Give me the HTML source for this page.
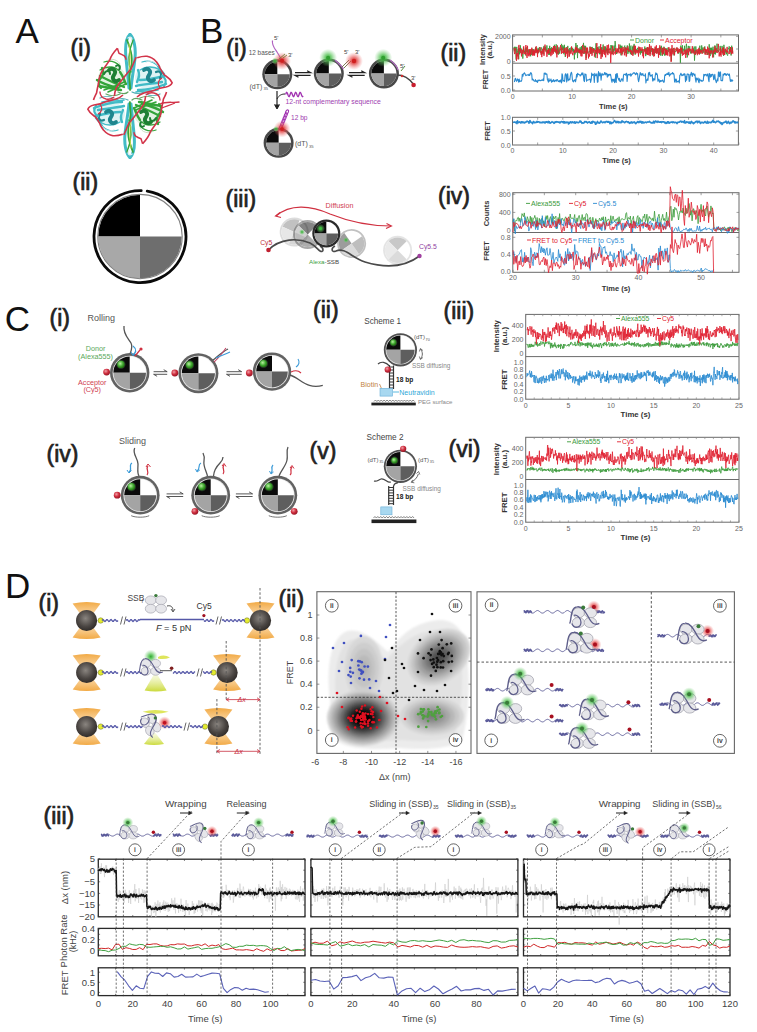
<!DOCTYPE html>
<html><head><meta charset="utf-8"><style>
html,body{margin:0;padding:0;background:#fff;overflow:hidden;}
svg{display:block;}
text{font-family:"Liberation Sans",sans-serif;}
</style></head><body>
<svg width="757" height="1032" viewBox="0 0 757 1032">
<defs>
<filter id="blur1" x="-20%" y="-20%" width="140%" height="140%"><feGaussianBlur stdDeviation="1.2"/></filter>
<radialGradient id="gG"><stop offset="0" stop-color="#2fa82f" stop-opacity="1"/><stop offset="0.35" stop-color="#4cc04c" stop-opacity="0.75"/><stop offset="1" stop-color="#7fd07f" stop-opacity="0"/></radialGradient>
<radialGradient id="gR"><stop offset="0" stop-color="#d01818" stop-opacity="1"/><stop offset="0.35" stop-color="#e04040" stop-opacity="0.75"/><stop offset="1" stop-color="#f08080" stop-opacity="0"/></radialGradient>
<radialGradient id="ball" cx="0.38" cy="0.35" r="0.7"><stop offset="0" stop-color="#f0a0a8"/><stop offset="0.5" stop-color="#d03040"/><stop offset="1" stop-color="#901020"/></radialGradient>
<radialGradient id="gball" cx="0.4" cy="0.38" r="0.65"><stop offset="0" stop-color="#b8f0a0"/><stop offset="0.6" stop-color="#40a830"/><stop offset="1" stop-color="#207010"/></radialGradient>
<radialGradient id="bead" cx="0.45" cy="0.4" r="0.65"><stop offset="0" stop-color="#8a8580"/><stop offset="0.6" stop-color="#4a4542"/><stop offset="1" stop-color="#2a2624"/></radialGradient>
<linearGradient id="coneT" x1="0" y1="0" x2="0" y2="1"><stop offset="0" stop-color="#f0a030" stop-opacity="0.9"/><stop offset="1" stop-color="#f8c070" stop-opacity="0.5"/></linearGradient>
<linearGradient id="coneB" x1="0" y1="1" x2="0" y2="0"><stop offset="0" stop-color="#f0a030" stop-opacity="0.9"/><stop offset="1" stop-color="#f8c070" stop-opacity="0.5"/></linearGradient>
<linearGradient id="ycone" x1="0" y1="1" x2="0" y2="0"><stop offset="0" stop-color="#c8d830" stop-opacity="0.95"/><stop offset="1" stop-color="#e8f0a0" stop-opacity="0.3"/></linearGradient>


<filter id="blur6" x="-50%" y="-50%" width="200%" height="200%"><feGaussianBlur stdDeviation="6"/></filter>
<filter id="blur3" x="-50%" y="-50%" width="200%" height="200%"><feGaussianBlur stdDeviation="3"/></filter>
<clipPath id="clipD2"><rect x="317.5" y="592.3" width="153" height="160.5"/></clipPath>
</defs>
<rect width="757" height="1032" fill="#fff"/>
<text x="15.6" y="42.5" font-size="35" fill="#111" text-anchor="start" font-weight="normal" >A</text>
<text x="70.5" y="56" font-size="23" fill="#222" text-anchor="start" font-weight="normal" stroke="#222" stroke-width="0.7">(i)</text>
<text x="72.5" y="189.5" font-size="23" fill="#222" text-anchor="start" font-weight="normal" stroke="#222" stroke-width="0.7">(ii)</text>
<circle cx="140" cy="236.6" r="41.8" fill="#fff"/>
<path d="M140,236.6 L98.2,236.6 A41.8,41.8 0 0 1 140,194.8 Z" fill="#000"/>
<path d="M140,236.6 L98.2,236.6 A41.8,41.8 0 0 0 140,278.4 Z" fill="#a8a8a8"/>
<path d="M140,236.6 L181.8,236.6 A41.8,41.8 0 0 1 140,278.4 Z" fill="#6e6e6e"/>
<circle cx="140" cy="236.6" r="42.199999999999996" fill="none" stroke="#808080" stroke-width="1.1"/>
<path d="M147.20,191.17 A46.0,46.0 0 1 1 141.20,190.62" fill="none" stroke="#0a0a0a" stroke-width="2.8" stroke-linecap="round"/>
<g opacity="0.95"><ellipse cx="112" cy="78" rx="14" ry="12" fill="#9ad49a" opacity="0.3"/><path d="M104,62 C110,60 116,62 120,66 M100,70 C106,66 114,66 118,70" fill="none" stroke="#2aa030" stroke-width="1.3" stroke-linecap="round" stroke-linejoin="round"/><path d="M118,92 C122,94 126,94 128,92 M106,94 C110,96 116,96 120,94" fill="none" stroke="#5aa05a" stroke-width="1.2" stroke-linecap="round" stroke-linejoin="round"/><path d="M97,80 C103,84 110,86 118,88 M99,86 C106,87 113,89 121,90 M100,76 C108,80 116,84 124,87" fill="none" stroke="#2aa030" stroke-width="2.4" stroke-linecap="round" stroke-linejoin="round"/><path d="M102,68 C104,72 103,76 100,79 M120,72 C123,76 124,80 126,84" fill="none" stroke="#2aa030" stroke-width="2.4" stroke-linecap="round" stroke-linejoin="round"/><path d="M104,90 C110,88 116,86 124,82 M108,92 L126,84" fill="none" stroke="#2aa030" stroke-width="1.6" stroke-linecap="round" stroke-linejoin="round"/><path d="M109,70 C113,67 117,71 114,75 C111,79 115,83 119,80" fill="none" stroke="#127a2a" stroke-width="3.8" stroke-linecap="round" stroke-linejoin="round"/><path d="M104,74 C106,70 110,70 110,74 M116,66 C119,64 121,67 119,70" fill="none" stroke="#127a2a" stroke-width="2.0" stroke-linecap="round" stroke-linejoin="round"/><path d="M108,60 C112,58 118,60 120,64" fill="none" stroke="#c8dcc0" stroke-width="1.0" stroke-linecap="round" stroke-linejoin="round"/><path d="M100,78 C98,82 99,86 101,88" fill="none" stroke="#2aa030" stroke-width="2.2" stroke-linecap="round" stroke-linejoin="round"/><ellipse cx="150" cy="78" rx="15" ry="12" fill="#8ad4dc" opacity="0.3"/><path d="M142,62 C148,60 154,62 158,66 M140,70 C146,66 154,66 160,70" fill="none" stroke="#38b8c4" stroke-width="1.3" stroke-linecap="round" stroke-linejoin="round"/><path d="M132,92 C136,94 140,94 144,92 M146,94 C150,96 156,96 160,94" fill="none" stroke="#4aa8b0" stroke-width="1.2" stroke-linecap="round" stroke-linejoin="round"/><path d="M136,86 C144,84 152,84 162,82 M138,90 C146,90 156,88 166,84 M140,80 C148,80 156,78 164,76" fill="none" stroke="#38b8c4" stroke-width="2.4" stroke-linecap="round" stroke-linejoin="round"/><path d="M138,70 C140,74 139,78 137,82 M158,66 C160,70 162,72 164,74" fill="none" stroke="#38b8c4" stroke-width="2.4" stroke-linecap="round" stroke-linejoin="round"/><path d="M136,92 C144,90 150,92 158,90" fill="none" stroke="#38b8c4" stroke-width="1.6" stroke-linecap="round" stroke-linejoin="round"/><path d="M144,70 C148,67 152,71 149,75 C146,79 150,83 154,80" fill="none" stroke="#148088" stroke-width="3.8" stroke-linecap="round" stroke-linejoin="round"/><path d="M156,72 C160,70 163,74 160,78" fill="none" stroke="#148088" stroke-width="2.2" stroke-linecap="round" stroke-linejoin="round"/><path d="M146,62 C150,60 156,62 158,66" fill="none" stroke="#c0e0e4" stroke-width="1.0" stroke-linecap="round" stroke-linejoin="round"/><path d="M162,76 C166,78 167,82 164,86" fill="none" stroke="#38b8c4" stroke-width="2.2" stroke-linecap="round" stroke-linejoin="round"/><path d="M130,34.5 C126,38 125,48 126,58 C127,68 128,78 129,88" fill="none" stroke="#38b8c4" stroke-width="3.0" stroke-linecap="round" stroke-linejoin="round"/><path d="M130,34.5 C134,38 136,48 135,58 C134,68 132,78 131,88" fill="none" stroke="#38b8c4" stroke-width="3.0" stroke-linecap="round" stroke-linejoin="round"/><path d="M127,40 C131,50 134,60 130,72 C128,80 131,86 130,90" fill="none" stroke="#2aa030" stroke-width="1.8" stroke-linecap="round" stroke-linejoin="round"/><path d="M133,40 C129,50 127,60 131,72" fill="none" stroke="#2aa030" stroke-width="1.5" stroke-linecap="round" stroke-linejoin="round"/><path d="M129,44 C130,52 131,60 129,70" fill="none" stroke="#d8d840" stroke-width="0.9" stroke-linecap="round" stroke-linejoin="round"/><path d="M128,38 C131,36 133,38 131,42" fill="none" stroke="#e0f0f0" stroke-width="1.2" stroke-linecap="round" stroke-linejoin="round"/><g transform="rotate(180 130 96)"><ellipse cx="112" cy="78" rx="14" ry="12" fill="#9ad49a" opacity="0.3"/><path d="M104,62 C110,60 116,62 120,66 M100,70 C106,66 114,66 118,70" fill="none" stroke="#2aa030" stroke-width="1.3" stroke-linecap="round" stroke-linejoin="round"/><path d="M118,92 C122,94 126,94 128,92 M106,94 C110,96 116,96 120,94" fill="none" stroke="#5aa05a" stroke-width="1.2" stroke-linecap="round" stroke-linejoin="round"/><path d="M97,80 C103,84 110,86 118,88 M99,86 C106,87 113,89 121,90 M100,76 C108,80 116,84 124,87" fill="none" stroke="#2aa030" stroke-width="2.4" stroke-linecap="round" stroke-linejoin="round"/><path d="M102,68 C104,72 103,76 100,79 M120,72 C123,76 124,80 126,84" fill="none" stroke="#2aa030" stroke-width="2.4" stroke-linecap="round" stroke-linejoin="round"/><path d="M104,90 C110,88 116,86 124,82 M108,92 L126,84" fill="none" stroke="#2aa030" stroke-width="1.6" stroke-linecap="round" stroke-linejoin="round"/><path d="M109,70 C113,67 117,71 114,75 C111,79 115,83 119,80" fill="none" stroke="#127a2a" stroke-width="3.8" stroke-linecap="round" stroke-linejoin="round"/><path d="M104,74 C106,70 110,70 110,74 M116,66 C119,64 121,67 119,70" fill="none" stroke="#127a2a" stroke-width="2.0" stroke-linecap="round" stroke-linejoin="round"/><path d="M108,60 C112,58 118,60 120,64" fill="none" stroke="#c8dcc0" stroke-width="1.0" stroke-linecap="round" stroke-linejoin="round"/><path d="M100,78 C98,82 99,86 101,88" fill="none" stroke="#2aa030" stroke-width="2.2" stroke-linecap="round" stroke-linejoin="round"/><ellipse cx="150" cy="78" rx="15" ry="12" fill="#8ad4dc" opacity="0.3"/><path d="M142,62 C148,60 154,62 158,66 M140,70 C146,66 154,66 160,70" fill="none" stroke="#38b8c4" stroke-width="1.3" stroke-linecap="round" stroke-linejoin="round"/><path d="M132,92 C136,94 140,94 144,92 M146,94 C150,96 156,96 160,94" fill="none" stroke="#4aa8b0" stroke-width="1.2" stroke-linecap="round" stroke-linejoin="round"/><path d="M136,86 C144,84 152,84 162,82 M138,90 C146,90 156,88 166,84 M140,80 C148,80 156,78 164,76" fill="none" stroke="#38b8c4" stroke-width="2.4" stroke-linecap="round" stroke-linejoin="round"/><path d="M138,70 C140,74 139,78 137,82 M158,66 C160,70 162,72 164,74" fill="none" stroke="#38b8c4" stroke-width="2.4" stroke-linecap="round" stroke-linejoin="round"/><path d="M136,92 C144,90 150,92 158,90" fill="none" stroke="#38b8c4" stroke-width="1.6" stroke-linecap="round" stroke-linejoin="round"/><path d="M144,70 C148,67 152,71 149,75 C146,79 150,83 154,80" fill="none" stroke="#148088" stroke-width="3.8" stroke-linecap="round" stroke-linejoin="round"/><path d="M156,72 C160,70 163,74 160,78" fill="none" stroke="#148088" stroke-width="2.2" stroke-linecap="round" stroke-linejoin="round"/><path d="M146,62 C150,60 156,62 158,66" fill="none" stroke="#c0e0e4" stroke-width="1.0" stroke-linecap="round" stroke-linejoin="round"/><path d="M162,76 C166,78 167,82 164,86" fill="none" stroke="#38b8c4" stroke-width="2.2" stroke-linecap="round" stroke-linejoin="round"/><path d="M130,34.5 C126,38 125,48 126,58 C127,68 128,78 129,88" fill="none" stroke="#38b8c4" stroke-width="3.0" stroke-linecap="round" stroke-linejoin="round"/><path d="M130,34.5 C134,38 136,48 135,58 C134,68 132,78 131,88" fill="none" stroke="#38b8c4" stroke-width="3.0" stroke-linecap="round" stroke-linejoin="round"/><path d="M127,40 C131,50 134,60 130,72 C128,80 131,86 130,90" fill="none" stroke="#2aa030" stroke-width="1.8" stroke-linecap="round" stroke-linejoin="round"/><path d="M133,40 C129,50 127,60 131,72" fill="none" stroke="#2aa030" stroke-width="1.5" stroke-linecap="round" stroke-linejoin="round"/><path d="M129,44 C130,52 131,60 129,70" fill="none" stroke="#d8d840" stroke-width="0.9" stroke-linecap="round" stroke-linejoin="round"/><path d="M128,38 C131,36 133,38 131,42" fill="none" stroke="#e0f0f0" stroke-width="1.2" stroke-linecap="round" stroke-linejoin="round"/></g><path d="M117.4,48.3 C114,52 111,56 109.8,59.8 C106,66 102,70 100.6,74.3 C99,78 98.6,80 98.6,82.3 C98,86 97,90 96.6,92.8 C95,96 94,98 93.5,100" fill="none" stroke="#d02a40" stroke-width="1.6" stroke-linejoin="round"/><path d="M117.4,48.3 C118,50 118.5,52 119,53.2 C121,54 123,55 124.3,55.9 C125.5,57 126,58 126,59.8" fill="none" stroke="#d02a40" stroke-width="1.5"/><path d="M136.2,57.2 C134,62 132.5,66 131,69 C128,72 126,75 124.3,77 C121,81 118,85 116.4,87.6 C115,91 114.5,94 114.4,96.1" fill="none" stroke="#d02a40" stroke-width="1.6"/><path d="M99.9,91.5 C100,95 102,98 106,99 C109,99.5 112,99 114,97" fill="none" stroke="#d02a40" stroke-width="1.4"/><path d="M137.2,57.7 C141,56.5 144,56 147,56.3 C151,57 154,59 156.3,61.7 C158,64 159.5,66 160,68 C161.5,71 163,73 164.3,74.9 C167,77 170,78 172.2,82.8 C171,85.5 168.5,86.5 166,87 C162,87.5 158,88.5 155,90 C151,91.5 147,92 144,93 C141,94 139,95 137,97" fill="none" stroke="#d02a40" stroke-width="1.6" stroke-linejoin="round"/><path d="M160,88 C157,84 158,80 162,78" fill="none" stroke="#d02a40" stroke-width="1.2"/><g transform="rotate(180 130 96)"><path d="M117.4,48.3 C114,52 111,56 109.8,59.8 C106,66 102,70 100.6,74.3 C99,78 98.6,80 98.6,82.3 C98,86 97,90 96.6,92.8 C95,96 94,98 93.5,100" fill="none" stroke="#d02a40" stroke-width="1.6" stroke-linejoin="round"/><path d="M117.4,48.3 C118,50 118.5,52 119,53.2 C121,54 123,55 124.3,55.9 C125.5,57 126,58 126,59.8" fill="none" stroke="#d02a40" stroke-width="1.5"/><path d="M136.2,57.2 C134,62 132.5,66 131,69 C128,72 126,75 124.3,77 C121,81 118,85 116.4,87.6 C115,91 114.5,94 114.4,96.1" fill="none" stroke="#d02a40" stroke-width="1.6"/><path d="M99.9,91.5 C100,95 102,98 106,99 C109,99.5 112,99 114,97" fill="none" stroke="#d02a40" stroke-width="1.4"/><path d="M137.2,57.7 C141,56.5 144,56 147,56.3 C151,57 154,59 156.3,61.7 C158,64 159.5,66 160,68 C161.5,71 163,73 164.3,74.9 C167,77 170,78 172.2,82.8 C171,85.5 168.5,86.5 166,87 C162,87.5 158,88.5 155,90 C151,91.5 147,92 144,93 C141,94 139,95 137,97" fill="none" stroke="#d02a40" stroke-width="1.6" stroke-linejoin="round"/><path d="M160,88 C157,84 158,80 162,78" fill="none" stroke="#d02a40" stroke-width="1.2"/></g><path d="M160,104 C166,101 172,103 179.5,102 M162,108 C167,106 171,105 175,103" fill="none" stroke="#d02a40" stroke-width="1.3"/></g>
<text x="200" y="42.5" font-size="35" fill="#111" text-anchor="start" font-weight="normal" >B</text>
<text x="226.3" y="56" font-size="23" fill="#222" text-anchor="start" font-weight="normal" stroke="#222" stroke-width="0.7">(i)</text>
<text x="440.5" y="61" font-size="23" fill="#222" text-anchor="start" font-weight="normal" stroke="#222" stroke-width="0.7">(ii)</text>
<text x="225.5" y="207" font-size="23" fill="#222" text-anchor="start" font-weight="normal" stroke="#222" stroke-width="0.7">(iii)</text>
<text x="438" y="204" font-size="23" fill="#222" text-anchor="start" font-weight="normal" stroke="#222" stroke-width="0.7">(iv)</text>
<g opacity="1.0" transform="rotate(0 277.3 74.3)"><circle cx="277.3" cy="74.3" r="15" fill="#484848"/><circle cx="277.3" cy="74.3" r="12.5" fill="#fff"/><path d="M277.3,74.3 L264.8,74.3 A12.5,12.5 0 0 1 277.3,61.8 Z" fill="#0b0b0b"/><path d="M277.3,74.3 L264.8,74.3 A12.5,12.5 0 0 0 277.3,86.8 Z" fill="#a4a4a4"/><path d="M277.3,74.3 L289.8,74.3 A12.5,12.5 0 0 1 277.3,86.8 Z" fill="#5e5e5e"/></g>
<g opacity="1.0" transform="rotate(0 328.8 73.6)"><circle cx="328.8" cy="73.6" r="15" fill="#484848"/><circle cx="328.8" cy="73.6" r="12.5" fill="#fff"/><path d="M328.8,73.6 L316.3,73.6 A12.5,12.5 0 0 1 328.8,61.099999999999994 Z" fill="#0b0b0b"/><path d="M328.8,73.6 L316.3,73.6 A12.5,12.5 0 0 0 328.8,86.1 Z" fill="#a4a4a4"/><path d="M328.8,73.6 L341.3,73.6 A12.5,12.5 0 0 1 328.8,86.1 Z" fill="#5e5e5e"/></g>
<g opacity="1.0" transform="rotate(0 383.9 73.6)"><circle cx="383.9" cy="73.6" r="15" fill="#484848"/><circle cx="383.9" cy="73.6" r="12.5" fill="#fff"/><path d="M383.9,73.6 L371.4,73.6 A12.5,12.5 0 0 1 383.9,61.099999999999994 Z" fill="#0b0b0b"/><path d="M383.9,73.6 L371.4,73.6 A12.5,12.5 0 0 0 383.9,86.1 Z" fill="#a4a4a4"/><path d="M383.9,73.6 L396.4,73.6 A12.5,12.5 0 0 1 383.9,86.1 Z" fill="#5e5e5e"/></g>
<g opacity="1.0" transform="rotate(0 278.6 142.8)"><circle cx="278.6" cy="142.8" r="15" fill="#484848"/><circle cx="278.6" cy="142.8" r="12.5" fill="#fff"/><path d="M278.6,142.8 L266.1,142.8 A12.5,12.5 0 0 1 278.6,130.3 Z" fill="#0b0b0b"/><path d="M278.6,142.8 L266.1,142.8 A12.5,12.5 0 0 0 278.6,155.3 Z" fill="#a4a4a4"/><path d="M278.6,142.8 L291.1,142.8 A12.5,12.5 0 0 1 278.6,155.3 Z" fill="#5e5e5e"/></g>
<text x="248.7" y="54.6" font-size="6.4" fill="#555" text-anchor="start" font-weight="normal" >12 bases</text>
<path d="M272.5,40.5 C271.5,45 275,49 277,52 C279,55 280,57 281,59" stroke="#b060c0" stroke-width="1.2" fill="none" />
<text x="274" y="40" font-size="6" fill="#444" text-anchor="start" font-weight="normal" >5'</text>
<text x="288" y="57" font-size="6" fill="#444" text-anchor="start" font-weight="normal" >3'</text>
<circle cx="282" cy="61" r="9" fill="url(#gR)" />
<circle cx="282" cy="60.5" r="2" fill="#d02020" />
<circle cx="275" cy="61" r="3.5" fill="url(#gG)" />
<path d="M279,59 L285,54 M283,58 L287,55" stroke="#6a8030" stroke-width="0.8" fill="none" />
<text x="249.5" y="88.5" font-size="7" fill="#555" text-anchor="start" font-weight="normal" >(dT)</text>
<text x="263.5" y="90" font-size="4.2" fill="#555" text-anchor="start" font-weight="normal" >35</text>
<path d="M295,72.7 L310.6,72.7 L307.1,70.7" fill="none" stroke="#222" stroke-width="1.3"/>
<path d="M310.6,75.3 L295,75.3 L298.5,77.3" fill="none" stroke="#222" stroke-width="1.3"/>
<path d="M349,72.7 L364.7,72.7 L361.2,70.7" fill="none" stroke="#222" stroke-width="1.3"/>
<path d="M364.7,75.3 L349,75.3 L352.5,77.3" fill="none" stroke="#222" stroke-width="1.3"/>
<circle cx="328.1" cy="57.8" r="9" fill="url(#gG)" />
<circle cx="328.1" cy="57.8" r="2" fill="#30a030" />
<path d="M335,60 C339,64 342,66 343.5,69" stroke="#b070c0" stroke-width="1.3" fill="none" />
<path d="M342,67 L349,60 M344,68 L351,61" stroke="#6a6a40" stroke-width="0.9" fill="none" />
<circle cx="354" cy="61" r="9" fill="url(#gR)" />
<circle cx="354" cy="61" r="2.2" fill="#d02020" />
<text x="344" y="54" font-size="6" fill="#444" text-anchor="start" font-weight="normal" >5'</text>
<text x="355" y="54" font-size="6" fill="#444" text-anchor="start" font-weight="normal" >3'</text>
<circle cx="383.2" cy="57.8" r="9" fill="url(#gG)" />
<circle cx="383.2" cy="57.8" r="2" fill="#30a030" />
<path d="M390,60 C394,63 397,66 398,70" stroke="#b070c0" stroke-width="1.3" fill="none" />
<path d="M397,75 C403,75 409,78 413.6,84.5" stroke="#444" stroke-width="1.3" fill="none" />
<circle cx="413.6" cy="85" r="2.3" fill="#c81e2e" />
<path d="M401,71 L405,66" stroke="#5a9040" stroke-width="1" fill="none" />
<circle cx="402" cy="76" r="1.2" fill="#d03030" />
<text x="400" y="68" font-size="6" fill="#444" text-anchor="start" font-weight="normal" >5'</text>
<text x="411" y="80" font-size="6" fill="#444" text-anchor="start" font-weight="normal" >3'</text>
<path d="M277,91 L277,108" stroke="#222" stroke-width="1.2" fill="none" />
<path d="M274.5,104.5 L277,109 L279.5,104.5" stroke="#222" stroke-width="1.0" fill="#222" />
<path d="M277,99 C279,95 282,94 285,94" stroke="#222" stroke-width="1.0" fill="none" />
<path d="M285.6,94.5 L285.6,94.5 L286.1,93.1 L286.6,92.3 L287.1,92.6 L287.6,93.7 L288.1,95.3 L288.6,96.4 L289.1,96.7 L289.6,95.9 L290.1,94.5 L290.6,93.1 L291.1,92.3 L291.6,92.6 L292.1,93.7 L292.6,95.3 L293.1,96.4 L293.6,96.7 L294.1,95.9 L294.6,94.5 L295.1,93.1 L295.6,92.3 L296.1,92.6 L296.6,93.7 L297.1,95.3 L297.6,96.4 L298.1,96.7 L298.6,95.9 L299.1,94.5 L299.6,93.1 L300.1,92.3 L300.6,92.6 L301.1,93.7 L301.6,95.3 L302.1,96.4 L302.6,96.7 L303.1,95.9" stroke="#a030b0" stroke-width="1.3" fill="none" />
<text x="285.6" y="103.8" font-size="6.8" fill="#a040b0" text-anchor="start" font-weight="normal" >12-nt complementary sequence</text>
<ellipse cx="281.0" cy="127" rx="2.2" ry="1.3" fill="none" stroke="#a030b0" stroke-width="1.1" transform="rotate(-60 281.0 127)"/>
<ellipse cx="282.2" cy="124" rx="2.2" ry="1.3" fill="none" stroke="#a030b0" stroke-width="1.1" transform="rotate(-60 282.2 124)"/>
<ellipse cx="283.4" cy="121" rx="2.2" ry="1.3" fill="none" stroke="#a030b0" stroke-width="1.1" transform="rotate(-60 283.4 121)"/>
<ellipse cx="284.6" cy="118" rx="2.2" ry="1.3" fill="none" stroke="#a030b0" stroke-width="1.1" transform="rotate(-60 284.6 118)"/>
<ellipse cx="285.8" cy="115" rx="2.2" ry="1.3" fill="none" stroke="#a030b0" stroke-width="1.1" transform="rotate(-60 285.8 115)"/>
<ellipse cx="287.0" cy="112" rx="2.2" ry="1.3" fill="none" stroke="#a030b0" stroke-width="1.1" transform="rotate(-60 287.0 112)"/>
<text x="291" y="120.3" font-size="6.6" fill="#a040b0" text-anchor="start" font-weight="normal" >12 bp</text>
<circle cx="282" cy="129" r="8.5" fill="url(#gR)" />
<circle cx="282" cy="129" r="1.8" fill="#d02020" />
<circle cx="276" cy="129" r="3" fill="url(#gG)" />
<text x="295" y="146" font-size="7" fill="#555" text-anchor="start" font-weight="normal" >(dT)</text>
<text x="309" y="147.5" font-size="4.2" fill="#555" text-anchor="start" font-weight="normal" >35</text>
<g opacity="0.25" transform="rotate(25 294.2 232)"><circle cx="294.2" cy="232" r="14.5" fill="#777"/><circle cx="294.2" cy="232" r="12.7" fill="#fff"/><path d="M294.2,232 L281.5,232 A12.7,12.7 0 0 1 294.2,219.3 Z" fill="#0b0b0b"/><path d="M294.2,232 L281.5,232 A12.7,12.7 0 0 0 294.2,244.7 Z" fill="#a4a4a4"/><path d="M294.2,232 L306.9,232 A12.7,12.7 0 0 1 294.2,244.7 Z" fill="#5e5e5e"/></g>
<g opacity="0.5" transform="rotate(45 307.6 234.5)"><circle cx="307.6" cy="234.5" r="14.5" fill="#555"/><circle cx="307.6" cy="234.5" r="12.5" fill="#fff"/><path d="M307.6,234.5 L295.1,234.5 A12.5,12.5 0 0 1 307.6,222.0 Z" fill="#0b0b0b"/><path d="M307.6,234.5 L295.1,234.5 A12.5,12.5 0 0 0 307.6,247.0 Z" fill="#a4a4a4"/><path d="M307.6,234.5 L320.1,234.5 A12.5,12.5 0 0 1 307.6,247.0 Z" fill="#5e5e5e"/></g>
<g opacity="0.4" transform="rotate(-35 351.6 243.5)"><circle cx="351.6" cy="243.5" r="14.5" fill="#666"/><circle cx="351.6" cy="243.5" r="12.7" fill="#fff"/><path d="M351.6,243.5 L338.90000000000003,243.5 A12.7,12.7 0 0 1 351.6,230.8 Z" fill="#0b0b0b"/><path d="M351.6,243.5 L338.90000000000003,243.5 A12.7,12.7 0 0 0 351.6,256.2 Z" fill="#a4a4a4"/><path d="M351.6,243.5 L364.3,243.5 A12.7,12.7 0 0 1 351.6,256.2 Z" fill="#5e5e5e"/></g>
<g opacity="0.22" transform="rotate(45 397.6 250.2)"><circle cx="397.6" cy="250.2" r="14.5" fill="#888"/><circle cx="397.6" cy="250.2" r="12.7" fill="#fff"/><path d="M397.6,250.2 L384.90000000000003,250.2 A12.7,12.7 0 0 1 397.6,237.5 Z" fill="#0b0b0b"/><path d="M397.6,250.2 L384.90000000000003,250.2 A12.7,12.7 0 0 0 397.6,262.9 Z" fill="#a4a4a4"/><path d="M397.6,250.2 L410.3,250.2 A12.7,12.7 0 0 1 397.6,262.9 Z" fill="#5e5e5e"/></g>
<path d="M268.5,250 C280,238 298,238 310,243 C316,246 318,250 320,251 C324,253 324,248 320,246" stroke="#4a4a4a" stroke-width="1.6" fill="none" />
<path d="M335,246 C331,248 331,253 336,251 C345,247 352,258 365,262 C385,268 405,267 419.5,256" stroke="#4a4a4a" stroke-width="1.6" fill="none" />
<g opacity="1.0" transform="rotate(0 326.3 233.5)"><circle cx="326.3" cy="233.5" r="14" fill="#2a2a2a"/><circle cx="326.3" cy="233.5" r="11.8" fill="#fff"/><path d="M326.3,233.5 L314.5,233.5 A11.8,11.8 0 0 1 326.3,221.7 Z" fill="#0b0b0b"/><path d="M326.3,233.5 L314.5,233.5 A11.8,11.8 0 0 0 326.3,245.3 Z" fill="#a4a4a4"/><path d="M326.3,233.5 L338.1,233.5 A11.8,11.8 0 0 1 326.3,245.3 Z" fill="#5e5e5e"/></g>
<circle cx="320.5" cy="228.5" r="4.5" fill="url(#gG)" />
<circle cx="320.5" cy="228.5" r="1.5" fill="#40c040" />
<circle cx="302" cy="232" r="3" fill="url(#gG)" />
<circle cx="346" cy="240" r="3" fill="url(#gG)" />
<circle cx="268.5" cy="250" r="2.3" fill="#c02030" />
<circle cx="419.5" cy="256" r="2.2" fill="#a040a0" />
<text x="260.2" y="245" font-size="6.8" fill="#c03040" text-anchor="start" font-weight="normal" >Cy5</text>
<text x="419" y="248.5" font-size="6.8" fill="#9040a0" text-anchor="start" font-weight="normal" >Cy5.5</text>
<text x="309" y="263.5" font-size="6.2" fill="#40a040" text-anchor="start" font-weight="normal" >Alexa</text>
<text x="324.6" y="263.5" font-size="6.2" fill="#444" text-anchor="start" font-weight="normal" >-SSB</text>
<path d="M276,216 C290,204 310,205 330,214 C350,222 370,226 391,226" stroke="#d03040" stroke-width="1.2" fill="none" />
<path d="M280,212.5 L275.5,216 L281,217.5" stroke="#d03040" stroke-width="1.1" fill="none" />
<path d="M386.5,223.5 L391.5,226 L386,228.5" stroke="#d03040" stroke-width="1.1" fill="none" />
<text x="325.6" y="208" font-size="7.2" fill="#d04050" text-anchor="start" font-weight="normal" >Diffusion</text>
<rect x="512.6" y="34.9" width="225.89999999999998" height="56.1" stroke="#6a6a6a" stroke-width="1.0" fill="none" />
<line x1="512.6" y1="63.2" x2="738.5" y2="63.2" stroke="#6a6a6a" stroke-width="1" />
<line x1="512.6" y1="91" x2="512.6" y2="88.5" stroke="#777" stroke-width="0.7" />
<line x1="512.6" y1="34.9" x2="512.6" y2="37.4" stroke="#777" stroke-width="0.7" />
<line x1="572.1" y1="91" x2="572.1" y2="88.5" stroke="#777" stroke-width="0.7" />
<line x1="572.1" y1="34.9" x2="572.1" y2="37.4" stroke="#777" stroke-width="0.7" />
<line x1="631.6" y1="91" x2="631.6" y2="88.5" stroke="#777" stroke-width="0.7" />
<line x1="631.6" y1="34.9" x2="631.6" y2="37.4" stroke="#777" stroke-width="0.7" />
<line x1="691.1" y1="91" x2="691.1" y2="88.5" stroke="#777" stroke-width="0.7" />
<line x1="691.1" y1="34.9" x2="691.1" y2="37.4" stroke="#777" stroke-width="0.7" />
<line x1="542.35" y1="91" x2="542.35" y2="88.5" stroke="#777" stroke-width="0.7" />
<line x1="542.35" y1="34.9" x2="542.35" y2="37.4" stroke="#777" stroke-width="0.7" />
<line x1="601.85" y1="91" x2="601.85" y2="88.5" stroke="#777" stroke-width="0.7" />
<line x1="601.85" y1="34.9" x2="601.85" y2="37.4" stroke="#777" stroke-width="0.7" />
<line x1="661.35" y1="91" x2="661.35" y2="88.5" stroke="#777" stroke-width="0.7" />
<line x1="661.35" y1="34.9" x2="661.35" y2="37.4" stroke="#777" stroke-width="0.7" />
<line x1="720.85" y1="91" x2="720.85" y2="88.5" stroke="#777" stroke-width="0.7" />
<line x1="720.85" y1="34.9" x2="720.85" y2="37.4" stroke="#777" stroke-width="0.7" />
<line x1="512.6" y1="36.3" x2="515.1" y2="36.3" stroke="#777" stroke-width="0.7" />
<line x1="738.5" y1="36.3" x2="736.0" y2="36.3" stroke="#777" stroke-width="0.7" />
<line x1="512.6" y1="49" x2="515.1" y2="49" stroke="#777" stroke-width="0.7" />
<line x1="738.5" y1="49" x2="736.0" y2="49" stroke="#777" stroke-width="0.7" />
<line x1="512.6" y1="61.7" x2="515.1" y2="61.7" stroke="#777" stroke-width="0.7" />
<line x1="738.5" y1="61.7" x2="736.0" y2="61.7" stroke="#777" stroke-width="0.7" />
<line x1="512.6" y1="76" x2="515.1" y2="76" stroke="#777" stroke-width="0.7" />
<line x1="738.5" y1="76" x2="736.0" y2="76" stroke="#777" stroke-width="0.7" />
<line x1="512.6" y1="90" x2="515.1" y2="90" stroke="#777" stroke-width="0.7" />
<line x1="738.5" y1="90" x2="736.0" y2="90" stroke="#777" stroke-width="0.7" />
<polyline points="514.0,47.1 514.3,51.3 514.6,46.8 514.9,50.1 515.3,47.1 515.6,46.9 515.9,54.3 516.2,59.6 516.5,48.2 516.8,46.9 517.1,53.3 517.4,52.1 517.8,50.9 518.1,48.9 518.4,48.7 518.7,59.2 519.0,49.7 519.3,48.1 519.6,54.3 519.9,52.2 520.3,45.3 520.6,48.1 520.9,52.7 521.2,51.1 521.5,48.7 521.8,49.6 522.1,50.1 522.4,50.7 522.8,58.6 523.1,53.3 523.4,47.6 523.7,49.2 524.0,52.8 524.3,53.0 524.6,50.7 525.0,52.3 525.3,48.5 525.6,55.4 525.9,52.5 526.2,47.3 526.5,50.7 526.8,52.2 527.1,50.0 527.5,51.2 527.8,50.4 528.1,53.8 528.4,53.2 528.7,49.5 529.0,50.9 529.3,51.6 529.6,50.3 530.0,52.0 530.3,52.4 530.6,56.3 530.9,50.9 531.2,50.8 531.5,50.1 531.8,55.1 532.1,48.8 532.5,54.0 532.8,49.5 533.1,49.6 533.4,50.3 533.7,49.3 534.0,52.3 534.3,50.9 534.6,51.5 535.0,51.0 535.3,49.9 535.6,47.1 535.9,52.9 536.2,48.9 536.5,48.6 536.8,51.0 537.2,51.3 537.5,50.3 537.8,53.7 538.1,47.8 538.4,52.4 538.7,49.0 539.0,52.1 539.3,48.3 539.7,47.0 540.0,48.7 540.3,49.4 540.6,49.6 540.9,53.3 541.2,47.4 541.5,47.8 541.8,48.9 542.2,50.3 542.5,49.6 542.8,50.8 543.1,54.3 543.4,53.0 543.7,49.3 544.0,45.9 544.3,49.8 544.7,48.3 545.0,50.3 545.3,47.1 545.6,46.8 545.9,50.7 546.2,52.1 546.5,51.9 546.9,45.4 547.2,50.0 547.5,51.8 547.8,50.9 548.1,52.9 548.4,48.3 548.7,54.8 549.0,50.9 549.4,54.6 549.7,45.8 550.0,54.6 550.3,50.5 550.6,48.2 550.9,51.6 551.2,50.1 551.5,47.3 551.9,48.3 552.2,50.4 552.5,50.6 552.8,51.2 553.1,52.1 553.4,46.7 553.7,49.8 554.0,51.7 554.4,44.8 554.7,50.0 555.0,48.9 555.3,52.4 555.6,48.9 555.9,52.1 556.2,44.3 556.5,51.4 556.9,54.3 557.2,49.9 557.5,48.5 557.8,53.5 558.1,49.8 558.4,54.6 558.7,47.5 559.1,47.2 559.4,51.5 559.7,53.7 560.0,51.1 560.3,50.6 560.6,48.9 560.9,49.4 561.2,45.4 561.6,43.9 561.9,50.6 562.2,48.1 562.5,49.9 562.8,45.3 563.1,49.6 563.4,46.6 563.7,53.7 564.1,54.3 564.4,44.8 564.7,51.2 565.0,53.3 565.3,57.0 565.6,51.5 565.9,51.3 566.2,47.1 566.6,53.2 566.9,51.6 567.2,52.1 567.5,49.3 567.8,45.9 568.1,52.2 568.4,49.6 568.8,51.8 569.1,52.3 569.4,55.8 569.7,48.0 570.0,53.1 570.3,52.5 570.6,52.4 570.9,47.5 571.3,49.7 571.6,48.8 571.9,50.0 572.2,48.2 572.5,47.8 572.8,51.4 573.1,48.8 573.4,52.1 573.8,49.0 574.1,52.1 574.4,59.4 574.7,50.6 575.0,54.4 575.3,51.6 575.6,47.9 575.9,43.0 576.3,52.5 576.6,51.3 576.9,48.0 577.2,45.0 577.5,58.1 577.8,49.7 578.1,50.3 578.4,52.7 578.8,48.6 579.1,51.0 579.4,51.6 579.7,49.0 580.0,47.3 580.3,47.2 580.6,50.9 581.0,54.3 581.3,50.6 581.6,46.2 581.9,51.5 582.2,46.2 582.5,53.0 582.8,52.6 583.1,47.5 583.5,42.9 583.8,50.1 584.1,53.9 584.4,48.0 584.7,45.7 585.0,53.4 585.3,50.7 585.6,45.9 586.0,52.4 586.3,58.2 586.6,50.9 586.9,49.8 587.2,49.7 587.5,52.0 587.8,53.0 588.1,51.7 588.5,52.2 588.8,52.1 589.1,51.8 589.4,51.5 589.7,52.3 590.0,46.5 590.3,47.3 590.6,49.3 591.0,54.0 591.3,47.5 591.6,52.6 591.9,49.3 592.2,46.9 592.5,49.4 592.8,49.7 593.2,52.8 593.5,48.2 593.8,50.5 594.1,50.3 594.4,49.7 594.7,48.5 595.0,53.5 595.3,57.7 595.7,49.7 596.0,43.3 596.3,51.3 596.6,54.1 596.9,48.7 597.2,51.7 597.5,47.0 597.8,47.7 598.2,50.8 598.5,48.9 598.8,47.8 599.1,46.3 599.4,52.5 599.7,54.3 600.0,49.0 600.3,53.8 600.7,47.4 601.0,49.7 601.3,54.2 601.6,47.4 601.9,47.0 602.2,56.0 602.5,49.5 602.9,46.4 603.2,44.5 603.5,51.3 603.8,51.9 604.1,48.8 604.4,52.1 604.7,53.5 605.0,46.8 605.4,52.6 605.7,46.5 606.0,49.1 606.3,51.2 606.6,48.5 606.9,49.0 607.2,51.8 607.5,53.7 607.9,48.8 608.2,53.2 608.5,51.4 608.8,49.1 609.1,49.7 609.4,49.4 609.7,49.5 610.0,48.3 610.4,49.9 610.7,47.8 611.0,45.0 611.3,47.8 611.6,45.9 611.9,52.1 612.2,45.4 612.5,53.9 612.9,48.7 613.2,52.2 613.5,49.0 613.8,51.4 614.1,45.5 614.4,49.0 614.7,50.6 615.1,41.1 615.4,44.1 615.7,47.5 616.0,53.3 616.3,51.6 616.6,54.0 616.9,52.4 617.2,49.3 617.6,49.2 617.9,50.3 618.2,52.1 618.5,50.5 618.8,47.7 619.1,48.8 619.4,47.6 619.7,48.8 620.1,44.7 620.4,47.7 620.7,45.9 621.0,55.3 621.3,46.1 621.6,49.1 621.9,45.7 622.2,52.9 622.6,53.7 622.9,51.1 623.2,51.8 623.5,51.2 623.8,50.1 624.1,47.6 624.4,46.8 624.8,45.6 625.1,50.8 625.4,48.1 625.7,52.9 626.0,47.5 626.3,50.1 626.6,55.5 626.9,47.0 627.3,45.4 627.6,48.7 627.9,53.9 628.2,49.2 628.5,52.0 628.8,48.3 629.1,52.4 629.4,43.5 629.8,50.5 630.1,49.4 630.4,54.2 630.7,46.3 631.0,45.6 631.3,52.8 631.6,53.8 631.9,54.8 632.3,50.1 632.6,46.7 632.9,52.5 633.2,45.7 633.5,49.8 633.8,54.4 634.1,43.9 634.5,51.5 634.8,48.8 635.1,54.6 635.4,54.4 635.7,52.9 636.0,48.8 636.3,50.0 636.6,49.9 637.0,51.2 637.3,49.7 637.6,47.9 637.9,48.0 638.2,52.1 638.5,50.0 638.8,49.9 639.1,50.5 639.5,47.3 639.8,52.4 640.1,53.3 640.4,54.5 640.7,49.0 641.0,51.2 641.3,52.6 641.6,49.8 642.0,53.2 642.3,49.4 642.6,51.1 642.9,49.2 643.2,53.2 643.5,51.8 643.8,51.3 644.1,49.4 644.5,50.8 644.8,46.5 645.1,50.0 645.4,48.5 645.7,56.1 646.0,48.4 646.3,54.4 646.7,48.3 647.0,49.9 647.3,47.2 647.6,51.5 647.9,49.9 648.2,51.4 648.5,48.1 648.8,49.7 649.2,46.9 649.5,50.0 649.8,54.3 650.1,50.2 650.4,54.0 650.7,50.9 651.0,47.6 651.3,50.6 651.7,51.7 652.0,48.8 652.3,50.0 652.6,48.4 652.9,55.6 653.2,52.5 653.5,52.1 653.8,48.9 654.2,54.2 654.5,50.4 654.8,49.2 655.1,51.5 655.4,47.7 655.7,51.0 656.0,51.7 656.4,50.3 656.7,53.3 657.0,48.3 657.3,52.6 657.6,52.5 657.9,49.6 658.2,51.5 658.5,54.6 658.9,51.8 659.2,47.8 659.5,52.0 659.8,54.8 660.1,46.8 660.4,49.2 660.7,55.6 661.0,48.5 661.4,45.8 661.7,52.4 662.0,49.4 662.3,55.9 662.6,51.1 662.9,48.0 663.2,51.3 663.5,54.2 663.9,46.7 664.2,50.5 664.5,55.5 664.8,54.8 665.1,53.8 665.4,55.2 665.7,48.3 666.0,52.0 666.4,48.5 666.7,52.2 667.0,53.5 667.3,53.1 667.6,51.6 667.9,47.7 668.2,49.0 668.6,51.8 668.9,50.5 669.2,48.9 669.5,50.0 669.8,49.3 670.1,53.0 670.4,53.1 670.7,53.8 671.1,51.8 671.4,61.1 671.7,48.5 672.0,52.6 672.3,52.0 672.6,50.2 672.9,50.9 673.2,49.7 673.6,48.1 673.9,55.4 674.2,52.9 674.5,53.3 674.8,51.9 675.1,51.2 675.4,50.8 675.7,51.8 676.1,50.9 676.4,47.8 676.7,48.7 677.0,49.3 677.3,49.2 677.6,48.5 677.9,53.1 678.2,50.0 678.6,53.6 678.9,51.3 679.2,50.6 679.5,49.2 679.8,50.3 680.1,52.4 680.4,62.8 680.8,45.6 681.1,51.9 681.4,50.4 681.7,47.8 682.0,53.2 682.3,45.2 682.6,50.1 682.9,51.8 683.3,49.8 683.6,48.8 683.9,49.1 684.2,51.3 684.5,45.8 684.8,50.9 685.1,49.6 685.4,51.4 685.8,54.7 686.1,46.1 686.4,43.8 686.7,47.3 687.0,48.9 687.3,57.4 687.6,52.1 687.9,51.1 688.3,45.9 688.6,47.7 688.9,50.1 689.2,48.4 689.5,47.3 689.8,46.3 690.1,51.1 690.5,53.3 690.8,53.4 691.1,50.2 691.4,53.3 691.7,51.9 692.0,52.3 692.3,50.9 692.6,50.6 693.0,50.1 693.3,48.4 693.6,50.4 693.9,53.2 694.2,46.5 694.5,60.6 694.8,54.5 695.1,50.1 695.5,54.7 695.8,46.4 696.1,51.9 696.4,52.0 696.7,51.6 697.0,53.3 697.3,50.9 697.6,53.1 698.0,54.2 698.3,50.1 698.6,49.5 698.9,50.9 699.2,50.2 699.5,50.8 699.8,45.7 700.1,53.9 700.5,49.3 700.8,51.4 701.1,50.7 701.4,52.0 701.7,45.4 702.0,51.8 702.3,53.1 702.7,47.6 703.0,48.6 703.3,50.4 703.6,51.0 703.9,52.9 704.2,47.0 704.5,49.9 704.8,46.4 705.2,54.0 705.5,48.9 705.8,50.7 706.1,52.3 706.4,51.8 706.7,52.8 707.0,51.4 707.3,54.9 707.7,52.3 708.0,53.5 708.3,53.4 708.6,50.0 708.9,54.9 709.2,44.3 709.5,50.7 709.8,51.3 710.2,56.1 710.5,47.8 710.8,53.6 711.1,54.2 711.4,47.7 711.7,51.6 712.0,48.5 712.4,54.4 712.7,54.2 713.0,46.7 713.3,53.8 713.6,57.3 713.9,49.6 714.2,50.0 714.5,54.1 714.9,45.4 715.2,46.0 715.5,54.4 715.8,48.7 716.1,48.0 716.4,51.7 716.7,52.1 717.0,43.7 717.4,49.8 717.7,51.4 718.0,50.2 718.3,52.1 718.6,50.5 718.9,50.2 719.2,50.4 719.5,49.2 719.9,48.6 720.2,45.9 720.5,54.9 720.8,50.8 721.1,51.2 721.4,51.7 721.7,48.5 722.0,45.9 722.4,47.7 722.7,53.1 723.0,47.6 723.3,53.4 723.6,55.9 723.9,44.8 724.2,48.4 724.6,55.0 724.9,53.8 725.2,51.2 725.5,48.8 725.8,52.4 726.1,50.2 726.4,54.0 726.7,52.3 727.1,54.9 727.4,55.4 727.7,55.7 728.0,50.1 728.3,48.2 728.6,48.7 728.9,48.8 729.2,46.3 729.6,51.0 729.9,50.0 730.2,52.3 730.5,47.3 730.8,52.8 731.1,55.5 731.4,50.2 731.7,45.7 732.1,49.2 732.4,52.8 732.7,51.4 733.0,51.4" fill="none" stroke="#3a9a3a" stroke-width="0.9" stroke-linejoin="round" />
<polyline points="514.0,47.8 514.3,52.1 514.6,54.1 514.9,51.7 515.3,50.3 515.6,48.3 515.9,53.3 516.2,53.8 516.5,60.8 516.8,53.3 517.1,56.5 517.4,54.6 517.8,52.9 518.1,59.3 518.4,47.9 518.7,45.7 519.0,44.9 519.3,49.0 519.6,50.5 519.9,51.5 520.3,48.0 520.6,52.2 520.9,53.0 521.2,52.4 521.5,56.4 521.8,49.7 522.1,51.5 522.4,53.9 522.8,51.7 523.1,49.9 523.4,52.1 523.7,46.3 524.0,54.2 524.3,53.5 524.6,53.6 525.0,52.0 525.3,54.3 525.6,52.5 525.9,45.0 526.2,52.5 526.5,54.5 526.8,56.7 527.1,57.9 527.5,45.8 527.8,53.5 528.1,55.7 528.4,53.4 528.7,53.2 529.0,56.4 529.3,49.2 529.6,54.9 530.0,54.6 530.3,49.1 530.6,54.7 530.9,54.7 531.2,52.7 531.5,50.2 531.8,47.7 532.1,51.4 532.5,55.5 532.8,53.6 533.1,49.8 533.4,54.8 533.7,51.1 534.0,55.8 534.3,50.5 534.6,55.3 535.0,48.9 535.3,48.7 535.6,48.3 535.9,53.2 536.2,46.2 536.5,52.2 536.8,49.1 537.2,49.2 537.5,57.1 537.8,50.6 538.1,50.6 538.4,50.0 538.7,52.7 539.0,51.0 539.3,50.2 539.7,50.1 540.0,47.4 540.3,51.1 540.6,52.0 540.9,53.2 541.2,55.0 541.5,51.2 541.8,57.1 542.2,50.7 542.5,49.5 542.8,53.5 543.1,50.2 543.4,47.5 543.7,51.5 544.0,55.8 544.3,52.9 544.7,52.4 545.0,44.6 545.3,50.5 545.6,49.4 545.9,49.1 546.2,51.5 546.5,52.0 546.9,56.8 547.2,54.8 547.5,50.2 547.8,53.4 548.1,50.2 548.4,53.5 548.7,48.6 549.0,50.0 549.4,50.2 549.7,49.6 550.0,53.3 550.3,52.1 550.6,53.5 550.9,56.2 551.2,53.2 551.5,48.9 551.9,54.8 552.2,54.8 552.5,47.9 552.8,52.4 553.1,51.9 553.4,53.7 553.7,46.0 554.0,51.0 554.4,51.4 554.7,49.8 555.0,46.0 555.3,47.8 555.6,51.4 555.9,49.5 556.2,53.3 556.5,50.5 556.9,57.4 557.2,49.2 557.5,45.5 557.8,48.6 558.1,53.5 558.4,52.2 558.7,52.2 559.1,51.9 559.4,51.7 559.7,50.1 560.0,48.2 560.3,47.3 560.6,45.2 560.9,49.6 561.2,49.4 561.6,53.8 561.9,47.5 562.2,51.1 562.5,52.3 562.8,53.0 563.1,51.4 563.4,52.9 563.7,53.1 564.1,49.4 564.4,52.5 564.7,47.9 565.0,49.1 565.3,48.5 565.6,56.1 565.9,53.7 566.2,52.5 566.6,53.6 566.9,48.3 567.2,47.1 567.5,58.2 567.8,49.1 568.1,51.7 568.4,51.2 568.8,53.9 569.1,56.9 569.4,54.6 569.7,54.9 570.0,50.2 570.3,53.0 570.6,53.4 570.9,53.8 571.3,52.2 571.6,46.4 571.9,50.7 572.2,53.4 572.5,52.8 572.8,55.2 573.1,53.2 573.4,52.8 573.8,52.8 574.1,51.0 574.4,52.8 574.7,50.0 575.0,52.9 575.3,47.7 575.6,49.1 575.9,50.5 576.3,46.6 576.6,52.2 576.9,52.3 577.2,50.5 577.5,49.6 577.8,48.2 578.1,51.1 578.4,52.2 578.8,50.3 579.1,51.6 579.4,53.3 579.7,49.3 580.0,51.4 580.3,52.9 580.6,49.4 581.0,56.2 581.3,50.3 581.6,52.9 581.9,56.4 582.2,54.7 582.5,52.2 582.8,44.9 583.1,50.7 583.5,53.6 583.8,52.3 584.1,52.1 584.4,50.6 584.7,47.1 585.0,52.8 585.3,51.3 585.6,51.7 586.0,60.0 586.3,53.4 586.6,47.6 586.9,54.1 587.2,52.2 587.5,47.7 587.8,50.1 588.1,53.2 588.5,58.4 588.8,53.4 589.1,56.0 589.4,56.6 589.7,53.9 590.0,47.0 590.3,48.4 590.6,53.7 591.0,50.2 591.3,47.4 591.6,50.6 591.9,55.8 592.2,55.1 592.5,52.0 592.8,48.9 593.2,51.7 593.5,48.4 593.8,50.8 594.1,50.0 594.4,56.6 594.7,53.7 595.0,52.3 595.3,51.1 595.7,49.8 596.0,53.0 596.3,52.2 596.6,47.5 596.9,43.1 597.2,58.1 597.5,50.3 597.8,47.4 598.2,53.3 598.5,52.1 598.8,50.1 599.1,49.0 599.4,51.0 599.7,52.8 600.0,50.9 600.3,50.0 600.7,44.1 601.0,58.9 601.3,53.5 601.6,48.8 601.9,51.3 602.2,57.1 602.5,50.2 602.9,53.5 603.2,54.1 603.5,50.2 603.8,50.7 604.1,46.1 604.4,52.1 604.7,54.8 605.0,50.2 605.4,55.8 605.7,57.3 606.0,52.8 606.3,53.2 606.6,49.0 606.9,50.0 607.2,45.1 607.5,50.6 607.9,55.1 608.2,50.7 608.5,44.6 608.8,48.1 609.1,51.0 609.4,53.2 609.7,53.3 610.0,48.8 610.4,50.2 610.7,62.8 611.0,54.6 611.3,51.6 611.6,54.3 611.9,54.1 612.2,51.3 612.5,46.2 612.9,46.3 613.2,55.1 613.5,53.2 613.8,52.8 614.1,51.4 614.4,53.2 614.7,53.1 615.1,53.9 615.4,54.5 615.7,47.9 616.0,50.8 616.3,52.2 616.6,50.3 616.9,50.6 617.2,48.4 617.6,52.6 617.9,53.3 618.2,51.6 618.5,51.8 618.8,44.4 619.1,50.6 619.4,52.1 619.7,53.1 620.1,53.4 620.4,48.3 620.7,52.5 621.0,53.1 621.3,51.0 621.6,48.1 621.9,55.3 622.2,50.3 622.6,52.1 622.9,46.9 623.2,49.7 623.5,51.1 623.8,49.2 624.1,50.1 624.4,55.3 624.8,51.1 625.1,47.1 625.4,52.9 625.7,53.6 626.0,55.4 626.3,56.6 626.6,48.2 626.9,49.7 627.3,48.7 627.6,50.0 627.9,46.3 628.2,48.3 628.5,51.2 628.8,49.7 629.1,51.4 629.4,50.5 629.8,50.4 630.1,50.5 630.4,49.9 630.7,52.4 631.0,50.0 631.3,52.2 631.6,54.6 631.9,51.3 632.3,52.1 632.6,51.5 632.9,55.9 633.2,50.1 633.5,48.9 633.8,50.4 634.1,45.6 634.5,48.2 634.8,52.6 635.1,49.9 635.4,45.8 635.7,53.9 636.0,52.2 636.3,51.2 636.6,49.9 637.0,52.8 637.3,50.3 637.6,52.7 637.9,52.7 638.2,52.5 638.5,56.5 638.8,46.6 639.1,52.2 639.5,52.1 639.8,52.7 640.1,47.2 640.4,48.9 640.7,49.6 641.0,50.9 641.3,50.2 641.6,49.5 642.0,47.3 642.3,50.5 642.6,49.0 642.9,56.3 643.2,52.2 643.5,58.2 643.8,52.0 644.1,49.2 644.5,49.8 644.8,51.6 645.1,49.9 645.4,53.6 645.7,48.6 646.0,49.2 646.3,53.9 646.7,53.8 647.0,53.3 647.3,47.0 647.6,55.0 647.9,51.9 648.2,47.6 648.5,54.8 648.8,55.2 649.2,50.0 649.5,44.1 649.8,52.2 650.1,56.1 650.4,50.4 650.7,50.9 651.0,45.8 651.3,48.4 651.7,49.9 652.0,48.2 652.3,54.8 652.6,49.0 652.9,53.6 653.2,48.7 653.5,50.3 653.8,56.6 654.2,54.7 654.5,55.9 654.8,51.5 655.1,46.6 655.4,53.1 655.7,51.5 656.0,47.3 656.4,45.3 656.7,53.5 657.0,53.9 657.3,49.1 657.6,51.7 657.9,49.1 658.2,48.0 658.5,57.7 658.9,52.0 659.2,54.7 659.5,52.1 659.8,45.3 660.1,49.8 660.4,49.6 660.7,47.7 661.0,50.2 661.4,52.1 661.7,51.2 662.0,51.5 662.3,54.9 662.6,47.8 662.9,51.4 663.2,49.7 663.5,53.5 663.9,50.1 664.2,47.4 664.5,48.9 664.8,50.3 665.1,48.7 665.4,53.8 665.7,49.0 666.0,55.3 666.4,49.7 666.7,54.8 667.0,50.0 667.3,51.2 667.6,55.4 667.9,55.7 668.2,50.4 668.6,47.4 668.9,48.0 669.2,47.6 669.5,51.2 669.8,56.4 670.1,55.1 670.4,55.5 670.7,48.6 671.1,61.9 671.4,52.7 671.7,55.5 672.0,45.1 672.3,52.0 672.6,48.9 672.9,54.3 673.2,51.5 673.6,51.9 673.9,52.1 674.2,47.8 674.5,55.3 674.8,51.0 675.1,50.3 675.4,48.9 675.7,48.9 676.1,49.6 676.4,50.0 676.7,51.2 677.0,47.3 677.3,50.3 677.6,53.4 677.9,49.9 678.2,48.5 678.6,52.4 678.9,49.9 679.2,52.3 679.5,49.0 679.8,50.0 680.1,50.7 680.4,47.5 680.8,48.0 681.1,53.6 681.4,47.8 681.7,49.8 682.0,48.7 682.3,55.7 682.6,54.1 682.9,51.4 683.3,54.9 683.6,53.6 683.9,52.7 684.2,54.1 684.5,52.6 684.8,49.8 685.1,52.1 685.4,55.6 685.8,57.9 686.1,49.9 686.4,53.2 686.7,54.5 687.0,48.7 687.3,51.1 687.6,50.5 687.9,52.7 688.3,51.0 688.6,55.2 688.9,48.0 689.2,51.2 689.5,49.8 689.8,51.3 690.1,49.3 690.5,50.4 690.8,49.4 691.1,48.8 691.4,53.1 691.7,53.0 692.0,51.4 692.3,46.2 692.6,49.3 693.0,53.4 693.3,49.0 693.6,51.7 693.9,50.5 694.2,52.8 694.5,54.6 694.8,54.9 695.1,53.8 695.5,51.2 695.8,54.1 696.1,50.9 696.4,50.0 696.7,50.8 697.0,49.4 697.3,55.2 697.6,54.5 698.0,49.3 698.3,50.6 698.6,53.5 698.9,47.8 699.2,49.4 699.5,54.5 699.8,50.3 700.1,50.3 700.5,51.0 700.8,52.9 701.1,51.4 701.4,49.9 701.7,52.8 702.0,53.8 702.3,52.9 702.7,53.3 703.0,49.9 703.3,49.7 703.6,51.4 703.9,48.7 704.2,48.9 704.5,47.3 704.8,50.4 705.2,54.8 705.5,49.0 705.8,51.6 706.1,49.4 706.4,51.5 706.7,49.7 707.0,54.9 707.3,52.5 707.7,46.6 708.0,51.1 708.3,50.8 708.6,52.6 708.9,48.1 709.2,58.3 709.5,51.1 709.8,53.9 710.2,53.7 710.5,51.1 710.8,50.5 711.1,50.6 711.4,52.4 711.7,50.5 712.0,53.0 712.4,54.5 712.7,57.5 713.0,55.8 713.3,50.4 713.6,53.4 713.9,51.9 714.2,52.6 714.5,51.2 714.9,46.1 715.2,49.9 715.5,51.9 715.8,51.4 716.1,48.5 716.4,51.5 716.7,52.7 717.0,51.5 717.4,52.7 717.7,52.6 718.0,50.3 718.3,43.9 718.6,47.3 718.9,50.9 719.2,56.4 719.5,52.6 719.9,52.3 720.2,55.1 720.5,47.6 720.8,55.4 721.1,56.6 721.4,51.7 721.7,52.3 722.0,50.8 722.4,51.8 722.7,48.4 723.0,54.6 723.3,47.5 723.6,47.3 723.9,55.1 724.2,50.6 724.6,54.9 724.9,50.5 725.2,48.8 725.5,50.8 725.8,50.4 726.1,50.8 726.4,50.9 726.7,52.2 727.1,46.9 727.4,52.5 727.7,51.4 728.0,51.3 728.3,52.6 728.6,53.3 728.9,52.9 729.2,54.0 729.6,52.1 729.9,49.0 730.2,52.1 730.5,47.0 730.8,52.0 731.1,50.2 731.4,54.2 731.7,51.9 732.1,53.5 732.4,47.4 732.7,51.2 733.0,53.7" fill="none" stroke="#e02030" stroke-width="0.9" stroke-linejoin="round" />
<polyline points="514.0,81.8 514.5,81.6 515.0,79.0 515.6,78.4 516.1,80.4 516.6,81.3 517.1,80.3 517.6,78.9 518.2,80.0 518.7,82.1 519.2,79.0 519.7,81.7 520.3,81.1 520.8,81.0 521.3,81.3 521.8,79.9 522.3,74.2 522.9,76.3 523.4,73.9 523.9,73.8 524.4,72.8 525.0,73.8 525.5,75.1 526.0,75.7 526.5,75.0 527.0,75.0 527.6,74.9 528.1,74.7 528.6,75.4 529.1,74.1 529.6,75.5 530.2,74.2 530.7,72.6 531.2,72.9 531.7,74.1 532.2,80.0 532.8,79.2 533.3,79.7 533.8,80.7 534.3,80.9 534.9,81.4 535.4,79.6 535.9,80.9 536.4,81.6 536.9,80.9 537.5,82.4 538.0,80.0 538.5,80.5 539.0,80.7 539.5,80.1 540.1,80.4 540.6,80.8 541.1,80.5 541.6,80.0 542.2,80.0 542.7,80.4 543.2,78.8 543.7,80.7 544.2,73.1 544.8,74.0 545.3,73.1 545.8,74.4 546.3,73.9 546.9,74.0 547.4,79.7 547.9,80.6 548.4,82.2 548.9,78.6 549.5,81.1 550.0,80.7 550.5,80.1 551.0,79.1 551.5,82.2 552.1,80.7 552.6,81.6 553.1,80.1 553.6,79.7 554.1,81.7 554.7,81.3 555.2,80.2 555.7,80.3 556.2,81.2 556.8,79.6 557.3,79.6 557.8,80.5 558.3,81.6 558.8,81.4 559.4,80.7 559.9,82.0 560.4,80.3 560.9,80.0 561.5,83.0 562.0,73.8 562.5,75.0 563.0,81.1 563.5,80.6 564.1,80.8 564.6,81.3 565.1,74.9 565.6,73.7 566.1,74.3 566.7,82.0 567.2,75.1 567.7,73.8 568.2,80.6 568.8,79.4 569.3,79.1 569.8,79.9 570.3,76.0 570.8,73.6 571.4,72.2 571.9,74.2 572.4,79.8 572.9,81.3 573.4,81.8 574.0,80.2 574.5,80.6 575.0,79.6 575.5,81.8 576.0,79.7 576.6,74.3 577.1,76.9 577.6,73.3 578.1,74.5 578.7,74.3 579.2,74.8 579.7,74.8 580.2,75.9 580.7,74.8 581.3,75.0 581.8,73.0 582.3,74.7 582.8,72.9 583.4,75.6 583.9,80.5 584.4,81.6 584.9,73.8 585.4,74.6 586.0,74.4 586.5,81.1 587.0,80.4 587.5,79.9 588.0,80.1 588.6,79.8 589.1,79.5 589.6,79.2 590.1,79.0 590.6,82.5 591.2,79.7 591.7,73.1 592.2,75.4 592.7,74.6 593.3,74.2 593.8,75.5 594.3,82.5 594.8,73.4 595.3,75.8 595.9,74.9 596.4,75.6 596.9,73.7 597.4,82.3 598.0,81.8 598.5,71.5 599.0,75.7 599.5,75.8 600.0,72.8 600.6,74.7 601.1,80.3 601.6,74.6 602.1,73.4 602.6,75.0 603.2,75.1 603.7,74.2 604.2,74.2 604.7,72.5 605.2,74.9 605.8,73.0 606.3,74.3 606.8,73.5 607.3,77.1 607.9,74.3 608.4,76.0 608.9,74.3 609.4,74.3 609.9,75.1 610.5,74.3 611.0,76.8 611.5,80.3 612.0,82.3 612.5,79.2 613.1,79.5 613.6,81.2 614.1,79.0 614.6,82.6 615.2,81.1 615.7,74.4 616.2,82.4 616.7,73.8 617.2,73.5 617.8,77.7 618.3,78.4 618.8,80.2 619.3,78.3 619.9,81.3 620.4,81.6 620.9,81.0 621.4,78.8 621.9,79.6 622.5,79.0 623.0,81.3 623.5,75.4 624.0,74.1 624.5,74.4 625.1,74.6 625.6,75.1 626.1,73.3 626.6,73.3 627.1,81.4 627.7,74.9 628.2,74.8 628.7,74.4 629.2,75.1 629.8,74.8 630.3,73.7 630.8,76.2 631.3,75.5 631.8,74.1 632.4,74.2 632.9,73.5 633.4,72.8 633.9,73.2 634.5,72.8 635.0,73.6 635.5,74.7 636.0,74.2 636.5,72.8 637.1,74.1 637.6,73.6 638.1,79.3 638.6,81.7 639.1,79.4 639.7,75.3 640.2,72.5 640.7,74.6 641.2,73.6 641.8,75.4 642.3,74.7 642.8,73.5 643.3,75.0 643.8,75.7 644.4,75.8 644.9,75.9 645.4,73.9 645.9,82.9 646.4,79.9 647.0,80.4 647.5,78.8 648.0,80.3 648.5,72.7 649.0,74.4 649.6,72.4 650.1,76.3 650.6,75.2 651.1,76.0 651.7,75.6 652.2,74.5 652.7,81.0 653.2,80.7 653.7,78.5 654.3,79.2 654.8,80.1 655.3,75.3 655.8,72.8 656.4,74.5 656.9,73.7 657.4,75.1 657.9,81.3 658.4,79.4 659.0,79.3 659.5,82.1 660.0,81.7 660.5,80.5 661.0,81.4 661.6,80.6 662.1,81.0 662.6,80.1 663.1,81.1 663.6,82.3 664.2,82.1 664.7,75.7 665.2,74.5 665.7,75.4 666.3,73.9 666.8,74.0 667.3,74.5 667.8,73.1 668.3,74.5 668.9,72.4 669.4,76.1 669.9,75.2 670.4,74.7 671.0,73.6 671.5,73.7 672.0,73.9 672.5,72.5 673.0,73.9 673.6,73.3 674.1,75.2 674.6,82.0 675.1,82.1 675.6,79.0 676.2,79.0 676.7,82.1 677.2,81.4 677.7,81.7 678.2,81.3 678.8,80.8 679.3,82.9 679.8,75.3 680.3,75.1 680.9,73.2 681.4,74.5 681.9,75.8 682.4,74.9 682.9,75.3 683.5,74.1 684.0,75.1 684.5,73.7 685.0,74.1 685.5,81.7 686.1,76.2 686.6,80.2 687.1,74.1 687.6,74.1 688.2,74.1 688.7,74.4 689.2,81.5 689.7,80.9 690.2,74.3 690.8,74.8 691.3,72.4 691.8,74.2 692.3,76.5 692.9,73.2 693.4,73.7 693.9,74.6 694.4,75.4 694.9,74.0 695.5,79.4 696.0,82.2 696.5,78.0 697.0,79.5 697.5,79.7 698.1,78.0 698.6,82.0 699.1,82.7 699.6,78.9 700.1,80.1 700.7,80.2 701.2,81.3 701.7,80.3 702.2,81.1 702.8,81.0 703.3,80.4 703.8,74.4 704.3,75.9 704.8,74.5 705.4,75.0 705.9,74.3 706.4,75.1 706.9,76.1 707.5,74.4 708.0,73.8 708.5,79.7 709.0,81.6 709.5,73.5 710.1,74.8 710.6,77.1 711.1,74.6 711.6,76.3 712.1,74.3 712.7,74.2 713.2,75.0 713.7,79.6 714.2,77.8 714.8,74.3 715.3,79.7 715.8,80.7 716.3,82.7 716.8,81.2 717.4,78.8 717.9,81.0 718.4,72.4 718.9,71.9 719.4,76.7 720.0,73.3 720.5,71.9 721.0,80.4 721.5,80.3 722.0,81.0 722.6,80.3 723.1,74.1 723.6,75.3 724.1,74.1 724.7,73.5 725.2,74.7 725.7,73.7 726.2,75.5 726.7,74.4 727.3,74.1 727.8,73.8 728.3,75.0 728.8,75.4 729.4,74.0 729.9,78.1 730.4,81.4 730.9,79.7 731.4,81.2 732.0,79.8 732.5,81.0 733.0,80.2" fill="none" stroke="#2a8ad0" stroke-width="1.1" stroke-linejoin="round" />
<text x="510.6" y="38.8" font-size="7" fill="#666" text-anchor="end" font-weight="normal" >2000</text>
<text x="510.6" y="64.2" font-size="7" fill="#666" text-anchor="end" font-weight="normal" >0</text>
<text x="510.6" y="78.5" font-size="7" fill="#666" text-anchor="end" font-weight="normal" >0.5</text>
<text x="510.6" y="92.5" font-size="7" fill="#666" text-anchor="end" font-weight="normal" >0.0</text>
<text x="512.6" y="98.6" font-size="7" fill="#666" text-anchor="middle" font-weight="normal" >0</text>
<text x="572.1" y="98.6" font-size="7" fill="#666" text-anchor="middle" font-weight="normal" >10</text>
<text x="631.6" y="98.6" font-size="7" fill="#666" text-anchor="middle" font-weight="normal" >20</text>
<text x="691.1" y="98.6" font-size="7" fill="#666" text-anchor="middle" font-weight="normal" >30</text>
<text x="613.3" y="108.8" font-size="7.5" fill="#333" text-anchor="middle" font-weight="bold" >Time (s)</text>
<text x="0" y="0" font-size="7.5" fill="#333" text-anchor="middle" font-weight="bold" transform="translate(484.5,49.6) rotate(-90)">Intensity</text>
<text x="0" y="0" font-size="7.5" fill="#333" text-anchor="middle" font-weight="bold" transform="translate(491.5,49.6) rotate(-90)">(a.u.)</text>
<text x="0" y="0" font-size="7.5" fill="#333" text-anchor="middle" font-weight="bold" transform="translate(488,79.5) rotate(-90)">FRET</text>
<line x1="630" y1="40" x2="634" y2="40" stroke="#3a9a3a" stroke-width="0.9" />
<text x="635" y="42.5" font-size="7" fill="#3a9a3a" text-anchor="start" font-weight="normal" >Donor</text>
<line x1="660" y1="40" x2="664" y2="40" stroke="#e02030" stroke-width="0.9" />
<text x="665" y="42.5" font-size="7" fill="#e02030" text-anchor="start" font-weight="normal" >Acceptor</text>
<rect x="512.5" y="117.3" width="225.89999999999998" height="27.700000000000003" stroke="#6a6a6a" stroke-width="1.0" fill="none" />
<line x1="512.5" y1="145" x2="512.5" y2="142.5" stroke="#777" stroke-width="0.7" />
<line x1="512.5" y1="117.3" x2="512.5" y2="119.8" stroke="#777" stroke-width="0.7" />
<line x1="562.8" y1="145" x2="562.8" y2="142.5" stroke="#777" stroke-width="0.7" />
<line x1="562.8" y1="117.3" x2="562.8" y2="119.8" stroke="#777" stroke-width="0.7" />
<line x1="613.1" y1="145" x2="613.1" y2="142.5" stroke="#777" stroke-width="0.7" />
<line x1="613.1" y1="117.3" x2="613.1" y2="119.8" stroke="#777" stroke-width="0.7" />
<line x1="663.4" y1="145" x2="663.4" y2="142.5" stroke="#777" stroke-width="0.7" />
<line x1="663.4" y1="117.3" x2="663.4" y2="119.8" stroke="#777" stroke-width="0.7" />
<line x1="713.7" y1="145" x2="713.7" y2="142.5" stroke="#777" stroke-width="0.7" />
<line x1="713.7" y1="117.3" x2="713.7" y2="119.8" stroke="#777" stroke-width="0.7" />
<line x1="537.65" y1="145" x2="537.65" y2="142.5" stroke="#777" stroke-width="0.7" />
<line x1="537.65" y1="117.3" x2="537.65" y2="119.8" stroke="#777" stroke-width="0.7" />
<line x1="587.9499999999999" y1="145" x2="587.9499999999999" y2="142.5" stroke="#777" stroke-width="0.7" />
<line x1="587.9499999999999" y1="117.3" x2="587.9499999999999" y2="119.8" stroke="#777" stroke-width="0.7" />
<line x1="638.25" y1="145" x2="638.25" y2="142.5" stroke="#777" stroke-width="0.7" />
<line x1="638.25" y1="117.3" x2="638.25" y2="119.8" stroke="#777" stroke-width="0.7" />
<line x1="688.55" y1="145" x2="688.55" y2="142.5" stroke="#777" stroke-width="0.7" />
<line x1="688.55" y1="117.3" x2="688.55" y2="119.8" stroke="#777" stroke-width="0.7" />
<line x1="738.85" y1="145" x2="738.85" y2="142.5" stroke="#777" stroke-width="0.7" />
<line x1="738.85" y1="117.3" x2="738.85" y2="119.8" stroke="#777" stroke-width="0.7" />
<line x1="512.5" y1="131" x2="515.0" y2="131" stroke="#777" stroke-width="0.7" />
<line x1="738.4" y1="131" x2="735.9" y2="131" stroke="#777" stroke-width="0.7" />
<polyline points="513.0,122.4 513.5,122.3 514.0,122.3 514.5,122.0 515.0,122.3 515.5,122.3 516.0,122.9 516.5,121.9 517.0,123.6 517.5,120.9 518.0,121.9 518.5,122.7 519.0,122.3 519.5,121.9 520.0,122.1 520.5,122.7 521.0,123.1 521.5,121.7 522.0,122.2 522.5,121.9 523.0,122.8 523.5,122.1 524.0,122.3 524.5,122.9 525.0,122.3 525.5,122.4 526.0,121.8 526.5,122.0 527.0,121.0 527.5,121.4 528.0,121.7 528.5,121.7 529.0,123.3 529.5,121.2 530.0,120.6 530.5,121.9 531.0,122.5 531.5,122.4 532.0,122.9 532.5,123.7 533.0,122.4 533.5,121.5 534.0,121.9 534.5,122.8 535.0,122.7 535.5,122.2 536.0,122.4 536.5,122.4 537.0,121.3 537.5,122.2 538.0,121.7 538.5,121.9 539.0,121.8 539.5,122.2 540.0,122.8 540.5,122.3 541.0,122.3 541.5,122.8 542.0,122.7 542.5,122.0 543.0,122.6 543.5,122.1 544.0,122.0 544.5,122.3 545.0,123.1 545.5,122.0 546.0,121.9 546.5,122.2 547.0,121.7 547.5,122.2 548.0,122.9 548.5,121.4 549.0,122.0 549.5,121.8 550.0,123.3 550.5,122.9 551.0,122.8 551.5,122.3 552.0,121.7 552.5,122.1 553.0,122.4 553.5,122.3 554.0,123.3 554.5,123.0 555.0,121.9 555.5,121.9 556.0,122.3 556.5,121.6 557.0,121.9 557.5,121.8 558.0,122.2 558.5,122.3 559.0,121.9 559.5,122.9 560.0,122.1 560.5,122.6 561.0,121.7 561.5,121.5 562.0,121.7 562.5,121.8 563.0,122.6 563.5,121.5 564.0,123.0 564.5,121.8 565.0,123.0 565.5,122.6 566.0,122.1 566.5,122.7 567.0,122.1 567.5,122.2 568.0,122.3 568.5,123.9 569.0,122.2 569.5,123.3 570.0,122.4 570.5,121.9 571.0,121.9 571.5,122.9 572.0,122.3 572.5,121.8 573.0,122.5 573.5,122.5 574.0,122.9 574.5,121.8 575.0,123.0 575.5,123.2 576.0,122.1 576.5,122.0 577.0,122.4 577.5,122.2 578.0,122.7 578.5,122.7 579.0,122.4 579.5,121.6 580.0,120.9 580.5,122.0 581.0,121.4 581.5,122.6 582.0,123.4 582.5,122.7 583.0,122.9 583.5,123.1 584.0,123.0 584.5,121.8 585.0,121.5 585.5,121.7 586.0,122.1 586.5,121.7 587.0,122.2 587.5,123.0 588.0,122.2 588.5,122.2 589.0,121.7 589.5,122.0 590.0,122.7 590.5,123.1 591.0,122.6 591.5,121.9 592.0,123.3 592.5,121.4 593.0,121.7 593.5,121.6 594.0,122.1 594.5,122.5 595.0,122.1 595.5,124.3 596.0,124.0 596.5,123.3 597.0,122.3 597.5,121.4 598.0,122.7 598.5,122.9 599.0,122.7 599.5,123.2 600.0,122.8 600.5,121.6 601.0,121.0 601.5,121.6 602.0,122.1 602.5,122.6 603.0,122.5 603.5,122.2 604.0,121.8 604.5,122.4 605.0,122.7 605.5,122.1 606.0,121.6 606.5,121.8 607.0,121.5 607.5,122.2 608.0,121.5 608.5,122.2 609.0,121.7 609.5,122.4 610.0,123.7 610.5,122.0 611.0,122.2 611.5,123.6 612.0,123.2 612.5,122.6 613.0,122.7 613.5,122.2 614.0,121.4 614.5,120.5 615.0,121.3 615.5,121.6 616.0,122.7 616.5,122.5 617.0,121.4 617.5,122.3 618.0,121.5 618.5,122.7 619.0,121.8 619.5,122.6 620.0,122.4 620.5,122.0 621.0,122.8 621.5,122.3 622.0,120.8 622.5,122.0 623.0,121.6 623.5,121.8 624.0,122.2 624.5,122.7 625.0,122.5 625.5,121.7 626.0,121.6 626.5,121.4 627.0,121.8 627.5,121.7 628.0,122.5 628.5,121.9 629.0,122.7 629.5,123.4 630.0,122.9 630.5,122.3 631.0,122.9 631.5,121.9 632.0,122.1 632.5,123.0 633.0,122.8 633.5,122.3 634.0,122.1 634.5,121.9 635.0,123.0 635.5,123.6 636.0,123.5 636.5,122.6 637.0,122.5 637.5,121.8 638.0,121.5 638.5,122.4 639.0,122.7 639.5,121.6 640.0,121.3 640.5,122.2 641.0,121.4 641.5,122.6 642.0,123.1 642.5,121.8 643.0,121.9 643.5,122.7 644.0,123.0 644.5,122.4 645.0,122.2 645.5,122.1 646.0,122.5 646.5,122.7 647.0,122.2 647.5,121.9 648.0,122.1 648.5,122.0 649.0,121.9 649.5,121.4 650.0,122.0 650.5,122.6 651.0,122.4 651.5,123.0 652.0,122.7 652.5,122.8 653.0,122.9 653.5,121.2 654.0,122.3 654.5,122.9 655.0,121.7 655.5,121.0 656.0,121.3 656.5,121.7 657.0,122.3 657.5,121.3 658.0,121.8 658.5,121.4 659.0,122.1 659.5,122.1 660.0,122.3 660.5,121.9 661.0,121.8 661.5,122.6 662.0,121.7 662.5,122.0 663.0,121.8 663.5,121.9 664.0,121.7 664.5,122.7 665.0,122.9 665.5,122.3 666.0,123.4 666.5,122.7 667.0,123.2 667.5,121.9 668.0,121.8 668.5,121.7 669.0,123.3 669.5,123.1 670.0,122.3 670.5,122.4 671.0,122.2 671.5,122.2 672.0,121.7 672.5,122.6 673.0,122.6 673.5,121.9 674.0,122.3 674.5,122.8 675.0,122.6 675.5,122.2 676.0,122.6 676.5,122.8 677.0,123.6 677.5,122.3 678.0,122.5 678.5,122.3 679.0,122.0 679.5,122.2 680.0,121.4 680.5,121.5 681.0,121.2 681.5,122.1 682.0,122.0 682.5,121.6 683.0,121.8 683.5,122.4 684.0,122.0 684.5,120.7 685.0,123.1 685.5,122.3 686.0,122.8 686.5,121.8 687.0,121.9 687.5,122.2 688.0,122.4 688.5,122.0 689.0,123.2 689.5,122.1 690.0,122.0 690.5,123.4 691.0,122.7 691.5,121.4 692.0,122.4 692.5,122.6 693.0,123.1 693.5,123.7 694.0,122.7 694.5,123.0 695.0,122.5 695.5,121.8 696.0,121.6 696.5,121.5 697.0,121.1 697.5,122.8 698.0,122.0 698.5,121.4 699.0,121.9 699.5,121.4 700.0,122.6 700.5,123.5 701.0,122.9 701.5,122.4 702.0,122.1 702.5,122.5 703.0,122.9 703.5,123.0 704.0,122.2 704.5,122.4 705.0,121.5 705.5,122.2 706.0,122.8 706.5,123.1 707.0,122.0 707.5,121.3 708.0,123.2 708.5,122.5 709.0,122.2 709.5,122.4 710.0,122.2 710.5,122.6 711.0,122.7 711.5,122.0 712.0,121.4 712.5,121.7 713.0,120.2 713.5,122.2 714.0,121.8 714.5,121.5 715.0,122.3 715.5,122.7 716.0,122.2 716.5,121.7 717.0,121.1 717.5,121.4 718.0,121.6 718.5,121.1 719.0,121.8 719.5,122.3 720.0,122.1 720.5,123.4 721.0,122.7 721.5,122.7 722.0,124.5 722.5,123.9 723.0,122.8 723.5,122.7 724.0,122.3 724.5,122.4 725.0,122.2 725.5,121.4 726.0,121.2 726.5,122.4 727.0,123.3 727.5,122.7 728.0,121.8 728.5,121.4 729.0,122.9 729.5,123.6 730.0,123.3 730.5,122.5 731.0,122.1 731.5,122.8 732.0,122.3 732.5,121.7 733.0,120.8 733.5,121.5 734.0,121.9 734.5,121.6 735.0,122.9 735.5,122.0 736.0,122.8 736.5,122.5 737.0,122.2 737.5,122.7 738.0,121.7" fill="none" stroke="#2a8ad0" stroke-width="1.6" stroke-linejoin="round" />
<text x="510.6" y="119.8" font-size="7" fill="#666" text-anchor="end" font-weight="normal" >1.0</text>
<text x="510.6" y="133.5" font-size="7" fill="#666" text-anchor="end" font-weight="normal" >0.5</text>
<text x="510.6" y="147.5" font-size="7" fill="#666" text-anchor="end" font-weight="normal" >0.0</text>
<text x="512.5" y="153.2" font-size="7" fill="#666" text-anchor="middle" font-weight="normal" >0</text>
<text x="562.8" y="153.2" font-size="7" fill="#666" text-anchor="middle" font-weight="normal" >10</text>
<text x="613.1" y="153.2" font-size="7" fill="#666" text-anchor="middle" font-weight="normal" >20</text>
<text x="663.4" y="153.2" font-size="7" fill="#666" text-anchor="middle" font-weight="normal" >30</text>
<text x="713.7" y="153.2" font-size="7" fill="#666" text-anchor="middle" font-weight="normal" >40</text>
<text x="616.5" y="162.6" font-size="7.5" fill="#333" text-anchor="middle" font-weight="bold" >Time (s)</text>
<text x="0" y="0" font-size="7.5" fill="#333" text-anchor="middle" font-weight="bold" transform="translate(490,131) rotate(-90)">FRET</text>
<rect x="512.8" y="192.7" width="226.20000000000005" height="79.60000000000002" stroke="#6a6a6a" stroke-width="1.0" fill="none" />
<line x1="512.8" y1="232.5" x2="739" y2="232.5" stroke="#6a6a6a" stroke-width="1" />
<line x1="513.0" y1="272.3" x2="513.0" y2="269.8" stroke="#777" stroke-width="0.7" />
<line x1="513.0" y1="192.7" x2="513.0" y2="195.2" stroke="#777" stroke-width="0.7" />
<line x1="575.7" y1="272.3" x2="575.7" y2="269.8" stroke="#777" stroke-width="0.7" />
<line x1="575.7" y1="192.7" x2="575.7" y2="195.2" stroke="#777" stroke-width="0.7" />
<line x1="638.4" y1="272.3" x2="638.4" y2="269.8" stroke="#777" stroke-width="0.7" />
<line x1="638.4" y1="192.7" x2="638.4" y2="195.2" stroke="#777" stroke-width="0.7" />
<line x1="701.1" y1="272.3" x2="701.1" y2="269.8" stroke="#777" stroke-width="0.7" />
<line x1="701.1" y1="192.7" x2="701.1" y2="195.2" stroke="#777" stroke-width="0.7" />
<line x1="544.35" y1="272.3" x2="544.35" y2="269.8" stroke="#777" stroke-width="0.7" />
<line x1="544.35" y1="192.7" x2="544.35" y2="195.2" stroke="#777" stroke-width="0.7" />
<line x1="607.0500000000001" y1="272.3" x2="607.0500000000001" y2="269.8" stroke="#777" stroke-width="0.7" />
<line x1="607.0500000000001" y1="192.7" x2="607.0500000000001" y2="195.2" stroke="#777" stroke-width="0.7" />
<line x1="669.75" y1="272.3" x2="669.75" y2="269.8" stroke="#777" stroke-width="0.7" />
<line x1="669.75" y1="192.7" x2="669.75" y2="195.2" stroke="#777" stroke-width="0.7" />
<line x1="732.45" y1="272.3" x2="732.45" y2="269.8" stroke="#777" stroke-width="0.7" />
<line x1="732.45" y1="192.7" x2="732.45" y2="195.2" stroke="#777" stroke-width="0.7" />
<line x1="512.8" y1="194.2" x2="515.3" y2="194.2" stroke="#777" stroke-width="0.7" />
<line x1="739" y1="194.2" x2="736.5" y2="194.2" stroke="#777" stroke-width="0.7" />
<line x1="512.8" y1="212.4" x2="515.3" y2="212.4" stroke="#777" stroke-width="0.7" />
<line x1="739" y1="212.4" x2="736.5" y2="212.4" stroke="#777" stroke-width="0.7" />
<line x1="512.8" y1="237.3" x2="515.3" y2="237.3" stroke="#777" stroke-width="0.7" />
<line x1="739" y1="237.3" x2="736.5" y2="237.3" stroke="#777" stroke-width="0.7" />
<line x1="512.8" y1="254.5" x2="515.3" y2="254.5" stroke="#777" stroke-width="0.7" />
<line x1="739" y1="254.5" x2="736.5" y2="254.5" stroke="#777" stroke-width="0.7" />
<polyline points="513.0,221.3 513.8,219.1 514.5,231.1 515.3,221.3 516.0,220.3 516.8,221.1 517.5,217.9 518.3,217.2 519.0,221.4 519.8,218.1 520.5,222.3 521.3,218.9 522.0,213.6 522.8,215.2 523.5,216.7 524.3,212.9 525.0,219.3 525.8,218.6 526.5,222.7 527.3,216.7 528.0,218.8 528.8,221.5 529.6,222.1 530.3,216.2 531.1,224.7 531.8,217.5 532.6,223.6 533.3,218.6 534.1,218.2 534.8,215.4 535.6,219.2 536.3,227.6 537.1,217.5 537.8,224.8 538.6,224.1 539.3,218.3 540.1,223.3 540.8,224.3 541.6,218.6 542.3,217.8 543.1,223.4 543.8,220.8 544.6,226.7 545.4,221.1 546.1,215.7 546.9,219.5 547.6,215.6 548.4,222.1 549.1,222.0 549.9,218.2 550.6,216.6 551.4,222.6 552.1,218.3 552.9,223.7 553.6,216.3 554.4,218.7 555.1,217.8 555.9,216.1 556.6,228.8 557.4,225.3 558.1,217.5 558.9,222.3 559.6,213.6 560.4,223.8 561.2,223.3 561.9,218.5 562.7,218.4 563.4,220.4 564.2,221.2 564.9,218.4 565.7,216.8 566.4,218.7 567.2,218.2 567.9,222.3 568.7,219.9 569.4,220.4 570.2,214.0 570.9,218.3 571.7,218.3 572.4,217.9 573.2,219.2 573.9,218.6 574.7,214.5 575.4,222.8 576.2,222.7 577.0,217.9 577.7,221.7 578.5,216.5 579.2,215.4 580.0,219.0 580.7,224.9 581.5,219.3 582.2,214.5 583.0,220.5 583.7,217.7 584.5,217.3 585.2,220.9 586.0,213.8 586.7,213.7 587.5,214.8 588.2,223.3 589.0,220.0 589.7,217.7 590.5,217.4 591.2,221.9 592.0,223.9 592.8,217.3 593.5,220.6 594.3,227.7 595.0,221.8 595.8,218.6 596.5,220.9 597.3,220.1 598.0,222.0 598.8,221.0 599.5,218.1 600.3,219.4 601.0,221.0 601.8,217.5 602.5,220.0 603.3,216.7 604.0,223.9 604.8,225.0 605.5,216.9 606.3,222.6 607.0,220.3 607.8,220.1 608.6,218.9 609.3,220.7 610.1,223.2 610.8,215.7 611.6,223.2 612.3,218.9 613.1,216.1 613.8,219.6 614.6,221.9 615.3,219.5 616.1,220.8 616.8,218.7 617.6,218.0 618.3,223.1 619.1,216.7 619.8,223.1 620.6,220.9 621.3,218.9 622.1,219.0 622.9,218.8 623.6,219.7 624.4,219.6 625.1,219.3 625.9,213.3 626.6,212.7 627.4,220.9 628.1,217.7 628.9,217.9 629.6,219.2 630.4,216.1 631.1,224.9 631.9,219.8 632.6,219.2 633.4,216.3 634.1,222.7 634.9,222.2 635.6,224.7 636.4,222.8 637.1,217.1 637.9,215.6 638.7,224.3 639.4,217.5 640.2,219.4 640.9,219.3 641.7,221.5 642.4,221.6 643.2,216.4 643.9,217.7 644.7,214.0 645.4,221.7 646.2,219.3 646.9,214.2 647.7,223.2 648.4,219.8 649.2,216.4 649.9,218.4 650.7,217.9 651.4,220.1 652.2,220.5 652.9,217.9 653.7,221.2 654.5,211.2 655.2,218.7 656.0,221.9 656.7,223.0 657.5,222.5 658.2,216.4 659.0,214.2 659.7,218.7 660.5,227.3 661.2,220.7 662.0,217.3 662.7,214.3 663.5,220.3 664.2,218.3 665.0,221.4 665.7,220.4 666.5,212.1 667.2,219.4 668.0,222.4 668.7,217.8 669.5,215.8 670.3,206.9 671.0,206.2 671.8,220.7 672.5,217.5 673.3,209.1 674.0,217.3 674.8,207.3 675.5,209.4 676.3,208.6 677.0,210.9 677.8,214.3 678.5,220.0 679.3,214.7 680.0,211.2 680.8,212.3 681.5,210.7 682.3,213.1 683.0,208.0 683.8,212.6 684.5,213.5 685.3,215.5 686.1,208.2 686.8,213.3 687.6,212.8 688.3,208.3 689.1,203.5 689.8,209.3 690.6,215.2 691.3,210.4 692.1,220.9 692.8,213.9 693.6,208.6 694.3,211.2 695.1,213.5 695.8,213.6 696.6,210.6 697.3,213.5 698.1,223.7 698.8,215.3 699.6,212.3 700.3,209.7 701.1,204.3 701.9,212.3 702.6,209.9 703.4,211.4 704.1,209.3 704.9,214.7 705.6,216.0 706.4,208.7 707.1,206.0 707.9,212.9 708.6,217.2 709.4,213.3 710.1,213.6 710.9,205.9 711.6,209.3 712.4,214.0 713.1,213.1 713.9,229.4 714.6,230.1 715.4,230.5 716.1,229.5 716.9,228.5 717.7,227.7 718.4,229.7 719.2,229.2 719.9,229.2 720.7,230.8 721.4,228.6 722.2,229.1 722.9,230.2 723.7,228.3 724.4,226.8 725.2,228.7 725.9,230.4 726.7,228.7 727.4,229.1 728.2,227.1 728.9,230.9 729.7,227.3 730.4,228.6 731.2,229.2 731.9,231.8 732.7,229.5 733.5,228.5 734.2,227.6 735.0,229.0 735.7,227.9 736.5,228.6 737.2,229.5 738.0,230.9 738.7,228.1" fill="none" stroke="#3a9a3a" stroke-width="0.8" stroke-linejoin="round" />
<polyline points="513.0,222.8 513.8,218.6 514.5,228.5 515.3,233.9 516.0,225.7 516.8,228.3 517.5,228.4 518.3,226.9 519.0,226.9 519.8,228.0 520.5,223.3 521.3,219.1 522.0,218.5 522.8,226.3 523.5,225.6 524.3,224.0 525.0,216.6 525.8,223.3 526.5,223.9 527.3,220.9 528.0,221.6 528.8,231.1 529.6,228.5 530.3,226.7 531.1,225.1 531.8,222.7 532.6,223.0 533.3,226.4 534.1,221.4 534.8,223.4 535.6,229.5 536.3,219.9 537.1,221.6 537.8,230.0 538.6,225.4 539.3,224.7 540.1,221.4 540.8,219.5 541.6,228.1 542.3,215.7 543.1,225.6 543.8,222.3 544.6,223.8 545.4,217.3 546.1,227.1 546.9,226.1 547.6,225.1 548.4,225.5 549.1,219.7 549.9,224.7 550.6,225.7 551.4,223.9 552.1,213.8 552.9,223.8 553.6,224.5 554.4,220.5 555.1,224.3 555.9,228.4 556.6,223.8 557.4,228.4 558.1,222.4 558.9,221.7 559.6,225.0 560.4,221.2 561.2,218.6 561.9,225.2 562.7,224.1 563.4,226.1 564.2,221.3 564.9,222.7 565.7,225.7 566.4,222.5 567.2,223.4 567.9,224.9 568.7,221.7 569.4,224.9 570.2,219.3 570.9,225.8 571.7,232.9 572.4,226.3 573.2,222.8 573.9,218.8 574.7,220.3 575.4,223.2 576.2,221.6 577.0,225.8 577.7,224.6 578.5,226.7 579.2,223.4 580.0,226.8 580.7,228.6 581.5,221.2 582.2,223.8 583.0,223.7 583.7,223.9 584.5,227.9 585.2,223.0 586.0,221.2 586.7,219.8 587.5,219.3 588.2,223.8 589.0,227.1 589.7,224.3 590.5,221.5 591.2,223.6 592.0,221.2 592.8,227.5 593.5,224.6 594.3,228.9 595.0,226.3 595.8,226.2 596.5,221.1 597.3,225.8 598.0,222.9 598.8,222.4 599.5,224.8 600.3,229.5 601.0,225.8 601.8,230.8 602.5,226.4 603.3,219.8 604.0,222.5 604.8,230.4 605.5,226.1 606.3,224.5 607.0,222.8 607.8,224.8 608.6,225.7 609.3,222.9 610.1,224.1 610.8,225.2 611.6,220.8 612.3,223.5 613.1,221.9 613.8,222.3 614.6,221.4 615.3,222.3 616.1,221.7 616.8,229.9 617.6,223.8 618.3,225.5 619.1,221.8 619.8,224.8 620.6,225.8 621.3,229.5 622.1,229.9 622.9,222.9 623.6,230.1 624.4,224.6 625.1,228.3 625.9,224.2 626.6,226.7 627.4,224.1 628.1,220.0 628.9,226.2 629.6,223.4 630.4,224.0 631.1,225.2 631.9,226.0 632.6,232.4 633.4,221.0 634.1,222.8 634.9,221.4 635.6,228.4 636.4,223.5 637.1,222.5 637.9,225.9 638.7,224.7 639.4,226.1 640.2,219.7 640.9,224.5 641.7,226.3 642.4,222.6 643.2,228.4 643.9,224.1 644.7,221.9 645.4,223.1 646.2,226.1 646.9,227.7 647.7,222.9 648.4,226.2 649.2,223.3 649.9,221.5 650.7,221.3 651.4,226.7 652.2,223.0 652.9,224.9 653.7,229.6 654.5,227.6 655.2,223.1 656.0,223.5 656.7,225.2 657.5,217.7 658.2,226.5 659.0,222.1 659.7,226.7 660.5,222.1 661.2,223.3 662.0,227.0 662.7,226.4 663.5,230.1 664.2,222.9 665.0,222.5 665.7,229.1 666.5,226.1 667.2,220.7 668.0,222.9 668.7,225.7 669.5,222.8 670.3,227.4 671.0,229.8 671.8,230.4 672.5,231.7 673.3,231.4 674.0,231.0 674.8,228.4 675.5,227.8 676.3,228.1 677.0,230.6 677.8,231.1 678.5,226.7 679.3,230.6 680.0,231.1 680.8,232.1 681.5,230.9 682.3,231.2 683.0,230.1 683.8,229.2 684.5,229.5 685.3,229.6 686.1,227.9 686.8,229.5 687.6,231.3 688.3,229.2 689.1,231.6 689.8,228.3 690.6,230.4 691.3,228.4 692.1,231.4 692.8,230.8 693.6,231.2 694.3,231.0 695.1,230.5 695.8,231.4 696.6,230.0 697.3,225.8 698.1,229.9 698.8,230.5 699.6,226.0 700.3,231.5 701.1,229.5 701.9,231.3 702.6,229.2 703.4,230.0 704.1,228.3 704.9,229.3 705.6,227.2 706.4,230.1 707.1,229.0 707.9,228.6 708.6,228.5 709.4,228.1 710.1,229.6 710.9,229.5 711.6,229.2 712.4,231.8 713.1,227.9 713.9,229.0 714.6,227.5 715.4,229.2 716.1,229.3 716.9,226.8 717.7,230.2 718.4,226.4 719.2,228.8 719.9,229.2 720.7,227.6 721.4,231.8 722.2,229.9 722.9,227.5 723.7,230.2 724.4,230.2 725.2,228.7 725.9,228.3 726.7,231.1 727.4,233.3 728.2,230.0 728.9,233.0 729.7,226.9 730.4,227.0 731.2,229.7 731.9,228.6 732.7,230.0 733.5,232.6 734.2,228.0 735.0,230.3 735.7,229.6 736.5,227.6 737.2,229.2 738.0,227.8 738.7,229.2" fill="none" stroke="#2a8ad0" stroke-width="0.8" stroke-linejoin="round" />
<polyline points="513.0,232.0 513.8,222.2 514.5,226.5 515.3,224.7 516.0,222.9 516.8,223.8 517.5,223.9 518.3,225.2 519.0,226.7 519.8,228.5 520.5,226.1 521.3,228.8 522.0,226.8 522.8,225.7 523.5,224.7 524.3,222.5 525.0,220.6 525.8,225.1 526.5,224.9 527.3,226.3 528.0,226.3 528.8,221.6 529.6,223.2 530.3,222.0 531.1,228.3 531.8,225.0 532.6,225.7 533.3,222.6 534.1,221.5 534.8,223.6 535.6,225.0 536.3,226.7 537.1,220.8 537.8,226.3 538.6,222.8 539.3,223.7 540.1,224.3 540.8,224.0 541.6,226.7 542.3,227.9 543.1,226.3 543.8,223.7 544.6,226.5 545.4,226.4 546.1,227.8 546.9,226.1 547.6,220.5 548.4,223.0 549.1,224.1 549.9,228.0 550.6,224.9 551.4,228.0 552.1,226.2 552.9,221.8 553.6,225.4 554.4,226.9 555.1,226.5 555.9,220.9 556.6,226.6 557.4,223.6 558.1,219.1 558.9,223.6 559.6,219.5 560.4,221.5 561.2,229.6 561.9,232.6 562.7,228.4 563.4,226.6 564.2,230.9 564.9,226.3 565.7,222.4 566.4,218.0 567.2,228.0 567.9,218.6 568.7,216.8 569.4,223.4 570.2,225.5 570.9,222.7 571.7,228.4 572.4,225.0 573.2,225.9 573.9,226.6 574.7,223.6 575.4,225.9 576.2,232.2 577.0,222.5 577.7,225.8 578.5,226.9 579.2,223.7 580.0,225.2 580.7,220.2 581.5,224.0 582.2,225.4 583.0,228.6 583.7,228.1 584.5,223.6 585.2,222.0 586.0,230.8 586.7,228.0 587.5,219.6 588.2,224.3 589.0,222.6 589.7,223.5 590.5,220.2 591.2,224.1 592.0,223.8 592.8,224.6 593.5,228.5 594.3,226.0 595.0,221.7 595.8,220.2 596.5,223.8 597.3,228.8 598.0,228.2 598.8,223.6 599.5,228.8 600.3,226.7 601.0,223.6 601.8,226.7 602.5,225.1 603.3,222.0 604.0,224.1 604.8,225.9 605.5,229.3 606.3,222.3 607.0,226.1 607.8,225.5 608.6,225.2 609.3,221.7 610.1,229.2 610.8,229.3 611.6,230.2 612.3,226.8 613.1,229.9 613.8,227.0 614.6,228.4 615.3,224.4 616.1,226.1 616.8,224.4 617.6,222.2 618.3,224.1 619.1,222.0 619.8,222.1 620.6,224.2 621.3,223.6 622.1,231.6 622.9,230.8 623.6,228.7 624.4,227.8 625.1,222.8 625.9,226.3 626.6,221.1 627.4,223.5 628.1,224.0 628.9,224.3 629.6,228.0 630.4,223.1 631.1,232.7 631.9,223.9 632.6,228.0 633.4,220.7 634.1,228.2 634.9,221.7 635.6,226.0 636.4,225.4 637.1,227.9 637.9,227.3 638.7,226.6 639.4,225.0 640.2,231.4 640.9,224.1 641.7,225.5 642.4,224.0 643.2,225.9 643.9,222.5 644.7,224.2 645.4,227.0 646.2,223.7 646.9,226.8 647.7,223.7 648.4,229.7 649.2,225.0 649.9,230.8 650.7,226.9 651.4,225.0 652.2,228.3 652.9,229.0 653.7,230.1 654.5,229.6 655.2,228.1 656.0,221.9 656.7,228.3 657.5,225.2 658.2,226.7 659.0,229.3 659.7,223.3 660.5,229.5 661.2,232.7 662.0,227.1 662.7,224.5 663.5,229.6 664.2,226.0 665.0,228.6 665.7,229.2 666.5,220.9 667.2,226.4 668.0,220.8 668.7,223.3 669.5,227.3 670.3,186.7 671.0,190.4 671.8,192.8 672.5,198.5 673.3,199.4 674.0,200.6 674.8,195.1 675.5,194.1 676.3,202.4 677.0,194.6 677.8,195.7 678.5,206.2 679.3,197.1 680.0,197.0 680.8,211.0 681.5,203.9 682.3,190.3 683.0,200.6 683.8,218.9 684.5,225.4 685.3,205.5 686.1,212.7 686.8,213.6 687.6,211.5 688.3,198.2 689.1,217.3 689.8,213.2 690.6,210.5 691.3,202.1 692.1,208.9 692.8,212.3 693.6,211.4 694.3,214.5 695.1,210.5 695.8,219.5 696.6,217.1 697.3,205.5 698.1,209.1 698.8,215.8 699.6,209.4 700.3,222.1 701.1,209.5 701.9,214.6 702.6,217.0 703.4,205.6 704.1,221.1 704.9,211.6 705.6,208.3 706.4,208.5 707.1,201.9 707.9,204.1 708.6,222.7 709.4,212.1 710.1,211.1 710.9,214.2 711.6,216.7 712.4,207.8 713.1,211.6 713.9,229.5 714.6,230.6 715.4,229.5 716.1,231.6 716.9,228.7 717.7,228.6 718.4,227.0 719.2,229.0 719.9,230.0 720.7,228.7 721.4,228.8 722.2,227.6 722.9,228.2 723.7,228.4 724.4,228.9 725.2,230.7 725.9,229.8 726.7,230.4 727.4,230.8 728.2,228.4 728.9,231.1 729.7,229.1 730.4,227.1 731.2,228.2 731.9,228.9 732.7,226.8 733.5,232.5 734.2,229.0 735.0,230.4 735.7,227.3 736.5,229.2 737.2,229.5 738.0,227.9 738.7,229.4" fill="none" stroke="#e02030" stroke-width="0.8" stroke-linejoin="round" />
<polyline points="513.0,254.3 513.8,251.6 514.5,256.1 515.3,260.2 516.1,261.8 516.9,257.8 517.6,255.8 518.4,254.8 519.2,254.4 519.9,252.3 520.7,250.3 521.5,249.7 522.3,262.1 523.0,257.7 523.8,262.4 524.6,252.3 525.3,259.5 526.1,258.3 526.9,261.1 527.7,257.0 528.4,261.7 529.2,261.6 530.0,262.7 530.7,247.7 531.5,250.9 532.3,261.4 533.1,265.7 533.8,256.4 534.6,252.2 535.4,258.1 536.2,253.4 536.9,252.8 537.7,257.1 538.5,251.3 539.2,243.5 540.0,247.6 540.8,252.9 541.6,246.7 542.3,251.9 543.1,248.1 543.9,253.0 544.6,248.8 545.4,255.2 546.2,250.3 547.0,247.8 547.7,255.2 548.5,255.1 549.3,254.8 550.0,248.5 550.8,253.7 551.6,260.3 552.4,258.0 553.1,252.3 553.9,263.2 554.7,260.1 555.4,258.5 556.2,257.0 557.0,258.6 557.8,261.4 558.5,249.5 559.3,257.7 560.1,253.8 560.8,260.7 561.6,259.1 562.4,258.4 563.2,259.7 563.9,264.7 564.7,265.1 565.5,251.5 566.2,263.9 567.0,256.5 567.8,248.5 568.6,261.0 569.3,251.8 570.1,252.3 570.9,258.8 571.6,254.1 572.4,255.7 573.2,260.4 574.0,256.9 574.7,244.5 575.5,254.4 576.3,250.8 577.1,251.6 577.8,252.0 578.6,258.8 579.4,259.0 580.1,258.1 580.9,264.0 581.7,260.6 582.5,259.4 583.2,265.2 584.0,263.6 584.8,262.5 585.5,266.4 586.3,265.1 587.1,262.6 587.9,261.8 588.6,259.6 589.4,257.1 590.2,270.6 590.9,261.7 591.7,249.9 592.5,259.7 593.3,255.4 594.0,253.6 594.8,255.6 595.6,257.6 596.3,260.1 597.1,254.1 597.9,253.6 598.7,256.1 599.4,243.4 600.2,246.1 601.0,246.3 601.7,256.6 602.5,250.5 603.3,247.1 604.1,248.0 604.8,246.4 605.6,253.3 606.4,251.8 607.1,254.6 607.9,255.5 608.7,256.6 609.5,255.3 610.2,251.6 611.0,255.9 611.8,254.7 612.5,255.6 613.3,261.7 614.1,252.9 614.9,259.0 615.6,258.6 616.4,257.1 617.2,254.8 618.0,257.0 618.7,255.8 619.5,252.3 620.3,252.2 621.0,249.1 621.8,254.0 622.6,266.9 623.4,250.6 624.1,259.2 624.9,255.8 625.7,258.9 626.4,257.9 627.2,253.5 628.0,254.9 628.8,252.8 629.5,252.1 630.3,251.5 631.1,254.4 631.8,243.9 632.6,250.5 633.4,251.1 634.2,248.4 634.9,252.2 635.7,260.2 636.5,252.4 637.2,259.9 638.0,260.0 638.8,254.2 639.6,254.6 640.3,256.8 641.1,256.6 641.9,268.2 642.6,260.0 643.4,259.8 644.2,257.0 645.0,258.2 645.7,258.3 646.5,259.3 647.3,261.9 648.0,264.6 648.8,260.1 649.6,255.2 650.4,267.9 651.1,262.3 651.9,261.2 652.7,255.8 653.4,260.6 654.2,260.0 655.0,261.0 655.8,258.3 656.5,259.5 657.3,257.6 658.1,270.1 658.8,248.1 659.6,256.9 660.4,245.9 661.2,256.1 661.9,253.8 662.7,250.8 663.5,259.3 664.3,252.4 665.0,248.6 665.8,254.7 666.6,253.7 667.3,247.9 668.1,262.4 668.9,255.0 669.7,254.9 670.4,268.7 671.2,272.1 672.0,270.8 672.7,271.3 673.5,271.4 674.3,269.5 675.1,270.1 675.8,271.7 676.6,270.7 677.4,272.4 678.1,270.4 678.9,272.0 679.7,272.1 680.5,270.2 681.2,270.5 682.0,271.3 682.8,270.5 683.5,270.8 684.3,271.0 685.1,269.7 685.9,270.0 686.6,271.1 687.4,270.5 688.2,269.8 688.9,270.2 689.7,271.1 690.5,271.2 691.3,271.0 692.0,271.0 692.8,272.5 693.6,270.5 694.3,270.3 695.1,271.6 695.9,271.0 696.7,270.5 697.4,270.2 698.2,270.4 699.0,271.0 699.7,271.2 700.5,269.6 701.3,268.0 702.1,271.9 702.8,270.0 703.6,270.8 704.4,269.8 705.2,268.6 705.9,269.2 706.7,269.2 707.5,270.0 708.2,270.6 709.0,270.6 709.8,270.5 710.6,272.0 711.3,270.7 712.1,271.7 712.9,271.0 713.6,269.4" fill="none" stroke="#2a8ad0" stroke-width="0.8" stroke-linejoin="round" />
<polyline points="513.0,250.2 513.8,264.3 514.5,259.7 515.3,256.2 516.1,263.3 516.9,255.4 517.6,270.2 518.4,263.4 519.2,260.9 519.9,264.9 520.7,256.6 521.5,264.3 522.3,266.4 523.0,266.3 523.8,264.2 524.6,257.2 525.3,263.0 526.1,255.5 526.9,262.0 527.7,258.1 528.4,257.1 529.2,263.3 530.0,268.2 530.7,265.7 531.5,257.3 532.3,256.7 533.1,254.1 533.8,255.5 534.6,258.5 535.4,259.8 536.2,255.9 536.9,258.0 537.7,253.1 538.5,256.1 539.2,264.4 540.0,265.0 540.8,261.8 541.6,260.5 542.3,261.7 543.1,258.4 543.9,257.0 544.6,264.9 545.4,258.6 546.2,265.6 547.0,259.5 547.7,264.7 548.5,272.6 549.3,268.5 550.0,265.8 550.8,267.6 551.6,260.0 552.4,270.7 553.1,263.3 553.9,263.0 554.7,263.2 555.4,266.2 556.2,262.5 557.0,262.3 557.8,266.4 558.5,264.7 559.3,268.6 560.1,266.1 560.8,267.2 561.6,256.6 562.4,261.2 563.2,262.6 563.9,263.6 564.7,258.1 565.5,261.6 566.2,263.4 567.0,254.6 567.8,254.7 568.6,254.8 569.3,259.3 570.1,253.7 570.9,258.7 571.6,256.9 572.4,254.9 573.2,251.9 574.0,269.5 574.7,265.6 575.5,265.1 576.3,254.4 577.1,265.1 577.8,260.2 578.6,256.7 579.4,259.8 580.1,260.4 580.9,269.3 581.7,263.1 582.5,262.2 583.2,264.2 584.0,264.0 584.8,256.4 585.5,266.2 586.3,261.8 587.1,264.6 587.9,266.9 588.6,257.8 589.4,268.4 590.2,256.7 590.9,256.3 591.7,247.6 592.5,262.2 593.3,255.1 594.0,253.1 594.8,252.8 595.6,257.3 596.3,259.4 597.1,257.7 597.9,253.7 598.7,252.0 599.4,247.1 600.2,252.7 601.0,257.7 601.7,254.6 602.5,265.0 603.3,261.5 604.1,256.8 604.8,260.9 605.6,260.3 606.4,256.9 607.1,259.4 607.9,255.0 608.7,260.6 609.5,266.9 610.2,261.0 611.0,270.6 611.8,262.9 612.5,267.1 613.3,266.1 614.1,261.4 614.9,259.3 615.6,265.8 616.4,267.2 617.2,263.5 618.0,262.7 618.7,251.0 619.5,259.8 620.3,266.0 621.0,266.1 621.8,262.9 622.6,257.6 623.4,264.2 624.1,259.0 624.9,263.3 625.7,265.8 626.4,255.7 627.2,258.4 628.0,260.7 628.8,261.4 629.5,260.4 630.3,263.8 631.1,264.4 631.8,258.5 632.6,260.8 633.4,266.1 634.2,257.8 634.9,260.4 635.7,254.5 636.5,260.1 637.2,272.5 638.0,273.7 638.8,263.6 639.6,273.1 640.3,267.9 641.1,267.7 641.9,265.6 642.6,270.9 643.4,259.9 644.2,271.9 645.0,266.5 645.7,265.2 646.5,257.4 647.3,274.2 648.0,267.2 648.8,264.2 649.6,262.7 650.4,265.8 651.1,258.9 651.9,261.6 652.7,262.9 653.4,256.1 654.2,255.6 655.0,262.8 655.8,253.7 656.5,253.5 657.3,258.8 658.1,265.2 658.8,264.0 659.6,252.4 660.4,265.1 661.2,251.0 661.9,255.0 662.7,258.8 663.5,261.4 664.3,261.1 665.0,260.4 665.8,251.0 666.6,252.5 667.3,259.7 668.1,262.3 668.9,260.6 669.7,258.3 670.4,244.6 671.2,248.4 672.0,226.9 672.7,250.1 673.5,252.7 674.3,246.9 675.1,239.5 675.8,243.2 676.6,243.3 677.4,254.5 678.1,245.0 678.9,247.6 679.7,248.6 680.5,244.0 681.2,239.7 682.0,233.9 682.8,239.4 683.5,247.4 684.3,247.6 685.1,232.4 685.9,240.7 686.6,243.1 687.4,247.1 688.2,240.6 688.9,240.8 689.7,242.7 690.5,245.1 691.3,242.8 692.0,238.3 692.8,241.3 693.6,243.3 694.3,239.5 695.1,241.8 695.9,241.5 696.7,234.2 697.4,252.6 698.2,242.2 699.0,247.2 699.7,253.4 700.5,244.6 701.3,238.3 702.1,242.6 702.8,238.4 703.6,240.8 704.4,246.9 705.2,238.7 705.9,246.0 706.7,244.0 707.5,251.3 708.2,245.5 709.0,247.5 709.8,246.3 710.6,240.4 711.3,241.1 712.1,237.6 712.9,236.5 713.6,272.8" fill="none" stroke="#e02030" stroke-width="0.8" stroke-linejoin="round" />
<text x="510.6" y="196.7" font-size="7" fill="#666" text-anchor="end" font-weight="normal" >800</text>
<text x="510.6" y="215.1" font-size="7" fill="#666" text-anchor="end" font-weight="normal" >400</text>
<text x="510.6" y="233" font-size="7" fill="#666" text-anchor="end" font-weight="normal" >0</text>
<text x="510.6" y="239.8" font-size="7" fill="#666" text-anchor="end" font-weight="normal" >0.8</text>
<text x="510.6" y="257.3" font-size="7" fill="#666" text-anchor="end" font-weight="normal" >0.4</text>
<text x="510.6" y="274.2" font-size="7" fill="#666" text-anchor="end" font-weight="normal" >0.0</text>
<text x="513.0" y="280" font-size="7" fill="#666" text-anchor="middle" font-weight="normal" >20</text>
<text x="575.7" y="280" font-size="7" fill="#666" text-anchor="middle" font-weight="normal" >30</text>
<text x="638.4" y="280" font-size="7" fill="#666" text-anchor="middle" font-weight="normal" >40</text>
<text x="701.1" y="280" font-size="7" fill="#666" text-anchor="middle" font-weight="normal" >50</text>
<text x="616" y="291.2" font-size="7.5" fill="#333" text-anchor="middle" font-weight="bold" >Time (s)</text>
<text x="0" y="0" font-size="7.5" fill="#333" text-anchor="middle" font-weight="bold" transform="translate(488.7,213.4) rotate(-90)">Counts</text>
<text x="0" y="0" font-size="7.5" fill="#333" text-anchor="middle" font-weight="bold" transform="translate(488.7,250.9) rotate(-90)">FRET</text>
<line x1="526" y1="203.4" x2="530" y2="203.4" stroke="#3a9a3a" stroke-width="0.9" />
<text x="531" y="205.9" font-size="7" fill="#3a9a3a" text-anchor="start" font-weight="normal" >Alexa555</text>
<line x1="569" y1="203.4" x2="573" y2="203.4" stroke="#e02030" stroke-width="0.9" />
<text x="574" y="205.9" font-size="7" fill="#e02030" text-anchor="start" font-weight="normal" >Cy5</text>
<line x1="593" y1="203.4" x2="597" y2="203.4" stroke="#2a8ad0" stroke-width="0.9" />
<text x="598" y="205.9" font-size="7" fill="#2a8ad0" text-anchor="start" font-weight="normal" >Cy5.5</text>
<line x1="527" y1="240" x2="531" y2="240" stroke="#e02030" stroke-width="0.9" />
<text x="532" y="242.5" font-size="7" fill="#e02030" text-anchor="start" font-weight="normal" >FRET to Cy5</text>
<line x1="573" y1="240" x2="577" y2="240" stroke="#2a8ad0" stroke-width="0.9" />
<text x="578" y="242.5" font-size="7" fill="#2a8ad0" text-anchor="start" font-weight="normal" >FRET to Cy5.5</text>
<text x="4.7" y="331" font-size="35" fill="#111" text-anchor="start" font-weight="normal" >C</text>
<text x="49.5" y="326" font-size="23" fill="#222" text-anchor="start" font-weight="normal" stroke="#222" stroke-width="0.7">(i)</text>
<text x="313" y="318" font-size="23" fill="#222" text-anchor="start" font-weight="normal" stroke="#222" stroke-width="0.7">(ii)</text>
<text x="443.5" y="319" font-size="23" fill="#222" text-anchor="start" font-weight="normal" stroke="#222" stroke-width="0.7">(iii)</text>
<text x="46.5" y="462" font-size="23" fill="#222" text-anchor="start" font-weight="normal" stroke="#222" stroke-width="0.7">(iv)</text>
<text x="309.5" y="459" font-size="23" fill="#222" text-anchor="start" font-weight="normal" stroke="#222" stroke-width="0.7">(v)</text>
<text x="448.5" y="457" font-size="23" fill="#222" text-anchor="start" font-weight="normal" stroke="#222" stroke-width="0.7">(vi)</text>
<text x="87.6" y="321.2" font-size="9" fill="#555" text-anchor="start" font-weight="normal" >Rolling</text>
<text x="95.5" y="350.8" font-size="7.2" fill="#5aa85a" text-anchor="middle" font-weight="normal" >Donor</text>
<text x="95.5" y="358.8" font-size="7.2" fill="#5aa85a" text-anchor="middle" font-weight="normal" >(Alexa555)</text>
<text x="92.2" y="384.8" font-size="7.2" fill="#d04050" text-anchor="middle" font-weight="normal" >Acceptor</text>
<text x="92.2" y="392.4" font-size="7.2" fill="#d04050" text-anchor="middle" font-weight="normal" >(Cy5)</text>
<path d="M124,326 C123,334 128,338 131,343 C133,347 131,351 130,354" stroke="#555" stroke-width="1.3" fill="none" />
<g opacity="1.0" transform="rotate(0 129.7 372.8)"><circle cx="129.7" cy="372.8" r="19.7" fill="#626262"/><circle cx="129.7" cy="372.8" r="17.099999999999998" fill="#ececec"/><circle cx="129.7" cy="372.8" r="16.299999999999997" fill="#fff"/><path d="M129.7,372.8 L113.39999999999999,372.8 A16.299999999999997,16.299999999999997 0 0 1 129.7,356.5 Z" fill="#0b0b0b"/><path d="M129.7,372.8 L113.39999999999999,372.8 A16.299999999999997,16.299999999999997 0 0 0 129.7,389.1 Z" fill="#a4a4a4"/><path d="M129.7,372.8 L146.0,372.8 A16.299999999999997,16.299999999999997 0 0 1 129.7,389.1 Z" fill="#5e5e5e"/></g>
<circle cx="120.9" cy="364.4" r="5.1" fill="url(#gG)" />
<circle cx="120.9" cy="364.4" r="3.6" fill="url(#gball)" />
<circle cx="106.6" cy="372.1" r="3.4" fill="url(#ball)" />
<path d="M133,346 C137,349 136,353 133,355" stroke="#3a9ad8" stroke-width="1.2" fill="none" />
<path d="M136,351 L133,355.5 L131,352" stroke="#3a9ad8" stroke-width="1" fill="none" />
<path d="M135,356 L140,350" stroke="#d03040" stroke-width="1.2" fill="none" />
<circle cx="141" cy="349" r="1.6" fill="#d03040" />
<path d="M153.6,371.7 L167.2,371.7 L163.7,369.7" fill="none" stroke="#444" stroke-width="0.9"/>
<path d="M167.2,374.3 L153.6,374.3 L157.1,376.3" fill="none" stroke="#444" stroke-width="0.9"/>
<g opacity="1.0" transform="rotate(0 198.4 373.2)"><circle cx="198.4" cy="373.2" r="20" fill="#626262"/><circle cx="198.4" cy="373.2" r="17.4" fill="#ececec"/><circle cx="198.4" cy="373.2" r="16.599999999999998" fill="#fff"/><path d="M198.4,373.2 L181.8,373.2 A16.599999999999998,16.599999999999998 0 0 1 198.4,356.59999999999997 Z" fill="#0b0b0b"/><path d="M198.4,373.2 L181.8,373.2 A16.599999999999998,16.599999999999998 0 0 0 198.4,389.8 Z" fill="#a4a4a4"/><path d="M198.4,373.2 L215.0,373.2 A16.599999999999998,16.599999999999998 0 0 1 198.4,389.8 Z" fill="#5e5e5e"/></g>
<circle cx="189.6" cy="364.8" r="5.1" fill="url(#gG)" />
<circle cx="189.6" cy="364.8" r="3.6" fill="url(#gball)" />
<circle cx="174.8" cy="373" r="3.4" fill="url(#ball)" />
<path d="M213,360 C218,356 222,352 228,349" stroke="#555" stroke-width="1.3" fill="none" />
<path d="M214,362 C219,358 223,352 226,348" stroke="#c04060" stroke-width="1.1" fill="none" />
<path d="M216,358 C220,356 226,354 230,352" stroke="#3a9ad8" stroke-width="1.1" fill="none" />
<path d="M226.5,371.7 L241.7,371.7 L238.2,369.7" fill="none" stroke="#444" stroke-width="0.9"/>
<path d="M241.7,374.3 L226.5,374.3 L230.0,376.3" fill="none" stroke="#444" stroke-width="0.9"/>
<g opacity="1.0" transform="rotate(0 272 371.6)"><circle cx="272" cy="371.6" r="19.2" fill="#626262"/><circle cx="272" cy="371.6" r="16.599999999999998" fill="#ececec"/><circle cx="272" cy="371.6" r="15.799999999999997" fill="#fff"/><path d="M272,371.6 L256.2,371.6 A15.799999999999997,15.799999999999997 0 0 1 272,355.8 Z" fill="#0b0b0b"/><path d="M272,371.6 L256.2,371.6 A15.799999999999997,15.799999999999997 0 0 0 272,387.40000000000003 Z" fill="#a4a4a4"/><path d="M272,371.6 L287.8,371.6 A15.799999999999997,15.799999999999997 0 0 1 272,387.40000000000003 Z" fill="#5e5e5e"/></g>
<circle cx="263.4" cy="363.5" r="5.1" fill="url(#gG)" />
<circle cx="263.4" cy="363.5" r="3.6" fill="url(#gball)" />
<circle cx="249.3" cy="373" r="3.4" fill="url(#ball)" />
<path d="M290,375 C300,378 307,390 322.8,385.4" stroke="#555" stroke-width="1.4" fill="none" />
<path d="M291,372 C295,370 299,371 301,373" stroke="#d03040" stroke-width="1.1" fill="none" />
<path d="M296,367 C299,365 300,362 298,359" stroke="#3a9ad8" stroke-width="1.1" fill="none" />
<text x="364.2" y="324.2" font-size="8.2" fill="#444" text-anchor="start" font-weight="normal" >Scheme 1</text>
<g opacity="1.0" transform="rotate(0 400.4 349.8)"><circle cx="400.4" cy="349.8" r="16.6" fill="#505050"/><circle cx="400.4" cy="349.8" r="14.8" fill="#e8e8e8"/><circle cx="400.4" cy="349.8" r="14.200000000000001" fill="#fff"/><path d="M400.4,349.8 L386.2,349.8 A14.200000000000001,14.200000000000001 0 0 1 400.4,335.6 Z" fill="#0b0b0b"/><path d="M400.4,349.8 L386.2,349.8 A14.200000000000001,14.200000000000001 0 0 0 400.4,364.0 Z" fill="#a4a4a4"/><path d="M400.4,349.8 L414.59999999999997,349.8 A14.200000000000001,14.200000000000001 0 0 1 400.4,364.0 Z" fill="#5e5e5e"/></g>
<circle cx="393.3" cy="342.5" r="4.4" fill="url(#gG)" />
<circle cx="393.3" cy="342.5" r="2.9" fill="url(#gball)" />
<text x="413.9" y="339" font-size="6" fill="#555" text-anchor="start" font-weight="normal" >(dT)</text>
<text x="425.6" y="340.5" font-size="3.8" fill="#555" text-anchor="start" font-weight="normal" >70</text>
<path d="M420.4,349 C423,352 423,356 420.4,359" stroke="#555" stroke-width="0.9" fill="none" />
<path d="M419.4,351.5 L420.4,348.5 L422.9,350.5 M419.4,356.5 L420.4,359.5 L422.9,357.5" stroke="#555" stroke-width="0.8" fill="none" />
<text x="412" y="368.4" font-size="6.4" fill="#888" text-anchor="start" font-weight="normal" >SSB diffusing</text>
<line x1="389.5" y1="365" x2="389.5" y2="389" stroke="#333" stroke-width="1.2" />
<line x1="393.5" y1="365.5" x2="393.5" y2="389" stroke="#333" stroke-width="1.2" />
<line x1="389.5" y1="367.0" x2="393.5" y2="367.0" stroke="#333" stroke-width="1" />
<line x1="389.5" y1="370.0" x2="393.5" y2="370.0" stroke="#333" stroke-width="1" />
<line x1="389.5" y1="373.0" x2="393.5" y2="373.0" stroke="#333" stroke-width="1" />
<line x1="389.5" y1="376.0" x2="393.5" y2="376.0" stroke="#333" stroke-width="1" />
<line x1="389.5" y1="379.0" x2="393.5" y2="379.0" stroke="#333" stroke-width="1" />
<line x1="389.5" y1="382.0" x2="393.5" y2="382.0" stroke="#333" stroke-width="1" />
<line x1="389.5" y1="385.0" x2="393.5" y2="385.0" stroke="#333" stroke-width="1" />
<line x1="389.5" y1="388.0" x2="393.5" y2="388.0" stroke="#333" stroke-width="1" />
<path d="M389.5,366 C386,362 381,361 378,364" stroke="#444" stroke-width="1.2" fill="none" />
<circle cx="387.8" cy="369.6" r="3.2" fill="url(#ball)" />
<text x="396" y="381.8" font-size="6.6" fill="#222" text-anchor="start" font-weight="bold" >18 bp</text>
<text x="360.6" y="386.6" font-size="7" fill="#c08040" text-anchor="start" font-weight="normal" >Biotin</text>
<line x1="379.5" y1="384" x2="381.5" y2="388.5" stroke="#c08040" stroke-width="0.8" />
<rect x="380" y="388.3" width="12.6" height="7.8" stroke="#6ab0d8" stroke-width="0.6" fill="#a8d8f0" />
<text x="399.3" y="395.4" font-size="7" fill="#30a8d8" text-anchor="start" font-weight="normal" >Neutravidin</text>
<line x1="393" y1="392" x2="399" y2="392" stroke="#30a8d8" stroke-width="0.8" />
<path d="M374.0,401.5 q1.4,-3 2.9,0" stroke="#555" stroke-width="0.7" fill="none" />
<path d="M376.9,401.5 q1.4,-3 2.9,0" stroke="#555" stroke-width="0.7" fill="none" />
<path d="M379.8,401.5 q1.4,-3 2.9,0" stroke="#555" stroke-width="0.7" fill="none" />
<path d="M382.7,401.5 q1.4,-3 2.9,0" stroke="#555" stroke-width="0.7" fill="none" />
<path d="M385.6,401.5 q1.4,-3 2.9,0" stroke="#555" stroke-width="0.7" fill="none" />
<path d="M388.5,401.5 q1.4,-3 2.9,0" stroke="#555" stroke-width="0.7" fill="none" />
<path d="M391.4,401.5 q1.4,-3 2.9,0" stroke="#555" stroke-width="0.7" fill="none" />
<path d="M394.3,401.5 q1.4,-3 2.9,0" stroke="#555" stroke-width="0.7" fill="none" />
<path d="M397.2,401.5 q1.4,-3 2.9,0" stroke="#555" stroke-width="0.7" fill="none" />
<path d="M400.1,401.5 q1.4,-3 2.9,0" stroke="#555" stroke-width="0.7" fill="none" />
<path d="M403.0,401.5 q1.4,-3 2.9,0" stroke="#555" stroke-width="0.7" fill="none" />
<path d="M405.9,401.5 q1.4,-3 2.9,0" stroke="#555" stroke-width="0.7" fill="none" />
<path d="M408.8,401.5 q1.4,-3 2.9,0" stroke="#555" stroke-width="0.7" fill="none" />
<path d="M411.7,401.5 q1.4,-3 2.9,0" stroke="#555" stroke-width="0.7" fill="none" />
<rect x="371.4" y="402.6" width="44.4" height="2.8" stroke="none" stroke-width="0" fill="#222" />
<text x="417.9" y="404.1" font-size="6.1" fill="#888" text-anchor="start" font-weight="normal" >PEG surface</text>
<text x="118.9" y="444" font-size="9" fill="#555" text-anchor="start" font-weight="normal" >Sliding</text>
<g opacity="1.0" transform="rotate(0 140.2 495.2)"><circle cx="140.2" cy="495.2" r="19.4" fill="#626262"/><circle cx="140.2" cy="495.2" r="16.799999999999997" fill="#ececec"/><circle cx="140.2" cy="495.2" r="15.999999999999996" fill="#fff"/><path d="M140.2,495.2 L124.19999999999999,495.2 A15.999999999999996,15.999999999999996 0 0 1 140.2,479.2 Z" fill="#0b0b0b"/><path d="M140.2,495.2 L124.19999999999999,495.2 A15.999999999999996,15.999999999999996 0 0 0 140.2,511.2 Z" fill="#a4a4a4"/><path d="M140.2,495.2 L156.2,495.2 A15.999999999999996,15.999999999999996 0 0 1 140.2,511.2 Z" fill="#5e5e5e"/></g>
<circle cx="131.39999999999998" cy="486.7" r="5.1" fill="url(#gG)" />
<circle cx="131.39999999999998" cy="486.7" r="3.6" fill="url(#gball)" />
<circle cx="117.2" cy="495.2" r="3.4" fill="url(#ball)" />
<path d="M131.2,515.7 C135.2,517.7 145.2,517.7 149.2,515.7" stroke="#666" stroke-width="0.9" fill="none" />
<path d="M134.7,448 C132,454 138,458 138,464 C138,469 137,473 139,476" stroke="#555" stroke-width="1.3" fill="none" />
<path d="M132,463 C128,465 133,470 129,472" stroke="#3a9ad8" stroke-width="1.2" fill="none" />
<path d="M127,470 L129,473 L131.5,470.5" stroke="#3a9ad8" stroke-width="1" fill="none" />
<path d="M148,466 C145,469 150,472 147,475" stroke="#d03040" stroke-width="1.2" fill="none" />
<path d="M146,467 L148,464 L150.5,467" stroke="#d03040" stroke-width="1" fill="none" />
<path d="M166.6,493.9 L183.2,493.9 L179.7,491.9" fill="none" stroke="#444" stroke-width="0.9"/>
<path d="M183.2,496.5 L166.6,496.5 L170.1,498.5" fill="none" stroke="#444" stroke-width="0.9"/>
<g opacity="1.0" transform="rotate(0 210.7 495.2)"><circle cx="210.7" cy="495.2" r="19.4" fill="#626262"/><circle cx="210.7" cy="495.2" r="16.799999999999997" fill="#ececec"/><circle cx="210.7" cy="495.2" r="15.999999999999996" fill="#fff"/><path d="M210.7,495.2 L194.7,495.2 A15.999999999999996,15.999999999999996 0 0 1 210.7,479.2 Z" fill="#0b0b0b"/><path d="M210.7,495.2 L194.7,495.2 A15.999999999999996,15.999999999999996 0 0 0 210.7,511.2 Z" fill="#a4a4a4"/><path d="M210.7,495.2 L226.7,495.2 A15.999999999999996,15.999999999999996 0 0 1 210.7,511.2 Z" fill="#5e5e5e"/></g>
<circle cx="201.89999999999998" cy="486.7" r="5.1" fill="url(#gG)" />
<circle cx="201.89999999999998" cy="486.7" r="3.6" fill="url(#gball)" />
<circle cx="194.9" cy="511.3" r="3.4" fill="url(#ball)" />
<path d="M201.7,515.7 C205.7,517.7 215.7,517.7 219.7,515.7" stroke="#666" stroke-width="0.9" fill="none" />
<path d="M207.5,476 C206,470 203,466 204,461 C205,457 204,455 203,453" stroke="#555" stroke-width="1.3" fill="none" />
<path d="M213.5,476 C214,470 217,466 220,463 C222,461 223,459 223,457" stroke="#555" stroke-width="1.3" fill="none" />
<path d="M201,463 C197,465 201,469 197,471" stroke="#3a9ad8" stroke-width="1.2" fill="none" />
<path d="M195.5,469 L197,472 L199.8,470" stroke="#3a9ad8" stroke-width="1" fill="none" />
<path d="M224,465 C221,468 226,471 223,474" stroke="#d03040" stroke-width="1.2" fill="none" />
<path d="M222,466 L224,463.5 L226,466.5" stroke="#d03040" stroke-width="1" fill="none" />
<path d="M235.9,493.9 L252.6,493.9 L249.1,491.9" fill="none" stroke="#444" stroke-width="0.9"/>
<path d="M252.6,496.5 L235.9,496.5 L239.4,498.5" fill="none" stroke="#444" stroke-width="0.9"/>
<g opacity="1.0" transform="rotate(0 277.8 495.2)"><circle cx="277.8" cy="495.2" r="19.4" fill="#626262"/><circle cx="277.8" cy="495.2" r="16.799999999999997" fill="#ececec"/><circle cx="277.8" cy="495.2" r="15.999999999999996" fill="#fff"/><path d="M277.8,495.2 L261.8,495.2 A15.999999999999996,15.999999999999996 0 0 1 277.8,479.2 Z" fill="#0b0b0b"/><path d="M277.8,495.2 L261.8,495.2 A15.999999999999996,15.999999999999996 0 0 0 277.8,511.2 Z" fill="#a4a4a4"/><path d="M277.8,495.2 L293.8,495.2 A15.999999999999996,15.999999999999996 0 0 1 277.8,511.2 Z" fill="#5e5e5e"/></g>
<circle cx="269.0" cy="486.7" r="5.1" fill="url(#gG)" />
<circle cx="269.0" cy="486.7" r="3.6" fill="url(#gball)" />
<circle cx="294.2" cy="511.3" r="3.4" fill="url(#ball)" />
<path d="M268.8,515.7 C272.8,517.7 282.8,517.7 286.8,515.7" stroke="#666" stroke-width="0.9" fill="none" />
<path d="M279,476 C281,470 286,466 287,460 C288,455 286,451 288,447" stroke="#555" stroke-width="1.3" fill="none" />
<path d="M273,465 C270,468 274,471 271,473" stroke="#3a9ad8" stroke-width="1.2" fill="none" />
<path d="M269.5,471 L271,474 L273.5,472" stroke="#3a9ad8" stroke-width="1" fill="none" />
<path d="M292,467 C289,470 293,473 290,475" stroke="#d03040" stroke-width="1.2" fill="none" />
<path d="M290,468 L292,465.5 L294,468.5" stroke="#d03040" stroke-width="1" fill="none" />
<text x="366.6" y="439.6" font-size="8.2" fill="#444" text-anchor="start" font-weight="normal" >Scheme 2</text>
<g opacity="1.0" transform="rotate(0 400.4 466.3)"><circle cx="400.4" cy="466.3" r="16.6" fill="#505050"/><circle cx="400.4" cy="466.3" r="14.8" fill="#e8e8e8"/><circle cx="400.4" cy="466.3" r="14.200000000000001" fill="#fff"/><path d="M400.4,466.3 L386.2,466.3 A14.200000000000001,14.200000000000001 0 0 1 400.4,452.1 Z" fill="#0b0b0b"/><path d="M400.4,466.3 L386.2,466.3 A14.200000000000001,14.200000000000001 0 0 0 400.4,480.5 Z" fill="#a4a4a4"/><path d="M400.4,466.3 L414.59999999999997,466.3 A14.200000000000001,14.200000000000001 0 0 1 400.4,480.5 Z" fill="#5e5e5e"/></g>
<circle cx="394.4" cy="460.4" r="4.4" fill="url(#gG)" />
<circle cx="394.4" cy="460.4" r="2.9" fill="url(#gball)" />
<circle cx="403.2" cy="448.8" r="3.1" fill="url(#ball)" />
<text x="367.5" y="461.5" font-size="6" fill="#555" text-anchor="start" font-weight="normal" >(dT)</text>
<text x="379.2" y="463" font-size="3.8" fill="#555" text-anchor="start" font-weight="normal" >35</text>
<text x="418.1" y="461.5" font-size="6" fill="#555" text-anchor="start" font-weight="normal" >(dT)</text>
<text x="429.8" y="463" font-size="3.8" fill="#555" text-anchor="start" font-weight="normal" >35</text>
<text x="402.6" y="490.6" font-size="6.4" fill="#888" text-anchor="start" font-weight="normal" >SSB diffusing</text>
<path d="M418.4,473.9 C417,478 415,480 411.8,481.8" stroke="#555" stroke-width="0.9" fill="none" />
<path d="M416.5,473.5 L418.6,471.5 L419.8,474.5 M412.8,479.8 L411.2,482.3 L414.3,482.8" stroke="#555" stroke-width="0.8" fill="none" />
<line x1="388.7" y1="486" x2="388.7" y2="505" stroke="#333" stroke-width="1.2" />
<line x1="393.5" y1="486" x2="393.5" y2="505" stroke="#333" stroke-width="1.2" />
<line x1="388.7" y1="487.5" x2="393.5" y2="487.5" stroke="#333" stroke-width="1" />
<line x1="388.7" y1="490.2" x2="393.5" y2="490.2" stroke="#333" stroke-width="1" />
<line x1="388.7" y1="492.9" x2="393.5" y2="492.9" stroke="#333" stroke-width="1" />
<line x1="388.7" y1="495.6" x2="393.5" y2="495.6" stroke="#333" stroke-width="1" />
<line x1="388.7" y1="498.3" x2="393.5" y2="498.3" stroke="#333" stroke-width="1" />
<line x1="388.7" y1="501.0" x2="393.5" y2="501.0" stroke="#333" stroke-width="1" />
<line x1="388.7" y1="503.7" x2="393.5" y2="503.7" stroke="#333" stroke-width="1" />
<path d="M390.7,481.8 C388,484 385,478 381,479 C378,480 377,482 374,481" stroke="#444" stroke-width="1.2" fill="none" />
<path d="M393.5,486 C394,484 396,483 398,482.6" stroke="#444" stroke-width="1.1" fill="none" />
<text x="396" y="499.4" font-size="6.6" fill="#222" text-anchor="start" font-weight="bold" >18 bp</text>
<rect x="380.8" y="506.9" width="11.2" height="7.9" stroke="#6ab0d8" stroke-width="0.6" fill="#a8d8f0" />
<path d="M373.5,518 q1.4,-3 2.9,0" stroke="#555" stroke-width="0.7" fill="none" />
<path d="M376.4,518 q1.4,-3 2.9,0" stroke="#555" stroke-width="0.7" fill="none" />
<path d="M379.3,518 q1.4,-3 2.9,0" stroke="#555" stroke-width="0.7" fill="none" />
<path d="M382.2,518 q1.4,-3 2.9,0" stroke="#555" stroke-width="0.7" fill="none" />
<path d="M385.1,518 q1.4,-3 2.9,0" stroke="#555" stroke-width="0.7" fill="none" />
<path d="M388.0,518 q1.4,-3 2.9,0" stroke="#555" stroke-width="0.7" fill="none" />
<path d="M390.9,518 q1.4,-3 2.9,0" stroke="#555" stroke-width="0.7" fill="none" />
<path d="M393.8,518 q1.4,-3 2.9,0" stroke="#555" stroke-width="0.7" fill="none" />
<path d="M396.7,518 q1.4,-3 2.9,0" stroke="#555" stroke-width="0.7" fill="none" />
<path d="M399.6,518 q1.4,-3 2.9,0" stroke="#555" stroke-width="0.7" fill="none" />
<path d="M402.5,518 q1.4,-3 2.9,0" stroke="#555" stroke-width="0.7" fill="none" />
<path d="M405.4,518 q1.4,-3 2.9,0" stroke="#555" stroke-width="0.7" fill="none" />
<path d="M408.3,518 q1.4,-3 2.9,0" stroke="#555" stroke-width="0.7" fill="none" />
<path d="M411.2,518 q1.4,-3 2.9,0" stroke="#555" stroke-width="0.7" fill="none" />
<rect x="371.5" y="519.5" width="44.9" height="3.6" stroke="none" stroke-width="0" fill="#222" />
<rect x="525.7" y="314.4" width="213.29999999999995" height="84.80000000000001" stroke="#6a6a6a" stroke-width="1.0" fill="none" />
<line x1="525.7" y1="356.6" x2="739" y2="356.6" stroke="#6a6a6a" stroke-width="1" />
<line x1="525.7" y1="399.2" x2="525.7" y2="397.4" stroke="#888" stroke-width="0.7" />
<line x1="525.7" y1="314.4" x2="525.7" y2="316.2" stroke="#888" stroke-width="0.7" />
<line x1="534.2320000000001" y1="399.2" x2="534.2320000000001" y2="397.4" stroke="#888" stroke-width="0.7" />
<line x1="534.2320000000001" y1="314.4" x2="534.2320000000001" y2="316.2" stroke="#888" stroke-width="0.7" />
<line x1="542.764" y1="399.2" x2="542.764" y2="397.4" stroke="#888" stroke-width="0.7" />
<line x1="542.764" y1="314.4" x2="542.764" y2="316.2" stroke="#888" stroke-width="0.7" />
<line x1="551.296" y1="399.2" x2="551.296" y2="397.4" stroke="#888" stroke-width="0.7" />
<line x1="551.296" y1="314.4" x2="551.296" y2="316.2" stroke="#888" stroke-width="0.7" />
<line x1="559.8280000000001" y1="399.2" x2="559.8280000000001" y2="397.4" stroke="#888" stroke-width="0.7" />
<line x1="559.8280000000001" y1="314.4" x2="559.8280000000001" y2="316.2" stroke="#888" stroke-width="0.7" />
<line x1="568.36" y1="399.2" x2="568.36" y2="397.4" stroke="#888" stroke-width="0.7" />
<line x1="568.36" y1="314.4" x2="568.36" y2="316.2" stroke="#888" stroke-width="0.7" />
<line x1="576.892" y1="399.2" x2="576.892" y2="397.4" stroke="#888" stroke-width="0.7" />
<line x1="576.892" y1="314.4" x2="576.892" y2="316.2" stroke="#888" stroke-width="0.7" />
<line x1="585.424" y1="399.2" x2="585.424" y2="397.4" stroke="#888" stroke-width="0.7" />
<line x1="585.424" y1="314.4" x2="585.424" y2="316.2" stroke="#888" stroke-width="0.7" />
<line x1="593.956" y1="399.2" x2="593.956" y2="397.4" stroke="#888" stroke-width="0.7" />
<line x1="593.956" y1="314.4" x2="593.956" y2="316.2" stroke="#888" stroke-width="0.7" />
<line x1="602.488" y1="399.2" x2="602.488" y2="397.4" stroke="#888" stroke-width="0.7" />
<line x1="602.488" y1="314.4" x2="602.488" y2="316.2" stroke="#888" stroke-width="0.7" />
<line x1="611.02" y1="399.2" x2="611.02" y2="397.4" stroke="#888" stroke-width="0.7" />
<line x1="611.02" y1="314.4" x2="611.02" y2="316.2" stroke="#888" stroke-width="0.7" />
<line x1="619.552" y1="399.2" x2="619.552" y2="397.4" stroke="#888" stroke-width="0.7" />
<line x1="619.552" y1="314.4" x2="619.552" y2="316.2" stroke="#888" stroke-width="0.7" />
<line x1="628.0840000000001" y1="399.2" x2="628.0840000000001" y2="397.4" stroke="#888" stroke-width="0.7" />
<line x1="628.0840000000001" y1="314.4" x2="628.0840000000001" y2="316.2" stroke="#888" stroke-width="0.7" />
<line x1="636.616" y1="399.2" x2="636.616" y2="397.4" stroke="#888" stroke-width="0.7" />
<line x1="636.616" y1="314.4" x2="636.616" y2="316.2" stroke="#888" stroke-width="0.7" />
<line x1="645.148" y1="399.2" x2="645.148" y2="397.4" stroke="#888" stroke-width="0.7" />
<line x1="645.148" y1="314.4" x2="645.148" y2="316.2" stroke="#888" stroke-width="0.7" />
<line x1="653.6800000000001" y1="399.2" x2="653.6800000000001" y2="397.4" stroke="#888" stroke-width="0.7" />
<line x1="653.6800000000001" y1="314.4" x2="653.6800000000001" y2="316.2" stroke="#888" stroke-width="0.7" />
<line x1="662.212" y1="399.2" x2="662.212" y2="397.4" stroke="#888" stroke-width="0.7" />
<line x1="662.212" y1="314.4" x2="662.212" y2="316.2" stroke="#888" stroke-width="0.7" />
<line x1="670.744" y1="399.2" x2="670.744" y2="397.4" stroke="#888" stroke-width="0.7" />
<line x1="670.744" y1="314.4" x2="670.744" y2="316.2" stroke="#888" stroke-width="0.7" />
<line x1="679.2760000000001" y1="399.2" x2="679.2760000000001" y2="397.4" stroke="#888" stroke-width="0.7" />
<line x1="679.2760000000001" y1="314.4" x2="679.2760000000001" y2="316.2" stroke="#888" stroke-width="0.7" />
<line x1="687.808" y1="399.2" x2="687.808" y2="397.4" stroke="#888" stroke-width="0.7" />
<line x1="687.808" y1="314.4" x2="687.808" y2="316.2" stroke="#888" stroke-width="0.7" />
<line x1="696.34" y1="399.2" x2="696.34" y2="397.4" stroke="#888" stroke-width="0.7" />
<line x1="696.34" y1="314.4" x2="696.34" y2="316.2" stroke="#888" stroke-width="0.7" />
<line x1="704.8720000000001" y1="399.2" x2="704.8720000000001" y2="397.4" stroke="#888" stroke-width="0.7" />
<line x1="704.8720000000001" y1="314.4" x2="704.8720000000001" y2="316.2" stroke="#888" stroke-width="0.7" />
<line x1="713.404" y1="399.2" x2="713.404" y2="397.4" stroke="#888" stroke-width="0.7" />
<line x1="713.404" y1="314.4" x2="713.404" y2="316.2" stroke="#888" stroke-width="0.7" />
<line x1="721.936" y1="399.2" x2="721.936" y2="397.4" stroke="#888" stroke-width="0.7" />
<line x1="721.936" y1="314.4" x2="721.936" y2="316.2" stroke="#888" stroke-width="0.7" />
<line x1="730.4680000000001" y1="399.2" x2="730.4680000000001" y2="397.4" stroke="#888" stroke-width="0.7" />
<line x1="730.4680000000001" y1="314.4" x2="730.4680000000001" y2="316.2" stroke="#888" stroke-width="0.7" />
<line x1="739.0" y1="399.2" x2="739.0" y2="397.4" stroke="#888" stroke-width="0.7" />
<line x1="739.0" y1="314.4" x2="739.0" y2="316.2" stroke="#888" stroke-width="0.7" />
<polyline points="526.7,343.8 527.0,345.0 527.3,344.8 527.6,344.5 527.9,346.6 528.2,347.7 528.5,347.3 528.8,345.3 529.1,344.2 529.4,345.3 529.7,347.2 530.0,343.9 530.3,347.3 530.6,346.2 530.9,346.2 531.2,345.1 531.5,343.9 531.8,347.0 532.1,345.8 532.4,344.8 532.7,346.5 533.0,345.3 533.3,344.8 533.6,346.6 533.9,346.7 534.2,345.1 534.5,345.1 534.9,344.4 535.2,341.8 535.5,343.1 535.8,343.8 536.1,345.3 536.4,343.3 536.7,345.2 537.0,342.4 537.3,342.5 537.6,346.5 537.9,345.8 538.2,344.4 538.5,344.5 538.8,345.6 539.1,345.6 539.4,343.1 539.7,344.4 540.0,345.7 540.3,344.3 540.6,342.5 540.9,341.4 541.2,343.3 541.5,343.9 541.8,344.6 542.1,344.3 542.4,342.9 542.7,341.9 543.0,341.8 543.3,343.6 543.6,342.4 543.9,342.4 544.2,342.8 544.5,346.5 544.8,343.9 545.1,343.9 545.4,341.9 545.7,343.8 546.0,343.1 546.3,343.3 546.6,342.1 546.9,342.6 547.2,342.4 547.5,341.8 547.8,342.5 548.1,342.8 548.4,344.2 548.7,343.9 549.0,341.4 549.3,343.9 549.6,343.6 549.9,344.3 550.2,344.7 550.5,348.3 550.8,342.7 551.2,345.9 551.5,345.8 551.8,343.1 552.1,347.6 552.4,345.1 552.7,345.7 553.0,347.4 553.3,344.6 553.6,346.1 553.9,345.5 554.2,345.9 554.5,344.6 554.8,342.5 555.1,346.8 555.4,344.6 555.7,346.4 556.0,346.2 556.3,348.2 556.6,347.5 556.9,346.6 557.2,344.9 557.5,345.5 557.8,345.2 558.1,345.0 558.4,347.7 558.7,344.4 559.0,346.3 559.3,345.3 559.6,346.3 559.9,345.8 560.2,345.3 560.5,348.9 560.8,343.9 561.1,345.7 561.4,344.7 561.7,345.7 562.0,345.9 562.3,347.7 562.6,346.7 562.9,348.9 563.2,346.4 563.5,344.0 563.8,348.1 564.1,346.9 564.4,346.4 564.7,344.3 565.0,344.0 565.3,345.4 565.6,345.4 565.9,345.7 566.2,346.1 566.5,346.0 566.8,345.9 567.1,345.5 567.5,345.1 567.8,345.9 568.1,344.3 568.4,344.9 568.7,344.2 569.0,346.4 569.3,345.8 569.6,344.6 569.9,344.2 570.2,344.7 570.5,342.5 570.8,344.4 571.1,342.5 571.4,342.3 571.7,343.1 572.0,343.4 572.3,343.3 572.6,344.1 572.9,345.4 573.2,344.7 573.5,344.7 573.8,344.4 574.1,344.8 574.4,345.2 574.7,343.7 575.0,341.9 575.3,344.6 575.6,346.1 575.9,344.6 576.2,345.3 576.5,345.1 576.8,345.4 577.1,344.0 577.4,343.0 577.7,340.7 578.0,344.8 578.3,345.5 578.6,344.1 578.9,343.9 579.2,341.7 579.5,341.9 579.8,344.4 580.1,346.4 580.4,343.4 580.7,344.4 581.0,342.2 581.3,343.9 581.6,344.2 581.9,345.6 582.2,344.3 582.5,342.7 582.8,345.1 583.1,344.1 583.4,345.0 583.8,343.3 584.1,344.4 584.4,343.8 584.7,344.0 585.0,345.6 585.3,346.2 585.6,343.2 585.9,345.0 586.2,346.1 586.5,345.8 586.8,342.9 587.1,344.6 587.4,343.5 587.7,347.8 588.0,342.4 588.3,344.7 588.6,343.4 588.9,345.4 589.2,345.3 589.5,344.2 589.8,342.8 590.1,344.9 590.4,346.2 590.7,344.2 591.0,342.6 591.3,346.9 591.6,346.7 591.9,344.8 592.2,345.9 592.5,348.3 592.8,345.8 593.1,345.1 593.4,344.6 593.7,343.6 594.0,346.9 594.3,346.3 594.6,345.6 594.9,344.9 595.2,346.3 595.5,345.5 595.8,346.4 596.1,344.4 596.4,343.7 596.7,346.1 597.0,344.7 597.3,346.5 597.6,344.9 597.9,347.0 598.2,345.1 598.5,343.7 598.8,343.8 599.1,347.3 599.4,345.1 599.7,345.5 600.1,343.3 600.4,344.3 600.7,343.0 601.0,345.4 601.3,346.4 601.6,348.1 601.9,344.8 602.2,345.2 602.5,344.5 602.8,345.0 603.1,344.5 603.4,342.9 603.7,346.1 604.0,344.2 604.3,343.0 604.6,343.8 604.9,342.2 605.2,344.8 605.5,344.4 605.8,345.0 606.1,345.1 606.4,342.4 606.7,346.2 607.0,345.5 607.3,345.3 607.6,344.6 607.9,345.0 608.2,343.8 608.5,343.8 608.8,342.2 609.1,343.2 609.4,345.6 609.7,346.7 610.0,345.3 610.3,345.5 610.6,345.0 610.9,343.0 611.2,344.0 611.5,346.3 611.8,345.8 612.1,342.8 612.4,346.0 612.7,343.9 613.0,343.5 613.3,346.1 613.6,346.5 613.9,344.5 614.2,344.3 614.5,343.4 614.8,343.9 615.1,345.9 615.4,342.6 615.7,344.3 616.0,344.5 616.4,344.5 616.7,346.7 617.0,346.0 617.3,343.9 617.6,343.8 617.9,345.3 618.2,344.7 618.5,345.4 618.8,345.5 619.1,345.4 619.4,346.2 619.7,345.8 620.0,345.0 620.3,344.7 620.6,344.9 620.9,344.9 621.2,344.1 621.5,344.4 621.8,344.5 622.1,345.1 622.4,344.7 622.7,343.6 623.0,343.6 623.3,344.8 623.6,345.3 623.9,345.5 624.2,345.9 624.5,342.6 624.8,345.3 625.1,343.3 625.4,344.4 625.7,343.5 626.0,345.0 626.3,344.7 626.6,343.1 626.9,342.2 627.2,343.8 627.5,342.8 627.8,343.2 628.1,342.9 628.4,343.7 628.7,344.3 629.0,341.2 629.3,344.3 629.6,343.1 629.9,344.4 630.2,343.7 630.5,344.9 630.8,345.2 631.1,344.5 631.4,343.3 631.7,345.6 632.0,342.7 632.4,344.1 632.7,343.7 633.0,345.1 633.3,343.1 633.6,344.4 633.9,343.9 634.2,346.5 634.5,342.2 634.8,343.3 635.1,345.3 635.4,345.4 635.7,344.4 636.0,345.7 636.3,346.6 636.6,345.1 636.9,343.1 637.2,343.8 637.5,344.2 637.8,345.4 638.1,342.9 638.4,345.9 638.7,346.2 639.0,346.7 639.3,344.7 639.6,346.1 639.9,345.2 640.2,344.2 640.5,347.2 640.8,346.5 641.1,344.7 641.4,345.1 641.7,345.5 642.0,345.4 642.3,346.3 642.6,345.2 642.9,344.4 643.2,346.3 643.5,346.5 643.8,347.2 644.1,346.0 644.4,344.2 644.7,346.3 645.0,346.0 645.3,343.9 645.6,346.5 645.9,346.1 646.2,345.7 646.5,345.8 646.8,343.1 647.1,345.6 647.4,343.8 647.7,344.7 648.0,342.8 648.3,342.5 648.7,347.2 649.0,345.0 649.3,345.5 649.6,343.6 649.9,343.0 650.2,344.7 650.5,345.3 650.8,344.5 651.1,346.5 651.4,344.8 651.7,344.3 652.0,344.8 652.3,346.1 652.6,344.0 652.9,345.0 653.2,345.5 653.5,344.3 653.8,345.8 654.1,343.6 654.4,344.6 654.7,345.7 655.0,344.2 655.3,341.9 655.6,342.7 655.9,346.0 656.2,345.6 656.5,343.6 656.8,342.9 657.1,344.2 657.4,343.1 657.7,345.4 658.0,343.1 658.3,345.8 658.6,343.6 658.9,342.2 659.2,343.8 659.5,342.9 659.8,346.7 660.1,342.9 660.4,343.9 660.7,342.7 661.0,345.3 661.3,341.6 661.6,343.2 661.9,341.5 662.2,345.1 662.5,344.9 662.8,342.1 663.1,342.9 663.4,344.9 663.7,344.7 664.0,344.8 664.3,342.5 664.6,344.4 665.0,343.8 665.3,342.5 665.6,344.8 665.9,344.6 666.2,344.9 666.5,342.5 666.8,344.5 667.1,342.8 667.4,343.0 667.7,343.5 668.0,343.0 668.3,343.2 668.6,344.8 668.9,343.3 669.2,340.5 669.5,343.3 669.8,344.4 670.1,344.4 670.4,344.9 670.7,344.9 671.0,347.3 671.3,346.3 671.6,343.6 671.9,344.3 672.2,344.4 672.5,345.7 672.8,344.8 673.1,344.8 673.4,345.8 673.7,347.3 674.0,346.5 674.3,344.9 674.6,344.3 674.9,345.4 675.2,344.7 675.5,347.6 675.8,347.8 676.1,345.1 676.4,346.8 676.7,343.3 677.0,345.4 677.3,347.4 677.6,344.8 677.9,347.2 678.2,345.0 678.5,346.5 678.8,347.9 679.1,343.8 679.4,346.5 679.7,345.3 680.0,345.2 680.3,346.7 680.6,347.2 680.9,345.0 681.3,343.5 681.6,344.2 681.9,345.8 682.2,345.9 682.5,344.8 682.8,344.9 683.1,347.5 683.4,344.8 683.7,344.8 684.0,347.4 684.3,345.8 684.6,347.0 684.9,344.5 685.2,344.7 685.5,345.3 685.8,345.6 686.1,345.3 686.4,345.0 686.7,345.7 687.0,344.2 687.3,345.8 687.6,345.0 687.9,345.6 688.2,345.2 688.5,344.4 688.8,347.2 689.1,347.3 689.4,343.7 689.7,345.5 690.0,346.2 690.3,345.8 690.6,345.8 690.9,343.0 691.2,342.4 691.5,344.0 691.8,341.9 692.1,345.4 692.4,343.5 692.7,345.2 693.0,345.3 693.3,342.0 693.6,344.3 693.9,345.2 694.2,343.6 694.5,341.9 694.8,346.0 695.1,344.8 695.4,343.8 695.7,345.5 696.0,344.6 696.3,345.8 696.6,343.7 696.9,342.5 697.2,343.8 697.6,344.8 697.9,345.6 698.2,342.6 698.5,343.9 698.8,342.4 699.1,344.9 699.4,345.4 699.7,344.3 700.0,343.8 700.3,342.7 700.6,343.3 700.9,344.2 701.2,345.2 701.5,345.3 701.8,343.4 702.1,343.5 702.4,344.1 702.7,343.6 703.0,342.1 703.3,342.7 703.6,344.7 703.9,342.5 704.2,345.6 704.5,344.2 704.8,344.6 705.1,344.2 705.4,343.7 705.7,343.9 706.0,343.5 706.3,346.1 706.6,342.6 706.9,344.7 707.2,344.2 707.5,342.7 707.8,344.8 708.1,345.4 708.4,346.5 708.7,343.5 709.0,344.4 709.3,344.2 709.6,343.7 709.9,345.2 710.2,347.4 710.5,347.1 710.8,344.6 711.1,343.8 711.4,345.2 711.7,344.0 712.0,345.0 712.3,344.9 712.6,343.3 712.9,349.0 713.2,345.0 713.5,343.7 713.9,346.3 714.2,343.8 714.5,347.1 714.8,344.0 715.1,344.1 715.4,345.4 715.7,343.9 716.0,343.9 716.3,343.9 716.6,344.6 716.9,344.4 717.2,343.0 717.5,347.1 717.8,344.2 718.1,347.0 718.4,346.7 718.7,346.7 719.0,347.5 719.3,345.9 719.6,347.8 719.9,346.3 720.2,345.1 720.5,345.2 720.8,343.2 721.1,343.7 721.4,343.9 721.7,345.2 722.0,345.4 722.3,345.7 722.6,347.6 722.9,345.5 723.2,346.7 723.5,346.5 723.8,347.5 724.1,345.6 724.4,344.9 724.7,344.4 725.0,345.0 725.3,345.3 725.6,346.3 725.9,344.6 726.2,346.9 726.5,344.6 726.8,345.6 727.1,343.2 727.4,345.5 727.7,344.3 728.0,344.9 728.3,344.3 728.6,344.3 728.9,347.9 729.2,347.1 729.5,344.6 729.8,345.8 730.2,346.3 730.5,345.8 730.8,343.9 731.1,344.6 731.4,346.3 731.7,344.9 732.0,344.9 732.3,345.7 732.6,341.9 732.9,344.6 733.2,344.7 733.5,343.8 733.8,344.2 734.1,343.2 734.4,345.6 734.7,344.2 735.0,345.8 735.3,345.6 735.6,343.6 735.9,344.0 736.2,345.5 736.5,343.6 736.8,344.0 737.1,346.1 737.4,345.5 737.7,342.9 738.0,344.2" fill="none" stroke="#3a9a3a" stroke-width="0.8" stroke-linejoin="round" />
<polyline points="526.7,330.0 527.0,330.2 527.3,330.0 527.6,327.2 527.9,329.9 528.2,335.0 528.5,329.2 528.8,330.7 529.1,330.8 529.4,329.7 529.7,329.3 530.0,326.2 530.3,327.7 530.6,329.9 530.9,333.2 531.2,334.6 531.5,330.5 531.8,326.6 532.1,330.7 532.4,331.8 532.7,329.9 533.0,336.8 533.3,333.7 533.6,330.7 533.9,329.3 534.2,333.2 534.5,331.7 534.9,332.1 535.2,330.5 535.5,337.1 535.8,332.2 536.1,339.1 536.4,343.8 536.7,337.5 537.0,338.1 537.3,332.1 537.6,332.4 537.9,339.2 538.2,332.9 538.5,338.8 538.8,336.4 539.1,337.0 539.4,335.8 539.7,333.4 540.0,333.9 540.3,335.1 540.6,334.3 540.9,334.9 541.2,338.9 541.5,339.7 541.8,339.0 542.1,335.6 542.4,337.9 542.7,329.2 543.0,339.3 543.3,341.3 543.6,335.0 543.9,332.1 544.2,335.0 544.5,334.1 544.8,331.9 545.1,336.9 545.4,341.9 545.7,339.3 546.0,333.7 546.3,341.4 546.6,336.9 546.9,335.6 547.2,337.3 547.5,333.7 547.8,333.7 548.1,327.4 548.4,332.6 548.7,337.2 549.0,337.3 549.3,338.0 549.6,331.7 549.9,336.1 550.2,334.6 550.5,331.4 550.8,336.0 551.2,334.7 551.5,339.7 551.8,337.3 552.1,335.1 552.4,331.2 552.7,327.9 553.0,331.5 553.3,330.7 553.6,330.7 553.9,327.3 554.2,327.4 554.5,329.3 554.8,333.8 555.1,327.4 555.4,328.4 555.7,325.3 556.0,329.2 556.3,322.5 556.6,329.7 556.9,323.5 557.2,327.9 557.5,330.4 557.8,332.7 558.1,329.4 558.4,323.5 558.7,324.9 559.0,325.5 559.3,336.1 559.6,326.4 559.9,326.0 560.2,329.7 560.5,330.4 560.8,328.3 561.1,322.1 561.4,331.2 561.7,330.0 562.0,323.7 562.3,329.4 562.6,329.8 562.9,328.3 563.2,333.0 563.5,328.5 563.8,333.1 564.1,326.5 564.4,329.0 564.7,321.5 565.0,327.9 565.3,325.0 565.6,334.1 565.9,331.1 566.2,329.5 566.5,324.6 566.8,336.2 567.1,328.3 567.5,329.2 567.8,326.2 568.1,329.0 568.4,331.8 568.7,334.3 569.0,337.3 569.3,332.8 569.6,333.9 569.9,326.6 570.2,335.2 570.5,333.0 570.8,339.6 571.1,336.4 571.4,334.0 571.7,332.0 572.0,329.8 572.3,334.9 572.6,339.3 572.9,334.5 573.2,333.9 573.5,334.1 573.8,338.4 574.1,332.6 574.4,335.7 574.7,334.0 575.0,331.9 575.3,334.1 575.6,335.5 575.9,329.2 576.2,335.3 576.5,337.8 576.8,336.6 577.1,331.7 577.4,336.0 577.7,335.0 578.0,332.5 578.3,338.2 578.6,342.9 578.9,336.3 579.2,335.8 579.5,338.5 579.8,333.6 580.1,333.9 580.4,339.4 580.7,334.6 581.0,336.4 581.3,341.0 581.6,334.5 581.9,335.5 582.2,337.8 582.5,333.5 582.8,333.0 583.1,336.5 583.4,333.3 583.8,330.7 584.1,336.2 584.4,332.8 584.7,333.6 585.0,325.7 585.3,339.0 585.6,331.3 585.9,333.9 586.2,333.2 586.5,326.0 586.8,331.8 587.1,324.4 587.4,332.8 587.7,330.8 588.0,333.3 588.3,334.2 588.6,331.5 588.9,332.3 589.2,330.6 589.5,338.3 589.8,324.7 590.1,330.8 590.4,324.7 590.7,333.5 591.0,329.8 591.3,319.4 591.6,332.4 591.9,335.8 592.2,332.8 592.5,328.9 592.8,327.8 593.1,325.5 593.4,330.7 593.7,335.9 594.0,332.4 594.3,326.2 594.6,328.3 594.9,337.0 595.2,331.2 595.5,325.7 595.8,322.7 596.1,327.9 596.4,329.3 596.7,334.9 597.0,334.2 597.3,331.1 597.6,329.3 597.9,328.9 598.2,332.6 598.5,335.4 598.8,334.5 599.1,335.8 599.4,329.8 599.7,339.6 600.1,333.7 600.4,330.5 600.7,326.6 601.0,331.3 601.3,328.6 601.6,333.3 601.9,335.1 602.2,335.1 602.5,327.5 602.8,328.7 603.1,330.7 603.4,321.0 603.7,331.8 604.0,330.7 604.3,331.7 604.6,333.7 604.9,325.1 605.2,327.1 605.5,337.5 605.8,335.1 606.1,332.0 606.4,330.5 606.7,337.8 607.0,341.7 607.3,340.8 607.6,334.4 607.9,333.9 608.2,332.2 608.5,336.0 608.8,337.9 609.1,340.9 609.4,333.0 609.7,332.0 610.0,329.7 610.3,330.2 610.6,333.6 610.9,328.6 611.2,333.2 611.5,335.5 611.8,335.2 612.1,335.4 612.4,340.8 612.7,333.3 613.0,332.2 613.3,334.2 613.6,335.6 613.9,331.9 614.2,326.8 614.5,332.1 614.8,334.6 615.1,335.1 615.4,333.3 615.7,337.3 616.0,333.7 616.4,332.7 616.7,326.4 617.0,328.9 617.3,328.8 617.6,334.9 617.9,330.7 618.2,336.6 618.5,332.1 618.8,331.4 619.1,335.4 619.4,326.2 619.7,330.3 620.0,339.4 620.3,331.8 620.6,334.4 620.9,333.3 621.2,331.6 621.5,331.8 621.8,340.3 622.1,338.1 622.4,331.2 622.7,328.8 623.0,326.5 623.3,326.7 623.6,340.2 623.9,331.7 624.2,340.3 624.5,328.9 624.8,332.6 625.1,337.9 625.4,327.5 625.7,331.3 626.0,340.5 626.3,333.9 626.6,336.8 626.9,334.2 627.2,336.0 627.5,329.8 627.8,339.0 628.1,333.9 628.4,328.2 628.7,336.8 629.0,334.0 629.3,333.8 629.6,336.9 629.9,332.5 630.2,334.0 630.5,337.7 630.8,328.7 631.1,331.1 631.4,334.7 631.7,336.6 632.0,337.3 632.4,330.3 632.7,334.3 633.0,332.5 633.3,334.5 633.6,331.8 633.9,334.0 634.2,331.1 634.5,334.0 634.8,330.7 635.1,330.8 635.4,333.4 635.7,336.1 636.0,336.6 636.3,335.8 636.6,336.4 636.9,329.9 637.2,332.3 637.5,326.8 637.8,323.7 638.1,331.1 638.4,337.2 638.7,333.6 639.0,332.0 639.3,336.6 639.6,332.7 639.9,330.3 640.2,332.5 640.5,333.7 640.8,333.7 641.1,324.7 641.4,330.5 641.7,333.3 642.0,331.9 642.3,327.0 642.6,332.2 642.9,328.5 643.2,327.3 643.5,327.0 643.8,324.7 644.1,331.2 644.4,325.9 644.7,332.1 645.0,331.3 645.3,325.7 645.6,326.4 645.9,329.3 646.2,333.8 646.5,328.2 646.8,331.8 647.1,333.2 647.4,332.4 647.7,329.3 648.0,337.3 648.3,329.6 648.7,329.5 649.0,332.3 649.3,327.0 649.6,328.1 649.9,332.5 650.2,333.3 650.5,328.8 650.8,336.2 651.1,332.9 651.4,333.8 651.7,331.6 652.0,331.1 652.3,331.8 652.6,328.2 652.9,331.2 653.2,333.5 653.5,337.0 653.8,330.8 654.1,331.1 654.4,328.1 654.7,335.6 655.0,333.8 655.3,334.1 655.6,334.4 655.9,334.3 656.2,340.4 656.5,332.4 656.8,332.3 657.1,330.8 657.4,326.9 657.7,335.6 658.0,335.6 658.3,335.6 658.6,328.9 658.9,341.2 659.2,334.8 659.5,341.0 659.8,345.6 660.1,344.2 660.4,341.9 660.7,333.2 661.0,339.1 661.3,337.5 661.6,340.6 661.9,334.8 662.2,340.2 662.5,332.3 662.8,339.5 663.1,339.4 663.4,336.3 663.7,336.3 664.0,331.4 664.3,335.4 664.6,340.3 665.0,338.5 665.3,338.2 665.6,333.6 665.9,334.2 666.2,335.9 666.5,332.5 666.8,336.9 667.1,335.9 667.4,334.5 667.7,329.6 668.0,334.6 668.3,335.8 668.6,338.2 668.9,332.3 669.2,335.9 669.5,332.9 669.8,340.2 670.1,330.5 670.4,337.7 670.7,336.3 671.0,329.6 671.3,337.1 671.6,333.3 671.9,332.2 672.2,335.7 672.5,327.7 672.8,326.2 673.1,338.0 673.4,337.2 673.7,329.1 674.0,335.5 674.3,332.8 674.6,330.6 674.9,328.3 675.2,331.1 675.5,330.2 675.8,333.0 676.1,326.0 676.4,331.4 676.7,329.0 677.0,331.6 677.3,329.7 677.6,330.4 677.9,330.4 678.2,333.3 678.5,327.2 678.8,324.5 679.1,328.2 679.4,326.9 679.7,326.4 680.0,326.0 680.3,328.2 680.6,328.7 680.9,326.6 681.3,329.1 681.6,333.1 681.9,330.0 682.2,336.4 682.5,330.6 682.8,328.6 683.1,325.6 683.4,329.2 683.7,326.9 684.0,330.0 684.3,334.0 684.6,335.8 684.9,334.6 685.2,335.9 685.5,329.2 685.8,331.6 686.1,329.2 686.4,330.8 686.7,327.7 687.0,327.5 687.3,333.5 687.6,332.9 687.9,333.9 688.2,337.9 688.5,330.4 688.8,328.0 689.1,332.1 689.4,334.3 689.7,329.1 690.0,340.7 690.3,333.2 690.6,332.7 690.9,335.2 691.2,328.7 691.5,329.7 691.8,334.1 692.1,334.1 692.4,335.2 692.7,335.9 693.0,338.8 693.3,329.8 693.6,330.2 693.9,331.1 694.2,337.9 694.5,327.6 694.8,327.0 695.1,333.2 695.4,337.7 695.7,338.1 696.0,333.7 696.3,337.9 696.6,335.4 696.9,331.2 697.2,339.9 697.6,328.6 697.9,329.0 698.2,338.8 698.5,340.4 698.8,336.7 699.1,338.9 699.4,336.5 699.7,344.3 700.0,336.9 700.3,329.1 700.6,338.4 700.9,336.4 701.2,340.4 701.5,333.4 701.8,335.7 702.1,328.4 702.4,333.6 702.7,336.2 703.0,333.2 703.3,336.5 703.6,339.7 703.9,334.3 704.2,335.3 704.5,334.2 704.8,333.3 705.1,336.3 705.4,333.3 705.7,328.3 706.0,337.7 706.3,328.6 706.6,334.6 706.9,336.9 707.2,326.0 707.5,332.7 707.8,329.1 708.1,330.6 708.4,339.3 708.7,333.8 709.0,335.5 709.3,338.4 709.6,340.1 709.9,333.7 710.2,331.2 710.5,331.6 710.8,334.0 711.1,335.8 711.4,336.6 711.7,335.1 712.0,336.5 712.3,333.6 712.6,332.6 712.9,335.5 713.2,333.4 713.5,334.9 713.9,332.3 714.2,330.2 714.5,331.0 714.8,330.0 715.1,337.2 715.4,333.4 715.7,330.6 716.0,329.0 716.3,336.6 716.6,331.1 716.9,326.9 717.2,331.2 717.5,331.2 717.8,329.3 718.1,329.7 718.4,328.2 718.7,330.1 719.0,329.9 719.3,333.1 719.6,331.2 719.9,326.0 720.2,330.6 720.5,330.8 720.8,332.0 721.1,327.6 721.4,332.8 721.7,327.2 722.0,333.1 722.3,334.1 722.6,329.8 722.9,329.6 723.2,329.0 723.5,326.3 723.8,331.2 724.1,328.7 724.4,333.2 724.7,326.2 725.0,327.7 725.3,328.2 725.6,329.5 725.9,333.1 726.2,332.0 726.5,329.0 726.8,330.6 727.1,330.4 727.4,335.6 727.7,330.9 728.0,333.6 728.3,335.3 728.6,332.4 728.9,338.1 729.2,329.9 729.5,328.7 729.8,331.8 730.2,335.6 730.5,335.9 730.8,333.3 731.1,341.1 731.4,333.0 731.7,330.6 732.0,333.9 732.3,335.0 732.6,332.9 732.9,332.3 733.2,329.8 733.5,333.4 733.8,336.4 734.1,336.0 734.4,333.9 734.7,329.0 735.0,335.2 735.3,338.5 735.6,338.3 735.9,342.7 736.2,334.8 736.5,340.0 736.8,340.2 737.1,342.9 737.4,340.3 737.7,334.2 738.0,340.2" fill="none" stroke="#e02030" stroke-width="0.8" stroke-linejoin="round" />
<polyline points="526.7,377.2 527.0,373.0 527.3,373.3 527.6,375.7 527.9,374.6 528.2,374.0 528.5,374.3 528.8,374.4 529.1,373.0 529.4,372.0 529.7,370.6 530.0,374.9 530.3,377.0 530.6,373.5 530.9,376.0 531.2,377.7 531.5,371.2 531.8,373.0 532.1,376.5 532.4,376.9 532.7,375.1 533.0,375.6 533.3,375.1 533.6,376.7 533.9,381.6 534.2,382.3 534.5,375.0 534.9,376.4 535.2,383.1 535.5,377.2 535.8,376.8 536.1,375.8 536.4,377.7 536.7,377.2 537.0,380.4 537.3,383.0 537.6,379.7 537.9,378.5 538.2,379.8 538.5,383.3 538.8,380.9 539.1,381.4 539.4,377.8 539.7,382.6 540.0,382.7 540.3,381.8 540.6,379.7 540.9,377.0 541.2,378.6 541.5,383.8 541.8,383.2 542.1,376.4 542.4,379.4 542.7,380.8 543.0,379.3 543.3,378.6 543.6,375.7 543.9,379.4 544.2,382.1 544.5,383.0 544.8,378.0 545.1,380.0 545.4,379.6 545.7,378.7 546.0,382.5 546.3,375.8 546.6,380.0 546.9,380.2 547.2,380.3 547.5,379.1 547.8,380.2 548.1,380.1 548.4,377.4 548.7,375.2 549.0,376.4 549.3,381.4 549.6,379.6 549.9,374.6 550.2,377.6 550.5,377.4 550.8,378.1 551.2,373.4 551.5,378.0 551.8,378.3 552.1,374.2 552.4,380.6 552.7,378.0 553.0,369.7 553.3,375.5 553.6,374.8 553.9,380.8 554.2,376.4 554.5,378.1 554.8,377.3 555.1,377.3 555.4,374.8 555.7,375.5 556.0,372.0 556.3,380.1 556.6,376.6 556.9,372.5 557.2,372.9 557.5,370.1 557.8,374.7 558.1,371.2 558.4,372.0 558.7,376.8 559.0,378.5 559.3,369.0 559.6,370.0 559.9,372.7 560.2,375.4 560.5,378.4 560.8,374.9 561.1,373.3 561.4,369.3 561.7,374.0 562.0,373.9 562.3,374.0 562.6,371.0 562.9,369.4 563.2,368.5 563.5,373.4 563.8,372.1 564.1,376.6 564.4,376.4 564.7,375.6 565.0,372.6 565.3,380.3 565.6,375.3 565.9,369.9 566.2,371.9 566.5,371.3 566.8,376.7 567.1,375.0 567.5,378.3 567.8,372.1 568.1,376.9 568.4,377.7 568.7,379.5 569.0,376.4 569.3,373.0 569.6,376.9 569.9,377.7 570.2,378.9 570.5,374.9 570.8,377.4 571.1,376.7 571.4,378.0 571.7,378.0 572.0,376.7 572.3,376.8 572.6,382.5 572.9,379.4 573.2,379.7 573.5,378.1 573.8,376.0 574.1,381.0 574.4,381.5 574.7,383.5 575.0,381.7 575.3,376.8 575.6,381.2 575.9,376.6 576.2,379.4 576.5,380.4 576.8,379.7 577.1,381.2 577.4,379.1 577.7,379.8 578.0,384.8 578.3,382.4 578.6,378.7 578.9,380.4 579.2,385.5 579.5,377.5 579.8,375.6 580.1,382.3 580.4,379.7 580.7,377.2 581.0,377.8 581.3,377.3 581.6,382.7 581.9,376.6 582.2,379.4 582.5,380.0 582.8,377.4 583.1,375.6 583.4,375.6 583.8,379.7 584.1,377.1 584.4,381.6 584.7,375.8 585.0,379.4 585.3,379.6 585.6,375.4 585.9,376.2 586.2,378.8 586.5,375.2 586.8,371.7 587.1,379.8 587.4,376.2 587.7,375.9 588.0,375.4 588.3,375.5 588.6,373.1 588.9,373.4 589.2,375.0 589.5,372.9 589.8,376.2 590.1,370.7 590.4,374.8 590.7,375.8 591.0,373.7 591.3,377.6 591.6,378.4 591.9,377.3 592.2,371.6 592.5,373.0 592.8,376.5 593.1,375.4 593.4,375.1 593.7,376.9 594.0,376.4 594.3,377.8 594.6,379.0 594.9,377.6 595.2,372.1 595.5,373.4 595.8,375.6 596.1,374.4 596.4,378.1 596.7,374.7 597.0,375.7 597.3,376.7 597.6,374.6 597.9,375.9 598.2,370.2 598.5,377.7 598.8,376.5 599.1,375.1 599.4,376.1 599.7,371.6 600.1,375.2 600.4,380.8 600.7,378.5 601.0,383.0 601.3,377.0 601.6,377.5 601.9,375.0 602.2,374.1 602.5,378.7 602.8,376.6 603.1,376.8 603.4,372.6 603.7,376.1 604.0,377.8 604.3,378.1 604.6,375.9 604.9,381.4 605.2,380.0 605.5,380.1 605.8,381.3 606.1,376.0 606.4,381.8 606.7,373.9 607.0,380.3 607.3,379.8 607.6,370.8 607.9,380.1 608.2,378.9 608.5,377.8 608.8,383.2 609.1,378.9 609.4,376.9 609.7,375.3 610.0,377.4 610.3,375.4 610.6,375.8 610.9,380.1 611.2,374.8 611.5,375.3 611.8,377.2 612.1,377.7 612.4,377.0 612.7,376.7 613.0,377.9 613.3,379.7 613.6,375.3 613.9,376.7 614.2,375.7 614.5,373.6 614.8,379.1 615.1,375.9 615.4,377.2 615.7,376.3 616.0,378.6 616.4,373.7 616.7,380.0 617.0,378.0 617.3,376.6 617.6,376.2 617.9,376.5 618.2,381.1 618.5,381.1 618.8,383.1 619.1,379.1 619.4,373.2 619.7,377.5 620.0,373.6 620.3,374.3 620.6,378.5 620.9,383.2 621.2,383.0 621.5,379.8 621.8,377.4 622.1,373.5 622.4,378.1 622.7,378.5 623.0,375.7 623.3,376.2 623.6,377.3 623.9,374.2 624.2,377.8 624.5,377.4 624.8,379.7 625.1,375.8 625.4,381.2 625.7,376.1 626.0,379.9 626.3,375.2 626.6,379.5 626.9,374.6 627.2,373.2 627.5,379.5 627.8,372.6 628.1,380.2 628.4,379.2 628.7,380.8 629.0,378.8 629.3,377.6 629.6,377.8 629.9,373.2 630.2,374.8 630.5,378.2 630.8,377.7 631.1,381.1 631.4,376.2 631.7,381.8 632.0,382.8 632.4,382.3 632.7,373.1 633.0,375.8 633.3,377.5 633.6,381.5 633.9,377.8 634.2,381.6 634.5,375.6 634.8,377.3 635.1,377.3 635.4,380.2 635.7,375.0 636.0,376.9 636.3,375.2 636.6,378.5 636.9,379.2 637.2,370.4 637.5,376.4 637.8,376.6 638.1,375.7 638.4,374.9 638.7,373.4 639.0,378.2 639.3,374.8 639.6,373.7 639.9,374.3 640.2,379.2 640.5,373.4 640.8,372.4 641.1,372.5 641.4,378.2 641.7,372.3 642.0,375.5 642.3,376.6 642.6,375.7 642.9,377.3 643.2,374.7 643.5,375.2 643.8,375.9 644.1,371.8 644.4,375.0 644.7,372.1 645.0,376.0 645.3,375.6 645.6,373.3 645.9,376.1 646.2,377.2 646.5,381.1 646.8,370.9 647.1,371.1 647.4,373.0 647.7,372.0 648.0,370.1 648.3,370.3 648.7,375.7 649.0,372.1 649.3,373.4 649.6,375.3 649.9,371.7 650.2,373.1 650.5,374.0 650.8,375.1 651.1,375.7 651.4,375.5 651.7,376.5 652.0,375.4 652.3,373.3 652.6,377.4 652.9,372.3 653.2,375.4 653.5,376.3 653.8,371.5 654.1,375.3 654.4,376.8 654.7,380.8 655.0,374.3 655.3,371.1 655.6,380.0 655.9,377.5 656.2,375.6 656.5,375.1 656.8,381.9 657.1,377.9 657.4,379.0 657.7,376.2 658.0,378.0 658.3,376.6 658.6,382.2 658.9,382.9 659.2,377.6 659.5,383.9 659.8,378.1 660.1,380.4 660.4,375.3 660.7,377.1 661.0,376.5 661.3,380.3 661.6,377.5 661.9,379.5 662.2,379.0 662.5,376.3 662.8,377.1 663.1,381.4 663.4,383.2 663.7,383.2 664.0,378.5 664.3,377.3 664.6,386.6 665.0,383.5 665.3,376.9 665.6,377.1 665.9,383.7 666.2,380.4 666.5,380.8 666.8,377.7 667.1,381.8 667.4,379.2 667.7,382.9 668.0,378.6 668.3,377.3 668.6,377.3 668.9,381.8 669.2,377.4 669.5,377.6 669.8,381.0 670.1,376.0 670.4,374.2 670.7,374.0 671.0,378.8 671.3,373.9 671.6,376.7 671.9,374.7 672.2,373.8 672.5,372.8 672.8,376.6 673.1,376.8 673.4,372.2 673.7,372.1 674.0,375.7 674.3,369.5 674.6,370.1 674.9,375.5 675.2,374.5 675.5,374.1 675.8,373.7 676.1,377.3 676.4,373.9 676.7,374.5 677.0,375.2 677.3,372.8 677.6,370.4 677.9,373.2 678.2,372.4 678.5,373.6 678.8,375.8 679.1,378.8 679.4,374.4 679.7,376.4 680.0,372.9 680.3,371.1 680.6,372.7 680.9,378.4 681.3,375.1 681.6,377.4 681.9,376.1 682.2,380.5 682.5,376.4 682.8,375.9 683.1,374.6 683.4,375.5 683.7,372.8 684.0,374.7 684.3,380.0 684.6,370.7 684.9,375.1 685.2,378.2 685.5,378.2 685.8,377.1 686.1,372.8 686.4,377.6 686.7,380.1 687.0,371.7 687.3,374.5 687.6,378.5 687.9,375.6 688.2,376.5 688.5,374.4 688.8,378.4 689.1,382.3 689.4,376.9 689.7,379.4 690.0,375.9 690.3,376.6 690.6,373.1 690.9,377.7 691.2,381.2 691.5,374.9 691.8,372.7 692.1,378.4 692.4,377.7 692.7,377.4 693.0,376.5 693.3,375.8 693.6,375.3 693.9,377.7 694.2,382.2 694.5,370.8 694.8,378.9 695.1,382.1 695.4,382.3 695.7,376.1 696.0,379.8 696.3,376.8 696.6,381.2 696.9,378.6 697.2,383.4 697.6,376.4 697.9,380.1 698.2,378.0 698.5,378.1 698.8,379.6 699.1,382.2 699.4,378.1 699.7,380.0 700.0,375.4 700.3,385.9 700.6,380.5 700.9,378.7 701.2,379.1 701.5,379.7 701.8,377.4 702.1,383.1 702.4,383.2 702.7,375.1 703.0,381.7 703.3,375.4 703.6,379.3 703.9,374.4 704.2,376.1 704.5,376.6 704.8,382.5 705.1,375.3 705.4,377.4 705.7,379.2 706.0,383.2 706.3,377.3 706.6,375.0 706.9,378.0 707.2,375.4 707.5,373.7 707.8,376.1 708.1,374.2 708.4,377.7 708.7,376.7 709.0,374.7 709.3,376.8 709.6,373.7 709.9,375.9 710.2,377.2 710.5,381.5 710.8,381.2 711.1,377.4 711.4,375.4 711.7,378.4 712.0,378.2 712.3,377.8 712.6,380.5 712.9,385.2 713.2,379.3 713.5,373.2 713.9,370.1 714.2,366.9 714.5,373.4 714.8,375.1 715.1,379.8 715.4,374.0 715.7,376.8 716.0,376.2 716.3,376.4 716.6,376.5 716.9,379.1 717.2,370.1 717.5,375.2 717.8,375.4 718.1,375.2 718.4,373.2 718.7,373.0 719.0,371.0 719.3,375.2 719.6,371.2 719.9,379.8 720.2,377.2 720.5,375.3 720.8,374.8 721.1,377.1 721.4,377.8 721.7,372.2 722.0,374.0 722.3,369.6 722.6,367.2 722.9,378.6 723.2,377.0 723.5,377.5 723.8,377.8 724.1,374.8 724.4,375.4 724.7,377.3 725.0,372.1 725.3,377.5 725.6,370.3 725.9,375.9 726.2,371.3 726.5,378.0 726.8,376.3 727.1,371.2 727.4,380.3 727.7,373.7 728.0,375.8 728.3,377.2 728.6,376.3 728.9,375.3 729.2,379.6 729.5,379.7 729.8,376.3 730.2,377.6 730.5,375.3 730.8,380.4 731.1,376.0 731.4,375.0 731.7,375.8 732.0,378.1 732.3,372.9 732.6,382.4 732.9,377.6 733.2,378.9 733.5,376.9 733.8,377.9 734.1,377.3 734.4,380.9 734.7,378.4 735.0,381.4 735.3,376.5 735.6,380.3 735.9,380.1 736.2,379.4 736.5,380.3 736.8,380.4 737.1,381.4 737.4,378.6 737.7,384.1 738.0,380.9" fill="none" stroke="#2a8ad0" stroke-width="0.8" stroke-linejoin="round" />
<text x="523.5" y="328.29999999999995" font-size="7" fill="#666" text-anchor="end" font-weight="normal" >400</text>
<text x="523.5" y="342.34999999999997" font-size="7" fill="#666" text-anchor="end" font-weight="normal" >200</text>
<text x="523.5" y="356.4" font-size="7" fill="#666" text-anchor="end" font-weight="normal" >0</text>
<text x="523.5" y="401.5" font-size="7" fill="#666" text-anchor="end" font-weight="normal" >0.0</text>
<text x="523.5" y="394.14" font-size="7" fill="#666" text-anchor="end" font-weight="normal" >0.2</text>
<text x="523.5" y="386.78" font-size="7" fill="#666" text-anchor="end" font-weight="normal" >0.4</text>
<text x="523.5" y="379.42" font-size="7" fill="#666" text-anchor="end" font-weight="normal" >0.6</text>
<text x="523.5" y="372.06" font-size="7" fill="#666" text-anchor="end" font-weight="normal" >0.8</text>
<text x="523.5" y="364.7" font-size="7" fill="#666" text-anchor="end" font-weight="normal" >1.0</text>
<text x="525.7" y="407.6" font-size="7" fill="#666" text-anchor="middle" font-weight="normal" >0</text>
<text x="568.36" y="407.6" font-size="7" fill="#666" text-anchor="middle" font-weight="normal" >5</text>
<text x="611.02" y="407.6" font-size="7" fill="#666" text-anchor="middle" font-weight="normal" >10</text>
<text x="653.6800000000001" y="407.6" font-size="7" fill="#666" text-anchor="middle" font-weight="normal" >15</text>
<text x="696.34" y="407.6" font-size="7" fill="#666" text-anchor="middle" font-weight="normal" >20</text>
<text x="739.0" y="407.6" font-size="7" fill="#666" text-anchor="middle" font-weight="normal" >25</text>
<text x="635.5" y="417.2" font-size="7.8" fill="#333" text-anchor="middle" font-weight="bold" >Time (s)</text>
<text x="0" y="0" font-size="7.8" fill="#333" text-anchor="middle" font-weight="bold" transform="translate(498.8,336.2) rotate(-90)">Intensity</text>
<text x="0" y="0" font-size="7.8" fill="#333" text-anchor="middle" font-weight="bold" transform="translate(507,336.2) rotate(-90)">(a.u.)</text>
<text x="0" y="0" font-size="7.8" fill="#333" text-anchor="middle" font-weight="bold" transform="translate(506.5,379.6) rotate(-90)">FRET</text>
<line x1="616" y1="318.5" x2="620" y2="318.5" stroke="#3a9a3a" stroke-width="0.9" />
<text x="621" y="321" font-size="6.8" fill="#3a9a3a" text-anchor="start" font-weight="normal" >Alexa555</text>
<line x1="657" y1="318.5" x2="661" y2="318.5" stroke="#e02030" stroke-width="0.9" />
<text x="662" y="321" font-size="6.8" fill="#e02030" text-anchor="start" font-weight="normal" >Cy5</text>
<rect x="525.7" y="437.3" width="213.29999999999995" height="84.90000000000003" stroke="#6a6a6a" stroke-width="1.0" fill="none" />
<line x1="525.7" y1="479.5" x2="739" y2="479.5" stroke="#6a6a6a" stroke-width="1" />
<line x1="525.7" y1="522.2" x2="525.7" y2="520.4000000000001" stroke="#888" stroke-width="0.7" />
<line x1="525.7" y1="437.3" x2="525.7" y2="439.1" stroke="#888" stroke-width="0.7" />
<line x1="534.2320000000001" y1="522.2" x2="534.2320000000001" y2="520.4000000000001" stroke="#888" stroke-width="0.7" />
<line x1="534.2320000000001" y1="437.3" x2="534.2320000000001" y2="439.1" stroke="#888" stroke-width="0.7" />
<line x1="542.764" y1="522.2" x2="542.764" y2="520.4000000000001" stroke="#888" stroke-width="0.7" />
<line x1="542.764" y1="437.3" x2="542.764" y2="439.1" stroke="#888" stroke-width="0.7" />
<line x1="551.296" y1="522.2" x2="551.296" y2="520.4000000000001" stroke="#888" stroke-width="0.7" />
<line x1="551.296" y1="437.3" x2="551.296" y2="439.1" stroke="#888" stroke-width="0.7" />
<line x1="559.8280000000001" y1="522.2" x2="559.8280000000001" y2="520.4000000000001" stroke="#888" stroke-width="0.7" />
<line x1="559.8280000000001" y1="437.3" x2="559.8280000000001" y2="439.1" stroke="#888" stroke-width="0.7" />
<line x1="568.36" y1="522.2" x2="568.36" y2="520.4000000000001" stroke="#888" stroke-width="0.7" />
<line x1="568.36" y1="437.3" x2="568.36" y2="439.1" stroke="#888" stroke-width="0.7" />
<line x1="576.892" y1="522.2" x2="576.892" y2="520.4000000000001" stroke="#888" stroke-width="0.7" />
<line x1="576.892" y1="437.3" x2="576.892" y2="439.1" stroke="#888" stroke-width="0.7" />
<line x1="585.424" y1="522.2" x2="585.424" y2="520.4000000000001" stroke="#888" stroke-width="0.7" />
<line x1="585.424" y1="437.3" x2="585.424" y2="439.1" stroke="#888" stroke-width="0.7" />
<line x1="593.956" y1="522.2" x2="593.956" y2="520.4000000000001" stroke="#888" stroke-width="0.7" />
<line x1="593.956" y1="437.3" x2="593.956" y2="439.1" stroke="#888" stroke-width="0.7" />
<line x1="602.488" y1="522.2" x2="602.488" y2="520.4000000000001" stroke="#888" stroke-width="0.7" />
<line x1="602.488" y1="437.3" x2="602.488" y2="439.1" stroke="#888" stroke-width="0.7" />
<line x1="611.02" y1="522.2" x2="611.02" y2="520.4000000000001" stroke="#888" stroke-width="0.7" />
<line x1="611.02" y1="437.3" x2="611.02" y2="439.1" stroke="#888" stroke-width="0.7" />
<line x1="619.552" y1="522.2" x2="619.552" y2="520.4000000000001" stroke="#888" stroke-width="0.7" />
<line x1="619.552" y1="437.3" x2="619.552" y2="439.1" stroke="#888" stroke-width="0.7" />
<line x1="628.0840000000001" y1="522.2" x2="628.0840000000001" y2="520.4000000000001" stroke="#888" stroke-width="0.7" />
<line x1="628.0840000000001" y1="437.3" x2="628.0840000000001" y2="439.1" stroke="#888" stroke-width="0.7" />
<line x1="636.616" y1="522.2" x2="636.616" y2="520.4000000000001" stroke="#888" stroke-width="0.7" />
<line x1="636.616" y1="437.3" x2="636.616" y2="439.1" stroke="#888" stroke-width="0.7" />
<line x1="645.148" y1="522.2" x2="645.148" y2="520.4000000000001" stroke="#888" stroke-width="0.7" />
<line x1="645.148" y1="437.3" x2="645.148" y2="439.1" stroke="#888" stroke-width="0.7" />
<line x1="653.6800000000001" y1="522.2" x2="653.6800000000001" y2="520.4000000000001" stroke="#888" stroke-width="0.7" />
<line x1="653.6800000000001" y1="437.3" x2="653.6800000000001" y2="439.1" stroke="#888" stroke-width="0.7" />
<line x1="662.212" y1="522.2" x2="662.212" y2="520.4000000000001" stroke="#888" stroke-width="0.7" />
<line x1="662.212" y1="437.3" x2="662.212" y2="439.1" stroke="#888" stroke-width="0.7" />
<line x1="670.744" y1="522.2" x2="670.744" y2="520.4000000000001" stroke="#888" stroke-width="0.7" />
<line x1="670.744" y1="437.3" x2="670.744" y2="439.1" stroke="#888" stroke-width="0.7" />
<line x1="679.2760000000001" y1="522.2" x2="679.2760000000001" y2="520.4000000000001" stroke="#888" stroke-width="0.7" />
<line x1="679.2760000000001" y1="437.3" x2="679.2760000000001" y2="439.1" stroke="#888" stroke-width="0.7" />
<line x1="687.808" y1="522.2" x2="687.808" y2="520.4000000000001" stroke="#888" stroke-width="0.7" />
<line x1="687.808" y1="437.3" x2="687.808" y2="439.1" stroke="#888" stroke-width="0.7" />
<line x1="696.34" y1="522.2" x2="696.34" y2="520.4000000000001" stroke="#888" stroke-width="0.7" />
<line x1="696.34" y1="437.3" x2="696.34" y2="439.1" stroke="#888" stroke-width="0.7" />
<line x1="704.8720000000001" y1="522.2" x2="704.8720000000001" y2="520.4000000000001" stroke="#888" stroke-width="0.7" />
<line x1="704.8720000000001" y1="437.3" x2="704.8720000000001" y2="439.1" stroke="#888" stroke-width="0.7" />
<line x1="713.404" y1="522.2" x2="713.404" y2="520.4000000000001" stroke="#888" stroke-width="0.7" />
<line x1="713.404" y1="437.3" x2="713.404" y2="439.1" stroke="#888" stroke-width="0.7" />
<line x1="721.936" y1="522.2" x2="721.936" y2="520.4000000000001" stroke="#888" stroke-width="0.7" />
<line x1="721.936" y1="437.3" x2="721.936" y2="439.1" stroke="#888" stroke-width="0.7" />
<line x1="730.4680000000001" y1="522.2" x2="730.4680000000001" y2="520.4000000000001" stroke="#888" stroke-width="0.7" />
<line x1="730.4680000000001" y1="437.3" x2="730.4680000000001" y2="439.1" stroke="#888" stroke-width="0.7" />
<line x1="739.0" y1="522.2" x2="739.0" y2="520.4000000000001" stroke="#888" stroke-width="0.7" />
<line x1="739.0" y1="437.3" x2="739.0" y2="439.1" stroke="#888" stroke-width="0.7" />
<polyline points="526.7,470.5 527.0,469.5 527.3,468.7 527.6,470.2 527.9,468.2 528.2,468.5 528.5,468.8 528.8,469.1 529.1,468.1 529.4,468.6 529.7,468.5 530.0,470.4 530.3,469.1 530.6,467.3 530.9,468.4 531.2,469.8 531.5,469.5 531.8,467.7 532.1,466.8 532.4,469.3 532.7,468.0 533.0,470.1 533.3,469.0 533.6,467.7 533.9,470.3 534.2,468.6 534.5,469.7 534.9,469.1 535.2,468.9 535.5,469.2 535.8,469.6 536.1,468.4 536.4,468.6 536.7,469.2 537.0,471.3 537.3,470.5 537.6,471.1 537.9,470.9 538.2,470.2 538.5,468.7 538.8,469.9 539.1,468.7 539.4,469.5 539.7,469.0 540.0,467.7 540.3,469.4 540.6,470.0 540.9,470.7 541.2,469.4 541.5,468.9 541.8,467.7 542.1,469.8 542.4,471.3 542.7,469.4 543.0,469.4 543.3,469.8 543.6,470.5 543.9,469.1 544.2,470.5 544.5,468.9 544.8,470.0 545.1,469.5 545.4,469.2 545.7,470.8 546.0,470.0 546.3,470.6 546.6,470.6 546.9,469.1 547.2,469.1 547.5,469.9 547.8,469.8 548.1,469.3 548.4,470.7 548.7,468.7 549.0,471.0 549.3,470.5 549.6,471.4 549.9,471.1 550.2,470.2 550.5,468.7 550.8,470.4 551.2,470.5 551.5,471.5 551.8,470.8 552.1,468.2 552.4,468.9 552.7,472.6 553.0,472.9 553.3,471.8 553.6,470.4 553.9,469.6 554.2,469.1 554.5,471.0 554.8,470.4 555.1,469.7 555.4,471.5 555.7,468.1 556.0,468.7 556.3,472.2 556.6,469.4 556.9,470.5 557.2,470.2 557.5,471.3 557.8,470.7 558.1,470.1 558.4,471.4 558.7,471.1 559.0,469.5 559.3,471.7 559.6,470.1 559.9,469.8 560.2,471.0 560.5,470.1 560.8,469.9 561.1,470.6 561.4,470.5 561.7,469.4 562.0,470.8 562.3,469.6 562.6,470.0 562.9,469.6 563.2,470.3 563.5,469.9 563.8,468.8 564.1,469.9 564.4,468.7 564.7,471.1 565.0,469.9 565.3,468.4 565.6,469.3 565.9,470.7 566.2,468.8 566.5,470.2 566.8,467.9 567.1,469.4 567.5,469.2 567.8,469.8 568.1,471.0 568.4,469.4 568.7,468.7 569.0,470.1 569.3,469.3 569.6,470.5 569.9,470.0 570.2,471.1 570.5,470.5 570.8,469.3 571.1,468.8 571.4,470.2 571.7,470.8 572.0,469.8 572.3,470.4 572.6,469.6 572.9,469.2 573.2,469.8 573.5,468.8 573.8,469.5 574.1,470.5 574.4,469.5 574.7,470.0 575.0,469.9 575.3,468.6 575.6,469.3 575.9,468.4 576.2,468.4 576.5,469.7 576.8,469.2 577.1,468.3 577.4,471.3 577.7,470.1 578.0,468.2 578.3,468.7 578.6,470.2 578.9,470.2 579.2,470.0 579.5,469.3 579.8,468.9 580.1,470.0 580.4,471.0 580.7,469.1 581.0,469.7 581.3,471.1 581.6,471.0 581.9,469.0 582.2,470.5 582.5,470.0 582.8,469.5 583.1,470.2 583.4,469.2 583.8,468.7 584.1,470.1 584.4,469.8 584.7,469.9 585.0,472.3 585.3,471.2 585.6,470.5 585.9,470.0 586.2,469.3 586.5,470.6 586.8,468.6 587.1,469.1 587.4,470.5 587.7,470.4 588.0,469.2 588.3,470.6 588.6,470.2 588.9,471.8 589.2,470.3 589.5,469.2 589.8,468.6 590.1,470.0 590.4,469.3 590.7,471.2 591.0,469.4 591.3,470.8 591.6,469.6 591.9,470.8 592.2,471.0 592.5,468.9 592.8,472.4 593.1,469.0 593.4,470.7 593.7,469.6 594.0,469.2 594.3,470.4 594.6,469.0 594.9,468.2 595.2,468.5 595.5,470.0 595.8,469.4 596.1,469.3 596.4,470.8 596.7,469.8 597.0,470.1 597.3,470.3 597.6,470.4 597.9,470.4 598.2,470.8 598.5,469.3 598.8,469.6 599.1,470.2 599.4,470.1 599.7,470.8 600.1,470.6 600.4,472.6 600.7,469.4 601.0,469.0 601.3,471.9 601.6,471.9 601.9,470.3 602.2,471.8 602.5,469.6 602.8,469.8 603.1,470.3 603.4,469.1 603.7,470.1 604.0,471.4 604.3,471.1 604.6,470.1 604.9,469.6 605.2,471.6 605.5,469.3 605.8,471.5 606.1,469.3 606.4,471.8 606.7,469.9 607.0,468.9 607.3,469.0 607.6,470.0 607.9,469.0 608.2,468.4 608.5,469.2 608.8,471.3 609.1,469.8 609.4,470.2 609.7,469.7 610.0,469.9 610.3,469.9 610.6,469.4 610.9,468.7 611.2,469.4 611.5,470.8 611.8,471.2 612.1,471.5 612.4,469.4 612.7,470.1 613.0,469.9 613.3,469.2 613.6,468.8 613.9,470.5 614.2,470.0 614.5,469.7 614.8,470.2 615.1,469.0 615.4,468.5 615.7,469.4 616.0,468.7 616.4,469.5 616.7,469.6 617.0,470.1 617.3,469.5 617.6,468.5 617.9,467.9 618.2,469.6 618.5,469.4 618.8,468.3 619.1,470.0 619.4,470.1 619.7,469.6 620.0,469.5 620.3,469.8 620.6,468.8 620.9,470.0 621.2,471.3 621.5,468.6 621.8,468.9 622.1,467.2 622.4,469.2 622.7,468.3 623.0,469.0 623.3,470.1 623.6,470.3 623.9,470.1 624.2,470.8 624.5,470.5 624.8,469.3 625.1,467.9 625.4,468.0 625.7,469.7 626.0,469.1 626.3,469.8 626.6,470.2 626.9,470.9 627.2,471.2 627.5,469.5 627.8,468.1 628.1,468.8 628.4,470.5 628.7,471.3 629.0,468.8 629.3,471.0 629.6,472.2 629.9,472.2 630.2,469.0 630.5,471.5 630.8,469.3 631.1,470.2 631.4,469.5 631.7,468.9 632.0,468.2 632.4,470.1 632.7,472.6 633.0,470.8 633.3,470.5 633.6,471.6 633.9,471.0 634.2,471.2 634.5,469.2 634.8,469.0 635.1,470.5 635.4,470.6 635.7,470.2 636.0,469.2 636.3,471.2 636.6,470.6 636.9,468.7 637.2,470.3 637.5,469.5 637.8,472.8 638.1,471.3 638.4,469.9 638.7,471.6 639.0,471.5 639.3,470.8 639.6,470.9 639.9,471.6 640.2,470.8 640.5,471.0 640.8,471.9 641.1,468.5 641.4,471.0 641.7,472.1 642.0,470.8 642.3,471.4 642.6,470.3 642.9,470.2 643.2,469.4 643.5,471.4 643.8,470.2 644.1,471.2 644.4,470.5 644.7,470.3 645.0,469.6 645.3,470.8 645.6,470.2 645.9,469.9 646.2,470.9 646.5,468.3 646.8,468.9 647.1,470.2 647.4,469.4 647.7,468.2 648.0,469.2 648.3,468.7 648.7,467.3 649.0,469.6 649.3,471.3 649.6,469.2 649.9,469.4 650.2,468.7 650.5,469.1 650.8,469.1 651.1,469.7 651.4,468.8 651.7,469.1 652.0,468.8 652.3,468.5 652.6,466.9 652.9,469.0 653.2,468.5 653.5,470.5 653.8,470.1 654.1,470.5 654.4,467.5 654.7,468.2 655.0,467.1 655.3,467.8 655.6,468.6 655.9,467.8 656.2,470.2 656.5,469.3 656.8,468.5 657.1,469.4 657.4,469.3 657.7,469.4 658.0,470.1 658.3,469.0 658.6,468.4 658.9,470.3 659.2,469.8 659.5,468.8 659.8,470.2 660.1,467.3 660.4,470.4 660.7,469.8 661.0,469.9 661.3,468.8 661.6,469.3 661.9,470.8 662.2,470.2 662.5,467.8 662.8,469.4 663.1,468.6 663.4,469.0 663.7,470.4 664.0,469.0 664.3,468.0 664.6,469.1 665.0,469.2 665.3,470.6 665.6,468.8 665.9,471.2 666.2,468.3 666.5,471.0 666.8,470.3 667.1,469.5 667.4,469.8 667.7,470.5 668.0,468.7 668.3,467.4 668.6,468.6 668.9,470.1 669.2,471.5 669.5,469.8 669.8,468.9 670.1,470.0 670.4,468.5 670.7,469.2 671.0,469.0 671.3,469.9 671.6,470.3 671.9,469.4 672.2,471.7 672.5,470.9 672.8,469.3 673.1,469.4 673.4,469.4 673.7,471.9 674.0,469.8 674.3,470.7 674.6,471.2 674.9,469.3 675.2,471.7 675.5,470.6 675.8,469.8 676.1,470.2 676.4,471.4 676.7,470.3 677.0,470.5 677.3,471.2 677.6,470.2 677.9,471.1 678.2,471.1 678.5,470.5 678.8,472.8 679.1,469.6 679.4,469.6 679.7,469.4 680.0,472.7 680.3,471.7 680.6,468.2 680.9,469.7 681.3,470.2 681.6,471.1 681.9,471.1 682.2,470.3 682.5,470.2 682.8,468.9 683.1,470.5 683.4,470.0 683.7,469.8 684.0,470.9 684.3,472.0 684.6,470.1 684.9,471.1 685.2,471.6 685.5,469.3 685.8,470.0 686.1,471.5 686.4,468.4 686.7,470.2 687.0,469.2 687.3,469.7 687.6,469.9 687.9,468.4 688.2,471.0 688.5,468.6 688.8,469.2 689.1,469.2 689.4,469.3 689.7,469.5 690.0,468.9 690.3,469.3 690.6,469.1 690.9,470.1 691.2,469.1 691.5,469.0 691.8,469.7 692.1,470.1 692.4,468.8 692.7,469.1 693.0,471.6 693.3,468.8 693.6,469.3 693.9,468.6 694.2,467.5 694.5,469.0 694.8,468.5 695.1,468.9 695.4,471.2 695.7,469.8 696.0,469.9 696.3,469.3 696.6,470.1 696.9,470.3 697.2,468.4 697.6,468.1 697.9,468.4 698.2,470.5 698.5,468.7 698.8,469.1 699.1,468.4 699.4,467.9 699.7,471.4 700.0,468.9 700.3,470.7 700.6,468.6 700.9,469.5 701.2,470.2 701.5,468.0 701.8,470.7 702.1,469.1 702.4,471.5 702.7,470.3 703.0,469.9 703.3,472.4 703.6,471.5 703.9,469.3 704.2,469.9 704.5,469.4 704.8,468.8 705.1,469.0 705.4,469.8 705.7,470.4 706.0,469.1 706.3,470.6 706.6,470.2 706.9,469.4 707.2,471.6 707.5,470.4 707.8,469.8 708.1,471.7 708.4,471.0 708.7,470.1 709.0,471.9 709.3,471.0 709.6,472.0 709.9,471.0 710.2,469.5 710.5,473.4 710.8,471.0 711.1,470.5 711.4,471.6 711.7,469.7 712.0,472.6 712.3,471.6 712.6,472.0 712.9,470.1 713.2,470.1 713.5,470.1 713.9,471.0 714.2,470.9 714.5,472.0 714.8,468.8 715.1,472.1 715.4,470.5 715.7,470.0 716.0,469.1 716.3,468.9 716.6,472.0 716.9,471.6 717.2,470.3 717.5,470.3 717.8,470.6 718.1,470.4 718.4,470.2 718.7,469.8 719.0,470.4 719.3,471.6 719.6,468.7 719.9,468.8 720.2,470.2 720.5,470.7 720.8,473.3 721.1,471.9 721.4,468.8 721.7,466.6 722.0,468.6 722.3,470.1 722.6,468.6 722.9,469.3 723.2,470.3 723.5,470.2 723.8,468.7 724.1,468.9 724.4,469.3 724.7,471.1 725.0,469.5 725.3,470.9 725.6,468.4 725.9,469.3 726.2,471.1 726.5,469.2 726.8,470.8 727.1,468.3 727.4,468.8 727.7,470.9 728.0,467.8 728.3,467.8 728.6,468.4 728.9,469.4 729.2,469.9 729.5,468.9 729.8,470.0 730.2,471.0 730.5,470.3 730.8,469.0 731.1,469.2 731.4,469.4 731.7,469.2 732.0,469.6 732.3,467.8 732.6,466.7 732.9,468.1 733.2,471.2 733.5,469.0 733.8,469.9 734.1,469.0 734.4,469.3 734.7,468.8 735.0,470.0 735.3,469.8 735.6,470.9 735.9,468.5 736.2,468.1 736.5,469.3 736.8,469.4 737.1,469.8 737.4,469.1 737.7,468.6 738.0,469.0" fill="none" stroke="#3a9a3a" stroke-width="0.8" stroke-linejoin="round" />
<polyline points="526.7,455.8 527.0,458.7 527.3,455.7 527.6,458.5 527.9,465.8 528.2,457.8 528.5,461.3 528.8,456.0 529.1,454.2 529.4,451.3 529.7,456.5 530.0,459.5 530.3,456.9 530.6,456.8 530.9,465.6 531.2,461.3 531.5,462.8 531.8,456.6 532.1,458.7 532.4,458.2 532.7,456.4 533.0,458.0 533.3,464.8 533.6,462.9 533.9,458.1 534.2,461.6 534.5,462.9 534.9,457.6 535.2,457.5 535.5,461.3 535.8,461.6 536.1,457.1 536.4,461.2 536.7,463.2 537.0,458.0 537.3,455.1 537.6,463.8 537.9,462.6 538.2,457.7 538.5,459.5 538.8,457.2 539.1,457.5 539.4,450.7 539.7,464.4 540.0,458.0 540.3,461.8 540.6,466.1 540.9,462.6 541.2,461.1 541.5,455.9 541.8,458.9 542.1,461.5 542.4,461.7 542.7,457.8 543.0,456.0 543.3,461.3 543.6,457.4 543.9,457.0 544.2,458.3 544.5,458.5 544.8,458.2 545.1,459.0 545.4,459.9 545.7,457.4 546.0,457.4 546.3,457.8 546.6,460.5 546.9,453.6 547.2,456.2 547.5,445.0 547.8,445.4 548.1,454.9 548.4,447.7 548.7,457.9 549.0,461.4 549.3,458.5 549.6,456.4 549.9,454.3 550.2,447.8 550.5,457.6 550.8,455.2 551.2,451.4 551.5,453.8 551.8,449.1 552.1,450.9 552.4,448.7 552.7,450.6 553.0,453.4 553.3,453.7 553.6,458.5 553.9,454.5 554.2,454.0 554.5,455.2 554.8,456.1 555.1,455.9 555.4,450.3 555.7,454.8 556.0,454.1 556.3,453.4 556.6,460.3 556.9,456.9 557.2,456.5 557.5,464.4 557.8,455.5 558.1,458.2 558.4,456.1 558.7,452.8 559.0,456.8 559.3,458.1 559.6,456.5 559.9,452.8 560.2,459.9 560.5,460.7 560.8,457.6 561.1,458.7 561.4,453.6 561.7,457.1 562.0,456.9 562.3,458.3 562.6,462.8 562.9,455.9 563.2,456.8 563.5,458.0 563.8,460.6 564.1,454.4 564.4,453.1 564.7,454.0 565.0,457.7 565.3,461.5 565.6,460.7 565.9,462.6 566.2,460.1 566.5,452.4 566.8,461.2 567.1,454.5 567.5,461.3 567.8,458.2 568.1,464.2 568.4,459.3 568.7,463.8 569.0,459.0 569.3,459.8 569.6,456.2 569.9,453.9 570.2,460.4 570.5,457.6 570.8,460.0 571.1,460.6 571.4,458.7 571.7,461.7 572.0,456.4 572.3,460.0 572.6,455.8 572.9,459.1 573.2,458.3 573.5,460.5 573.8,462.1 574.1,459.1 574.4,455.1 574.7,462.5 575.0,460.5 575.3,459.5 575.6,461.2 575.9,459.2 576.2,454.2 576.5,454.9 576.8,471.0 577.1,463.5 577.4,458.4 577.7,459.3 578.0,454.5 578.3,459.5 578.6,455.5 578.9,458.2 579.2,463.5 579.5,457.7 579.8,458.3 580.1,454.7 580.4,459.4 580.7,455.6 581.0,461.8 581.3,459.5 581.6,456.2 581.9,459.6 582.2,458.0 582.5,455.1 582.8,454.5 583.1,457.5 583.4,458.7 583.8,456.6 584.1,459.1 584.4,458.0 584.7,455.4 585.0,465.4 585.3,460.2 585.6,459.3 585.9,457.0 586.2,456.4 586.5,454.6 586.8,450.9 587.1,456.1 587.4,464.1 587.7,460.9 588.0,454.3 588.3,458.0 588.6,462.2 588.9,458.1 589.2,457.8 589.5,452.5 589.8,456.6 590.1,457.4 590.4,453.8 590.7,455.9 591.0,464.5 591.3,455.1 591.6,455.9 591.9,451.7 592.2,454.4 592.5,460.0 592.8,459.7 593.1,455.3 593.4,452.8 593.7,453.6 594.0,458.0 594.3,455.5 594.6,453.7 594.9,454.9 595.2,458.2 595.5,457.4 595.8,460.6 596.1,455.7 596.4,456.8 596.7,458.5 597.0,447.6 597.3,456.3 597.6,455.6 597.9,453.8 598.2,453.9 598.5,456.9 598.8,458.2 599.1,453.5 599.4,453.6 599.7,453.5 600.1,460.5 600.4,458.6 600.7,455.4 601.0,454.0 601.3,454.3 601.6,451.7 601.9,458.3 602.2,449.7 602.5,454.5 602.8,452.1 603.1,456.4 603.4,453.3 603.7,457.4 604.0,457.9 604.3,453.0 604.6,458.9 604.9,456.4 605.2,455.9 605.5,454.6 605.8,457.3 606.1,452.0 606.4,452.3 606.7,460.0 607.0,460.4 607.3,457.2 607.6,453.8 607.9,452.0 608.2,455.5 608.5,459.9 608.8,457.4 609.1,463.9 609.4,458.2 609.7,457.2 610.0,455.4 610.3,461.0 610.6,453.9 610.9,455.3 611.2,461.1 611.5,462.0 611.8,461.2 612.1,462.2 612.4,451.7 612.7,456.0 613.0,462.1 613.3,465.0 613.6,464.7 613.9,460.1 614.2,464.9 614.5,458.8 614.8,456.6 615.1,457.4 615.4,458.7 615.7,462.6 616.0,463.0 616.4,460.5 616.7,459.5 617.0,461.4 617.3,460.3 617.6,458.6 617.9,456.5 618.2,458.0 618.5,457.7 618.8,460.4 619.1,464.2 619.4,464.1 619.7,460.5 620.0,460.8 620.3,454.3 620.6,458.3 620.9,458.6 621.2,453.6 621.5,464.3 621.8,467.6 622.1,465.2 622.4,456.1 622.7,457.4 623.0,456.8 623.3,461.3 623.6,457.0 623.9,461.5 624.2,459.8 624.5,456.0 624.8,455.6 625.1,464.6 625.4,458.7 625.7,461.7 626.0,460.2 626.3,457.2 626.6,452.3 626.9,456.2 627.2,458.3 627.5,458.7 627.8,451.8 628.1,456.6 628.4,455.6 628.7,455.7 629.0,447.0 629.3,454.7 629.6,455.0 629.9,457.0 630.2,458.1 630.5,455.1 630.8,458.4 631.1,460.1 631.4,455.5 631.7,449.1 632.0,459.6 632.4,455.2 632.7,452.4 633.0,453.2 633.3,453.8 633.6,453.3 633.9,456.8 634.2,459.4 634.5,456.1 634.8,455.2 635.1,453.5 635.4,451.9 635.7,454.3 636.0,452.8 636.3,456.2 636.6,456.4 636.9,446.7 637.2,452.6 637.5,455.0 637.8,454.2 638.1,458.2 638.4,460.8 638.7,452.6 639.0,450.1 639.3,454.0 639.6,448.2 639.9,460.4 640.2,454.3 640.5,458.7 640.8,456.9 641.1,446.4 641.4,452.5 641.7,454.9 642.0,457.2 642.3,446.6 642.6,460.2 642.9,451.6 643.2,452.7 643.5,454.1 643.8,455.7 644.1,455.5 644.4,454.9 644.7,462.1 645.0,459.2 645.3,458.8 645.6,460.0 645.9,461.6 646.2,458.4 646.5,453.4 646.8,449.0 647.1,456.2 647.4,455.0 647.7,456.8 648.0,456.7 648.3,458.2 648.7,456.3 649.0,454.4 649.3,450.4 649.6,457.4 649.9,457.0 650.2,453.2 650.5,457.7 650.8,455.0 651.1,456.8 651.4,460.4 651.7,459.4 652.0,451.5 652.3,458.0 652.6,457.6 652.9,462.1 653.2,460.1 653.5,461.1 653.8,457.6 654.1,462.7 654.4,468.1 654.7,459.5 655.0,457.7 655.3,455.6 655.6,457.4 655.9,457.7 656.2,458.6 656.5,457.4 656.8,466.5 657.1,468.2 657.4,460.7 657.7,459.8 658.0,454.6 658.3,460.3 658.6,464.5 658.9,461.4 659.2,458.1 659.5,456.9 659.8,453.9 660.1,460.3 660.4,463.9 660.7,459.8 661.0,460.7 661.3,457.2 661.6,463.5 661.9,460.7 662.2,461.5 662.5,456.7 662.8,459.9 663.1,466.1 663.4,448.6 663.7,463.0 664.0,460.6 664.3,456.4 664.6,464.6 665.0,461.1 665.3,458.6 665.6,460.3 665.9,459.0 666.2,459.8 666.5,458.1 666.8,454.1 667.1,457.4 667.4,458.1 667.7,462.2 668.0,460.4 668.3,455.5 668.6,449.9 668.9,455.9 669.2,454.3 669.5,455.4 669.8,458.9 670.1,456.7 670.4,457.2 670.7,463.1 671.0,466.1 671.3,456.5 671.6,454.1 671.9,450.5 672.2,453.6 672.5,455.1 672.8,456.7 673.1,459.9 673.4,454.6 673.7,459.8 674.0,453.5 674.3,456.8 674.6,455.5 674.9,455.0 675.2,448.8 675.5,453.2 675.8,457.2 676.1,449.9 676.4,450.2 676.7,450.5 677.0,445.8 677.3,454.1 677.6,454.7 677.9,454.9 678.2,459.4 678.5,453.4 678.8,460.1 679.1,455.2 679.4,458.5 679.7,450.2 680.0,454.4 680.3,459.4 680.6,457.0 680.9,451.0 681.3,456.0 681.6,455.2 681.9,453.5 682.2,449.6 682.5,453.7 682.8,445.5 683.1,452.4 683.4,454.2 683.7,455.4 684.0,454.4 684.3,453.7 684.6,453.4 684.9,452.5 685.2,456.8 685.5,457.7 685.8,456.9 686.1,461.6 686.4,451.6 686.7,453.3 687.0,459.0 687.3,456.9 687.6,464.0 687.9,460.6 688.2,456.1 688.5,455.6 688.8,459.4 689.1,457.8 689.4,461.2 689.7,449.2 690.0,458.4 690.3,459.9 690.6,457.9 690.9,454.5 691.2,459.0 691.5,457.6 691.8,462.2 692.1,461.5 692.4,461.8 692.7,459.6 693.0,454.2 693.3,459.0 693.6,457.9 693.9,461.0 694.2,463.1 694.5,453.5 694.8,464.3 695.1,466.1 695.4,465.6 695.7,460.3 696.0,462.2 696.3,463.9 696.6,458.5 696.9,459.8 697.2,462.2 697.6,458.2 697.9,463.1 698.2,460.3 698.5,463.2 698.8,460.6 699.1,458.4 699.4,457.6 699.7,454.5 700.0,459.0 700.3,457.6 700.6,460.9 700.9,459.5 701.2,464.1 701.5,458.0 701.8,462.5 702.1,464.2 702.4,458.2 702.7,457.5 703.0,461.1 703.3,456.7 703.6,456.7 703.9,459.6 704.2,459.7 704.5,458.1 704.8,461.2 705.1,459.9 705.4,460.0 705.7,458.5 706.0,454.4 706.3,460.0 706.6,455.4 706.9,459.5 707.2,458.0 707.5,458.9 707.8,452.6 708.1,452.4 708.4,450.6 708.7,452.3 709.0,463.1 709.3,456.5 709.6,448.6 709.9,452.8 710.2,456.1 710.5,456.2 710.8,461.8 711.1,449.5 711.4,457.9 711.7,456.8 712.0,462.4 712.3,451.0 712.6,452.0 712.9,455.8 713.2,452.4 713.5,450.4 713.9,457.2 714.2,453.5 714.5,454.4 714.8,456.5 715.1,454.7 715.4,449.0 715.7,452.2 716.0,445.6 716.3,454.1 716.6,451.8 716.9,455.3 717.2,458.5 717.5,449.4 717.8,457.2 718.1,454.3 718.4,460.6 718.7,454.4 719.0,457.6 719.3,455.1 719.6,455.1 719.9,457.4 720.2,447.9 720.5,451.5 720.8,460.9 721.1,456.3 721.4,454.4 721.7,456.9 722.0,455.6 722.3,451.8 722.6,452.9 722.9,460.9 723.2,458.0 723.5,458.6 723.8,457.0 724.1,453.3 724.4,452.5 724.7,458.0 725.0,461.0 725.3,453.1 725.6,461.3 725.9,468.0 726.2,459.0 726.5,462.3 726.8,456.6 727.1,460.3 727.4,457.3 727.7,461.2 728.0,459.1 728.3,455.9 728.6,454.8 728.9,459.4 729.2,463.9 729.5,461.5 729.8,460.3 730.2,459.3 730.5,459.3 730.8,454.9 731.1,458.8 731.4,458.9 731.7,452.4 732.0,458.1 732.3,461.3 732.6,466.1 732.9,462.5 733.2,458.7 733.5,458.4 733.8,455.2 734.1,463.7 734.4,458.1 734.7,454.7 735.0,465.2 735.3,453.0 735.6,461.8 735.9,462.6 736.2,455.9 736.5,456.8 736.8,453.4 737.1,460.8 737.4,458.1 737.7,461.0 738.0,454.5" fill="none" stroke="#e02030" stroke-width="0.8" stroke-linejoin="round" />
<polyline points="526.7,501.1 527.0,497.3 527.3,502.5 527.6,494.9 527.9,489.8 528.2,496.4 528.5,499.4 528.8,503.0 529.1,498.3 529.4,500.2 529.7,497.2 530.0,502.1 530.3,496.0 530.6,494.4 530.9,502.5 531.2,497.9 531.5,495.6 531.8,496.9 532.1,498.1 532.4,499.2 532.7,498.7 533.0,498.9 533.3,501.0 533.6,500.6 533.9,498.0 534.2,494.8 534.5,498.7 534.9,502.1 535.2,498.8 535.5,495.2 535.8,501.4 536.1,500.4 536.4,500.4 536.7,497.1 537.0,500.8 537.3,499.3 537.6,496.3 537.9,498.8 538.2,498.9 538.5,498.1 538.8,499.6 539.1,495.0 539.4,498.1 539.7,499.2 540.0,497.8 540.3,500.5 540.6,495.1 540.9,502.3 541.2,499.7 541.5,494.6 541.8,499.3 542.1,498.8 542.4,494.0 542.7,498.1 543.0,496.1 543.3,497.7 543.6,497.5 543.9,491.1 544.2,497.2 544.5,494.4 544.8,497.2 545.1,491.8 545.4,496.4 545.7,495.1 546.0,491.6 546.3,491.9 546.6,494.1 546.9,495.2 547.2,497.5 547.5,493.0 547.8,491.9 548.1,501.4 548.4,500.0 548.7,495.3 549.0,496.7 549.3,492.6 549.6,490.7 549.9,493.8 550.2,498.9 550.5,496.4 550.8,492.5 551.2,498.9 551.5,491.2 551.8,495.1 552.1,493.2 552.4,493.3 552.7,495.8 553.0,496.1 553.3,497.1 553.6,493.6 553.9,493.1 554.2,492.8 554.5,497.5 554.8,500.9 555.1,497.7 555.4,498.5 555.7,492.0 556.0,488.3 556.3,494.2 556.6,499.3 556.9,499.2 557.2,495.4 557.5,493.6 557.8,494.3 558.1,487.7 558.4,493.7 558.7,498.1 559.0,493.2 559.3,495.6 559.6,499.0 559.9,489.0 560.2,496.5 560.5,497.1 560.8,496.4 561.1,495.8 561.4,499.6 561.7,492.7 562.0,495.7 562.3,502.4 562.6,501.9 562.9,499.6 563.2,498.8 563.5,496.0 563.8,496.0 564.1,497.5 564.4,502.3 564.7,499.8 565.0,494.9 565.3,497.1 565.6,497.3 565.9,497.3 566.2,496.1 566.5,497.0 566.8,498.6 567.1,497.1 567.5,495.0 567.8,495.7 568.1,498.7 568.4,499.6 568.7,494.0 569.0,503.3 569.3,497.4 569.6,500.0 569.9,498.4 570.2,495.2 570.5,500.0 570.8,503.0 571.1,497.2 571.4,498.8 571.7,496.6 572.0,497.4 572.3,496.0 572.6,496.5 572.9,502.6 573.2,498.2 573.5,497.5 573.8,497.9 574.1,497.7 574.4,500.0 574.7,499.5 575.0,499.2 575.3,499.3 575.6,500.6 575.9,501.9 576.2,500.1 576.5,491.2 576.8,498.9 577.1,489.6 577.4,491.3 577.7,497.9 578.0,502.1 578.3,496.0 578.6,495.4 578.9,498.6 579.2,497.6 579.5,500.2 579.8,498.0 580.1,492.1 580.4,498.1 580.7,502.0 581.0,495.6 581.3,496.2 581.6,494.4 581.9,496.5 582.2,499.9 582.5,498.7 582.8,500.4 583.1,497.1 583.4,494.8 583.8,496.7 584.1,497.6 584.4,500.6 584.7,495.9 585.0,497.0 585.3,497.1 585.6,496.7 585.9,498.6 586.2,496.0 586.5,501.1 586.8,495.9 587.1,493.7 587.4,497.3 587.7,493.5 588.0,492.1 588.3,492.4 588.6,498.5 588.9,496.7 589.2,493.6 589.5,496.4 589.8,492.8 590.1,492.9 590.4,498.6 590.7,500.9 591.0,497.4 591.3,495.2 591.6,493.9 591.9,495.3 592.2,496.0 592.5,493.7 592.8,495.0 593.1,497.0 593.4,491.7 593.7,494.5 594.0,493.1 594.3,498.1 594.6,496.7 594.9,497.0 595.2,493.8 595.5,499.6 595.8,500.1 596.1,503.5 596.4,494.4 596.7,492.7 597.0,492.3 597.3,498.8 597.6,498.6 597.9,494.9 598.2,495.0 598.5,493.9 598.8,495.4 599.1,501.4 599.4,499.3 599.7,500.5 600.1,495.8 600.4,495.0 600.7,495.5 601.0,498.6 601.3,492.8 601.6,492.5 601.9,492.4 602.2,491.6 602.5,496.0 602.8,494.7 603.1,498.4 603.4,490.9 603.7,497.5 604.0,493.8 604.3,497.5 604.6,497.9 604.9,498.0 605.2,495.0 605.5,490.1 605.8,497.0 606.1,495.5 606.4,491.8 606.7,493.7 607.0,496.6 607.3,496.0 607.6,499.1 607.9,497.4 608.2,499.1 608.5,496.8 608.8,499.9 609.1,496.8 609.4,498.3 609.7,496.3 610.0,493.9 610.3,496.1 610.6,498.2 610.9,497.3 611.2,495.2 611.5,497.0 611.8,496.4 612.1,496.3 612.4,501.5 612.7,497.7 613.0,494.5 613.3,496.5 613.6,499.3 613.9,500.0 614.2,505.8 614.5,498.6 614.8,494.5 615.1,498.8 615.4,501.1 615.7,497.8 616.0,502.2 616.4,506.2 616.7,503.3 617.0,498.5 617.3,499.1 617.6,497.6 617.9,497.5 618.2,497.3 618.5,498.8 618.8,500.8 619.1,497.6 619.4,496.8 619.7,497.6 620.0,505.4 620.3,506.5 620.6,500.6 620.9,500.5 621.2,489.8 621.5,493.7 621.8,499.4 622.1,494.0 622.4,500.2 622.7,498.3 623.0,499.2 623.3,499.3 623.6,498.1 623.9,497.9 624.2,501.4 624.5,498.4 624.8,494.6 625.1,497.5 625.4,502.6 625.7,497.9 626.0,500.7 626.3,497.1 626.6,499.7 626.9,498.7 627.2,498.4 627.5,499.4 627.8,498.7 628.1,498.2 628.4,496.5 628.7,496.1 629.0,497.8 629.3,497.0 629.6,499.8 629.9,490.1 630.2,495.7 630.5,491.7 630.8,497.9 631.1,491.7 631.4,493.6 631.7,494.3 632.0,495.4 632.4,495.4 632.7,497.2 633.0,501.5 633.3,498.1 633.6,495.1 633.9,494.5 634.2,495.4 634.5,493.8 634.8,500.4 635.1,495.1 635.4,495.4 635.7,498.8 636.0,499.6 636.3,496.3 636.6,496.4 636.9,498.1 637.2,497.2 637.5,493.8 637.8,496.7 638.1,491.5 638.4,494.4 638.7,494.5 639.0,487.1 639.3,494.3 639.6,496.0 639.9,496.6 640.2,499.0 640.5,492.2 640.8,498.9 641.1,493.9 641.4,498.4 641.7,494.7 642.0,498.1 642.3,496.0 642.6,496.8 642.9,496.8 643.2,494.9 643.5,495.8 643.8,497.5 644.1,493.7 644.4,496.3 644.7,494.8 645.0,498.9 645.3,493.6 645.6,499.1 645.9,504.4 646.2,493.9 646.5,500.1 646.8,499.0 647.1,497.8 647.4,497.6 647.7,496.4 648.0,496.0 648.3,497.4 648.7,496.5 649.0,498.6 649.3,499.1 649.6,497.6 649.9,499.7 650.2,494.7 650.5,500.1 650.8,498.9 651.1,499.1 651.4,493.0 651.7,503.9 652.0,498.7 652.3,499.0 652.6,501.0 652.9,497.7 653.2,498.7 653.5,496.1 653.8,501.2 654.1,498.0 654.4,497.4 654.7,499.1 655.0,499.3 655.3,501.5 655.6,499.1 655.9,502.1 656.2,497.9 656.5,500.3 656.8,499.8 657.1,494.9 657.4,494.9 657.7,494.9 658.0,497.0 658.3,502.7 658.6,500.4 658.9,502.9 659.2,497.8 659.5,501.0 659.8,497.9 660.1,496.9 660.4,493.4 660.7,500.5 661.0,499.0 661.3,496.6 661.6,501.1 661.9,501.6 662.2,495.2 662.5,496.7 662.8,495.5 663.1,495.9 663.4,497.4 663.7,502.3 664.0,496.1 664.3,497.2 664.6,497.3 665.0,493.0 665.3,498.6 665.6,495.1 665.9,498.3 666.2,495.8 666.5,495.2 666.8,496.0 667.1,503.9 667.4,493.3 667.7,497.0 668.0,497.9 668.3,498.8 668.6,494.6 668.9,498.0 669.2,501.1 669.5,500.9 669.8,494.4 670.1,497.1 670.4,496.5 670.7,499.2 671.0,494.3 671.3,494.6 671.6,496.6 671.9,498.3 672.2,490.5 672.5,496.7 672.8,499.5 673.1,497.7 673.4,492.4 673.7,494.4 674.0,495.3 674.3,496.6 674.6,496.9 674.9,493.6 675.2,495.3 675.5,494.5 675.8,494.3 676.1,498.3 676.4,489.9 676.7,495.9 677.0,492.7 677.3,489.7 677.6,495.9 677.9,495.6 678.2,496.7 678.5,496.7 678.8,499.0 679.1,495.9 679.4,496.4 679.7,493.8 680.0,497.1 680.3,497.1 680.6,491.2 680.9,491.2 681.3,493.6 681.6,494.0 681.9,498.7 682.2,494.6 682.5,491.3 682.8,493.2 683.1,493.9 683.4,498.6 683.7,497.2 684.0,495.4 684.3,493.7 684.6,495.6 684.9,499.1 685.2,497.2 685.5,498.5 685.8,497.5 686.1,493.6 686.4,495.7 686.7,497.2 687.0,497.8 687.3,494.9 687.6,501.1 687.9,500.5 688.2,500.8 688.5,499.1 688.8,501.3 689.1,502.5 689.4,498.1 689.7,499.9 690.0,501.8 690.3,497.6 690.6,497.6 690.9,498.0 691.2,501.5 691.5,498.4 691.8,500.3 692.1,500.9 692.4,501.6 692.7,502.5 693.0,497.5 693.3,502.2 693.6,501.7 693.9,501.9 694.2,498.7 694.5,499.7 694.8,503.5 695.1,501.1 695.4,499.1 695.7,500.3 696.0,498.8 696.3,496.7 696.6,493.4 696.9,495.2 697.2,504.1 697.6,497.2 697.9,499.6 698.2,499.2 698.5,498.5 698.8,497.6 699.1,495.6 699.4,501.6 699.7,501.4 700.0,502.7 700.3,500.2 700.6,498.5 700.9,497.1 701.2,496.3 701.5,495.6 701.8,496.6 702.1,498.5 702.4,500.7 702.7,498.1 703.0,496.8 703.3,497.0 703.6,495.5 703.9,497.9 704.2,498.1 704.5,494.6 704.8,499.7 705.1,496.4 705.4,494.7 705.7,493.7 706.0,495.7 706.3,499.3 706.6,495.2 706.9,496.9 707.2,500.7 707.5,499.0 707.8,500.3 708.1,493.8 708.4,495.9 708.7,494.6 709.0,490.4 709.3,494.2 709.6,493.8 709.9,493.0 710.2,494.1 710.5,500.8 710.8,492.0 711.1,492.3 711.4,494.4 711.7,495.2 712.0,491.6 712.3,491.4 712.6,491.6 712.9,495.7 713.2,493.7 713.5,494.4 713.9,494.6 714.2,496.0 714.5,492.5 714.8,496.7 715.1,491.7 715.4,493.7 715.7,500.2 716.0,496.3 716.3,490.3 716.6,490.2 716.9,493.6 717.2,497.6 717.5,492.0 717.8,491.2 718.1,492.4 718.4,496.6 718.7,494.6 719.0,497.1 719.3,502.1 719.6,497.6 719.9,497.4 720.2,498.7 720.5,500.8 720.8,492.3 721.1,494.9 721.4,493.0 721.7,495.9 722.0,497.8 722.3,494.7 722.6,494.7 722.9,495.2 723.2,496.6 723.5,501.9 723.8,495.5 724.1,502.3 724.4,499.7 724.7,497.8 725.0,501.3 725.3,496.4 725.6,507.7 725.9,498.8 726.2,498.1 726.5,495.5 726.8,500.1 727.1,496.9 727.4,501.3 727.7,496.6 728.0,495.5 728.3,499.5 728.6,503.0 728.9,498.0 729.2,498.7 729.5,502.6 729.8,498.5 730.2,498.1 730.5,502.2 730.8,499.8 731.1,496.9 731.4,495.4 731.7,496.8 732.0,496.6 732.3,497.1 732.6,502.0 732.9,497.9 733.2,500.4 733.5,502.0 733.8,504.0 734.1,504.2 734.4,500.0 734.7,497.2 735.0,495.1 735.3,500.0 735.6,498.1 735.9,497.6 736.2,497.3 736.5,500.0 736.8,497.7 737.1,493.9 737.4,499.1 737.7,498.6 738.0,497.7" fill="none" stroke="#2a8ad0" stroke-width="0.8" stroke-linejoin="round" />
<text x="523.5" y="451.29999999999995" font-size="7" fill="#666" text-anchor="end" font-weight="normal" >400</text>
<text x="523.5" y="465.34999999999997" font-size="7" fill="#666" text-anchor="end" font-weight="normal" >200</text>
<text x="523.5" y="479.4" font-size="7" fill="#666" text-anchor="end" font-weight="normal" >0</text>
<text x="523.5" y="524.5" font-size="7" fill="#666" text-anchor="end" font-weight="normal" >0.0</text>
<text x="523.5" y="517.14" font-size="7" fill="#666" text-anchor="end" font-weight="normal" >0.2</text>
<text x="523.5" y="509.78" font-size="7" fill="#666" text-anchor="end" font-weight="normal" >0.4</text>
<text x="523.5" y="502.42" font-size="7" fill="#666" text-anchor="end" font-weight="normal" >0.6</text>
<text x="523.5" y="495.06" font-size="7" fill="#666" text-anchor="end" font-weight="normal" >0.8</text>
<text x="523.5" y="487.7" font-size="7" fill="#666" text-anchor="end" font-weight="normal" >1.0</text>
<text x="525.7" y="530.6" font-size="7" fill="#666" text-anchor="middle" font-weight="normal" >0</text>
<text x="568.36" y="530.6" font-size="7" fill="#666" text-anchor="middle" font-weight="normal" >5</text>
<text x="611.02" y="530.6" font-size="7" fill="#666" text-anchor="middle" font-weight="normal" >10</text>
<text x="653.6800000000001" y="530.6" font-size="7" fill="#666" text-anchor="middle" font-weight="normal" >15</text>
<text x="696.34" y="530.6" font-size="7" fill="#666" text-anchor="middle" font-weight="normal" >20</text>
<text x="739.0" y="530.6" font-size="7" fill="#666" text-anchor="middle" font-weight="normal" >25</text>
<text x="635.5" y="540.4" font-size="7.8" fill="#333" text-anchor="middle" font-weight="bold" >Time (s)</text>
<text x="0" y="0" font-size="7.8" fill="#333" text-anchor="middle" font-weight="bold" transform="translate(498.8,459.2) rotate(-90)">Intensity</text>
<text x="0" y="0" font-size="7.8" fill="#333" text-anchor="middle" font-weight="bold" transform="translate(507,459.2) rotate(-90)">(a.u.)</text>
<text x="0" y="0" font-size="7.8" fill="#333" text-anchor="middle" font-weight="bold" transform="translate(506.5,502.6) rotate(-90)">FRET</text>
<line x1="567" y1="441.8" x2="571" y2="441.8" stroke="#3a9a3a" stroke-width="0.9" />
<text x="572" y="444.3" font-size="6.8" fill="#3a9a3a" text-anchor="start" font-weight="normal" >Alexa555</text>
<line x1="617" y1="441.8" x2="621" y2="441.8" stroke="#e02030" stroke-width="0.9" />
<text x="622" y="444.3" font-size="6.8" fill="#e02030" text-anchor="start" font-weight="normal" >Cy5</text>
<text x="5" y="598" font-size="35" fill="#111" text-anchor="start" font-weight="normal" >D</text>
<text x="38.5" y="611" font-size="23" fill="#222" text-anchor="start" font-weight="normal" stroke="#222" stroke-width="0.7">(i)</text>
<text x="278.5" y="606.5" font-size="23" fill="#222" text-anchor="start" font-weight="normal" stroke="#222" stroke-width="0.7">(ii)</text>
<text x="43.5" y="823.5" font-size="23" fill="#222" text-anchor="start" font-weight="normal" stroke="#222" stroke-width="0.7">(iii)</text>
<path d="M72.6,603.5 Q86.6,600.5 100.6,603.5 L89.6,618.5 L83.6,618.5 Z" fill="url(#coneT)"/>
<path d="M72.6,637.5 Q86.6,640.5 100.6,637.5 L89.6,622.5 L83.6,622.5 Z" fill="url(#coneB)"/>
<circle cx="86.6" cy="620.5" r="10.6" fill="url(#bead)" />
<path d="M246.5,603.5 Q260.5,600.5 274.5,603.5 L263.5,618.5 L257.5,618.5 Z" fill="url(#coneT)"/>
<path d="M246.5,637.5 Q260.5,640.5 274.5,637.5 L263.5,622.5 L257.5,622.5 Z" fill="url(#coneB)"/>
<circle cx="260.5" cy="620.5" r="10.6" fill="url(#bead)" />
<circle cx="100.7" cy="620.5" r="2.7" fill="#e4ec30" stroke="#6a6a20" stroke-width="0.5"/>
<circle cx="247" cy="620.5" r="2.7" fill="#e4ec30" stroke="#6a6a20" stroke-width="0.5"/>
<polyline points="102.0,620.5 102.8,619.6 103.5,619.8 104.3,620.9 105.0,621.5 105.8,620.8 106.6,619.7 107.3,619.6 108.1,620.6 108.9,621.5 109.6,621.1 110.4,619.9 111.1,619.5 111.9,620.4 112.7,621.4 113.4,621.3 114.2,620.2 115.0,619.5 115.7,620.1 116.5,621.2 117.2,621.4 118.0,620.5" fill="none" stroke="#5558a8" stroke-width="1.3" stroke-linejoin="round" />
<path d="M120.5,624.5 L122.5,616.5 M124.0,624.5 L126.0,616.5" stroke="#555" stroke-width="0.9" fill="none" />
<polyline points="126.0,620.5 126.8,619.6 127.6,619.9 128.3,621.0 129.1,621.5 129.9,620.7 130.7,619.6 131.4,619.7 132.2,620.8 133.0,621.5 133.8,620.8 134.6,619.7 135.3,619.6 136.1,620.7 136.9,621.5 137.7,621.0 138.4,619.9 139.2,619.6 140.0,620.5" fill="none" stroke="#5558a8" stroke-width="1.3" stroke-linejoin="round" />
<line x1="140" y1="619.5" x2="204" y2="619.5" stroke="#5558a8" stroke-width="1.3" />
<polyline points="204.0,620.5 204.8,621.4 205.5,621.2 206.3,620.0 207.1,619.5 207.8,620.3 208.6,621.3 209.4,621.3 210.2,620.3 210.9,619.5 211.7,620.0 212.5,621.2 213.2,621.4 214.0,620.5" fill="none" stroke="#5558a8" stroke-width="1.3" stroke-linejoin="round" />
<path d="M216,624.5 L218,616.5 M219.5,624.5 L221.5,616.5" stroke="#555" stroke-width="0.9" fill="none" />
<polyline points="222.0,620.5 222.8,619.6 223.6,619.9 224.4,621.1 225.2,621.5 226.0,620.6 226.8,619.6 227.6,619.9 228.3,621.0 229.1,621.5 229.9,620.6 230.7,619.6 231.5,619.8 232.3,621.0 233.1,621.5 233.9,620.7 234.7,619.6 235.5,619.8 236.3,620.9 237.1,621.5 237.9,620.7 238.7,619.6 239.4,619.7 240.2,620.9 241.0,621.5 241.8,620.8 242.6,619.7 243.4,619.7 244.2,620.8 245.0,621.5" fill="none" stroke="#5558a8" stroke-width="1.3" stroke-linejoin="round" />
<text x="127.4" y="600.5" font-size="8.5" fill="#444" text-anchor="start" font-weight="normal" >SSB</text>
<text x="141.5" y="602.5" font-size="5.5" fill="#444" text-anchor="start" font-weight="normal" >f</text>
<g transform="translate(155.9,604.5) rotate(0) scale(1.0)" opacity="1.0"><ellipse cx="-5.2" cy="-4.2" rx="5.4" ry="4.4" fill="#e6e6ea" stroke="#a6a6b0" stroke-width="0.7"/><ellipse cx="5.2" cy="-4.2" rx="5.4" ry="4.4" fill="#e6e6ea" stroke="#a6a6b0" stroke-width="0.7"/><ellipse cx="-5.2" cy="4.2" rx="5.4" ry="4.4" fill="#e6e6ea" stroke="#a6a6b0" stroke-width="0.7"/><ellipse cx="5.2" cy="4.2" rx="5.4" ry="4.4" fill="#e6e6ea" stroke="#a6a6b0" stroke-width="0.7"/></g>
<circle cx="155.9" cy="595.6" r="1.7" fill="#3a7a3a" />
<path d="M167,606 C171,605 173,607 173,611" stroke="#333" stroke-width="0.9" fill="none" />
<path d="M171,609 L173,612 L175,609" stroke="#333" stroke-width="0.8" fill="none" />
<text x="155.9" y="630.5" font-size="9.2" fill="#333" text-anchor="start" font-weight="normal" ><tspan font-style="italic">F</tspan> = 5 pN</text>
<text x="196.6" y="609" font-size="8.5" fill="#333" text-anchor="start" font-weight="normal" >Cy5</text>
<circle cx="203.9" cy="615.6" r="1.6" fill="#a01020" />
<path d="M72.7,655.5 Q86.7,652.5 100.7,655.5 L89.7,670.5 L83.7,670.5 Z" fill="url(#coneT)"/>
<path d="M72.7,689.5 Q86.7,692.5 100.7,689.5 L89.7,674.5 L83.7,674.5 Z" fill="url(#coneB)"/>
<circle cx="86.7" cy="672.5" r="10.6" fill="url(#bead)" />
<path d="M213.1,655.5 Q227.1,652.5 241.1,655.5 L230.1,670.5 L224.1,670.5 Z" fill="url(#coneT)"/>
<path d="M213.1,689.5 Q227.1,692.5 241.1,689.5 L230.1,674.5 L224.1,674.5 Z" fill="url(#coneB)"/>
<circle cx="227.1" cy="672.5" r="10.6" fill="url(#bead)" />
<circle cx="100.8" cy="672.5" r="2.7" fill="#e4ec30" stroke="#6a6a20" stroke-width="0.5"/>
<circle cx="213.5" cy="672.5" r="2.7" fill="#e4ec30" stroke="#6a6a20" stroke-width="0.5"/>
<polyline points="102.0,672.5 102.8,671.6 103.5,671.8 104.3,672.9 105.0,673.5 105.8,672.8 106.6,671.7 107.3,671.6 108.1,672.6 108.9,673.5 109.6,673.1 110.4,671.9 111.1,671.5 111.9,672.4 112.7,673.4 113.4,673.3 114.2,672.2 115.0,671.5 115.7,672.1 116.5,673.2 117.2,673.4 118.0,672.5" fill="none" stroke="#5558a8" stroke-width="1.3" stroke-linejoin="round" />
<path d="M120.5,676.5 L122.5,668.5 M124.0,676.5 L126.0,668.5" stroke="#555" stroke-width="0.9" fill="none" />
<polyline points="126.0,672.5 126.8,671.6 127.5,671.8 128.3,673.0 129.1,673.5 129.9,672.7 130.6,671.7 131.4,671.7 132.2,672.8 133.0,673.5 133.7,672.9 134.5,671.8 135.3,671.6 136.0,672.6 136.8,673.5 137.6,673.1 138.4,672.0 139.1,671.5 139.9,672.4 140.7,673.4 141.5,673.3 142.2,672.2 143.0,671.5" fill="none" stroke="#5558a8" stroke-width="1.3" stroke-linejoin="round" />
<path d="M144.6,690.5 Q155.6,692.5 166.6,690.5 L157.1,674 L154.1,674 Z" fill="url(#ycone)"/>
<path d="M158,657 Q164,654 170,657.5 Q164,660 158,658.5 Z" fill="#d8e040" opacity="0.85"/>
<circle cx="150.8" cy="656.6" r="7" fill="url(#gG)" />
<g transform="translate(150.8,667.3) rotate(0) scale(0.92)" opacity="1.0"><ellipse cx="-5.2" cy="-4.2" rx="5.4" ry="4.4" fill="#e6e6ea" stroke="#a6a6b0" stroke-width="0.7"/><ellipse cx="5.2" cy="-4.2" rx="5.4" ry="4.4" fill="#e6e6ea" stroke="#a6a6b0" stroke-width="0.7"/><ellipse cx="-5.2" cy="4.2" rx="5.4" ry="4.4" fill="#e6e6ea" stroke="#a6a6b0" stroke-width="0.7"/><ellipse cx="5.2" cy="4.2" rx="5.4" ry="4.4" fill="#e6e6ea" stroke="#a6a6b0" stroke-width="0.7"/><path d="M-13,5 C-11,4 -13,-9 -6,-9.5 C-1,-10 2,-3 5,2 C8,7 11,6 13,5" fill="none" stroke="#5e5e8a" stroke-width="1.2"/><path d="M-11,5 C-9,10 -3,9 -3,4 C-3,0 -7,-3 -9,-2" fill="none" stroke="#5e5e8a" stroke-width="1.1"/></g>
<line x1="160" y1="670.7" x2="172" y2="670.7" stroke="#555" stroke-width="1.0" />
<circle cx="171.6" cy="668.2" r="1.8" fill="#802020" />
<polyline points="173.0,673.5 173.8,672.8 174.6,671.7 175.4,671.7 176.1,672.7 176.9,673.5 177.7,672.9 178.5,671.8 179.3,671.6 180.1,672.6 180.9,673.5 181.6,673.0 182.4,671.9 183.2,671.6 184.0,672.5 184.8,673.4 185.6,673.1 186.4,672.0 187.1,671.5 187.9,672.4 188.7,673.4 189.5,673.2 190.3,672.1 191.1,671.5 191.9,672.3 192.6,673.3 193.4,673.3 194.2,672.2 195.0,671.5" fill="none" stroke="#5558a8" stroke-width="1.3" stroke-linejoin="round" />
<path d="M197,676.5 L199,668.5 M200.5,676.5 L202.5,668.5" stroke="#555" stroke-width="0.9" fill="none" />
<polyline points="203.0,671.5 203.8,672.1 204.5,673.2 205.2,673.4 206.0,672.5 206.8,671.6 207.5,671.8 208.2,672.9 209.0,673.5 209.8,672.9 210.5,671.8 211.2,671.6 212.0,672.5" fill="none" stroke="#5558a8" stroke-width="1.3" stroke-linejoin="round" />
<path d="M72.7,709.6 Q86.7,706.6 100.7,709.6 L89.7,724.6 L83.7,724.6 Z" fill="url(#coneT)"/>
<path d="M72.7,743.6 Q86.7,746.6 100.7,743.6 L89.7,728.6 L83.7,728.6 Z" fill="url(#coneB)"/>
<circle cx="86.7" cy="726.6" r="10.6" fill="url(#bead)" />
<path d="M204.4,709.6 Q218.4,706.6 232.4,709.6 L221.4,724.6 L215.4,724.6 Z" fill="url(#coneT)"/>
<path d="M204.4,743.6 Q218.4,746.6 232.4,743.6 L221.4,728.6 L215.4,728.6 Z" fill="url(#coneB)"/>
<circle cx="218.4" cy="726.6" r="10.6" fill="url(#bead)" />
<circle cx="100.8" cy="726.6" r="2.7" fill="#e4ec30" stroke="#6a6a20" stroke-width="0.5"/>
<circle cx="205" cy="726.6" r="2.7" fill="#e4ec30" stroke="#6a6a20" stroke-width="0.5"/>
<polyline points="102.0,726.6 102.8,725.7 103.5,725.9 104.3,727.0 105.0,727.6 105.8,726.9 106.6,725.8 107.3,725.7 108.1,726.7 108.9,727.6 109.6,727.2 110.4,726.0 111.1,725.6 111.9,726.5 112.7,727.5 113.4,727.4 114.2,726.3 115.0,725.6 115.7,726.2 116.5,727.3 117.2,727.5 118.0,726.6" fill="none" stroke="#5558a8" stroke-width="1.3" stroke-linejoin="round" />
<path d="M120.5,730.6 L122.5,722.6 M124.0,730.6 L126.0,722.6" stroke="#555" stroke-width="0.9" fill="none" />
<polyline points="126.0,726.6 126.8,725.7 127.5,725.9 128.3,727.1 129.1,727.6 129.9,726.8 130.6,725.8 131.4,725.8 132.2,726.9 133.0,727.6 133.7,727.0 134.5,725.9 135.3,725.7 136.0,726.7 136.8,727.6 137.6,727.2 138.4,726.1 139.1,725.6 139.9,726.5 140.7,727.5 141.5,727.4 142.2,726.3 143.0,725.6" fill="none" stroke="#5558a8" stroke-width="1.3" stroke-linejoin="round" />
<path d="M144,744 Q154,746 164,744 L155.5,733 L152.5,733 Z" fill="url(#ycone)"/>
<path d="M142.6,711.8 Q155,708 168.7,711.8 Q155,715.5 142.6,711.8 Z" fill="#d8e040" opacity="0.85"/>
<g transform="translate(150.8,724.9) rotate(60) scale(0.92)" opacity="1.0"><ellipse cx="-5.2" cy="-4.2" rx="5.4" ry="4.4" fill="#e6e6ea" stroke="#a6a6b0" stroke-width="0.7"/><ellipse cx="5.2" cy="-4.2" rx="5.4" ry="4.4" fill="#e6e6ea" stroke="#a6a6b0" stroke-width="0.7"/><ellipse cx="-5.2" cy="4.2" rx="5.4" ry="4.4" fill="#e6e6ea" stroke="#a6a6b0" stroke-width="0.7"/><ellipse cx="5.2" cy="4.2" rx="5.4" ry="4.4" fill="#e6e6ea" stroke="#a6a6b0" stroke-width="0.7"/><path d="M-13,5 C-11,4 -13,-9 -6,-9.5 C-1,-10 2,-3 5,2 C8,7 11,6 13,5" fill="none" stroke="#5e5e8a" stroke-width="1.2"/><path d="M-11,5 C-9,10 -3,9 -3,4 C-3,0 -7,-3 -9,-2" fill="none" stroke="#5e5e8a" stroke-width="1.1"/></g>
<circle cx="164.6" cy="722.8" r="6.5" fill="url(#gR)" />
<circle cx="164.6" cy="722.8" r="1.8" fill="#c01020" />
<circle cx="155.3" cy="717.9" r="1.6" fill="#3a7a3a" />
<polyline points="162.0,726.6 162.8,725.7 163.5,725.9 164.3,727.1 165.1,727.6 165.8,726.8 166.6,725.8 167.4,725.8 168.2,726.8 168.9,727.6 169.7,727.1 170.5,725.9 171.2,725.7 172.0,726.6 172.8,727.5 173.5,727.3 174.3,726.1 175.1,725.6 175.8,726.4 176.6,727.4 177.4,727.4 178.2,726.4 178.9,725.6 179.7,726.1 180.5,727.3 181.2,727.5 182.0,726.6" fill="none" stroke="#5558a8" stroke-width="1.3" stroke-linejoin="round" />
<path d="M184,730.6 L186,722.6 M187.5,730.6 L189.5,722.6" stroke="#555" stroke-width="0.9" fill="none" />
<polyline points="190.0,726.6 190.8,725.7 191.5,725.9 192.3,727.0 193.1,727.6 193.8,726.9 194.6,725.8 195.4,725.7 196.1,726.8 196.9,727.6 197.6,727.1 198.4,726.0 199.2,725.6 199.9,726.5 200.7,727.5 201.5,727.3 202.2,726.2 203.0,725.6" fill="none" stroke="#5558a8" stroke-width="1.3" stroke-linejoin="round" />
<line x1="260" y1="588" x2="260" y2="754" stroke="#555" stroke-width="0.9" stroke-dasharray="2.5,1.8"/>
<line x1="226.2" y1="641" x2="226.2" y2="701" stroke="#555" stroke-width="0.9" stroke-dasharray="2.5,1.8"/>
<line x1="216.9" y1="699" x2="216.9" y2="754" stroke="#555" stroke-width="0.9" stroke-dasharray="2.5,1.8"/>
<line x1="226.2" y1="699.6" x2="260" y2="699.6" stroke="#c83040" stroke-width="0.8" />
<path d="M229.2,697.8000000000001 L226.2,699.6 L229.2,701.4 M257,697.8000000000001 L260,699.6 L257,701.4" stroke="#c83040" stroke-width="0.8" fill="none" />
<text x="241.6" y="702" font-size="7" fill="#c83040" text-anchor="middle" font-weight="normal" ><tspan font-style="italic">Δx</tspan></text>
<line x1="216.9" y1="751.3" x2="260" y2="751.3" stroke="#c83040" stroke-width="0.8" />
<path d="M219.9,749.5 L216.9,751.3 L219.9,753.0999999999999 M257,749.5 L260,751.3 L257,753.0999999999999" stroke="#c83040" stroke-width="0.8" fill="none" />
<text x="238.7" y="753.8" font-size="7" fill="#c83040" text-anchor="middle" font-weight="normal" ><tspan font-style="italic">Δx</tspan></text>
<g clip-path="url(#clipD2)">
<g filter="url(#blur1)">
<path d="M330,700 C326,670 330,640 345,632 C360,626 375,640 388,652 C398,640 410,622 440,620 C460,620 470,640 468,665 C470,690 468,720 462,740 C450,750 420,750 400,748 C370,750 340,750 332,735 C328,725 330,712 330,700 Z" fill="#ececec"/>
<path d="M336,700 C333,672 338,646 350,640 C362,636 372,648 386,660 C396,650 412,630 438,630 C456,630 464,648 462,668 C463,692 460,718 455,735 C444,742 420,742 402,740 C372,742 345,742 338,730 C334,720 336,710 336,700 Z" fill="#e2e2e2"/>
<g transform="translate(363.9,668) rotate(0)"><ellipse cx="0" cy="0" rx="19.0" ry="32.0" fill="#d8d8d8"/><ellipse cx="0" cy="0" rx="15.2" ry="25.6" fill="#cecece"/><ellipse cx="0" cy="0" rx="11.4" ry="19.2" fill="#c4c4c4"/><ellipse cx="0" cy="0" rx="7.6" ry="12.8" fill="#bababa"/><ellipse cx="0" cy="0" rx="3.8" ry="6.4" fill="#b0b0b0"/></g>
<g transform="translate(432,716) rotate(0)"><ellipse cx="0" cy="0" rx="32.0" ry="19.0" fill="#d6d6d6"/><ellipse cx="0" cy="0" rx="27.4" ry="16.3" fill="#c8c8c8"/><ellipse cx="0" cy="0" rx="22.9" ry="13.6" fill="#b8b8b8"/><ellipse cx="0" cy="0" rx="18.3" ry="10.9" fill="#a8a8a8"/><ellipse cx="0" cy="0" rx="13.7" ry="8.1" fill="#989898"/><ellipse cx="0" cy="0" rx="9.1" ry="5.4" fill="#888888"/><ellipse cx="0" cy="0" rx="4.6" ry="2.7" fill="#7a7a7a"/></g>
<g transform="translate(439,657) rotate(-35)"><ellipse cx="0" cy="0" rx="34.0" ry="25.0" fill="#d4d4d4"/><ellipse cx="0" cy="0" rx="30.2" ry="22.2" fill="#c4c4c4"/><ellipse cx="0" cy="0" rx="26.4" ry="19.4" fill="#b2b2b2"/><ellipse cx="0" cy="0" rx="22.7" ry="16.7" fill="#a0a0a0"/><ellipse cx="0" cy="0" rx="18.9" ry="13.9" fill="#8c8c8c"/><ellipse cx="0" cy="0" rx="15.1" ry="11.1" fill="#787878"/><ellipse cx="0" cy="0" rx="11.3" ry="8.3" fill="#646464"/><ellipse cx="0" cy="0" rx="7.6" ry="5.6" fill="#545454"/><ellipse cx="0" cy="0" rx="3.8" ry="2.8" fill="#484848"/></g>
<g transform="translate(363,718) rotate(0)"><ellipse cx="0" cy="0" rx="36.0" ry="28.0" fill="#d0d0d0"/><ellipse cx="0" cy="0" rx="32.7" ry="25.5" fill="#b8b8b8"/><ellipse cx="0" cy="0" rx="29.5" ry="22.9" fill="#a0a0a0"/><ellipse cx="0" cy="0" rx="26.2" ry="20.4" fill="#868686"/><ellipse cx="0" cy="0" rx="22.9" ry="17.8" fill="#6a6a6a"/><ellipse cx="0" cy="0" rx="19.6" ry="15.3" fill="#4e4e4e"/><ellipse cx="0" cy="0" rx="16.4" ry="12.7" fill="#343434"/><ellipse cx="0" cy="0" rx="13.1" ry="10.2" fill="#1c1c1c"/><ellipse cx="0" cy="0" rx="9.8" ry="7.6" fill="#0a0a0a"/><ellipse cx="0" cy="0" rx="6.5" ry="5.1" fill="#000"/><ellipse cx="0" cy="0" rx="3.3" ry="2.5" fill="#000"/></g>
</g>
</g>
<rect x="316.9" y="591.7" width="154.10000000000002" height="161.69999999999993" stroke="#666" stroke-width="1.1" fill="none" />
<line x1="396" y1="592" x2="396" y2="753" stroke="#222" stroke-width="0.75" stroke-dasharray="2.2,1.6"/>
<line x1="317" y1="697.3" x2="471" y2="697.3" stroke="#222" stroke-width="0.75" stroke-dasharray="2.2,1.6"/>
<line x1="343.34999999999997" y1="753.4" x2="343.34999999999997" y2="750.9" stroke="#666" stroke-width="0.7" />
<line x1="371.5" y1="753.4" x2="371.5" y2="750.9" stroke="#666" stroke-width="0.7" />
<line x1="399.65" y1="753.4" x2="399.65" y2="750.9" stroke="#666" stroke-width="0.7" />
<line x1="427.79999999999995" y1="753.4" x2="427.79999999999995" y2="750.9" stroke="#666" stroke-width="0.7" />
<line x1="455.95" y1="753.4" x2="455.95" y2="750.9" stroke="#666" stroke-width="0.7" />
<line x1="316.9" y1="730.3" x2="319.4" y2="730.3" stroke="#666" stroke-width="0.7" />
<line x1="471" y1="730.3" x2="468.5" y2="730.3" stroke="#666" stroke-width="0.7" />
<line x1="316.9" y1="707.24" x2="319.4" y2="707.24" stroke="#666" stroke-width="0.7" />
<line x1="471" y1="707.24" x2="468.5" y2="707.24" stroke="#666" stroke-width="0.7" />
<line x1="316.9" y1="684.18" x2="319.4" y2="684.18" stroke="#666" stroke-width="0.7" />
<line x1="471" y1="684.18" x2="468.5" y2="684.18" stroke="#666" stroke-width="0.7" />
<line x1="316.9" y1="661.12" x2="319.4" y2="661.12" stroke="#666" stroke-width="0.7" />
<line x1="471" y1="661.12" x2="468.5" y2="661.12" stroke="#666" stroke-width="0.7" />
<line x1="316.9" y1="638.06" x2="319.4" y2="638.06" stroke="#666" stroke-width="0.7" />
<line x1="471" y1="638.06" x2="468.5" y2="638.06" stroke="#666" stroke-width="0.7" />
<line x1="316.9" y1="615.0" x2="319.4" y2="615.0" stroke="#666" stroke-width="0.7" />
<line x1="471" y1="615.0" x2="468.5" y2="615.0" stroke="#666" stroke-width="0.7" />
<text x="315.2" y="764.5" font-size="9" fill="#444" text-anchor="middle" font-weight="normal" >-6</text>
<text x="343.34999999999997" y="764.5" font-size="9" fill="#444" text-anchor="middle" font-weight="normal" >-8</text>
<text x="371.5" y="764.5" font-size="9" fill="#444" text-anchor="middle" font-weight="normal" >-10</text>
<text x="399.65" y="764.5" font-size="9" fill="#444" text-anchor="middle" font-weight="normal" >-12</text>
<text x="427.79999999999995" y="764.5" font-size="9" fill="#444" text-anchor="middle" font-weight="normal" >-14</text>
<text x="455.95" y="764.5" font-size="9" fill="#444" text-anchor="middle" font-weight="normal" >-16</text>
<text x="312.5" y="618.2" font-size="9" fill="#444" text-anchor="end" font-weight="normal" >1</text>
<text x="312.5" y="641.26" font-size="9" fill="#444" text-anchor="end" font-weight="normal" >0.8</text>
<text x="312.5" y="664.32" font-size="9" fill="#444" text-anchor="end" font-weight="normal" >0.6</text>
<text x="312.5" y="687.38" font-size="9" fill="#444" text-anchor="end" font-weight="normal" >0.4</text>
<text x="312.5" y="710.44" font-size="9" fill="#444" text-anchor="end" font-weight="normal" >0.2</text>
<text x="312.5" y="733.5" font-size="9" fill="#444" text-anchor="end" font-weight="normal" >0</text>
<text x="394.8" y="779.7" font-size="9" fill="#444" text-anchor="middle" font-weight="normal" >Δx (nm)</text>
<text x="0" y="0" font-size="9" fill="#444" text-anchor="middle" font-weight="normal" transform="translate(292.5,672.6) rotate(-90)">FRET</text>
<circle cx="331.8" cy="605.7" r="6.4" fill="#fff" stroke="#555" stroke-width="0.9"/>
<text x="331.8" y="607.9000000000001" font-size="6.8" fill="#444" text-anchor="middle" font-weight="bold" >ii</text>
<circle cx="455.5" cy="605.7" r="6.4" fill="#fff" stroke="#555" stroke-width="0.9"/>
<text x="455.5" y="607.9000000000001" font-size="6.8" fill="#444" text-anchor="middle" font-weight="bold" >iii</text>
<circle cx="331.8" cy="740" r="6.4" fill="#fff" stroke="#555" stroke-width="0.9"/>
<text x="331.8" y="742.2" font-size="6.8" fill="#444" text-anchor="middle" font-weight="bold" >i</text>
<circle cx="455.5" cy="740" r="6.4" fill="#fff" stroke="#555" stroke-width="0.9"/>
<text x="455.5" y="742.2" font-size="6.8" fill="#444" text-anchor="middle" font-weight="bold" >iv</text>
<circle cx="363.9" cy="713.9" r="1.2" fill="#e01020" />
<circle cx="362.8" cy="726.9" r="1.2" fill="#e01020" />
<circle cx="368.0" cy="721.6" r="1.2" fill="#e01020" />
<circle cx="353.0" cy="715.7" r="1.2" fill="#e01020" />
<circle cx="368.0" cy="723.4" r="1.2" fill="#e01020" />
<circle cx="348.3" cy="718.0" r="1.2" fill="#e01020" />
<circle cx="379.3" cy="720.1" r="1.2" fill="#e01020" />
<circle cx="368.0" cy="725.8" r="1.2" fill="#e01020" />
<circle cx="348.7" cy="717.6" r="1.2" fill="#e01020" />
<circle cx="364.5" cy="721.9" r="1.2" fill="#e01020" />
<circle cx="372.4" cy="722.3" r="1.2" fill="#e01020" />
<circle cx="357.4" cy="717.3" r="1.2" fill="#e01020" />
<circle cx="363.0" cy="719.8" r="1.2" fill="#e01020" />
<circle cx="364.8" cy="723.9" r="1.2" fill="#e01020" />
<circle cx="351.9" cy="720.9" r="1.2" fill="#e01020" />
<circle cx="373.9" cy="722.2" r="1.2" fill="#e01020" />
<circle cx="373.4" cy="717.1" r="1.2" fill="#e01020" />
<circle cx="361.4" cy="708.7" r="1.2" fill="#e01020" />
<circle cx="368.4" cy="721.0" r="1.2" fill="#e01020" />
<circle cx="372.7" cy="722.0" r="1.2" fill="#e01020" />
<circle cx="358.8" cy="717.5" r="1.2" fill="#e01020" />
<circle cx="350.6" cy="720.8" r="1.2" fill="#e01020" />
<circle cx="358.6" cy="717.2" r="1.2" fill="#e01020" />
<circle cx="364.2" cy="717.4" r="1.2" fill="#e01020" />
<circle cx="372.4" cy="707.2" r="1.2" fill="#e01020" />
<circle cx="362.1" cy="706.4" r="1.2" fill="#e01020" />
<circle cx="357.2" cy="717.3" r="1.2" fill="#e01020" />
<circle cx="350.7" cy="719.4" r="1.2" fill="#e01020" />
<circle cx="362.8" cy="713.3" r="1.2" fill="#e01020" />
<circle cx="363.8" cy="717.6" r="1.2" fill="#e01020" />
<circle cx="360.0" cy="718.0" r="1.2" fill="#e01020" />
<circle cx="348.8" cy="729.3" r="1.2" fill="#e01020" />
<circle cx="377.0" cy="727.4" r="1.2" fill="#e01020" />
<circle cx="370.8" cy="713.9" r="1.2" fill="#e01020" />
<circle cx="369.4" cy="719.9" r="1.2" fill="#e01020" />
<circle cx="360.9" cy="716.0" r="1.2" fill="#e01020" />
<circle cx="361.1" cy="720.0" r="1.2" fill="#e01020" />
<circle cx="370.6" cy="709.1" r="1.2" fill="#e01020" />
<circle cx="372.4" cy="714.3" r="1.2" fill="#e01020" />
<circle cx="359.8" cy="717.2" r="1.2" fill="#e01020" />
<circle cx="350.2" cy="718.9" r="1.2" fill="#e01020" />
<circle cx="362.1" cy="716.9" r="1.2" fill="#e01020" />
<circle cx="365.0" cy="718.1" r="1.2" fill="#e01020" />
<circle cx="365.1" cy="716.9" r="1.2" fill="#e01020" />
<circle cx="355.9" cy="721.5" r="1.2" fill="#e01020" />
<circle cx="364.8" cy="716.3" r="1.2" fill="#e01020" />
<circle cx="361.1" cy="726.2" r="1.2" fill="#e01020" />
<circle cx="365.6" cy="719.5" r="1.2" fill="#e01020" />
<circle cx="379.4" cy="719.9" r="1.2" fill="#e01020" />
<circle cx="362.9" cy="723.6" r="1.2" fill="#e01020" />
<circle cx="347.7" cy="727.3" r="1.2" fill="#e01020" />
<circle cx="359.8" cy="711.7" r="1.2" fill="#e01020" />
<circle cx="356.5" cy="718.2" r="1.2" fill="#e01020" />
<circle cx="363.7" cy="716.1" r="1.2" fill="#e01020" />
<circle cx="357.8" cy="715.2" r="1.2" fill="#e01020" />
<circle cx="360.7" cy="723.2" r="1.2" fill="#e01020" />
<circle cx="365.5" cy="724.0" r="1.2" fill="#e01020" />
<circle cx="363.2" cy="718.4" r="1.2" fill="#e01020" />
<circle cx="363.9" cy="719.6" r="1.2" fill="#e01020" />
<circle cx="368.0" cy="714.0" r="1.2" fill="#e01020" />
<circle cx="356.7" cy="710.5" r="1.2" fill="#e01020" />
<circle cx="370.7" cy="728.2" r="1.2" fill="#e01020" />
<circle cx="356.2" cy="721.5" r="1.2" fill="#e01020" />
<circle cx="351.2" cy="718.5" r="1.2" fill="#e01020" />
<circle cx="362.5" cy="714.9" r="1.2" fill="#e01020" />
<circle cx="365.5" cy="713.5" r="1.2" fill="#e01020" />
<circle cx="361.9" cy="727.6" r="1.2" fill="#e01020" />
<circle cx="371.6" cy="711.2" r="1.2" fill="#e01020" />
<circle cx="355.1" cy="727.5" r="1.2" fill="#e01020" />
<circle cx="365.0" cy="705.4" r="1.2" fill="#e01020" />
<circle cx="337" cy="693" r="1.35" fill="#e01020" />
<circle cx="342" cy="707" r="1.35" fill="#e01020" />
<circle cx="380" cy="697" r="1.35" fill="#e01020" />
<circle cx="387" cy="703" r="1.35" fill="#e01020" />
<circle cx="398" cy="716" r="1.35" fill="#e01020" />
<circle cx="405" cy="719" r="1.35" fill="#e01020" />
<circle cx="381" cy="711" r="1.35" fill="#e01020" />
<circle cx="373" cy="712" r="1.35" fill="#e01020" />
<circle cx="360.9" cy="635.9" r="1.35" fill="#4050c0" />
<circle cx="348.5" cy="675.1" r="1.35" fill="#4050c0" />
<circle cx="361.7" cy="662.2" r="1.35" fill="#4050c0" />
<circle cx="352.9" cy="672.8" r="1.35" fill="#4050c0" />
<circle cx="364.6" cy="666.5" r="1.35" fill="#4050c0" />
<circle cx="359.8" cy="661.4" r="1.35" fill="#4050c0" />
<circle cx="358.4" cy="665.5" r="1.35" fill="#4050c0" />
<circle cx="369.2" cy="679.4" r="1.35" fill="#4050c0" />
<circle cx="364.0" cy="679.7" r="1.35" fill="#4050c0" />
<circle cx="360.4" cy="670.2" r="1.35" fill="#4050c0" />
<circle cx="367.9" cy="666.6" r="1.35" fill="#4050c0" />
<circle cx="350.2" cy="667.9" r="1.35" fill="#4050c0" />
<circle cx="361.4" cy="673.7" r="1.35" fill="#4050c0" />
<circle cx="358.3" cy="661.2" r="1.35" fill="#4050c0" />
<circle cx="351.7" cy="660.1" r="1.35" fill="#4050c0" />
<circle cx="359.5" cy="678.3" r="1.35" fill="#4050c0" />
<circle cx="362.4" cy="672.4" r="1.35" fill="#4050c0" />
<circle cx="350.3" cy="671.8" r="1.35" fill="#4050c0" />
<circle cx="362.9" cy="671.9" r="1.35" fill="#4050c0" />
<circle cx="359.2" cy="669.5" r="1.35" fill="#4050c0" />
<circle cx="350.7" cy="676.6" r="1.35" fill="#4050c0" />
<circle cx="361.3" cy="670.7" r="1.35" fill="#4050c0" />
<circle cx="333" cy="648" r="1.35" fill="#4050c0" />
<circle cx="344" cy="643" r="1.35" fill="#4050c0" />
<circle cx="342" cy="662" r="1.35" fill="#4050c0" />
<circle cx="339" cy="671" r="1.35" fill="#4050c0" />
<circle cx="351" cy="683" r="1.35" fill="#4050c0" />
<circle cx="370" cy="688" r="1.35" fill="#4050c0" />
<circle cx="376" cy="681" r="1.35" fill="#4050c0" />
<circle cx="385" cy="659" r="1.35" fill="#4050c0" />
<circle cx="386" cy="637" r="1.35" fill="#4050c0" />
<circle cx="390" cy="625" r="1.35" fill="#4050c0" />
<circle cx="379" cy="691" r="1.35" fill="#4050c0" />
<circle cx="440.1" cy="653.5" r="1.35" fill="#111" />
<circle cx="431.0" cy="675.7" r="1.35" fill="#111" />
<circle cx="442.6" cy="654.1" r="1.35" fill="#111" />
<circle cx="443.8" cy="656.1" r="1.35" fill="#111" />
<circle cx="441.5" cy="655.1" r="1.35" fill="#111" />
<circle cx="438.8" cy="644.6" r="1.35" fill="#111" />
<circle cx="441.6" cy="640.1" r="1.35" fill="#111" />
<circle cx="428.6" cy="653.3" r="1.35" fill="#111" />
<circle cx="430.6" cy="660.1" r="1.35" fill="#111" />
<circle cx="451.8" cy="655.9" r="1.35" fill="#111" />
<circle cx="448.7" cy="652.8" r="1.35" fill="#111" />
<circle cx="439.0" cy="653.8" r="1.35" fill="#111" />
<circle cx="433.8" cy="662.6" r="1.35" fill="#111" />
<circle cx="439.8" cy="651.2" r="1.35" fill="#111" />
<circle cx="438.0" cy="660.2" r="1.35" fill="#111" />
<circle cx="423.6" cy="658.2" r="1.35" fill="#111" />
<circle cx="437.4" cy="667.2" r="1.35" fill="#111" />
<circle cx="436.9" cy="658.0" r="1.35" fill="#111" />
<circle cx="438.2" cy="653.9" r="1.35" fill="#111" />
<circle cx="418.0" cy="653.4" r="1.35" fill="#111" />
<circle cx="443.0" cy="667.5" r="1.35" fill="#111" />
<circle cx="440.7" cy="667.4" r="1.35" fill="#111" />
<circle cx="448.7" cy="662.1" r="1.35" fill="#111" />
<circle cx="440.8" cy="652.3" r="1.35" fill="#111" />
<circle cx="440.8" cy="662.2" r="1.35" fill="#111" />
<circle cx="451.9" cy="661.5" r="1.35" fill="#111" />
<circle cx="442.6" cy="648.2" r="1.35" fill="#111" />
<circle cx="437.3" cy="661.8" r="1.35" fill="#111" />
<circle cx="451.1" cy="671.0" r="1.35" fill="#111" />
<circle cx="432.1" cy="663.9" r="1.35" fill="#111" />
<circle cx="443.2" cy="661.2" r="1.35" fill="#111" />
<circle cx="448.0" cy="654.1" r="1.35" fill="#111" />
<circle cx="436.5" cy="664.7" r="1.35" fill="#111" />
<circle cx="430.6" cy="655.1" r="1.35" fill="#111" />
<circle cx="446.8" cy="644.3" r="1.35" fill="#111" />
<circle cx="431.5" cy="649.4" r="1.35" fill="#111" />
<circle cx="433.3" cy="659.4" r="1.35" fill="#111" />
<circle cx="451.2" cy="643.4" r="1.35" fill="#111" />
<circle cx="435.8" cy="670.9" r="1.35" fill="#111" />
<circle cx="433.8" cy="667.2" r="1.35" fill="#111" />
<circle cx="432" cy="614" r="1.35" fill="#111" />
<circle cx="430" cy="632" r="1.35" fill="#111" />
<circle cx="440" cy="632" r="1.35" fill="#111" />
<circle cx="420" cy="640" r="1.35" fill="#111" />
<circle cx="402" cy="664" r="1.35" fill="#111" />
<circle cx="404" cy="668" r="1.35" fill="#111" />
<circle cx="418" cy="672" r="1.35" fill="#111" />
<circle cx="415" cy="686" r="1.35" fill="#111" />
<circle cx="424" cy="690" r="1.35" fill="#111" />
<circle cx="445" cy="685" r="1.35" fill="#111" />
<circle cx="437" cy="691" r="1.35" fill="#111" />
<circle cx="397" cy="691" r="1.35" fill="#111" />
<circle cx="393" cy="693" r="1.35" fill="#111" />
<circle cx="385" cy="660" r="1.35" fill="#111" />
<circle cx="389" cy="678" r="1.35" fill="#111" />
<circle cx="409" cy="700" r="1.35" fill="#111" />
<circle cx="392" cy="648" r="1.35" fill="#111" />
<circle cx="442.0" cy="716.0" r="1.35" fill="#50a040" />
<circle cx="439.1" cy="713.2" r="1.35" fill="#50a040" />
<circle cx="439.4" cy="709.5" r="1.35" fill="#50a040" />
<circle cx="433.6" cy="715.3" r="1.35" fill="#50a040" />
<circle cx="418.4" cy="726.7" r="1.35" fill="#50a040" />
<circle cx="423.3" cy="709.4" r="1.35" fill="#50a040" />
<circle cx="435.3" cy="711.4" r="1.35" fill="#50a040" />
<circle cx="435.9" cy="719.3" r="1.35" fill="#50a040" />
<circle cx="434.5" cy="713.4" r="1.35" fill="#50a040" />
<circle cx="422.5" cy="715.2" r="1.35" fill="#50a040" />
<circle cx="427.5" cy="716.7" r="1.35" fill="#50a040" />
<circle cx="435.8" cy="712.9" r="1.35" fill="#50a040" />
<circle cx="431.3" cy="712.0" r="1.35" fill="#50a040" />
<circle cx="428.2" cy="715.5" r="1.35" fill="#50a040" />
<circle cx="420.9" cy="711.9" r="1.35" fill="#50a040" />
<circle cx="424.5" cy="716.4" r="1.35" fill="#50a040" />
<circle cx="428.4" cy="714.0" r="1.35" fill="#50a040" />
<circle cx="439.4" cy="712.7" r="1.35" fill="#50a040" />
<circle cx="422.7" cy="711.6" r="1.35" fill="#50a040" />
<circle cx="432.2" cy="715.2" r="1.35" fill="#50a040" />
<circle cx="428.4" cy="709.3" r="1.35" fill="#50a040" />
<circle cx="428.1" cy="721.1" r="1.35" fill="#50a040" />
<circle cx="437.4" cy="710.7" r="1.35" fill="#50a040" />
<circle cx="418.2" cy="714.2" r="1.35" fill="#50a040" />
<circle cx="431.6" cy="714.1" r="1.35" fill="#50a040" />
<circle cx="423.9" cy="709.4" r="1.35" fill="#50a040" />
<circle cx="428.9" cy="712.1" r="1.35" fill="#50a040" />
<circle cx="437.6" cy="707.2" r="1.35" fill="#50a040" />
<circle cx="426.3" cy="727.0" r="1.35" fill="#50a040" />
<circle cx="440.7" cy="717.0" r="1.35" fill="#50a040" />
<circle cx="435.0" cy="716.7" r="1.35" fill="#50a040" />
<circle cx="420.9" cy="709.0" r="1.35" fill="#50a040" />
<circle cx="423.3" cy="715.5" r="1.35" fill="#50a040" />
<circle cx="420.6" cy="713.5" r="1.35" fill="#50a040" />
<circle cx="423.1" cy="718.4" r="1.35" fill="#50a040" />
<rect x="477" y="591.8" width="257.4" height="161.60000000000002" stroke="#666" stroke-width="1.1" fill="none" />
<line x1="651.3" y1="592" x2="651.3" y2="753" stroke="#444" stroke-width="0.9" stroke-dasharray="2.5,2"/>
<line x1="477" y1="662.1" x2="734.4" y2="662.1" stroke="#444" stroke-width="0.9" stroke-dasharray="2.5,2"/>
<circle cx="491.6" cy="605.1" r="6.4" fill="#fff" stroke="#555" stroke-width="0.9"/>
<text x="491.6" y="607.3000000000001" font-size="6.8" fill="#444" text-anchor="middle" font-weight="bold" >ii</text>
<circle cx="719.9" cy="605.8" r="6.4" fill="#fff" stroke="#555" stroke-width="0.9"/>
<text x="719.9" y="608.0" font-size="6.8" fill="#444" text-anchor="middle" font-weight="bold" >iii</text>
<circle cx="491.2" cy="740.4" r="6.4" fill="#fff" stroke="#555" stroke-width="0.9"/>
<text x="491.2" y="742.6" font-size="6.8" fill="#444" text-anchor="middle" font-weight="bold" >i</text>
<circle cx="719.9" cy="740.8" r="6.4" fill="#fff" stroke="#555" stroke-width="0.9"/>
<text x="719.9" y="743.0" font-size="6.8" fill="#444" text-anchor="middle" font-weight="bold" >iv</text>
<polyline points="523.7,612.7 524.4,612.3 525.1,611.7 525.8,611.2 526.5,610.8 527.2,610.5 527.9,610.5 528.6,610.8 529.3,611.2 530.0,611.8 530.7,612.3 531.4,612.8 532.1,613.1 532.8,613.1 533.5,612.9 534.2,612.5 534.9,611.9 535.6,611.4 536.3,610.9 537.0,610.6 537.6,610.5 538.3,610.7 539.0,611.1 539.7,611.6 540.4,612.2 541.1,612.7 541.8,613.0 542.5,613.1 543.2,613.0 543.9,612.6 544.6,612.1 545.3,611.5 546.0,611.0 546.7,610.7 547.4,610.5 548.1,610.6 548.8,610.9 549.5,611.4 550.2,612.0 550.9,612.5 551.6,612.9 552.3,613.1 553.0,613.0 553.7,612.8 554.4,612.3 555.1,611.7 555.8,611.2 556.5,610.8 557.2,610.5 557.9,610.5 558.6,610.8 559.3,611.2 560.0,611.8 560.7,612.3 561.4,612.8 562.1,613.1 562.8,613.1 563.5,612.9 564.2,612.5 564.8,611.9 565.5,611.4 566.2,610.9 566.9,610.6 567.6,610.5 568.3,610.7 569.0,611.1 569.7,611.6 570.4,612.1 571.1,612.6 571.8,613.0 572.5,613.1 573.2,613.0 573.9,612.6 574.6,612.1 575.3,611.5 576.0,611.0 576.7,610.7 577.4,610.5 578.1,610.6 578.8,610.9 579.5,611.4 580.2,612.0 580.9,612.5 581.6,612.9 582.3,613.1 583.0,613.0 583.7,612.8 584.4,612.3 585.1,611.7 585.8,611.2 586.5,610.8 587.2,610.5 587.9,610.5 588.6,610.8 589.3,611.2 590.0,611.8 590.7,612.3 591.3,612.8 592.0,613.0 592.7,613.1 593.4,612.9 594.1,612.5 594.8,611.9 595.5,611.4 596.2,610.9 596.9,610.6 597.6,610.5 598.3,610.7 599.0,611.0 599.7,611.6 600.4,612.1 601.1,612.6 601.8,613.0 602.5,613.1 603.2,613.0 603.9,612.6 604.6,612.1" fill="none" stroke="#6a6aa0" stroke-width="1.0" stroke-linejoin="round" />
<polyline points="523.7,611.4 524.4,611.0 525.2,612.1 525.9,612.7 526.6,611.6 527.3,610.9 528.1,611.9 528.8,612.7 529.5,611.8 530.2,610.9 531.0,611.7 531.7,612.7" fill="none" stroke="#5a5a9a" stroke-width="1.7" stroke-linejoin="round" />
<polyline points="596.6,611.1 597.3,612.4 598.1,612.5 598.8,611.3 599.5,611.0 600.2,612.2 601.0,612.6 601.7,611.4 602.4,611.0 603.1,612.1 603.9,612.7 604.6,611.6" fill="none" stroke="#5a5a9a" stroke-width="1.7" stroke-linejoin="round" />
<circle cx="593.9" cy="607" r="6.5" fill="url(#gR)" />
<g transform="translate(584.4,617.7) rotate(0) scale(1.15)" opacity="1.0"><ellipse cx="-5.2" cy="-4.2" rx="5.4" ry="4.4" fill="#e6e6ea" stroke="#a6a6b0" stroke-width="0.7"/><ellipse cx="5.2" cy="-4.2" rx="5.4" ry="4.4" fill="#e6e6ea" stroke="#a6a6b0" stroke-width="0.7"/><ellipse cx="-5.2" cy="4.2" rx="5.4" ry="4.4" fill="#e6e6ea" stroke="#a6a6b0" stroke-width="0.7"/><ellipse cx="5.2" cy="4.2" rx="5.4" ry="4.4" fill="#e6e6ea" stroke="#a6a6b0" stroke-width="0.7"/><path d="M-13,5 C-11,4 -13,-9 -6,-9.5 C-1,-10 2,-3 5,2 C8,7 11,6 13,5" fill="none" stroke="#5e5e8a" stroke-width="1.2"/><path d="M-11,5 C-9,10 -3,9 -3,4 C-3,0 -7,-3 -9,-2" fill="none" stroke="#5e5e8a" stroke-width="1.1"/></g>
<circle cx="583.2" cy="607.5" r="2" fill="#3a7a3a" />
<circle cx="593.9" cy="607" r="2.0" fill="#a81020" />
<polyline points="523.7,651.2 524.4,650.8 525.1,650.2 525.8,649.7 526.5,649.3 527.2,649.0 527.9,649.0 528.6,649.3 529.3,649.7 530.0,650.3 530.7,650.8 531.4,651.3 532.1,651.6 532.8,651.6 533.5,651.4 534.2,650.9 534.9,650.4 535.6,649.8 536.3,649.4 537.0,649.1 537.7,649.0 538.4,649.2 539.1,649.6 539.8,650.1 540.5,650.7 541.2,651.2 541.9,651.5 542.6,651.6 543.3,651.5 543.9,651.1 544.6,650.6 545.3,650.0 546.0,649.5 546.7,649.1 547.4,649.0 548.1,649.1 548.8,649.4 549.5,649.9 550.2,650.5 550.9,651.0 551.6,651.4 552.3,651.6 553.0,651.5 553.7,651.2 554.4,650.8 555.1,650.2 555.8,649.7 556.5,649.2 557.2,649.0 557.9,649.0 558.6,649.3 559.3,649.8 560.0,650.3 560.7,650.9 561.4,651.3 562.1,651.6 562.8,651.6 563.5,651.4 564.2,650.9 564.9,650.4 565.6,649.8 566.3,649.4 567.0,649.1 567.7,649.0 568.4,649.2 569.1,649.6 569.8,650.1 570.5,650.7 571.2,651.2 571.9,651.5 572.6,651.6 573.3,651.4 574.0,651.1 574.7,650.6 575.4,650.0 576.1,649.5 576.8,649.1 577.5,649.0 578.2,649.1 578.9,649.4 579.6,649.9 580.3,650.5 581.0,651.0 581.7,651.4 582.4,651.6 583.1,651.5 583.8,651.2 584.4,650.7 585.1,650.2 585.8,649.6 586.5,649.2 587.2,649.0 587.9,649.0 588.6,649.3 589.3,649.8 590.0,650.3 590.7,650.9 591.4,651.3 592.1,651.6 592.8,651.6 593.5,651.3 594.2,650.9 594.9,650.4 595.6,649.8 596.3,649.3 597.0,649.1 597.7,649.0 598.4,649.2 599.1,649.6 599.8,650.1 600.5,650.7 601.2,651.2 601.9,651.5 602.6,651.6 603.3,651.4 604.0,651.1" fill="none" stroke="#6a6aa0" stroke-width="1.0" stroke-linejoin="round" />
<polyline points="523.7,649.9 524.4,649.5 525.2,650.6 525.9,651.2 526.6,650.1 527.3,649.4 528.1,650.4 528.8,651.2 529.5,650.3 530.2,649.4 531.0,650.2 531.7,651.2" fill="none" stroke="#5a5a9a" stroke-width="1.7" stroke-linejoin="round" />
<polyline points="596.0,649.5 596.7,649.8 597.5,651.0 598.2,650.9 598.9,649.6 599.6,649.7 600.4,650.9 601.1,651.0 601.8,649.7 602.5,649.6 603.3,650.8 604.0,651.1" fill="none" stroke="#5a5a9a" stroke-width="1.7" stroke-linejoin="round" />
<circle cx="595" cy="644.6" r="6.5" fill="url(#gR)" />
<g transform="translate(580.8,643.2) rotate(0) scale(1.15)" opacity="1.0"><ellipse cx="-5.2" cy="-4.2" rx="5.4" ry="4.4" fill="#e6e6ea" stroke="#a6a6b0" stroke-width="0.7"/><ellipse cx="5.2" cy="-4.2" rx="5.4" ry="4.4" fill="#e6e6ea" stroke="#a6a6b0" stroke-width="0.7"/><ellipse cx="-5.2" cy="4.2" rx="5.4" ry="4.4" fill="#e6e6ea" stroke="#a6a6b0" stroke-width="0.7"/><ellipse cx="5.2" cy="4.2" rx="5.4" ry="4.4" fill="#e6e6ea" stroke="#a6a6b0" stroke-width="0.7"/><path d="M-13,5 C-11,4 -13,-9 -6,-9.5 C-1,-10 2,-3 5,2 C8,7 11,6 13,5" fill="none" stroke="#5e5e8a" stroke-width="1.2"/><path d="M-11,5 C-9,10 -3,9 -3,4 C-3,0 -7,-3 -9,-2" fill="none" stroke="#5e5e8a" stroke-width="1.1"/></g>
<circle cx="580.8" cy="633.6" r="2" fill="#3a7a3a" />
<circle cx="595" cy="644.6" r="2.0" fill="#a81020" />
<polyline points="657.3,634.4 658.0,634.5 658.7,634.7 659.4,635.2 660.1,635.8 660.8,636.3 661.5,636.7 662.2,637.0 662.9,637.0 663.6,636.7 664.3,636.3 665.0,635.7 665.7,635.2 666.4,634.7 667.1,634.4 667.8,634.4 668.5,634.6 669.2,635.0 669.9,635.6 670.6,636.1 671.3,636.6 672.0,636.9 672.6,637.0 673.3,636.8 674.0,636.4 674.7,635.9 675.4,635.3 676.1,634.8 676.8,634.5 677.5,634.4 678.2,634.5 678.9,634.9 679.6,635.4 680.3,636.0 681.0,636.5 681.7,636.8 682.4,637.0 683.1,636.9 683.8,636.6 684.5,636.1 685.2,635.5 685.9,635.0 686.6,634.6 687.3,634.4 688.0,634.5 688.7,634.7 689.4,635.2 690.1,635.8 690.8,636.3 691.5,636.7 692.2,637.0 692.9,637.0 693.6,636.7 694.3,636.3 695.0,635.7 695.7,635.2 696.4,634.7 697.1,634.4 697.8,634.4 698.5,634.6 699.2,635.0 699.9,635.6 700.6,636.1 701.3,636.6 701.9,636.9 702.6,637.0 703.3,636.8 704.0,636.4 704.7,635.9 705.4,635.3 706.1,634.8 706.8,634.5 707.5,634.4 708.2,634.5 708.9,634.9 709.6,635.4 710.3,636.0 711.0,636.5 711.7,636.8 712.4,637.0 713.1,636.9 713.8,636.6 714.5,636.1 715.2,635.5 715.9,635.0 716.6,634.6" fill="none" stroke="#6a6aa0" stroke-width="1.0" stroke-linejoin="round" />
<polyline points="657.3,636.2 658.0,636.5 658.8,635.2 659.5,634.9 660.2,636.1 660.9,636.5 661.7,635.4 662.4,634.8 663.1,635.9 663.8,636.6 664.6,635.6 665.3,634.8" fill="none" stroke="#5a5a9a" stroke-width="1.7" stroke-linejoin="round" />
<polyline points="708.6,636.6 709.3,636.0 710.1,634.9 710.8,635.3 711.5,636.5 712.2,636.2 713.0,635.0 713.7,635.2 714.4,636.4 715.1,636.3 715.9,635.1 716.6,635.0" fill="none" stroke="#5a5a9a" stroke-width="1.7" stroke-linejoin="round" />
<circle cx="707.6" cy="631.1" r="6.5" fill="url(#gR)" />
<g transform="translate(691.9,634.1) rotate(0) scale(1.15)" opacity="1.0"><ellipse cx="-5.2" cy="-4.2" rx="5.4" ry="4.4" fill="#e6e6ea" stroke="#a6a6b0" stroke-width="0.7"/><ellipse cx="5.2" cy="-4.2" rx="5.4" ry="4.4" fill="#e6e6ea" stroke="#a6a6b0" stroke-width="0.7"/><ellipse cx="-5.2" cy="4.2" rx="5.4" ry="4.4" fill="#e6e6ea" stroke="#a6a6b0" stroke-width="0.7"/><ellipse cx="5.2" cy="4.2" rx="5.4" ry="4.4" fill="#e6e6ea" stroke="#a6a6b0" stroke-width="0.7"/><path d="M-13,5 C-11,4 -13,-9 -6,-9.5 C-1,-10 2,-3 5,2 C8,7 11,6 13,5" fill="none" stroke="#5e5e8a" stroke-width="1.2"/><path d="M-11,5 C-9,10 -3,9 -3,4 C-3,0 -7,-3 -9,-2" fill="none" stroke="#5e5e8a" stroke-width="1.1"/></g>
<circle cx="698.5" cy="626.2" r="2" fill="#3a7a3a" />
<circle cx="707.6" cy="631.1" r="2.0" fill="#a81020" />
<polyline points="659.8,703.9 660.5,704.5 661.2,705.0 661.9,705.3 662.6,705.4 663.3,705.2 664.0,704.9 664.7,704.4 665.4,703.8 666.1,703.3 666.8,702.9 667.5,702.8 668.2,702.9 668.9,703.3 669.6,703.8 670.3,704.3 671.0,704.9 671.7,705.2 672.4,705.4 673.1,705.3 673.8,705.0 674.5,704.5 675.2,704.0 675.9,703.4 676.6,703.0 677.3,702.8 678.0,702.9 678.7,703.1 679.4,703.6 680.1,704.2 680.8,704.7 681.5,705.1 682.2,705.4 682.9,705.4 683.6,705.1 684.3,704.7 685.0,704.1 685.7,703.6 686.4,703.1 687.1,702.9 687.8,702.8 688.5,703.0 689.2,703.4 689.8,704.0 690.5,704.5 691.2,705.0 691.9,705.3 692.6,705.4 693.3,705.2 694.0,704.8 694.7,704.3 695.4,703.7 696.1,703.2 696.8,702.9 697.5,702.8 698.2,702.9 698.9,703.3 699.6,703.8 700.3,704.4 701.0,704.9 701.7,705.3 702.4,705.4 703.1,705.3 703.8,705.0 704.5,704.5 705.2,703.9 705.9,703.4 706.6,703.0 707.3,702.8 708.0,702.9 708.7,703.2 709.4,703.6 710.1,704.2 710.8,704.7 711.5,705.2 712.2,705.4 712.9,705.4 713.6,705.1 714.3,704.6 715.0,704.1 715.7,703.5 716.4,703.1 717.1,702.8 717.8,702.8 718.5,703.0 719.2,703.5 719.9,704.0" fill="none" stroke="#6a6aa0" stroke-width="1.0" stroke-linejoin="round" />
<polyline points="659.8,703.7 660.5,704.9 661.3,704.5 662.0,703.3 662.7,703.6 663.4,704.8 664.2,704.7 664.9,703.4 665.6,703.5 666.3,704.7 667.1,704.8 667.8,703.6" fill="none" stroke="#5a5a9a" stroke-width="1.7" stroke-linejoin="round" />
<polyline points="711.9,705.0 712.6,703.9 713.4,703.2 714.1,704.3 714.8,705.0 715.5,704.0 716.3,703.2 717.0,704.1 717.7,705.0 718.4,704.2 719.2,703.2 719.9,703.9" fill="none" stroke="#5a5a9a" stroke-width="1.7" stroke-linejoin="round" />
<g transform="translate(683.7,703.2) rotate(0) scale(1.15)" opacity="1.0"><ellipse cx="-5.2" cy="-4.2" rx="5.4" ry="4.4" fill="#e6e6ea" stroke="#a6a6b0" stroke-width="0.7"/><ellipse cx="5.2" cy="-4.2" rx="5.4" ry="4.4" fill="#e6e6ea" stroke="#a6a6b0" stroke-width="0.7"/><ellipse cx="-5.2" cy="4.2" rx="5.4" ry="4.4" fill="#e6e6ea" stroke="#a6a6b0" stroke-width="0.7"/><ellipse cx="5.2" cy="4.2" rx="5.4" ry="4.4" fill="#e6e6ea" stroke="#a6a6b0" stroke-width="0.7"/><path d="M-13,5 C-11,4 -13,-9 -6,-9.5 C-1,-10 2,-3 5,2 C8,7 11,6 13,5" fill="none" stroke="#5e5e8a" stroke-width="1.2"/><path d="M-11,5 C-9,10 -3,9 -3,4 C-3,0 -7,-3 -9,-2" fill="none" stroke="#5e5e8a" stroke-width="1.1"/></g>
<circle cx="689.1" cy="694.2" r="7" fill="url(#gG)" />
<circle cx="689.1" cy="694.2" r="2" fill="#3a7a3a" />
<circle cx="709.2" cy="700" r="2.0" fill="#a81020" />
<polyline points="485.7,689.1 486.4,688.7 487.1,688.4 487.8,688.4 488.5,688.6 489.2,689.1 489.9,689.6 490.6,690.2 491.3,690.6 492.0,690.9 492.7,691.0 493.4,690.8 494.1,690.4 494.8,689.9 495.4,689.3 496.1,688.8 496.8,688.5 497.5,688.4 498.2,688.5 498.9,688.9 499.6,689.4 500.3,690.0 501.0,690.5 501.7,690.8 502.4,691.0 503.1,690.9 503.8,690.6 504.5,690.1 505.2,689.5 505.9,689.0 506.6,688.6 507.3,688.4 508.0,688.5 508.7,688.7 509.4,689.2 510.1,689.8 510.8,690.3 511.5,690.7 512.2,691.0 512.9,691.0 513.6,690.7 514.3,690.3 514.9,689.7 515.6,689.2 516.3,688.7 517.0,688.5 517.7,688.4 518.4,688.6 519.1,689.0 519.8,689.6 520.5,690.1 521.2,690.6 521.9,690.9 522.6,691.0 523.3,690.8 524.0,690.5 524.7,689.9 525.4,689.4 526.1,688.9 526.8,688.5 527.5,688.4 528.2,688.5 528.9,688.9 529.6,689.4 530.3,689.9 531.0,690.4 531.7,690.8 532.4,691.0 533.1,690.9 533.8,690.6 534.4,690.1 535.1,689.6 535.8,689.0 536.5,688.6 537.2,688.4 537.9,688.4 538.6,688.7 539.3,689.2 540.0,689.7 540.7,690.3 541.4,690.7 542.1,691.0 542.8,691.0 543.5,690.8 544.2,690.3 544.9,689.8 545.6,689.2 546.3,688.8 547.0,688.5 547.7,688.4 548.4,688.6 549.1,689.0 549.8,689.5 550.5,690.1 551.2,690.6 551.9,690.9 552.6,691.0 553.3,690.9 553.9,690.5 554.6,690.0 555.3,689.4 556.0,688.9 556.7,688.5 557.4,688.4 558.1,688.5 558.8,688.8 559.5,689.3 560.2,689.9 560.9,690.4 561.6,690.8 562.3,691.0 563.0,690.9" fill="none" stroke="#6a6aa0" stroke-width="1.0" stroke-linejoin="round" />
<polyline points="485.7,689.2 486.4,690.4 487.2,690.3 487.9,689.1 488.6,689.0 489.3,690.3 490.1,690.4 490.8,689.2 491.5,688.9 492.2,690.1 493.0,690.5 493.7,689.3" fill="none" stroke="#5a5a9a" stroke-width="1.7" stroke-linejoin="round" />
<polyline points="555.0,689.7 555.7,690.6 556.5,689.8 557.2,688.8 557.9,689.5 558.6,690.6 559.4,690.0 560.1,688.8 560.8,689.4 561.5,690.5 562.3,690.1 563.0,688.9" fill="none" stroke="#5a5a9a" stroke-width="1.7" stroke-linejoin="round" />
<g transform="translate(521.4,685) rotate(0) scale(1.15)" opacity="1.0"><ellipse cx="-5.2" cy="-4.2" rx="5.4" ry="4.4" fill="#e6e6ea" stroke="#a6a6b0" stroke-width="0.7"/><ellipse cx="5.2" cy="-4.2" rx="5.4" ry="4.4" fill="#e6e6ea" stroke="#a6a6b0" stroke-width="0.7"/><ellipse cx="-5.2" cy="4.2" rx="5.4" ry="4.4" fill="#e6e6ea" stroke="#a6a6b0" stroke-width="0.7"/><ellipse cx="5.2" cy="4.2" rx="5.4" ry="4.4" fill="#e6e6ea" stroke="#a6a6b0" stroke-width="0.7"/><path d="M-13,5 C-11,4 -13,-9 -6,-9.5 C-1,-10 2,-3 5,2 C8,7 11,6 13,5" fill="none" stroke="#5e5e8a" stroke-width="1.2"/><path d="M-11,5 C-9,10 -3,9 -3,4 C-3,0 -7,-3 -9,-2" fill="none" stroke="#5e5e8a" stroke-width="1.1"/></g>
<circle cx="520.2" cy="673.8" r="7" fill="url(#gG)" />
<circle cx="520.2" cy="673.8" r="2" fill="#3a7a3a" />
<circle cx="551.6" cy="685" r="2.0" fill="#a81020" />
<polyline points="485.7,720.0 486.4,719.6 487.1,719.3 487.8,719.3 488.5,719.5 489.2,720.0 489.9,720.5 490.6,721.1 491.3,721.5 492.0,721.8 492.7,721.9 493.4,721.7 494.1,721.3 494.8,720.8 495.4,720.2 496.1,719.7 496.8,719.4 497.5,719.3 498.2,719.4 498.9,719.8 499.6,720.3 500.3,720.9 501.0,721.4 501.7,721.7 502.4,721.9 503.1,721.8 503.8,721.5 504.5,721.0 505.2,720.4 505.9,719.9 506.6,719.5 507.3,719.3 508.0,719.4 508.7,719.6 509.4,720.1 510.1,720.7 510.8,721.2 511.5,721.6 512.2,721.9 512.9,721.9 513.6,721.6 514.3,721.2 514.9,720.6 515.6,720.1 516.3,719.6 517.0,719.4 517.7,719.3 518.4,719.5 519.1,719.9 519.8,720.5 520.5,721.0 521.2,721.5 521.9,721.8 522.6,721.9 523.3,721.7 524.0,721.4 524.7,720.8 525.4,720.3 526.1,719.8 526.8,719.4 527.5,719.3 528.2,719.4 528.9,719.8 529.6,720.3 530.3,720.8 531.0,721.3 531.7,721.7 532.4,721.9 533.1,721.8 533.8,721.5 534.4,721.0 535.1,720.5 535.8,719.9 536.5,719.5 537.2,719.3 537.9,719.3 538.6,719.6 539.3,720.1 540.0,720.6 540.7,721.2 541.4,721.6 542.1,721.9 542.8,721.9 543.5,721.7 544.2,721.2 544.9,720.7 545.6,720.1 546.3,719.7 547.0,719.4 547.7,719.3 548.4,719.5 549.1,719.9 549.8,720.4 550.5,721.0 551.2,721.5 551.9,721.8 552.6,721.9 553.3,721.8 553.9,721.4 554.6,720.9 555.3,720.3 556.0,719.8 556.7,719.4 557.4,719.3 558.1,719.4 558.8,719.7 559.5,720.2 560.2,720.8 560.9,721.3 561.6,721.7 562.3,721.9 563.0,721.8" fill="none" stroke="#6a6aa0" stroke-width="1.0" stroke-linejoin="round" />
<polyline points="485.7,720.1 486.4,721.3 487.2,721.2 487.9,720.0 488.6,719.9 489.3,721.2 490.1,721.3 490.8,720.1 491.5,719.8 492.2,721.0 493.0,721.4 493.7,720.2" fill="none" stroke="#5a5a9a" stroke-width="1.7" stroke-linejoin="round" />
<polyline points="555.0,720.6 555.7,721.5 556.5,720.7 557.2,719.7 557.9,720.4 558.6,721.5 559.4,720.9 560.1,719.7 560.8,720.3 561.5,721.4 562.3,721.0 563.0,719.8" fill="none" stroke="#5a5a9a" stroke-width="1.7" stroke-linejoin="round" />
<g transform="translate(509.5,713.5) rotate(0) scale(1.15)" opacity="1.0"><ellipse cx="-5.2" cy="-4.2" rx="5.4" ry="4.4" fill="#e6e6ea" stroke="#a6a6b0" stroke-width="0.7"/><ellipse cx="5.2" cy="-4.2" rx="5.4" ry="4.4" fill="#e6e6ea" stroke="#a6a6b0" stroke-width="0.7"/><ellipse cx="-5.2" cy="4.2" rx="5.4" ry="4.4" fill="#e6e6ea" stroke="#a6a6b0" stroke-width="0.7"/><ellipse cx="5.2" cy="4.2" rx="5.4" ry="4.4" fill="#e6e6ea" stroke="#a6a6b0" stroke-width="0.7"/><path d="M-13,5 C-11,4 -13,-9 -6,-9.5 C-1,-10 2,-3 5,2 C8,7 11,6 13,5" fill="none" stroke="#5e5e8a" stroke-width="1.2"/><path d="M-11,5 C-9,10 -3,9 -3,4 C-3,0 -7,-3 -9,-2" fill="none" stroke="#5e5e8a" stroke-width="1.1"/></g>
<circle cx="507.1" cy="702.8" r="7" fill="url(#gG)" />
<circle cx="507.1" cy="702.8" r="2" fill="#3a7a3a" />
<circle cx="551.6" cy="716.6" r="2.0" fill="#a81020" />
<polyline points="559.4,705.1 560.1,705.7 560.8,706.2 561.5,706.6 562.2,706.9 562.9,706.9 563.6,706.6 564.3,706.2 565.0,705.6 565.7,705.1 566.4,704.6 567.1,704.3 567.8,704.3 568.5,704.5 569.2,704.9 569.8,705.5 570.5,706.0 571.2,706.5 571.9,706.8 572.6,706.9 573.3,706.7 574.0,706.3 574.7,705.8 575.4,705.3 576.1,704.8 576.8,704.4 577.5,704.3 578.2,704.4 578.9,704.8 579.6,705.3 580.3,705.8 581.0,706.4 581.7,706.7 582.4,706.9 583.1,706.8 583.8,706.5 584.5,706.0 585.2,705.5 585.9,704.9 586.6,704.5 587.3,704.3 588.0,704.4 588.7,704.6 589.4,705.1 590.0,705.6 590.7,706.2 591.4,706.6 592.1,706.9 592.8,706.9 593.5,706.6 594.2,706.2 594.9,705.7 595.6,705.1 596.3,704.6 597.0,704.4 597.7,704.3 598.4,704.5 599.1,704.9 599.8,705.4 600.5,706.0 601.2,706.5 601.9,706.8 602.6,706.9 603.3,706.7 604.0,706.4 604.7,705.9 605.4,705.3 606.1,704.8 606.8,704.4 607.5,704.3 608.2,704.4 608.9,704.7 609.6,705.2 610.2,705.8 610.9,706.3 611.6,706.7 612.3,706.9 613.0,706.8 613.7,706.5 614.4,706.1 615.1,705.5 615.8,705.0 616.5,704.5 617.2,704.3 617.9,704.3 618.6,704.6 619.3,705.0 620.0,705.6 620.7,706.2 621.4,706.6 622.1,706.9 622.8,706.9 623.5,706.7 624.2,706.2 624.9,705.7 625.6,705.1 626.3,704.7 627.0,704.4 627.7,704.3 628.4,704.5 629.1,704.9 629.8,705.4 630.4,706.0 631.1,706.5 631.8,706.8 632.5,706.9 633.2,706.8 633.9,706.4 634.6,705.9 635.3,705.3 636.0,704.8 636.7,704.5 637.4,704.3 638.1,704.4 638.8,704.7 639.5,705.2 640.2,705.8" fill="none" stroke="#6a6aa0" stroke-width="1.0" stroke-linejoin="round" />
<polyline points="559.4,705.8 560.1,704.7 560.9,705.3 561.6,706.4 562.3,706.0 563.0,704.8 563.8,705.2 564.5,706.4 565.2,706.1 565.9,704.9 566.7,705.0 567.4,706.3" fill="none" stroke="#5a5a9a" stroke-width="1.7" stroke-linejoin="round" />
<polyline points="632.2,704.7 632.9,705.5 633.7,706.5 634.4,705.8 635.1,704.7 635.8,705.3 636.6,706.4 637.3,706.0 638.0,704.8 638.7,705.1 639.5,706.4 640.2,706.1" fill="none" stroke="#5a5a9a" stroke-width="1.7" stroke-linejoin="round" />
<g transform="translate(593.9,709.9) rotate(0) scale(1.15)" opacity="1.0"><ellipse cx="-5.2" cy="-4.2" rx="5.4" ry="4.4" fill="#e6e6ea" stroke="#a6a6b0" stroke-width="0.7"/><ellipse cx="5.2" cy="-4.2" rx="5.4" ry="4.4" fill="#e6e6ea" stroke="#a6a6b0" stroke-width="0.7"/><ellipse cx="-5.2" cy="4.2" rx="5.4" ry="4.4" fill="#e6e6ea" stroke="#a6a6b0" stroke-width="0.7"/><ellipse cx="5.2" cy="4.2" rx="5.4" ry="4.4" fill="#e6e6ea" stroke="#a6a6b0" stroke-width="0.7"/><path d="M-13,5 C-11,4 -13,-9 -6,-9.5 C-1,-10 2,-3 5,2 C8,7 11,6 13,5" fill="none" stroke="#5e5e8a" stroke-width="1.2"/><path d="M-11,5 C-9,10 -3,9 -3,4 C-3,0 -7,-3 -9,-2" fill="none" stroke="#5e5e8a" stroke-width="1.1"/></g>
<circle cx="592" cy="700" r="7" fill="url(#gG)" />
<circle cx="592" cy="700" r="2" fill="#3a7a3a" />
<circle cx="628.4" cy="702.3" r="2.0" fill="#a81020" />
<polyline points="559.4,733.7 560.1,734.3 560.8,734.8 561.5,735.2 562.2,735.5 562.9,735.5 563.6,735.2 564.3,734.8 565.0,734.2 565.7,733.7 566.4,733.2 567.1,732.9 567.8,732.9 568.5,733.1 569.2,733.5 569.8,734.1 570.5,734.6 571.2,735.1 571.9,735.4 572.6,735.5 573.3,735.3 574.0,734.9 574.7,734.4 575.4,733.9 576.1,733.4 576.8,733.0 577.5,732.9 578.2,733.0 578.9,733.4 579.6,733.9 580.3,734.4 581.0,735.0 581.7,735.3 582.4,735.5 583.1,735.4 583.8,735.1 584.5,734.6 585.2,734.1 585.9,733.5 586.6,733.1 587.3,732.9 588.0,733.0 588.7,733.2 589.4,733.7 590.0,734.2 590.7,734.8 591.4,735.2 592.1,735.5 592.8,735.5 593.5,735.2 594.2,734.8 594.9,734.3 595.6,733.7 596.3,733.2 597.0,733.0 597.7,732.9 598.4,733.1 599.1,733.5 599.8,734.0 600.5,734.6 601.2,735.1 601.9,735.4 602.6,735.5 603.3,735.3 604.0,735.0 604.7,734.5 605.4,733.9 606.1,733.4 606.8,733.0 607.5,732.9 608.2,733.0 608.9,733.3 609.6,733.8 610.2,734.4 610.9,734.9 611.6,735.3 612.3,735.5 613.0,735.4 613.7,735.1 614.4,734.7 615.1,734.1 615.8,733.6 616.5,733.1 617.2,732.9 617.9,732.9 618.6,733.2 619.3,733.6 620.0,734.2 620.7,734.8 621.4,735.2 622.1,735.5 622.8,735.5 623.5,735.3 624.2,734.8 624.9,734.3 625.6,733.7 626.3,733.3 627.0,733.0 627.7,732.9 628.4,733.1 629.1,733.5 629.8,734.0 630.4,734.6 631.1,735.1 631.8,735.4 632.5,735.5 633.2,735.4 633.9,735.0 634.6,734.5 635.3,733.9 636.0,733.4 636.7,733.1 637.4,732.9 638.1,733.0 638.8,733.3 639.5,733.8 640.2,734.4" fill="none" stroke="#6a6aa0" stroke-width="1.0" stroke-linejoin="round" />
<polyline points="559.4,734.4 560.1,733.3 560.9,733.9 561.6,735.0 562.3,734.6 563.0,733.4 563.8,733.8 564.5,735.0 565.2,734.7 565.9,733.5 566.7,733.6 567.4,734.9" fill="none" stroke="#5a5a9a" stroke-width="1.7" stroke-linejoin="round" />
<polyline points="632.2,733.3 632.9,734.1 633.7,735.1 634.4,734.4 635.1,733.3 635.8,733.9 636.6,735.0 637.3,734.6 638.0,733.4 638.7,733.7 639.5,735.0 640.2,734.7" fill="none" stroke="#5a5a9a" stroke-width="1.7" stroke-linejoin="round" />
<g transform="translate(583.2,738.5) rotate(0) scale(1.15)" opacity="1.0"><ellipse cx="-5.2" cy="-4.2" rx="5.4" ry="4.4" fill="#e6e6ea" stroke="#a6a6b0" stroke-width="0.7"/><ellipse cx="5.2" cy="-4.2" rx="5.4" ry="4.4" fill="#e6e6ea" stroke="#a6a6b0" stroke-width="0.7"/><ellipse cx="-5.2" cy="4.2" rx="5.4" ry="4.4" fill="#e6e6ea" stroke="#a6a6b0" stroke-width="0.7"/><ellipse cx="5.2" cy="4.2" rx="5.4" ry="4.4" fill="#e6e6ea" stroke="#a6a6b0" stroke-width="0.7"/><path d="M-13,5 C-11,4 -13,-9 -6,-9.5 C-1,-10 2,-3 5,2 C8,7 11,6 13,5" fill="none" stroke="#5e5e8a" stroke-width="1.2"/><path d="M-11,5 C-9,10 -3,9 -3,4 C-3,0 -7,-3 -9,-2" fill="none" stroke="#5e5e8a" stroke-width="1.1"/></g>
<circle cx="582" cy="728.5" r="7" fill="url(#gG)" />
<circle cx="582" cy="728.5" r="2" fill="#3a7a3a" />
<circle cx="629.5" cy="729.4" r="2.0" fill="#a81020" />
<rect x="98.3" y="859.2" width="206.7" height="57.59999999999991" stroke="#2a2a2a" stroke-width="1.3" fill="none" />
<rect x="98.3" y="928.4" width="206.7" height="27.399999999999977" stroke="#2a2a2a" stroke-width="1.3" fill="none" />
<rect x="98.3" y="967.8" width="206.7" height="27.800000000000068" stroke="#2a2a2a" stroke-width="1.3" fill="none" />
<line x1="98.3" y1="916.8" x2="98.3" y2="915.0" stroke="#333" stroke-width="0.6" />
<line x1="98.3" y1="859.2" x2="98.3" y2="861.0" stroke="#333" stroke-width="0.6" />
<line x1="98.3" y1="955.8" x2="98.3" y2="954.0" stroke="#333" stroke-width="0.6" />
<line x1="98.3" y1="928.4" x2="98.3" y2="930.1999999999999" stroke="#333" stroke-width="0.6" />
<line x1="98.3" y1="995.6" x2="98.3" y2="993.8000000000001" stroke="#333" stroke-width="0.6" />
<line x1="98.3" y1="967.8" x2="98.3" y2="969.5999999999999" stroke="#333" stroke-width="0.6" />
<line x1="115.52499999999999" y1="916.8" x2="115.52499999999999" y2="915.0" stroke="#333" stroke-width="0.6" />
<line x1="115.52499999999999" y1="859.2" x2="115.52499999999999" y2="861.0" stroke="#333" stroke-width="0.6" />
<line x1="115.52499999999999" y1="955.8" x2="115.52499999999999" y2="954.0" stroke="#333" stroke-width="0.6" />
<line x1="115.52499999999999" y1="928.4" x2="115.52499999999999" y2="930.1999999999999" stroke="#333" stroke-width="0.6" />
<line x1="115.52499999999999" y1="995.6" x2="115.52499999999999" y2="993.8000000000001" stroke="#333" stroke-width="0.6" />
<line x1="115.52499999999999" y1="967.8" x2="115.52499999999999" y2="969.5999999999999" stroke="#333" stroke-width="0.6" />
<line x1="132.75" y1="916.8" x2="132.75" y2="915.0" stroke="#333" stroke-width="0.6" />
<line x1="132.75" y1="859.2" x2="132.75" y2="861.0" stroke="#333" stroke-width="0.6" />
<line x1="132.75" y1="955.8" x2="132.75" y2="954.0" stroke="#333" stroke-width="0.6" />
<line x1="132.75" y1="928.4" x2="132.75" y2="930.1999999999999" stroke="#333" stroke-width="0.6" />
<line x1="132.75" y1="995.6" x2="132.75" y2="993.8000000000001" stroke="#333" stroke-width="0.6" />
<line x1="132.75" y1="967.8" x2="132.75" y2="969.5999999999999" stroke="#333" stroke-width="0.6" />
<line x1="149.975" y1="916.8" x2="149.975" y2="915.0" stroke="#333" stroke-width="0.6" />
<line x1="149.975" y1="859.2" x2="149.975" y2="861.0" stroke="#333" stroke-width="0.6" />
<line x1="149.975" y1="955.8" x2="149.975" y2="954.0" stroke="#333" stroke-width="0.6" />
<line x1="149.975" y1="928.4" x2="149.975" y2="930.1999999999999" stroke="#333" stroke-width="0.6" />
<line x1="149.975" y1="995.6" x2="149.975" y2="993.8000000000001" stroke="#333" stroke-width="0.6" />
<line x1="149.975" y1="967.8" x2="149.975" y2="969.5999999999999" stroke="#333" stroke-width="0.6" />
<line x1="167.2" y1="916.8" x2="167.2" y2="915.0" stroke="#333" stroke-width="0.6" />
<line x1="167.2" y1="859.2" x2="167.2" y2="861.0" stroke="#333" stroke-width="0.6" />
<line x1="167.2" y1="955.8" x2="167.2" y2="954.0" stroke="#333" stroke-width="0.6" />
<line x1="167.2" y1="928.4" x2="167.2" y2="930.1999999999999" stroke="#333" stroke-width="0.6" />
<line x1="167.2" y1="995.6" x2="167.2" y2="993.8000000000001" stroke="#333" stroke-width="0.6" />
<line x1="167.2" y1="967.8" x2="167.2" y2="969.5999999999999" stroke="#333" stroke-width="0.6" />
<line x1="184.425" y1="916.8" x2="184.425" y2="915.0" stroke="#333" stroke-width="0.6" />
<line x1="184.425" y1="859.2" x2="184.425" y2="861.0" stroke="#333" stroke-width="0.6" />
<line x1="184.425" y1="955.8" x2="184.425" y2="954.0" stroke="#333" stroke-width="0.6" />
<line x1="184.425" y1="928.4" x2="184.425" y2="930.1999999999999" stroke="#333" stroke-width="0.6" />
<line x1="184.425" y1="995.6" x2="184.425" y2="993.8000000000001" stroke="#333" stroke-width="0.6" />
<line x1="184.425" y1="967.8" x2="184.425" y2="969.5999999999999" stroke="#333" stroke-width="0.6" />
<line x1="201.64999999999998" y1="916.8" x2="201.64999999999998" y2="915.0" stroke="#333" stroke-width="0.6" />
<line x1="201.64999999999998" y1="859.2" x2="201.64999999999998" y2="861.0" stroke="#333" stroke-width="0.6" />
<line x1="201.64999999999998" y1="955.8" x2="201.64999999999998" y2="954.0" stroke="#333" stroke-width="0.6" />
<line x1="201.64999999999998" y1="928.4" x2="201.64999999999998" y2="930.1999999999999" stroke="#333" stroke-width="0.6" />
<line x1="201.64999999999998" y1="995.6" x2="201.64999999999998" y2="993.8000000000001" stroke="#333" stroke-width="0.6" />
<line x1="201.64999999999998" y1="967.8" x2="201.64999999999998" y2="969.5999999999999" stroke="#333" stroke-width="0.6" />
<line x1="218.875" y1="916.8" x2="218.875" y2="915.0" stroke="#333" stroke-width="0.6" />
<line x1="218.875" y1="859.2" x2="218.875" y2="861.0" stroke="#333" stroke-width="0.6" />
<line x1="218.875" y1="955.8" x2="218.875" y2="954.0" stroke="#333" stroke-width="0.6" />
<line x1="218.875" y1="928.4" x2="218.875" y2="930.1999999999999" stroke="#333" stroke-width="0.6" />
<line x1="218.875" y1="995.6" x2="218.875" y2="993.8000000000001" stroke="#333" stroke-width="0.6" />
<line x1="218.875" y1="967.8" x2="218.875" y2="969.5999999999999" stroke="#333" stroke-width="0.6" />
<line x1="236.09999999999997" y1="916.8" x2="236.09999999999997" y2="915.0" stroke="#333" stroke-width="0.6" />
<line x1="236.09999999999997" y1="859.2" x2="236.09999999999997" y2="861.0" stroke="#333" stroke-width="0.6" />
<line x1="236.09999999999997" y1="955.8" x2="236.09999999999997" y2="954.0" stroke="#333" stroke-width="0.6" />
<line x1="236.09999999999997" y1="928.4" x2="236.09999999999997" y2="930.1999999999999" stroke="#333" stroke-width="0.6" />
<line x1="236.09999999999997" y1="995.6" x2="236.09999999999997" y2="993.8000000000001" stroke="#333" stroke-width="0.6" />
<line x1="236.09999999999997" y1="967.8" x2="236.09999999999997" y2="969.5999999999999" stroke="#333" stroke-width="0.6" />
<line x1="253.325" y1="916.8" x2="253.325" y2="915.0" stroke="#333" stroke-width="0.6" />
<line x1="253.325" y1="859.2" x2="253.325" y2="861.0" stroke="#333" stroke-width="0.6" />
<line x1="253.325" y1="955.8" x2="253.325" y2="954.0" stroke="#333" stroke-width="0.6" />
<line x1="253.325" y1="928.4" x2="253.325" y2="930.1999999999999" stroke="#333" stroke-width="0.6" />
<line x1="253.325" y1="995.6" x2="253.325" y2="993.8000000000001" stroke="#333" stroke-width="0.6" />
<line x1="253.325" y1="967.8" x2="253.325" y2="969.5999999999999" stroke="#333" stroke-width="0.6" />
<line x1="270.55" y1="916.8" x2="270.55" y2="915.0" stroke="#333" stroke-width="0.6" />
<line x1="270.55" y1="859.2" x2="270.55" y2="861.0" stroke="#333" stroke-width="0.6" />
<line x1="270.55" y1="955.8" x2="270.55" y2="954.0" stroke="#333" stroke-width="0.6" />
<line x1="270.55" y1="928.4" x2="270.55" y2="930.1999999999999" stroke="#333" stroke-width="0.6" />
<line x1="270.55" y1="995.6" x2="270.55" y2="993.8000000000001" stroke="#333" stroke-width="0.6" />
<line x1="270.55" y1="967.8" x2="270.55" y2="969.5999999999999" stroke="#333" stroke-width="0.6" />
<line x1="287.775" y1="916.8" x2="287.775" y2="915.0" stroke="#333" stroke-width="0.6" />
<line x1="287.775" y1="859.2" x2="287.775" y2="861.0" stroke="#333" stroke-width="0.6" />
<line x1="287.775" y1="955.8" x2="287.775" y2="954.0" stroke="#333" stroke-width="0.6" />
<line x1="287.775" y1="928.4" x2="287.775" y2="930.1999999999999" stroke="#333" stroke-width="0.6" />
<line x1="287.775" y1="995.6" x2="287.775" y2="993.8000000000001" stroke="#333" stroke-width="0.6" />
<line x1="287.775" y1="967.8" x2="287.775" y2="969.5999999999999" stroke="#333" stroke-width="0.6" />
<line x1="305.0" y1="916.8" x2="305.0" y2="915.0" stroke="#333" stroke-width="0.6" />
<line x1="305.0" y1="859.2" x2="305.0" y2="861.0" stroke="#333" stroke-width="0.6" />
<line x1="305.0" y1="955.8" x2="305.0" y2="954.0" stroke="#333" stroke-width="0.6" />
<line x1="305.0" y1="928.4" x2="305.0" y2="930.1999999999999" stroke="#333" stroke-width="0.6" />
<line x1="305.0" y1="995.6" x2="305.0" y2="993.8000000000001" stroke="#333" stroke-width="0.6" />
<line x1="305.0" y1="967.8" x2="305.0" y2="969.5999999999999" stroke="#333" stroke-width="0.6" />
<line x1="98.3" y1="858.6" x2="100.1" y2="858.6" stroke="#333" stroke-width="0.6" />
<line x1="305" y1="858.6" x2="303.2" y2="858.6" stroke="#333" stroke-width="0.6" />
<line x1="98.3" y1="870.2" x2="100.1" y2="870.2" stroke="#333" stroke-width="0.6" />
<line x1="305" y1="870.2" x2="303.2" y2="870.2" stroke="#333" stroke-width="0.6" />
<line x1="98.3" y1="881.8000000000001" x2="100.1" y2="881.8000000000001" stroke="#333" stroke-width="0.6" />
<line x1="305" y1="881.8000000000001" x2="303.2" y2="881.8000000000001" stroke="#333" stroke-width="0.6" />
<line x1="98.3" y1="893.4000000000001" x2="100.1" y2="893.4000000000001" stroke="#333" stroke-width="0.6" />
<line x1="305" y1="893.4000000000001" x2="303.2" y2="893.4000000000001" stroke="#333" stroke-width="0.6" />
<line x1="98.3" y1="905.0" x2="100.1" y2="905.0" stroke="#333" stroke-width="0.6" />
<line x1="305" y1="905.0" x2="303.2" y2="905.0" stroke="#333" stroke-width="0.6" />
<line x1="98.3" y1="916.6" x2="100.1" y2="916.6" stroke="#333" stroke-width="0.6" />
<line x1="305" y1="916.6" x2="303.2" y2="916.6" stroke="#333" stroke-width="0.6" />
<line x1="98.3" y1="950.3" x2="100.1" y2="950.3" stroke="#333" stroke-width="0.6" />
<line x1="305" y1="950.3" x2="303.2" y2="950.3" stroke="#333" stroke-width="0.6" />
<line x1="98.3" y1="944.9749999999999" x2="100.1" y2="944.9749999999999" stroke="#333" stroke-width="0.6" />
<line x1="305" y1="944.9749999999999" x2="303.2" y2="944.9749999999999" stroke="#333" stroke-width="0.6" />
<line x1="98.3" y1="939.65" x2="100.1" y2="939.65" stroke="#333" stroke-width="0.6" />
<line x1="305" y1="939.65" x2="303.2" y2="939.65" stroke="#333" stroke-width="0.6" />
<line x1="98.3" y1="934.325" x2="100.1" y2="934.325" stroke="#333" stroke-width="0.6" />
<line x1="305" y1="934.325" x2="303.2" y2="934.325" stroke="#333" stroke-width="0.6" />
<line x1="98.3" y1="929.0" x2="100.1" y2="929.0" stroke="#333" stroke-width="0.6" />
<line x1="305" y1="929.0" x2="303.2" y2="929.0" stroke="#333" stroke-width="0.6" />
<line x1="98.3" y1="992.4" x2="100.1" y2="992.4" stroke="#333" stroke-width="0.6" />
<line x1="305" y1="992.4" x2="303.2" y2="992.4" stroke="#333" stroke-width="0.6" />
<line x1="98.3" y1="982.3" x2="100.1" y2="982.3" stroke="#333" stroke-width="0.6" />
<line x1="305" y1="982.3" x2="303.2" y2="982.3" stroke="#333" stroke-width="0.6" />
<line x1="98.3" y1="972.2" x2="100.1" y2="972.2" stroke="#333" stroke-width="0.6" />
<line x1="305" y1="972.2" x2="303.2" y2="972.2" stroke="#333" stroke-width="0.6" />
<text x="98.3" y="1007" font-size="9.5" fill="#444" text-anchor="middle" font-weight="normal" >0</text>
<text x="132.75" y="1007" font-size="9.5" fill="#444" text-anchor="middle" font-weight="normal" >20</text>
<text x="167.2" y="1007" font-size="9.5" fill="#444" text-anchor="middle" font-weight="normal" >40</text>
<text x="201.64999999999998" y="1007" font-size="9.5" fill="#444" text-anchor="middle" font-weight="normal" >60</text>
<text x="236.09999999999997" y="1007" font-size="9.5" fill="#444" text-anchor="middle" font-weight="normal" >80</text>
<text x="270.55" y="1007" font-size="9.5" fill="#444" text-anchor="middle" font-weight="normal" >100</text>
<rect x="310.9" y="859.2" width="207.0" height="57.59999999999991" stroke="#2a2a2a" stroke-width="1.3" fill="none" />
<rect x="310.9" y="928.4" width="207.0" height="27.399999999999977" stroke="#2a2a2a" stroke-width="1.3" fill="none" />
<rect x="310.9" y="967.8" width="207.0" height="27.800000000000068" stroke="#2a2a2a" stroke-width="1.3" fill="none" />
<line x1="310.9" y1="916.8" x2="310.9" y2="915.0" stroke="#333" stroke-width="0.6" />
<line x1="310.9" y1="859.2" x2="310.9" y2="861.0" stroke="#333" stroke-width="0.6" />
<line x1="310.9" y1="955.8" x2="310.9" y2="954.0" stroke="#333" stroke-width="0.6" />
<line x1="310.9" y1="928.4" x2="310.9" y2="930.1999999999999" stroke="#333" stroke-width="0.6" />
<line x1="310.9" y1="995.6" x2="310.9" y2="993.8000000000001" stroke="#333" stroke-width="0.6" />
<line x1="310.9" y1="967.8" x2="310.9" y2="969.5999999999999" stroke="#333" stroke-width="0.6" />
<line x1="331.59999999999997" y1="916.8" x2="331.59999999999997" y2="915.0" stroke="#333" stroke-width="0.6" />
<line x1="331.59999999999997" y1="859.2" x2="331.59999999999997" y2="861.0" stroke="#333" stroke-width="0.6" />
<line x1="331.59999999999997" y1="955.8" x2="331.59999999999997" y2="954.0" stroke="#333" stroke-width="0.6" />
<line x1="331.59999999999997" y1="928.4" x2="331.59999999999997" y2="930.1999999999999" stroke="#333" stroke-width="0.6" />
<line x1="331.59999999999997" y1="995.6" x2="331.59999999999997" y2="993.8000000000001" stroke="#333" stroke-width="0.6" />
<line x1="331.59999999999997" y1="967.8" x2="331.59999999999997" y2="969.5999999999999" stroke="#333" stroke-width="0.6" />
<line x1="352.29999999999995" y1="916.8" x2="352.29999999999995" y2="915.0" stroke="#333" stroke-width="0.6" />
<line x1="352.29999999999995" y1="859.2" x2="352.29999999999995" y2="861.0" stroke="#333" stroke-width="0.6" />
<line x1="352.29999999999995" y1="955.8" x2="352.29999999999995" y2="954.0" stroke="#333" stroke-width="0.6" />
<line x1="352.29999999999995" y1="928.4" x2="352.29999999999995" y2="930.1999999999999" stroke="#333" stroke-width="0.6" />
<line x1="352.29999999999995" y1="995.6" x2="352.29999999999995" y2="993.8000000000001" stroke="#333" stroke-width="0.6" />
<line x1="352.29999999999995" y1="967.8" x2="352.29999999999995" y2="969.5999999999999" stroke="#333" stroke-width="0.6" />
<line x1="373.0" y1="916.8" x2="373.0" y2="915.0" stroke="#333" stroke-width="0.6" />
<line x1="373.0" y1="859.2" x2="373.0" y2="861.0" stroke="#333" stroke-width="0.6" />
<line x1="373.0" y1="955.8" x2="373.0" y2="954.0" stroke="#333" stroke-width="0.6" />
<line x1="373.0" y1="928.4" x2="373.0" y2="930.1999999999999" stroke="#333" stroke-width="0.6" />
<line x1="373.0" y1="995.6" x2="373.0" y2="993.8000000000001" stroke="#333" stroke-width="0.6" />
<line x1="373.0" y1="967.8" x2="373.0" y2="969.5999999999999" stroke="#333" stroke-width="0.6" />
<line x1="393.7" y1="916.8" x2="393.7" y2="915.0" stroke="#333" stroke-width="0.6" />
<line x1="393.7" y1="859.2" x2="393.7" y2="861.0" stroke="#333" stroke-width="0.6" />
<line x1="393.7" y1="955.8" x2="393.7" y2="954.0" stroke="#333" stroke-width="0.6" />
<line x1="393.7" y1="928.4" x2="393.7" y2="930.1999999999999" stroke="#333" stroke-width="0.6" />
<line x1="393.7" y1="995.6" x2="393.7" y2="993.8000000000001" stroke="#333" stroke-width="0.6" />
<line x1="393.7" y1="967.8" x2="393.7" y2="969.5999999999999" stroke="#333" stroke-width="0.6" />
<line x1="414.4" y1="916.8" x2="414.4" y2="915.0" stroke="#333" stroke-width="0.6" />
<line x1="414.4" y1="859.2" x2="414.4" y2="861.0" stroke="#333" stroke-width="0.6" />
<line x1="414.4" y1="955.8" x2="414.4" y2="954.0" stroke="#333" stroke-width="0.6" />
<line x1="414.4" y1="928.4" x2="414.4" y2="930.1999999999999" stroke="#333" stroke-width="0.6" />
<line x1="414.4" y1="995.6" x2="414.4" y2="993.8000000000001" stroke="#333" stroke-width="0.6" />
<line x1="414.4" y1="967.8" x2="414.4" y2="969.5999999999999" stroke="#333" stroke-width="0.6" />
<line x1="435.09999999999997" y1="916.8" x2="435.09999999999997" y2="915.0" stroke="#333" stroke-width="0.6" />
<line x1="435.09999999999997" y1="859.2" x2="435.09999999999997" y2="861.0" stroke="#333" stroke-width="0.6" />
<line x1="435.09999999999997" y1="955.8" x2="435.09999999999997" y2="954.0" stroke="#333" stroke-width="0.6" />
<line x1="435.09999999999997" y1="928.4" x2="435.09999999999997" y2="930.1999999999999" stroke="#333" stroke-width="0.6" />
<line x1="435.09999999999997" y1="995.6" x2="435.09999999999997" y2="993.8000000000001" stroke="#333" stroke-width="0.6" />
<line x1="435.09999999999997" y1="967.8" x2="435.09999999999997" y2="969.5999999999999" stroke="#333" stroke-width="0.6" />
<line x1="455.79999999999995" y1="916.8" x2="455.79999999999995" y2="915.0" stroke="#333" stroke-width="0.6" />
<line x1="455.79999999999995" y1="859.2" x2="455.79999999999995" y2="861.0" stroke="#333" stroke-width="0.6" />
<line x1="455.79999999999995" y1="955.8" x2="455.79999999999995" y2="954.0" stroke="#333" stroke-width="0.6" />
<line x1="455.79999999999995" y1="928.4" x2="455.79999999999995" y2="930.1999999999999" stroke="#333" stroke-width="0.6" />
<line x1="455.79999999999995" y1="995.6" x2="455.79999999999995" y2="993.8000000000001" stroke="#333" stroke-width="0.6" />
<line x1="455.79999999999995" y1="967.8" x2="455.79999999999995" y2="969.5999999999999" stroke="#333" stroke-width="0.6" />
<line x1="476.5" y1="916.8" x2="476.5" y2="915.0" stroke="#333" stroke-width="0.6" />
<line x1="476.5" y1="859.2" x2="476.5" y2="861.0" stroke="#333" stroke-width="0.6" />
<line x1="476.5" y1="955.8" x2="476.5" y2="954.0" stroke="#333" stroke-width="0.6" />
<line x1="476.5" y1="928.4" x2="476.5" y2="930.1999999999999" stroke="#333" stroke-width="0.6" />
<line x1="476.5" y1="995.6" x2="476.5" y2="993.8000000000001" stroke="#333" stroke-width="0.6" />
<line x1="476.5" y1="967.8" x2="476.5" y2="969.5999999999999" stroke="#333" stroke-width="0.6" />
<line x1="497.19999999999993" y1="916.8" x2="497.19999999999993" y2="915.0" stroke="#333" stroke-width="0.6" />
<line x1="497.19999999999993" y1="859.2" x2="497.19999999999993" y2="861.0" stroke="#333" stroke-width="0.6" />
<line x1="497.19999999999993" y1="955.8" x2="497.19999999999993" y2="954.0" stroke="#333" stroke-width="0.6" />
<line x1="497.19999999999993" y1="928.4" x2="497.19999999999993" y2="930.1999999999999" stroke="#333" stroke-width="0.6" />
<line x1="497.19999999999993" y1="995.6" x2="497.19999999999993" y2="993.8000000000001" stroke="#333" stroke-width="0.6" />
<line x1="497.19999999999993" y1="967.8" x2="497.19999999999993" y2="969.5999999999999" stroke="#333" stroke-width="0.6" />
<line x1="517.9" y1="916.8" x2="517.9" y2="915.0" stroke="#333" stroke-width="0.6" />
<line x1="517.9" y1="859.2" x2="517.9" y2="861.0" stroke="#333" stroke-width="0.6" />
<line x1="517.9" y1="955.8" x2="517.9" y2="954.0" stroke="#333" stroke-width="0.6" />
<line x1="517.9" y1="928.4" x2="517.9" y2="930.1999999999999" stroke="#333" stroke-width="0.6" />
<line x1="517.9" y1="995.6" x2="517.9" y2="993.8000000000001" stroke="#333" stroke-width="0.6" />
<line x1="517.9" y1="967.8" x2="517.9" y2="969.5999999999999" stroke="#333" stroke-width="0.6" />
<line x1="310.9" y1="858.6" x2="312.7" y2="858.6" stroke="#333" stroke-width="0.6" />
<line x1="517.9" y1="858.6" x2="516.1" y2="858.6" stroke="#333" stroke-width="0.6" />
<line x1="310.9" y1="870.2" x2="312.7" y2="870.2" stroke="#333" stroke-width="0.6" />
<line x1="517.9" y1="870.2" x2="516.1" y2="870.2" stroke="#333" stroke-width="0.6" />
<line x1="310.9" y1="881.8000000000001" x2="312.7" y2="881.8000000000001" stroke="#333" stroke-width="0.6" />
<line x1="517.9" y1="881.8000000000001" x2="516.1" y2="881.8000000000001" stroke="#333" stroke-width="0.6" />
<line x1="310.9" y1="893.4000000000001" x2="312.7" y2="893.4000000000001" stroke="#333" stroke-width="0.6" />
<line x1="517.9" y1="893.4000000000001" x2="516.1" y2="893.4000000000001" stroke="#333" stroke-width="0.6" />
<line x1="310.9" y1="905.0" x2="312.7" y2="905.0" stroke="#333" stroke-width="0.6" />
<line x1="517.9" y1="905.0" x2="516.1" y2="905.0" stroke="#333" stroke-width="0.6" />
<line x1="310.9" y1="916.6" x2="312.7" y2="916.6" stroke="#333" stroke-width="0.6" />
<line x1="517.9" y1="916.6" x2="516.1" y2="916.6" stroke="#333" stroke-width="0.6" />
<line x1="310.9" y1="950.3" x2="312.7" y2="950.3" stroke="#333" stroke-width="0.6" />
<line x1="517.9" y1="950.3" x2="516.1" y2="950.3" stroke="#333" stroke-width="0.6" />
<line x1="310.9" y1="944.9749999999999" x2="312.7" y2="944.9749999999999" stroke="#333" stroke-width="0.6" />
<line x1="517.9" y1="944.9749999999999" x2="516.1" y2="944.9749999999999" stroke="#333" stroke-width="0.6" />
<line x1="310.9" y1="939.65" x2="312.7" y2="939.65" stroke="#333" stroke-width="0.6" />
<line x1="517.9" y1="939.65" x2="516.1" y2="939.65" stroke="#333" stroke-width="0.6" />
<line x1="310.9" y1="934.325" x2="312.7" y2="934.325" stroke="#333" stroke-width="0.6" />
<line x1="517.9" y1="934.325" x2="516.1" y2="934.325" stroke="#333" stroke-width="0.6" />
<line x1="310.9" y1="929.0" x2="312.7" y2="929.0" stroke="#333" stroke-width="0.6" />
<line x1="517.9" y1="929.0" x2="516.1" y2="929.0" stroke="#333" stroke-width="0.6" />
<line x1="310.9" y1="992.4" x2="312.7" y2="992.4" stroke="#333" stroke-width="0.6" />
<line x1="517.9" y1="992.4" x2="516.1" y2="992.4" stroke="#333" stroke-width="0.6" />
<line x1="310.9" y1="982.3" x2="312.7" y2="982.3" stroke="#333" stroke-width="0.6" />
<line x1="517.9" y1="982.3" x2="516.1" y2="982.3" stroke="#333" stroke-width="0.6" />
<line x1="310.9" y1="972.2" x2="312.7" y2="972.2" stroke="#333" stroke-width="0.6" />
<line x1="517.9" y1="972.2" x2="516.1" y2="972.2" stroke="#333" stroke-width="0.6" />
<text x="310.9" y="1007" font-size="9.5" fill="#444" text-anchor="middle" font-weight="normal" >0</text>
<text x="352.29999999999995" y="1007" font-size="9.5" fill="#444" text-anchor="middle" font-weight="normal" >20</text>
<text x="393.7" y="1007" font-size="9.5" fill="#444" text-anchor="middle" font-weight="normal" >40</text>
<text x="435.09999999999997" y="1007" font-size="9.5" fill="#444" text-anchor="middle" font-weight="normal" >60</text>
<text x="476.5" y="1007" font-size="9.5" fill="#444" text-anchor="middle" font-weight="normal" >80</text>
<rect x="523.5" y="859.2" width="206.5" height="57.59999999999991" stroke="#2a2a2a" stroke-width="1.3" fill="none" />
<rect x="523.5" y="928.4" width="206.5" height="27.399999999999977" stroke="#2a2a2a" stroke-width="1.3" fill="none" />
<rect x="523.5" y="967.8" width="206.5" height="27.800000000000068" stroke="#2a2a2a" stroke-width="1.3" fill="none" />
<line x1="523.5" y1="916.8" x2="523.5" y2="915.0" stroke="#333" stroke-width="0.6" />
<line x1="523.5" y1="859.2" x2="523.5" y2="861.0" stroke="#333" stroke-width="0.6" />
<line x1="523.5" y1="955.8" x2="523.5" y2="954.0" stroke="#333" stroke-width="0.6" />
<line x1="523.5" y1="928.4" x2="523.5" y2="930.1999999999999" stroke="#333" stroke-width="0.6" />
<line x1="523.5" y1="995.6" x2="523.5" y2="993.8000000000001" stroke="#333" stroke-width="0.6" />
<line x1="523.5" y1="967.8" x2="523.5" y2="969.5999999999999" stroke="#333" stroke-width="0.6" />
<line x1="540.7083333333334" y1="916.8" x2="540.7083333333334" y2="915.0" stroke="#333" stroke-width="0.6" />
<line x1="540.7083333333334" y1="859.2" x2="540.7083333333334" y2="861.0" stroke="#333" stroke-width="0.6" />
<line x1="540.7083333333334" y1="955.8" x2="540.7083333333334" y2="954.0" stroke="#333" stroke-width="0.6" />
<line x1="540.7083333333334" y1="928.4" x2="540.7083333333334" y2="930.1999999999999" stroke="#333" stroke-width="0.6" />
<line x1="540.7083333333334" y1="995.6" x2="540.7083333333334" y2="993.8000000000001" stroke="#333" stroke-width="0.6" />
<line x1="540.7083333333334" y1="967.8" x2="540.7083333333334" y2="969.5999999999999" stroke="#333" stroke-width="0.6" />
<line x1="557.9166666666666" y1="916.8" x2="557.9166666666666" y2="915.0" stroke="#333" stroke-width="0.6" />
<line x1="557.9166666666666" y1="859.2" x2="557.9166666666666" y2="861.0" stroke="#333" stroke-width="0.6" />
<line x1="557.9166666666666" y1="955.8" x2="557.9166666666666" y2="954.0" stroke="#333" stroke-width="0.6" />
<line x1="557.9166666666666" y1="928.4" x2="557.9166666666666" y2="930.1999999999999" stroke="#333" stroke-width="0.6" />
<line x1="557.9166666666666" y1="995.6" x2="557.9166666666666" y2="993.8000000000001" stroke="#333" stroke-width="0.6" />
<line x1="557.9166666666666" y1="967.8" x2="557.9166666666666" y2="969.5999999999999" stroke="#333" stroke-width="0.6" />
<line x1="575.125" y1="916.8" x2="575.125" y2="915.0" stroke="#333" stroke-width="0.6" />
<line x1="575.125" y1="859.2" x2="575.125" y2="861.0" stroke="#333" stroke-width="0.6" />
<line x1="575.125" y1="955.8" x2="575.125" y2="954.0" stroke="#333" stroke-width="0.6" />
<line x1="575.125" y1="928.4" x2="575.125" y2="930.1999999999999" stroke="#333" stroke-width="0.6" />
<line x1="575.125" y1="995.6" x2="575.125" y2="993.8000000000001" stroke="#333" stroke-width="0.6" />
<line x1="575.125" y1="967.8" x2="575.125" y2="969.5999999999999" stroke="#333" stroke-width="0.6" />
<line x1="592.3333333333334" y1="916.8" x2="592.3333333333334" y2="915.0" stroke="#333" stroke-width="0.6" />
<line x1="592.3333333333334" y1="859.2" x2="592.3333333333334" y2="861.0" stroke="#333" stroke-width="0.6" />
<line x1="592.3333333333334" y1="955.8" x2="592.3333333333334" y2="954.0" stroke="#333" stroke-width="0.6" />
<line x1="592.3333333333334" y1="928.4" x2="592.3333333333334" y2="930.1999999999999" stroke="#333" stroke-width="0.6" />
<line x1="592.3333333333334" y1="995.6" x2="592.3333333333334" y2="993.8000000000001" stroke="#333" stroke-width="0.6" />
<line x1="592.3333333333334" y1="967.8" x2="592.3333333333334" y2="969.5999999999999" stroke="#333" stroke-width="0.6" />
<line x1="609.5416666666666" y1="916.8" x2="609.5416666666666" y2="915.0" stroke="#333" stroke-width="0.6" />
<line x1="609.5416666666666" y1="859.2" x2="609.5416666666666" y2="861.0" stroke="#333" stroke-width="0.6" />
<line x1="609.5416666666666" y1="955.8" x2="609.5416666666666" y2="954.0" stroke="#333" stroke-width="0.6" />
<line x1="609.5416666666666" y1="928.4" x2="609.5416666666666" y2="930.1999999999999" stroke="#333" stroke-width="0.6" />
<line x1="609.5416666666666" y1="995.6" x2="609.5416666666666" y2="993.8000000000001" stroke="#333" stroke-width="0.6" />
<line x1="609.5416666666666" y1="967.8" x2="609.5416666666666" y2="969.5999999999999" stroke="#333" stroke-width="0.6" />
<line x1="626.75" y1="916.8" x2="626.75" y2="915.0" stroke="#333" stroke-width="0.6" />
<line x1="626.75" y1="859.2" x2="626.75" y2="861.0" stroke="#333" stroke-width="0.6" />
<line x1="626.75" y1="955.8" x2="626.75" y2="954.0" stroke="#333" stroke-width="0.6" />
<line x1="626.75" y1="928.4" x2="626.75" y2="930.1999999999999" stroke="#333" stroke-width="0.6" />
<line x1="626.75" y1="995.6" x2="626.75" y2="993.8000000000001" stroke="#333" stroke-width="0.6" />
<line x1="626.75" y1="967.8" x2="626.75" y2="969.5999999999999" stroke="#333" stroke-width="0.6" />
<line x1="643.9583333333334" y1="916.8" x2="643.9583333333334" y2="915.0" stroke="#333" stroke-width="0.6" />
<line x1="643.9583333333334" y1="859.2" x2="643.9583333333334" y2="861.0" stroke="#333" stroke-width="0.6" />
<line x1="643.9583333333334" y1="955.8" x2="643.9583333333334" y2="954.0" stroke="#333" stroke-width="0.6" />
<line x1="643.9583333333334" y1="928.4" x2="643.9583333333334" y2="930.1999999999999" stroke="#333" stroke-width="0.6" />
<line x1="643.9583333333334" y1="995.6" x2="643.9583333333334" y2="993.8000000000001" stroke="#333" stroke-width="0.6" />
<line x1="643.9583333333334" y1="967.8" x2="643.9583333333334" y2="969.5999999999999" stroke="#333" stroke-width="0.6" />
<line x1="661.1666666666667" y1="916.8" x2="661.1666666666667" y2="915.0" stroke="#333" stroke-width="0.6" />
<line x1="661.1666666666667" y1="859.2" x2="661.1666666666667" y2="861.0" stroke="#333" stroke-width="0.6" />
<line x1="661.1666666666667" y1="955.8" x2="661.1666666666667" y2="954.0" stroke="#333" stroke-width="0.6" />
<line x1="661.1666666666667" y1="928.4" x2="661.1666666666667" y2="930.1999999999999" stroke="#333" stroke-width="0.6" />
<line x1="661.1666666666667" y1="995.6" x2="661.1666666666667" y2="993.8000000000001" stroke="#333" stroke-width="0.6" />
<line x1="661.1666666666667" y1="967.8" x2="661.1666666666667" y2="969.5999999999999" stroke="#333" stroke-width="0.6" />
<line x1="678.375" y1="916.8" x2="678.375" y2="915.0" stroke="#333" stroke-width="0.6" />
<line x1="678.375" y1="859.2" x2="678.375" y2="861.0" stroke="#333" stroke-width="0.6" />
<line x1="678.375" y1="955.8" x2="678.375" y2="954.0" stroke="#333" stroke-width="0.6" />
<line x1="678.375" y1="928.4" x2="678.375" y2="930.1999999999999" stroke="#333" stroke-width="0.6" />
<line x1="678.375" y1="995.6" x2="678.375" y2="993.8000000000001" stroke="#333" stroke-width="0.6" />
<line x1="678.375" y1="967.8" x2="678.375" y2="969.5999999999999" stroke="#333" stroke-width="0.6" />
<line x1="695.5833333333334" y1="916.8" x2="695.5833333333334" y2="915.0" stroke="#333" stroke-width="0.6" />
<line x1="695.5833333333334" y1="859.2" x2="695.5833333333334" y2="861.0" stroke="#333" stroke-width="0.6" />
<line x1="695.5833333333334" y1="955.8" x2="695.5833333333334" y2="954.0" stroke="#333" stroke-width="0.6" />
<line x1="695.5833333333334" y1="928.4" x2="695.5833333333334" y2="930.1999999999999" stroke="#333" stroke-width="0.6" />
<line x1="695.5833333333334" y1="995.6" x2="695.5833333333334" y2="993.8000000000001" stroke="#333" stroke-width="0.6" />
<line x1="695.5833333333334" y1="967.8" x2="695.5833333333334" y2="969.5999999999999" stroke="#333" stroke-width="0.6" />
<line x1="712.7916666666667" y1="916.8" x2="712.7916666666667" y2="915.0" stroke="#333" stroke-width="0.6" />
<line x1="712.7916666666667" y1="859.2" x2="712.7916666666667" y2="861.0" stroke="#333" stroke-width="0.6" />
<line x1="712.7916666666667" y1="955.8" x2="712.7916666666667" y2="954.0" stroke="#333" stroke-width="0.6" />
<line x1="712.7916666666667" y1="928.4" x2="712.7916666666667" y2="930.1999999999999" stroke="#333" stroke-width="0.6" />
<line x1="712.7916666666667" y1="995.6" x2="712.7916666666667" y2="993.8000000000001" stroke="#333" stroke-width="0.6" />
<line x1="712.7916666666667" y1="967.8" x2="712.7916666666667" y2="969.5999999999999" stroke="#333" stroke-width="0.6" />
<line x1="730.0" y1="916.8" x2="730.0" y2="915.0" stroke="#333" stroke-width="0.6" />
<line x1="730.0" y1="859.2" x2="730.0" y2="861.0" stroke="#333" stroke-width="0.6" />
<line x1="730.0" y1="955.8" x2="730.0" y2="954.0" stroke="#333" stroke-width="0.6" />
<line x1="730.0" y1="928.4" x2="730.0" y2="930.1999999999999" stroke="#333" stroke-width="0.6" />
<line x1="730.0" y1="995.6" x2="730.0" y2="993.8000000000001" stroke="#333" stroke-width="0.6" />
<line x1="730.0" y1="967.8" x2="730.0" y2="969.5999999999999" stroke="#333" stroke-width="0.6" />
<line x1="523.5" y1="858.6" x2="525.3" y2="858.6" stroke="#333" stroke-width="0.6" />
<line x1="730" y1="858.6" x2="728.2" y2="858.6" stroke="#333" stroke-width="0.6" />
<line x1="523.5" y1="870.2" x2="525.3" y2="870.2" stroke="#333" stroke-width="0.6" />
<line x1="730" y1="870.2" x2="728.2" y2="870.2" stroke="#333" stroke-width="0.6" />
<line x1="523.5" y1="881.8000000000001" x2="525.3" y2="881.8000000000001" stroke="#333" stroke-width="0.6" />
<line x1="730" y1="881.8000000000001" x2="728.2" y2="881.8000000000001" stroke="#333" stroke-width="0.6" />
<line x1="523.5" y1="893.4000000000001" x2="525.3" y2="893.4000000000001" stroke="#333" stroke-width="0.6" />
<line x1="730" y1="893.4000000000001" x2="728.2" y2="893.4000000000001" stroke="#333" stroke-width="0.6" />
<line x1="523.5" y1="905.0" x2="525.3" y2="905.0" stroke="#333" stroke-width="0.6" />
<line x1="730" y1="905.0" x2="728.2" y2="905.0" stroke="#333" stroke-width="0.6" />
<line x1="523.5" y1="916.6" x2="525.3" y2="916.6" stroke="#333" stroke-width="0.6" />
<line x1="730" y1="916.6" x2="728.2" y2="916.6" stroke="#333" stroke-width="0.6" />
<line x1="523.5" y1="950.3" x2="525.3" y2="950.3" stroke="#333" stroke-width="0.6" />
<line x1="730" y1="950.3" x2="728.2" y2="950.3" stroke="#333" stroke-width="0.6" />
<line x1="523.5" y1="944.9749999999999" x2="525.3" y2="944.9749999999999" stroke="#333" stroke-width="0.6" />
<line x1="730" y1="944.9749999999999" x2="728.2" y2="944.9749999999999" stroke="#333" stroke-width="0.6" />
<line x1="523.5" y1="939.65" x2="525.3" y2="939.65" stroke="#333" stroke-width="0.6" />
<line x1="730" y1="939.65" x2="728.2" y2="939.65" stroke="#333" stroke-width="0.6" />
<line x1="523.5" y1="934.325" x2="525.3" y2="934.325" stroke="#333" stroke-width="0.6" />
<line x1="730" y1="934.325" x2="728.2" y2="934.325" stroke="#333" stroke-width="0.6" />
<line x1="523.5" y1="929.0" x2="525.3" y2="929.0" stroke="#333" stroke-width="0.6" />
<line x1="730" y1="929.0" x2="728.2" y2="929.0" stroke="#333" stroke-width="0.6" />
<line x1="523.5" y1="992.4" x2="525.3" y2="992.4" stroke="#333" stroke-width="0.6" />
<line x1="730" y1="992.4" x2="728.2" y2="992.4" stroke="#333" stroke-width="0.6" />
<line x1="523.5" y1="982.3" x2="525.3" y2="982.3" stroke="#333" stroke-width="0.6" />
<line x1="730" y1="982.3" x2="728.2" y2="982.3" stroke="#333" stroke-width="0.6" />
<line x1="523.5" y1="972.2" x2="525.3" y2="972.2" stroke="#333" stroke-width="0.6" />
<line x1="730" y1="972.2" x2="728.2" y2="972.2" stroke="#333" stroke-width="0.6" />
<text x="523.5" y="1007" font-size="9.5" fill="#444" text-anchor="middle" font-weight="normal" >0</text>
<text x="557.9166666666666" y="1007" font-size="9.5" fill="#444" text-anchor="middle" font-weight="normal" >20</text>
<text x="592.3333333333334" y="1007" font-size="9.5" fill="#444" text-anchor="middle" font-weight="normal" >40</text>
<text x="626.75" y="1007" font-size="9.5" fill="#444" text-anchor="middle" font-weight="normal" >60</text>
<text x="661.1666666666667" y="1007" font-size="9.5" fill="#444" text-anchor="middle" font-weight="normal" >80</text>
<text x="695.5833333333334" y="1007" font-size="9.5" fill="#444" text-anchor="middle" font-weight="normal" >100</text>
<text x="730.0" y="1007" font-size="9.5" fill="#444" text-anchor="middle" font-weight="normal" >120</text>
<polyline points="98.3,869.1 98.6,868.3 99.0,872.3 99.3,867.5 99.7,870.7 100.0,866.3 100.4,874.0 100.7,873.1 101.1,873.7 101.4,863.3 101.7,872.1 102.1,869.3 102.4,868.0 102.8,869.4 103.1,870.7 103.5,870.9 103.8,866.9 104.2,871.0 104.5,877.1 104.8,870.3 105.2,871.4 105.5,866.1 105.9,865.1 106.2,869.0 106.6,865.4 106.9,873.3 107.3,868.9 107.6,872.6 107.9,871.6 108.3,869.2 108.6,872.8 109.0,869.4 109.3,873.0 109.7,870.4 110.0,871.0 110.4,872.5 110.7,868.2 111.0,868.5 111.4,867.3 111.7,870.8 112.1,871.7 112.4,871.2 112.8,866.5 113.1,869.1 113.5,874.6 113.8,873.6 114.1,872.5 114.5,869.9 114.8,867.9 115.2,868.6 115.5,869.8 115.9,872.7 116.2,869.5 116.6,894.7 116.9,900.7 117.2,894.8 117.6,893.8 117.9,897.1 118.3,901.8 118.6,898.0 119.0,891.1 119.3,890.1 119.7,899.6 120.0,893.7 120.3,891.2 120.7,892.5 121.0,895.9 121.4,896.9 121.7,895.5 122.1,896.8 122.4,899.9 122.8,898.2 123.1,898.6 123.4,889.5 123.8,892.6 124.1,902.8 124.5,897.6 124.8,898.7 125.2,889.8 125.5,893.3 125.9,897.3 126.2,892.9 126.5,892.7 126.9,893.9 127.2,894.8 127.6,898.5 127.9,894.9 128.3,896.5 128.6,903.0 129.0,894.6 129.3,890.3 129.6,894.7 130.0,899.2 130.3,895.3 130.7,904.0 131.0,893.1 131.4,893.0 131.7,894.4 132.1,897.6 132.4,896.4 132.8,898.2 133.1,897.6 133.4,896.9 133.8,890.6 134.1,895.2 134.5,888.0 134.8,884.1 135.2,901.3 135.5,894.6 135.9,889.0 136.2,894.2 136.5,893.3 136.9,899.0 137.2,897.3 137.6,893.7 137.9,896.9 138.3,895.9 138.6,903.0 139.0,888.2 139.3,893.4 139.6,894.1 140.0,892.8 140.3,898.5 140.7,895.4 141.0,895.2 141.4,898.6 141.7,899.5 142.1,897.3 142.4,889.3 142.7,895.9 143.1,893.7 143.4,892.5 143.8,902.9 144.1,890.2 144.5,896.8 144.8,902.4 145.2,891.9 145.5,893.7 145.8,890.8 146.2,893.6 146.5,900.8 146.9,904.2 147.2,910.8 147.6,909.7 147.9,910.2 148.3,905.7 148.6,907.4 148.9,904.3 149.3,907.1 149.6,909.5 150.0,905.6 150.3,907.8 150.7,908.2 151.0,906.0 151.4,916.7 151.7,910.5 152.0,908.8 152.4,908.0 152.7,910.2 153.1,905.5 153.4,911.8 153.8,913.1 154.1,911.3 154.5,908.8 154.8,912.3 155.1,902.3 155.5,910.4 155.8,917.1 156.2,913.6 156.5,905.0 156.9,903.8 157.2,907.4 157.6,909.0 157.9,900.5 158.2,910.7 158.6,910.8 158.9,904.0 159.3,903.8 159.6,910.6 160.0,902.2 160.3,912.6 160.7,909.1 161.0,905.9 161.3,905.0 161.7,907.9 162.0,907.8 162.4,904.3 162.7,906.9 163.1,902.3 163.4,910.2 163.8,900.4 164.1,903.4 164.4,907.9 164.8,905.9 165.1,911.0 165.5,908.8 165.8,901.7 166.2,907.7 166.5,903.4 166.9,909.6 167.2,905.4 167.5,903.7 167.9,902.5 168.2,911.9 168.6,906.7 168.9,908.6 169.3,909.6 169.6,911.1 170.0,905.3 170.3,908.6 170.6,903.8 171.0,904.4 171.3,905.0 171.7,898.3 172.0,903.4 172.4,906.4 172.7,902.2 173.1,900.4 173.4,906.7 173.7,909.4 174.1,909.8 174.4,906.5 174.8,897.7 175.1,906.5 175.5,913.4 175.8,904.7 176.2,903.2 176.5,905.9 176.8,904.3 177.2,903.6 177.5,908.4 177.9,905.7 178.2,904.3 178.6,912.9 178.9,908.6 179.3,904.2 179.6,906.2 179.9,907.0 180.3,908.3 180.6,911.1 181.0,898.7 181.3,905.4 181.7,904.7 182.0,909.2 182.4,906.2 182.7,911.8 183.0,912.0 183.4,904.5 183.7,907.6 184.1,910.7 184.4,908.9 184.8,910.3 185.1,913.2 185.5,916.0 185.8,906.0 186.1,900.0 186.5,909.4 186.8,907.9 187.2,907.6 187.5,908.0 187.9,903.5 188.2,910.0 188.6,908.8 188.9,909.6 189.2,915.0 189.6,907.5 189.9,908.8 190.3,907.3 190.6,910.1 191.0,908.6 191.3,906.1 191.7,908.2 192.0,906.2 192.3,901.0 192.7,907.1 193.0,907.4 193.4,907.9 193.7,903.5 194.1,913.8 194.4,910.3 194.8,911.5 195.1,913.0 195.4,907.9 195.8,907.4 196.1,909.9 196.5,906.1 196.8,903.7 197.2,908.9 197.5,911.6 197.9,907.5 198.2,908.8 198.5,900.4 198.9,905.7 199.2,900.4 199.6,901.0 199.9,906.9 200.3,910.5 200.6,904.5 201.0,900.5 201.3,912.9 201.6,906.0 202.0,901.0 202.3,901.2 202.7,915.5 203.0,909.0 203.4,903.7 203.7,905.0 204.1,905.3 204.4,904.0 204.8,902.1 205.1,907.4 205.4,904.2 205.8,910.8 206.1,908.3 206.5,904.2 206.8,908.7 207.2,911.5 207.5,903.3 207.9,904.6 208.2,903.2 208.5,909.5 208.9,902.9 209.2,904.7 209.6,908.9 209.9,910.5 210.3,907.8 210.6,907.3 211.0,904.8 211.3,903.3 211.6,915.1 212.0,904.8 212.3,902.7 212.7,912.7 213.0,904.2 213.4,908.6 213.7,908.7 214.1,910.9 214.4,907.9 214.7,906.2 215.1,911.8 215.4,908.3 215.8,905.0 216.1,907.3 216.5,905.1 216.8,902.6 217.2,903.0 217.5,903.9 217.8,910.3 218.2,911.9 218.5,908.1 218.9,909.8 219.2,904.1 219.6,907.9 219.9,911.3 220.3,905.1 220.6,890.5 220.9,894.8 221.3,900.5 221.6,893.8 222.0,886.1 222.3,893.9 222.7,891.1 223.0,897.9 223.4,891.4 223.7,897.7 224.0,894.8 224.4,896.2 224.7,892.7 225.1,892.8 225.4,891.9 225.8,893.6 226.1,884.8 226.5,888.7 226.8,895.5 227.1,889.8 227.5,892.3 227.8,893.8 228.2,893.0 228.5,890.1 228.9,891.9 229.2,897.5 229.6,895.9 229.9,895.5 230.2,900.2 230.6,893.1 230.9,891.9 231.3,892.4 231.6,894.9 232.0,892.0 232.3,893.3 232.7,890.3 233.0,891.4 233.3,902.7 233.7,899.4 234.0,896.4 234.4,890.3 234.7,897.1 235.1,893.6 235.4,892.6 235.8,893.1 236.1,894.3 236.4,896.2 236.8,893.4 237.1,889.8 237.5,891.0 237.8,887.9 238.2,895.6 238.5,895.6 238.9,897.4 239.2,891.8 239.5,898.0 239.9,883.6 240.2,886.6 240.6,898.0 240.9,889.4 241.3,892.8 241.6,895.5 242.0,891.0 242.3,893.6 242.6,896.1 243.0,889.0 243.3,886.6 243.7,888.0 244.0,893.9 244.4,894.2 244.7,896.2 245.1,896.7 245.4,893.6 245.7,894.1 246.1,891.8 246.4,892.7 246.8,895.6 247.1,892.4 247.5,892.0 247.8,893.6 248.2,893.5 248.5,888.8 248.8,895.9 249.2,889.3 249.5,893.2 249.9,894.6 250.2,897.0 250.6,889.0 250.9,892.1 251.3,895.9 251.6,895.4 251.9,896.3 252.3,892.0 252.6,897.6 253.0,890.0 253.3,899.5 253.7,897.1 254.0,890.6 254.4,896.4 254.7,895.1 255.0,893.6 255.4,887.7 255.7,889.7 256.1,892.1 256.4,898.4 256.8,898.1 257.1,891.2 257.5,893.7 257.8,889.8 258.1,897.0 258.5,896.7 258.8,884.1 259.2,891.8 259.5,890.4 259.9,891.3 260.2,886.6 260.6,888.5 260.9,887.4 261.2,887.6 261.6,894.3 261.9,895.1 262.3,888.2 262.6,894.2 263.0,890.1 263.3,889.9 263.7,891.4 264.0,895.1 264.3,892.4 264.7,898.2 265.0,887.3 265.4,884.6 265.7,891.2 266.1,891.7 266.4,888.6 266.8,891.0 267.1,898.7 267.4,896.1 267.8,890.1 268.1,892.5 268.5,891.2 268.8,892.8 269.2,902.2 269.5,888.5 269.9,893.6 270.2,887.3 270.6,898.8 270.9,898.1 271.2,890.6 271.6,890.9 271.9,900.1 272.3,894.9 272.6,896.0 273.0,895.1 273.3,891.7 273.7,893.8 274.0,894.4 274.3,896.8 274.7,892.5 275.0,894.3 275.4,910.6 275.7,897.6 276.1,892.2 276.4,887.4 276.8,895.5 277.1,891.0 277.4,896.5 277.8,889.6 278.1,887.5 278.5,887.6 278.8,892.6 279.2,895.1 279.5,889.3 279.9,894.8 280.2,880.8 280.5,893.8 280.9,895.8 281.2,901.3 281.6,887.0 281.9,899.0 282.3,885.8 282.6,884.3 283.0,892.8 283.3,889.2 283.6,892.1 284.0,892.3 284.3,892.5 284.7,892.7 285.0,886.9 285.4,892.5 285.7,889.9 286.1,898.8 286.4,897.8 286.7,887.8 287.1,893.1 287.4,892.4 287.8,890.5 288.1,895.8 288.5,894.6 288.8,892.5 289.2,889.4 289.5,888.7 289.8,891.1 290.2,893.7 290.5,889.6 290.9,893.7 291.2,894.3 291.6,896.1 291.9,894.8 292.3,891.1 292.6,890.7 292.9,889.8 293.3,893.9 293.6,895.2 294.0,890.4 294.3,894.1 294.7,894.2 295.0,890.6 295.4,899.0 295.7,899.1 296.0,898.8 296.4,895.7 296.7,894.3 297.1,899.7 297.4,895.6 297.8,889.6 298.1,890.7 298.5,898.3 298.8,892.0 299.1,899.4 299.5,901.8 299.8,898.4 300.2,890.9 300.5,886.3 300.9,893.8 301.2,896.4 301.6,897.0 301.9,893.8 302.2,896.0 302.6,892.2 302.9,888.5 303.3,900.7 303.6,893.4 304.0,891.4 304.3,896.0 304.7,889.7 305.0,889.9" fill="none" stroke="#c8c8c8" stroke-width="0.55" stroke-linejoin="round" />
<polyline points="98.3,869.7 98.6,870.7 99.0,870.3 99.3,869.7 99.7,870.2 100.0,869.8 100.4,869.1 100.7,869.6 101.1,870.7 101.4,869.0 101.7,868.8 102.1,869.4 102.4,868.9 102.8,869.6 103.1,870.0 103.5,870.5 103.8,870.3 104.2,869.4 104.5,869.6 104.8,870.3 105.2,871.4 105.5,872.1 105.9,870.9 106.2,871.0 106.6,871.3 106.9,869.4 107.3,872.0 107.6,872.0 107.9,870.9 108.3,870.8 108.6,870.5 109.0,872.0 109.3,871.6 109.7,871.6 110.0,869.3 110.4,869.6 110.7,868.7 111.0,869.9 111.4,870.3 111.7,869.8 112.1,870.1 112.4,868.6 112.8,869.0 113.1,869.1 113.5,869.1 113.8,869.8 114.1,869.9 114.5,871.5 114.8,870.4 115.2,871.8 115.5,872.8 115.9,870.6 116.2,870.4 116.6,895.8 116.9,895.6 117.2,897.1 117.6,896.1 117.9,895.3 118.3,895.9 118.6,895.8 119.0,895.6 119.3,896.4 119.7,896.3 120.0,896.7 120.3,894.4 120.7,896.9 121.0,895.7 121.4,896.8 121.7,897.2 122.1,895.8 122.4,895.5 122.8,895.5 123.1,894.8 123.4,896.6 123.8,896.7 124.1,895.4 124.5,895.8 124.8,894.0 125.2,895.3 125.5,895.7 125.9,897.4 126.2,895.2 126.5,895.2 126.9,896.6 127.2,896.2 127.6,896.9 127.9,896.2 128.3,896.1 128.6,897.5 129.0,896.7 129.3,896.4 129.6,897.2 130.0,896.0 130.3,894.9 130.7,894.0 131.0,893.9 131.4,895.0 131.7,895.2 132.1,895.6 132.4,896.0 132.8,896.6 133.1,894.6 133.4,895.5 133.8,896.7 134.1,894.0 134.5,895.3 134.8,895.5 135.2,895.6 135.5,895.1 135.9,897.2 136.2,896.1 136.5,894.4 136.9,895.9 137.2,896.1 137.6,896.0 137.9,896.3 138.3,896.6 138.6,896.2 139.0,895.5 139.3,896.1 139.6,895.2 140.0,895.3 140.3,895.4 140.7,896.1 141.0,895.8 141.4,894.2 141.7,895.3 142.1,895.7 142.4,895.0 142.7,896.0 143.1,895.1 143.4,894.7 143.8,895.9 144.1,896.4 144.5,896.7 144.8,896.5 145.2,895.6 145.5,895.9 145.8,895.8 146.2,896.3 146.5,894.7 146.9,906.4 147.2,906.4 147.6,908.5 147.9,907.7 148.3,908.0 148.6,907.2 148.9,906.2 149.3,907.3 149.6,907.2 150.0,906.6 150.3,906.3 150.7,907.8 151.0,908.5 151.4,909.5 151.7,909.6 152.0,909.4 152.4,908.1 152.7,909.1 153.1,909.1 153.4,908.4 153.8,908.5 154.1,909.1 154.5,908.4 154.8,909.2 155.1,908.8 155.5,907.1 155.8,907.0 156.2,908.9 156.5,907.8 156.9,909.0 157.2,910.0 157.6,909.5 157.9,908.5 158.2,908.6 158.6,907.8 158.9,908.7 159.3,909.3 159.6,907.7 160.0,907.2 160.3,907.8 160.7,908.2 161.0,909.1 161.3,909.3 161.7,908.9 162.0,907.6 162.4,906.6 162.7,906.8 163.1,908.3 163.4,907.6 163.8,907.6 164.1,906.0 164.4,906.9 164.8,908.2 165.1,905.9 165.5,907.9 165.8,906.7 166.2,906.0 166.5,906.4 166.9,905.9 167.2,906.9 167.5,905.8 167.9,905.6 168.2,906.5 168.6,905.2 168.9,906.5 169.3,906.0 169.6,906.3 170.0,906.6 170.3,905.2 170.6,904.9 171.0,907.1 171.3,906.3 171.7,905.5 172.0,905.7 172.4,905.9 172.7,905.4 173.1,905.3 173.4,906.2 173.7,906.8 174.1,906.7 174.4,907.0 174.8,905.6 175.1,905.2 175.5,907.2 175.8,905.9 176.2,907.2 176.5,907.3 176.8,906.6 177.2,907.4 177.5,907.5 177.9,907.9 178.2,906.1 178.6,908.1 178.9,907.8 179.3,905.7 179.6,906.1 179.9,907.8 180.3,907.8 180.6,906.9 181.0,907.5 181.3,908.2 181.7,905.4 182.0,907.9 182.4,907.9 182.7,908.6 183.0,907.9 183.4,907.2 183.7,908.4 184.1,909.2 184.4,908.7 184.8,909.7 185.1,908.9 185.5,907.0 185.8,906.9 186.1,909.2 186.5,907.6 186.8,908.2 187.2,908.2 187.5,909.5 187.9,909.7 188.2,909.0 188.6,907.7 188.9,907.6 189.2,907.9 189.6,909.0 189.9,908.0 190.3,909.3 190.6,909.8 191.0,909.6 191.3,908.2 191.7,908.4 192.0,907.7 192.3,908.6 192.7,909.3 193.0,906.9 193.4,906.7 193.7,908.1 194.1,908.4 194.4,907.4 194.8,908.2 195.1,907.9 195.4,909.4 195.8,907.8 196.1,906.9 196.5,908.1 196.8,907.8 197.2,905.9 197.5,907.1 197.9,906.7 198.2,907.3 198.5,907.3 198.9,906.7 199.2,906.4 199.6,907.0 199.9,906.8 200.3,907.5 200.6,906.6 201.0,906.0 201.3,906.1 201.6,905.9 202.0,906.0 202.3,905.0 202.7,905.1 203.0,906.6 203.4,905.5 203.7,906.2 204.1,906.0 204.4,904.8 204.8,904.8 205.1,903.8 205.4,906.0 205.8,905.7 206.1,907.3 206.5,906.6 206.8,906.0 207.2,905.3 207.5,906.1 207.9,905.6 208.2,905.5 208.5,906.3 208.9,906.2 209.2,907.7 209.6,906.4 209.9,906.4 210.3,907.0 210.6,907.8 211.0,907.4 211.3,908.1 211.6,908.3 212.0,907.4 212.3,908.5 212.7,907.4 213.0,908.6 213.4,908.6 213.7,907.9 214.1,908.4 214.4,907.1 214.7,909.6 215.1,909.5 215.4,909.0 215.8,909.1 216.1,907.3 216.5,908.0 216.8,908.7 217.2,907.9 217.5,907.7 217.8,909.9 218.2,908.6 218.5,909.0 218.9,910.4 219.2,909.3 219.6,909.2 219.9,909.6 220.3,908.2 220.6,893.4 220.9,892.5 221.3,892.1 221.6,891.8 222.0,892.8 222.3,893.4 222.7,893.3 223.0,893.7 223.4,893.9 223.7,893.6 224.0,892.5 224.4,892.6 224.7,892.7 225.1,891.7 225.4,893.6 225.8,893.4 226.1,892.7 226.5,894.1 226.8,894.0 227.1,893.4 227.5,894.7 227.8,893.3 228.2,893.7 228.5,893.6 228.9,892.3 229.2,891.3 229.6,891.9 229.9,893.4 230.2,893.5 230.6,894.1 230.9,893.5 231.3,893.4 231.6,893.5 232.0,894.1 232.3,892.2 232.7,892.7 233.0,893.6 233.3,894.3 233.7,893.8 234.0,893.3 234.4,893.9 234.7,892.5 235.1,892.6 235.4,894.0 235.8,895.7 236.1,893.4 236.4,893.4 236.8,894.1 237.1,893.6 237.5,893.2 237.8,891.6 238.2,892.8 238.5,892.9 238.9,892.9 239.2,892.9 239.5,893.1 239.9,894.1 240.2,893.6 240.6,893.6 240.9,892.5 241.3,892.1 241.6,893.7 242.0,893.3 242.3,894.1 242.6,894.3 243.0,894.8 243.3,893.9 243.7,893.9 244.0,893.3 244.4,892.4 244.7,892.5 245.1,892.9 245.4,892.8 245.7,892.7 246.1,892.6 246.4,894.0 246.8,893.6 247.1,894.0 247.5,893.3 247.8,892.5 248.2,892.5 248.5,893.3 248.8,891.3 249.2,893.8 249.5,893.1 249.9,893.4 250.2,894.5 250.6,893.6 250.9,892.3 251.3,893.6 251.6,892.8 251.9,893.2 252.3,894.1 252.6,893.7 253.0,892.9 253.3,892.4 253.7,892.3 254.0,893.0 254.4,892.6 254.7,895.0 255.0,893.2 255.4,892.4 255.7,893.2 256.1,893.1 256.4,894.2 256.8,894.5 257.1,894.0 257.5,893.9 257.8,893.8 258.1,893.4 258.5,892.8 258.8,889.5 259.2,888.8 259.5,889.8 259.9,890.1 260.2,889.6 260.6,890.3 260.9,890.0 261.2,890.6 261.6,890.8 261.9,890.7 262.3,888.8 262.6,888.8 263.0,890.1 263.3,889.5 263.7,893.7 264.0,894.4 264.3,894.7 264.7,895.1 265.0,892.5 265.4,893.0 265.7,894.0 266.1,893.7 266.4,894.1 266.8,894.1 267.1,894.4 267.4,892.4 267.8,892.5 268.1,892.4 268.5,893.5 268.8,893.9 269.2,893.0 269.5,893.9 269.9,893.9 270.2,893.7 270.6,892.2 270.9,892.4 271.2,893.2 271.6,892.5 271.9,893.4 272.3,895.6 272.6,895.1 273.0,894.3 273.3,894.0 273.7,894.3 274.0,892.8 274.3,892.5 274.7,893.5 275.0,893.0 275.4,893.3 275.7,893.6 276.1,893.7 276.4,892.7 276.8,894.6 277.1,892.5 277.4,893.2 277.8,894.1 278.1,893.6 278.5,893.5 278.8,893.5 279.2,892.7 279.5,891.7 279.9,892.3 280.2,893.6 280.5,893.4 280.9,893.6 281.2,894.1 281.6,894.0 281.9,894.7 282.3,894.4 282.6,893.9 283.0,893.2 283.3,893.2 283.6,893.9 284.0,893.6 284.3,894.3 284.7,891.9 285.0,892.7 285.4,892.5 285.7,894.5 286.1,893.3 286.4,894.1 286.7,893.8 287.1,894.1 287.4,893.5 287.8,891.8 288.1,893.1 288.5,893.4 288.8,893.3 289.2,892.6 289.5,894.1 289.8,892.0 290.2,893.2 290.5,893.1 290.9,893.0 291.2,893.8 291.6,892.6 291.9,892.2 292.3,892.8 292.6,893.7 292.9,894.1 293.3,892.9 293.6,892.2 294.0,893.6 294.3,893.7 294.7,892.3 295.0,891.6 295.4,893.2 295.7,894.2 296.0,893.8 296.4,892.9 296.7,893.9 297.1,893.8 297.4,892.7 297.8,892.4 298.1,892.6 298.5,894.5 298.8,894.6 299.1,892.1 299.5,892.9 299.8,894.2 300.2,893.5 300.5,892.8 300.9,893.0 301.2,894.7 301.6,894.1 301.9,893.4 302.2,893.2 302.6,892.2 302.9,893.4 303.3,892.4 303.6,892.4 304.0,892.9 304.3,894.2 304.7,894.5 305.0,894.0" fill="none" stroke="#151515" stroke-width="1.5" stroke-linejoin="round" />
<polyline points="98.3,948.5 101.7,948.3 105.2,948.6 108.6,948.1 112.1,949.9 115.5,944.4 119.0,944.2 122.4,949.4 125.9,947.7 129.3,948.4 132.8,949.5 136.2,949.4 139.6,947.7 143.1,949.7 146.5,944.3 150.0,944.5 153.4,943.9 156.9,943.9 160.3,945.4 163.8,946.1 167.2,945.9 170.6,944.6 174.1,944.8 177.5,943.9 181.0,944.2 184.4,944.0 187.9,945.8 191.3,945.9 194.8,945.0 198.2,944.6 201.6,945.6 205.1,943.8 208.5,946.4 212.0,945.1 215.4,945.8 218.9,944.6 222.3,948.8 225.8,949.5 229.2,948.9 232.7,948.1 236.1,949.9 239.5,949.9 243.0,950.1 246.4,949.6 249.9,950.1 253.3,950.8 256.8,948.7 260.2,950.3 263.7,951.3 267.1,948.8 270.6,950.6 274.0,949.1 277.4,948.6 280.9,950.5 284.3,950.6 287.8,948.6 291.2,951.0 294.7,950.6 298.1,950.3 301.6,950.2 305.0,948.5" fill="none" stroke="#d02828" stroke-width="1.0" stroke-linejoin="round" />
<polyline points="98.3,949.4 101.7,950.4 105.2,950.6 108.6,951.7 112.1,950.2 115.5,950.0 119.0,948.5 122.4,946.3 125.9,946.3 129.3,943.8 132.8,944.7 136.2,945.3 139.6,944.4 143.1,944.7 146.5,947.0 150.0,947.3 153.4,947.0 156.9,946.7 160.3,946.4 163.8,946.4 167.2,947.3 170.6,946.8 174.1,947.8 177.5,949.0 181.0,948.9 184.4,946.9 187.9,949.1 191.3,948.3 194.8,947.6 198.2,946.8 201.6,949.4 205.1,948.6 208.5,948.3 212.0,948.3 215.4,947.6 218.9,946.9 222.3,945.5 225.8,943.6 229.2,944.7 232.7,947.2 236.1,947.4 239.5,946.3 243.0,946.3 246.4,945.1 249.9,945.5 253.3,945.3 256.8,946.0 260.2,945.6 263.7,945.7 267.1,946.2 270.6,948.7 274.0,950.5 277.4,948.4 280.9,948.7 284.3,946.7 287.8,949.3 291.2,950.6 294.7,949.8 298.1,949.4 301.6,949.9 305.0,950.3" fill="none" stroke="#40a040" stroke-width="1.0" stroke-linejoin="round" />
<polyline points="117.2,971.7 121.0,976.6 124.8,980.2 128.6,985.8 132.4,990.4 136.2,985.8 140.0,988.2 143.8,988.7 147.6,976.3 151.4,971.9 155.1,973.3 158.9,973.4 162.7,976.5 166.5,972.9 170.3,973.7 174.1,977.1 177.9,976.5 181.7,974.2 185.5,977.1 189.2,977.0 193.0,976.9 196.8,974.1 200.6,976.6 204.4,975.5 208.2,974.2 212.0,973.1 215.8,973.2 219.6,973.8 223.4,988.3 227.1,992.6 230.9,989.4 234.7,987.5 238.5,987.9 242.3,990.2 246.1,988.2 249.9,989.4 253.7,989.1 257.5,989.8 261.2,991.0 265.0,992.2 268.8,991.8" fill="none" stroke="#5a62b8" stroke-width="1.1" stroke-linejoin="round" />
<polyline points="310.9,865.7 311.3,868.0 311.7,869.9 312.1,873.1 312.6,895.3 313.0,886.0 313.4,890.5 313.8,897.9 314.2,889.1 314.6,895.7 315.0,902.0 315.5,893.5 315.9,891.0 316.3,889.4 316.7,892.1 317.1,891.4 317.5,901.4 317.9,894.7 318.4,895.2 318.8,892.2 319.2,896.8 319.6,892.0 320.0,893.0 320.4,891.5 320.8,894.5 321.2,898.8 321.7,889.8 322.1,888.8 322.5,894.5 322.9,895.1 323.3,899.0 323.7,888.3 324.1,894.1 324.6,896.5 325.0,894.4 325.4,898.2 325.8,892.3 326.2,897.8 326.6,886.1 327.0,892.5 327.5,892.5 327.9,905.3 328.3,897.2 328.7,886.2 329.1,891.9 329.5,895.2 329.9,893.5 330.4,889.6 330.8,894.2 331.2,896.3 331.6,893.7 332.0,897.2 332.4,890.8 332.8,887.8 333.3,893.8 333.7,891.7 334.1,892.8 334.5,887.8 334.9,886.4 335.3,895.7 335.7,894.7 336.2,892.4 336.6,895.4 337.0,890.5 337.4,891.0 337.8,894.1 338.2,890.6 338.6,895.1 339.1,897.8 339.5,891.0 339.9,894.4 340.3,886.6 340.7,894.3 341.1,894.0 341.5,896.7 341.9,893.7 342.4,892.3 342.8,905.4 343.2,894.1 343.6,899.0 344.0,887.4 344.4,894.6 344.8,894.1 345.3,887.4 345.7,891.5 346.1,897.4 346.5,891.6 346.9,889.5 347.3,895.4 347.7,889.5 348.2,890.6 348.6,900.7 349.0,886.9 349.4,889.6 349.8,895.2 350.2,893.8 350.6,895.1 351.1,892.8 351.5,892.3 351.9,896.5 352.3,895.0 352.7,887.6 353.1,890.6 353.5,892.7 354.0,894.4 354.4,890.4 354.8,896.4 355.2,891.7 355.6,890.4 356.0,895.4 356.4,892.9 356.9,889.2 357.3,891.5 357.7,894.9 358.1,889.5 358.5,892.5 358.9,892.7 359.3,890.5 359.8,888.3 360.2,897.7 360.6,894.7 361.0,894.1 361.4,892.6 361.8,895.8 362.2,894.2 362.6,888.8 363.1,894.9 363.5,891.6 363.9,894.1 364.3,896.5 364.7,894.9 365.1,895.2 365.5,891.2 366.0,889.4 366.4,894.5 366.8,893.9 367.2,891.8 367.6,894.1 368.0,894.5 368.4,891.5 368.9,892.6 369.3,896.0 369.7,890.3 370.1,887.8 370.5,896.8 370.9,897.4 371.3,895.7 371.8,893.4 372.2,892.9 372.6,890.7 373.0,894.4 373.4,896.7 373.8,899.5 374.2,892.6 374.7,893.3 375.1,892.1 375.5,891.1 375.9,895.4 376.3,890.2 376.7,899.1 377.1,902.6 377.6,891.5 378.0,893.5 378.4,890.2 378.8,892.8 379.2,886.5 379.6,892.4 380.0,890.5 380.5,891.3 380.9,886.8 381.3,893.9 381.7,893.1 382.1,892.6 382.5,894.3 382.9,892.8 383.3,892.0 383.8,894.3 384.2,883.3 384.6,893.9 385.0,894.3 385.4,897.5 385.8,895.3 386.2,893.5 386.7,891.6 387.1,901.8 387.5,887.6 387.9,893.3 388.3,899.5 388.7,893.4 389.1,890.2 389.6,889.3 390.0,889.0 390.4,895.2 390.8,895.7 391.2,891.1 391.6,895.4 392.0,894.7 392.5,899.9 392.9,897.6 393.3,894.6 393.7,892.9 394.1,897.0 394.5,896.0 394.9,900.0 395.4,897.2 395.8,895.7 396.2,893.2 396.6,890.0 397.0,897.1 397.4,889.5 397.8,900.1 398.3,891.4 398.7,890.4 399.1,894.1 399.5,900.7 399.9,888.5 400.3,900.0 400.7,896.1 401.2,900.4 401.6,900.5 402.0,898.3 402.4,887.3 402.8,899.6 403.2,892.8 403.6,893.2 404.0,888.7 404.5,893.1 404.9,891.3 405.3,894.8 405.7,894.4 406.1,901.8 406.5,891.8 406.9,891.9 407.4,887.6 407.8,896.7 408.2,898.5 408.6,897.2 409.0,887.3 409.4,899.0 409.8,891.7 410.3,887.5 410.7,896.0 411.1,897.6 411.5,891.9 411.9,895.7 412.3,893.4 412.7,889.2 413.2,889.0 413.6,896.0 414.0,897.6 414.4,896.8 414.8,892.2 415.2,890.7 415.6,898.2 416.1,894.2 416.5,890.2 416.9,890.9 417.3,893.8 417.7,897.2 418.1,897.2 418.5,895.9 419.0,890.1 419.4,897.5 419.8,892.0 420.2,893.2 420.6,892.6 421.0,892.7 421.4,892.9 421.9,894.0 422.3,890.3 422.7,889.5 423.1,898.1 423.5,898.5 423.9,894.5 424.3,892.6 424.8,883.9 425.2,895.8 425.6,891.4 426.0,895.9 426.4,896.6 426.8,892.9 427.2,894.8 427.6,890.4 428.1,893.3 428.5,899.1 428.9,897.1 429.3,895.8 429.7,894.0 430.1,892.9 430.5,894.4 431.0,896.6 431.4,894.2 431.8,892.2 432.2,891.6 432.6,893.6 433.0,894.9 433.4,892.4 433.9,894.5 434.3,890.6 434.7,895.2 435.1,892.7 435.5,882.5 435.9,895.9 436.3,893.9 436.8,894.8 437.2,891.5 437.6,895.8 438.0,895.4 438.4,900.8 438.8,892.7 439.2,897.2 439.7,897.8 440.1,893.9 440.5,891.0 440.9,892.3 441.3,892.8 441.7,897.7 442.1,889.9 442.6,894.6 443.0,892.7 443.4,896.4 443.8,903.0 444.2,897.8 444.6,896.8 445.0,884.0 445.4,896.7 445.9,889.0 446.3,893.0 446.7,897.1 447.1,890.6 447.5,891.5 447.9,893.3 448.3,878.9 448.8,896.2 449.2,895.6 449.6,896.4 450.0,902.3 450.4,893.0 450.8,891.5 451.2,897.3 451.7,895.3 452.1,892.9 452.5,899.7 452.9,892.9 453.3,894.7 453.7,893.1 454.1,886.6 454.6,891.3 455.0,891.3 455.4,898.7 455.8,888.3 456.2,895.1 456.6,893.1 457.0,895.4 457.5,895.2 457.9,892.1 458.3,897.5 458.7,891.0 459.1,885.8 459.5,897.1 459.9,896.9 460.4,898.0 460.8,887.6 461.2,898.8 461.6,889.4 462.0,892.8 462.4,894.7 462.8,899.6 463.3,890.7 463.7,892.0 464.1,894.1 464.5,890.3 464.9,891.2 465.3,888.9 465.7,892.6 466.1,890.6 466.6,888.5 467.0,888.9 467.4,890.5 467.8,890.1 468.2,893.4 468.6,895.4 469.0,896.1 469.5,892.7 469.9,888.8 470.3,895.3 470.7,898.4 471.1,892.3 471.5,888.2 471.9,892.0 472.4,893.7 472.8,897.7 473.2,890.4 473.6,896.2 474.0,889.9 474.4,884.3 474.8,896.6 475.3,898.6 475.7,891.4 476.1,893.3 476.5,895.1 476.9,896.6 477.3,892.4 477.7,888.2 478.2,896.5 478.6,895.3 479.0,890.9 479.4,892.8 479.8,895.8 480.2,898.1 480.6,902.8 481.1,895.5 481.5,888.8 481.9,889.1 482.3,887.6 482.7,896.2 483.1,890.1 483.5,877.9 484.0,894.1 484.4,897.2 484.8,889.8 485.2,895.2 485.6,891.9 486.0,905.8 486.4,899.3 486.8,915.9 487.3,892.7 487.7,891.1 488.1,890.6 488.5,889.9 488.9,886.4 489.3,898.0 489.7,899.3 490.2,891.9 490.6,899.6 491.0,898.0 491.4,889.7 491.8,890.9 492.2,889.5 492.6,896.2 493.1,898.6 493.5,896.7 493.9,896.2 494.3,893.3 494.7,893.0 495.1,892.1 495.5,894.9 496.0,887.2 496.4,893.9 496.8,913.7 497.2,891.3 497.6,896.7 498.0,887.4 498.4,903.6 498.9,892.8 499.3,893.8 499.7,894.3 500.1,892.7 500.5,894.8 500.9,895.4 501.3,900.2 501.8,896.4 502.2,891.0 502.6,886.6 503.0,892.1 503.4,892.4 503.8,894.1 504.2,889.8 504.7,893.5 505.1,894.4 505.5,890.8 505.9,885.5 506.3,891.3 506.7,892.0 507.1,897.3 507.5,895.6 508.0,887.8 508.4,887.9 508.8,889.3 509.2,891.5 509.6,891.0 510.0,894.4 510.4,890.5 510.9,899.2 511.3,895.6 511.7,890.5 512.1,891.4 512.5,885.3 512.9,892.8 513.3,892.0 513.8,890.8 514.2,895.0 514.6,894.6 515.0,896.9 515.4,890.6 515.8,891.4 516.2,912.5 516.7,896.3 517.1,894.3 517.5,896.8 517.9,903.7" fill="none" stroke="#c8c8c8" stroke-width="0.55" stroke-linejoin="round" />
<polyline points="310.9,868.1 311.3,867.1 311.7,867.9 312.1,868.0 312.6,893.0 313.0,892.9 313.4,893.5 313.8,893.5 314.2,894.4 314.6,894.4 315.0,893.9 315.5,893.7 315.9,895.1 316.3,893.9 316.7,893.8 317.1,893.4 317.5,894.5 317.9,892.7 318.4,892.8 318.8,893.6 319.2,892.5 319.6,894.2 320.0,894.0 320.4,893.6 320.8,893.4 321.2,892.3 321.7,891.6 322.1,892.7 322.5,890.9 322.9,892.7 323.3,894.6 323.7,894.5 324.1,894.3 324.6,892.4 325.0,893.9 325.4,893.9 325.8,892.9 326.2,893.1 326.6,892.1 327.0,892.7 327.5,892.1 327.9,894.3 328.3,894.0 328.7,893.0 329.1,892.2 329.5,893.7 329.9,894.0 330.4,892.5 330.8,891.4 331.2,892.8 331.6,893.9 332.0,893.8 332.4,893.5 332.8,893.4 333.3,894.3 333.7,894.2 334.1,892.2 334.5,894.2 334.9,892.8 335.3,891.8 335.7,892.1 336.2,893.6 336.6,893.9 337.0,893.4 337.4,892.1 337.8,892.2 338.2,894.0 338.6,892.8 339.1,892.8 339.5,891.1 339.9,892.7 340.3,892.5 340.7,893.2 341.1,893.6 341.5,894.0 341.9,892.8 342.4,893.7 342.8,893.6 343.2,894.0 343.6,893.7 344.0,894.5 344.4,893.8 344.8,893.5 345.3,894.2 345.7,892.8 346.1,892.2 346.5,894.1 346.9,894.3 347.3,893.9 347.7,893.1 348.2,892.3 348.6,893.1 349.0,893.5 349.4,892.8 349.8,894.3 350.2,892.7 350.6,892.8 351.1,893.9 351.5,893.1 351.9,893.5 352.3,894.9 352.7,892.3 353.1,893.3 353.5,894.2 354.0,893.3 354.4,892.7 354.8,894.1 355.2,893.2 355.6,893.5 356.0,892.4 356.4,893.1 356.9,891.7 357.3,893.2 357.7,893.2 358.1,892.5 358.5,893.0 358.9,892.7 359.3,893.4 359.8,894.6 360.2,892.7 360.6,892.5 361.0,892.5 361.4,892.4 361.8,893.3 362.2,894.2 362.6,893.6 363.1,893.7 363.5,892.9 363.9,890.9 364.3,893.6 364.7,893.4 365.1,894.4 365.5,894.2 366.0,893.1 366.4,893.5 366.8,893.8 367.2,893.6 367.6,894.9 368.0,893.2 368.4,893.7 368.9,893.3 369.3,892.9 369.7,894.1 370.1,892.4 370.5,892.1 370.9,892.1 371.3,893.5 371.8,891.7 372.2,892.6 372.6,894.2 373.0,893.7 373.4,893.4 373.8,892.8 374.2,893.1 374.7,892.5 375.1,893.7 375.5,893.1 375.9,893.6 376.3,893.3 376.7,892.8 377.1,894.8 377.6,894.5 378.0,894.5 378.4,894.9 378.8,893.5 379.2,894.0 379.6,893.4 380.0,893.2 380.5,894.7 380.9,894.0 381.3,892.9 381.7,893.3 382.1,893.2 382.5,894.7 382.9,893.3 383.3,892.6 383.8,892.0 384.2,891.9 384.6,894.4 385.0,892.1 385.4,893.2 385.8,893.0 386.2,892.2 386.7,893.0 387.1,894.4 387.5,893.4 387.9,894.7 388.3,895.3 388.7,893.2 389.1,892.1 389.6,894.3 390.0,894.0 390.4,893.7 390.8,894.2 391.2,893.9 391.6,894.5 392.0,893.7 392.5,892.4 392.9,893.5 393.3,892.4 393.7,893.5 394.1,894.3 394.5,895.1 394.9,894.0 395.4,892.9 395.8,894.4 396.2,895.0 396.6,894.2 397.0,893.4 397.4,893.5 397.8,892.5 398.3,894.9 398.7,894.1 399.1,895.3 399.5,895.1 399.9,892.6 400.3,893.0 400.7,891.9 401.2,894.0 401.6,892.2 402.0,892.6 402.4,893.4 402.8,892.9 403.2,894.0 403.6,892.8 404.0,892.8 404.5,893.2 404.9,894.4 405.3,894.4 405.7,894.2 406.1,894.1 406.5,893.5 406.9,893.9 407.4,893.2 407.8,894.2 408.2,894.9 408.6,894.7 409.0,894.2 409.4,892.4 409.8,893.3 410.3,893.8 410.7,893.6 411.1,892.8 411.5,894.2 411.9,893.1 412.3,894.4 412.7,893.1 413.2,894.3 413.6,893.2 414.0,892.4 414.4,894.3 414.8,893.3 415.2,892.7 415.6,893.6 416.1,894.6 416.5,894.1 416.9,892.5 417.3,893.4 417.7,893.7 418.1,893.6 418.5,893.6 419.0,891.8 419.4,892.8 419.8,892.6 420.2,893.6 420.6,893.4 421.0,893.5 421.4,893.2 421.9,895.4 422.3,894.1 422.7,894.1 423.1,893.6 423.5,893.3 423.9,895.3 424.3,894.1 424.8,892.9 425.2,893.1 425.6,892.6 426.0,891.4 426.4,893.4 426.8,892.4 427.2,894.0 427.6,893.5 428.1,894.5 428.5,893.3 428.9,893.5 429.3,893.7 429.7,893.3 430.1,893.6 430.5,893.2 431.0,892.9 431.4,893.4 431.8,893.8 432.2,893.3 432.6,895.1 433.0,894.4 433.4,894.2 433.9,891.8 434.3,891.8 434.7,893.0 435.1,894.0 435.5,894.6 435.9,893.7 436.3,893.8 436.8,892.8 437.2,894.3 437.6,893.8 438.0,893.7 438.4,893.9 438.8,894.0 439.2,893.2 439.7,892.6 440.1,893.9 440.5,892.3 440.9,893.1 441.3,892.4 441.7,894.1 442.1,894.1 442.6,893.3 443.0,892.6 443.4,892.0 443.8,892.1 444.2,892.8 444.6,893.5 445.0,892.0 445.4,893.7 445.9,893.4 446.3,894.7 446.7,893.1 447.1,893.0 447.5,894.9 447.9,894.5 448.3,894.4 448.8,894.1 449.2,893.0 449.6,893.0 450.0,892.6 450.4,893.1 450.8,891.9 451.2,892.9 451.7,893.6 452.1,894.6 452.5,893.9 452.9,892.8 453.3,894.0 453.7,892.2 454.1,893.3 454.6,892.4 455.0,893.0 455.4,892.6 455.8,893.9 456.2,892.3 456.6,893.7 457.0,892.4 457.5,892.3 457.9,894.9 458.3,894.1 458.7,893.3 459.1,891.8 459.5,893.1 459.9,892.9 460.4,892.6 460.8,893.7 461.2,894.6 461.6,893.8 462.0,893.9 462.4,895.5 462.8,894.7 463.3,894.0 463.7,893.8 464.1,893.9 464.5,893.9 464.9,894.6 465.3,892.9 465.7,894.1 466.1,893.2 466.6,892.2 467.0,893.4 467.4,891.7 467.8,892.4 468.2,893.1 468.6,893.4 469.0,893.0 469.5,892.7 469.9,893.8 470.3,892.4 470.7,893.3 471.1,892.6 471.5,893.4 471.9,893.7 472.4,894.2 472.8,893.4 473.2,891.3 473.6,892.8 474.0,893.0 474.4,893.1 474.8,892.2 475.3,892.8 475.7,894.2 476.1,893.3 476.5,893.4 476.9,893.1 477.3,892.2 477.7,893.2 478.2,891.9 478.6,892.6 479.0,893.0 479.4,894.4 479.8,892.9 480.2,893.8 480.6,893.0 481.1,891.8 481.5,892.6 481.9,893.1 482.3,892.8 482.7,895.3 483.1,894.9 483.5,895.4 484.0,892.7 484.4,894.4 484.8,893.6 485.2,892.4 485.6,893.2 486.0,893.4 486.4,892.5 486.8,894.1 487.3,892.7 487.7,892.8 488.1,894.3 488.5,893.2 488.9,893.9 489.3,892.1 489.7,892.9 490.2,891.8 490.6,893.5 491.0,894.1 491.4,893.8 491.8,894.4 492.2,894.5 492.6,893.4 493.1,893.1 493.5,892.9 493.9,893.7 494.3,893.5 494.7,893.0 495.1,893.0 495.5,892.4 496.0,893.3 496.4,891.5 496.8,893.0 497.2,893.3 497.6,895.1 498.0,894.0 498.4,893.1 498.9,893.0 499.3,894.2 499.7,894.2 500.1,894.6 500.5,894.4 500.9,893.7 501.3,892.6 501.8,893.5 502.2,894.0 502.6,892.7 503.0,892.9 503.4,893.5 503.8,892.9 504.2,894.0 504.7,893.4 505.1,892.6 505.5,892.9 505.9,893.2 506.3,891.5 506.7,891.8 507.1,892.1 507.5,894.2 508.0,893.0 508.4,892.7 508.8,893.3 509.2,892.6 509.6,892.2 510.0,892.5 510.4,892.9 510.9,893.9 511.3,894.6 511.7,894.9 512.1,892.9 512.5,892.6 512.9,894.1 513.3,894.0 513.8,893.3 514.2,894.2 514.6,894.0 515.0,893.4 515.4,893.9 515.8,892.4 516.2,893.4 516.7,892.8 517.1,894.2 517.5,894.3 517.9,894.1" fill="none" stroke="#151515" stroke-width="1.5" stroke-linejoin="round" />
<polyline points="310.9,943.6 315.0,942.2 319.2,943.3 323.3,943.2 327.5,941.1 331.6,945.8 335.7,944.7 339.9,941.8 344.0,943.1 348.2,942.1 352.3,941.0 356.4,942.6 360.6,943.1 364.7,942.2 368.9,942.1 373.0,941.2 377.1,941.9 381.3,942.5 385.4,943.1 389.6,942.1 393.7,942.8 397.8,947.0 402.0,945.4 406.1,946.1 410.3,947.0 414.4,945.4 418.5,945.6 422.7,947.2 426.8,945.3 431.0,947.4 435.1,946.0 439.2,946.3 443.4,947.1 447.5,947.4 451.7,945.0 455.8,946.5 459.9,947.1 464.1,947.3 468.2,947.1 472.4,946.6 476.5,947.0 480.6,946.7 484.8,947.6 488.9,948.3 493.1,946.4 497.2,945.9 501.3,948.1 505.5,947.4 509.6,946.2 513.8,945.8 517.9,947.0" fill="none" stroke="#d02828" stroke-width="1.0" stroke-linejoin="round" />
<polyline points="310.9,942.8 315.0,944.1 319.2,944.5 323.3,944.6 327.5,945.0 331.6,943.0 335.7,941.6 339.9,946.1 344.0,945.3 348.2,943.9 352.3,945.7 356.4,945.0 360.6,945.8 364.7,944.6 368.9,947.0 373.0,944.5 377.1,945.0 381.3,945.2 385.4,946.3 389.6,943.2 393.7,944.9 397.8,940.8 402.0,942.0 406.1,942.3 410.3,940.8 414.4,940.5 418.5,941.3 422.7,940.7 426.8,941.3 431.0,941.5 435.1,940.7 439.2,940.0 443.4,940.7 447.5,941.7 451.7,940.3 455.8,942.5 459.9,940.2 464.1,939.7 468.2,940.8 472.4,940.4 476.5,940.9 480.6,941.1 484.8,942.1 488.9,942.6 493.1,940.7 497.2,940.8 501.3,942.1 505.5,942.0 509.6,940.4 513.8,940.2 517.9,939.7" fill="none" stroke="#40a040" stroke-width="1.0" stroke-linejoin="round" />
<polyline points="310.9,980.2 315.5,979.5 320.0,981.0 324.6,981.5 329.1,981.0 333.7,989.1 338.2,985.7 342.8,977.6 347.3,977.4 351.9,976.6 356.4,975.2 361.0,980.6 365.5,977.7 370.1,976.5 374.7,973.4 379.2,977.8 383.8,978.1 388.3,977.0 392.9,977.2 397.4,995.2 402.0,990.9 406.5,988.7 411.1,988.3 415.6,992.6 420.2,988.2 424.8,991.6 429.3,989.8 433.9,986.0 438.4,989.0 443.0,993.8 447.5,991.2 452.1,989.0 456.6,986.3 461.2,991.0 465.7,989.8 470.3,989.9 474.8,988.6 479.4,988.4 484.0,990.4 488.5,989.3 493.1,995.0 497.6,990.9 502.2,991.1 506.7,990.3 511.3,989.4 515.8,989.2" fill="none" stroke="#5a62b8" stroke-width="1.1" stroke-linejoin="round" />
<polyline points="523.5,865.7 523.8,860.8 524.2,862.2 524.5,881.9 524.9,875.0 525.2,880.0 525.6,875.6 525.9,882.5 526.3,891.4 526.6,896.2 526.9,895.9 527.3,874.4 527.6,906.4 528.0,897.9 528.3,899.1 528.7,893.6 529.0,893.6 529.4,891.3 529.7,895.5 530.0,890.8 530.4,886.7 530.7,890.3 531.1,891.8 531.4,900.5 531.8,895.0 532.1,891.5 532.4,891.9 532.8,894.9 533.1,892.5 533.5,896.0 533.8,892.1 534.2,892.4 534.5,899.3 534.9,889.2 535.2,884.2 535.5,893.1 535.9,899.0 536.2,891.2 536.6,887.2 536.9,893.6 537.3,891.0 537.6,894.6 538.0,888.8 538.3,894.7 538.6,892.0 539.0,890.8 539.3,894.6 539.7,896.5 540.0,900.5 540.4,892.9 540.7,893.0 541.1,893.7 541.4,884.3 541.7,890.9 542.1,893.2 542.4,897.0 542.8,896.4 543.1,912.5 543.5,890.5 543.8,895.6 544.1,890.0 544.5,890.5 544.8,894.9 545.2,898.7 545.5,892.0 545.9,889.0 546.2,892.1 546.6,892.1 546.9,899.8 547.2,893.5 547.6,894.7 547.9,892.0 548.3,898.4 548.6,896.0 549.0,893.4 549.3,891.5 549.7,894.4 550.0,896.2 550.3,896.1 550.7,887.8 551.0,892.6 551.4,899.3 551.7,892.7 552.1,887.5 552.4,890.4 552.8,892.8 553.1,891.2 553.4,895.1 553.8,892.5 554.1,893.7 554.5,892.2 554.8,892.4 555.2,894.6 555.5,896.6 555.9,891.2 556.2,900.3 556.5,889.8 556.9,898.0 557.2,907.2 557.6,907.7 557.9,907.1 558.3,908.2 558.6,909.9 558.9,907.8 559.3,911.2 559.6,909.0 560.0,907.5 560.3,902.0 560.7,901.2 561.0,909.7 561.4,905.7 561.7,909.2 562.0,906.1 562.4,907.8 562.7,909.7 563.1,912.6 563.4,903.5 563.8,909.4 564.1,903.9 564.5,906.7 564.8,908.0 565.1,911.0 565.5,908.4 565.8,903.5 566.2,906.8 566.5,906.8 566.9,908.9 567.2,908.9 567.6,910.7 567.9,906.1 568.2,905.2 568.6,906.4 568.9,905.4 569.3,905.7 569.6,905.7 570.0,908.7 570.3,905.7 570.7,909.7 571.0,914.9 571.3,913.6 571.7,908.2 572.0,903.1 572.4,905.3 572.7,907.2 573.1,911.2 573.4,905.3 573.7,914.0 574.1,907.7 574.4,898.1 574.8,904.5 575.1,907.0 575.5,907.3 575.8,910.8 576.2,908.2 576.5,904.5 576.8,908.1 577.2,906.8 577.5,910.5 577.9,901.9 578.2,911.2 578.6,909.1 578.9,906.7 579.3,909.0 579.6,901.3 579.9,908.8 580.3,906.0 580.6,907.7 581.0,905.4 581.3,904.3 581.7,907.0 582.0,905.2 582.4,909.4 582.7,911.7 583.0,910.0 583.4,904.0 583.7,903.7 584.1,907.9 584.4,906.7 584.8,905.3 585.1,903.3 585.5,914.8 585.8,907.3 586.1,911.7 586.5,908.8 586.8,905.8 587.2,907.5 587.5,894.9 587.9,914.2 588.2,910.1 588.5,908.7 588.9,907.0 589.2,908.0 589.6,910.8 589.9,909.4 590.3,912.6 590.6,908.7 591.0,908.2 591.3,916.3 591.6,909.7 592.0,908.0 592.3,909.6 592.7,907.7 593.0,901.7 593.4,903.0 593.7,899.8 594.1,909.5 594.4,906.5 594.7,905.8 595.1,916.0 595.4,909.0 595.8,908.3 596.1,906.4 596.5,905.5 596.8,904.5 597.2,907.3 597.5,912.4 597.8,901.3 598.2,911.7 598.5,900.6 598.9,909.6 599.2,915.4 599.6,907.4 599.9,911.3 600.2,903.1 600.6,906.1 600.9,909.6 601.3,908.5 601.6,909.0 602.0,896.8 602.3,909.3 602.7,908.2 603.0,906.2 603.3,906.8 603.7,903.4 604.0,904.8 604.4,910.3 604.7,905.0 605.1,907.2 605.4,909.0 605.8,909.4 606.1,909.5 606.4,905.5 606.8,906.1 607.1,908.8 607.5,907.3 607.8,907.6 608.2,907.1 608.5,904.1 608.9,904.6 609.2,911.1 609.5,906.6 609.9,902.4 610.2,905.2 610.6,912.5 610.9,909.2 611.3,908.8 611.6,907.8 612.0,905.4 612.3,912.2 612.6,909.6 613.0,907.8 613.3,909.0 613.7,913.1 614.0,915.9 614.4,905.8 614.7,905.9 615.0,899.9 615.4,907.4 615.7,905.6 616.1,907.8 616.4,905.0 616.8,910.2 617.1,913.9 617.5,906.0 617.8,908.0 618.1,909.0 618.5,902.2 618.8,907.9 619.2,924.6 619.5,904.2 619.9,911.3 620.2,907.8 620.6,908.4 620.9,905.7 621.2,910.2 621.6,905.7 621.9,909.6 622.3,909.6 622.6,906.4 623.0,911.3 623.3,908.9 623.7,902.7 624.0,912.8 624.3,912.2 624.7,910.7 625.0,913.2 625.4,904.6 625.7,908.0 626.1,906.1 626.4,907.3 626.8,909.9 627.1,905.3 627.4,907.8 627.8,908.1 628.1,899.9 628.5,904.8 628.8,908.8 629.2,908.2 629.5,913.0 629.8,909.2 630.2,909.8 630.5,911.2 630.9,905.7 631.2,910.3 631.6,910.3 631.9,906.3 632.3,907.4 632.6,910.1 632.9,899.2 633.3,905.5 633.6,914.1 634.0,906.9 634.3,908.5 634.7,909.4 635.0,903.5 635.4,902.2 635.7,904.6 636.0,909.7 636.4,914.1 636.7,913.0 637.1,912.1 637.4,903.7 637.8,906.4 638.1,898.6 638.5,908.8 638.8,908.1 639.1,910.3 639.5,907.0 639.8,910.0 640.2,905.8 640.5,908.4 640.9,910.3 641.2,907.0 641.5,910.8 641.9,901.3 642.2,909.2 642.6,909.6 642.9,908.3 643.3,905.8 643.6,910.1 644.0,905.4 644.3,901.7 644.6,909.9 645.0,896.5 645.3,908.5 645.7,906.3 646.0,905.8 646.4,904.6 646.7,909.7 647.1,895.6 647.4,903.0 647.7,913.1 648.1,907.0 648.4,902.9 648.8,904.3 649.1,902.3 649.5,904.2 649.8,904.9 650.2,904.2 650.5,906.3 650.8,913.0 651.2,912.5 651.5,908.2 651.9,908.0 652.2,911.4 652.6,902.9 652.9,905.8 653.3,911.0 653.6,904.9 653.9,904.8 654.3,908.9 654.6,908.1 655.0,908.3 655.3,899.5 655.7,905.2 656.0,907.1 656.3,908.1 656.7,909.8 657.0,907.5 657.4,907.4 657.7,907.2 658.1,908.8 658.4,905.0 658.8,907.7 659.1,905.6 659.4,901.9 659.8,902.9 660.1,905.8 660.5,903.1 660.8,906.1 661.2,901.5 661.5,906.3 661.9,902.8 662.2,901.8 662.5,906.9 662.9,898.6 663.2,897.6 663.6,900.0 663.9,899.8 664.3,901.3 664.6,892.3 665.0,896.4 665.3,889.0 665.6,895.5 666.0,901.3 666.3,895.0 666.7,898.2 667.0,895.4 667.4,895.0 667.7,888.6 668.0,895.3 668.4,894.3 668.7,890.2 669.1,892.3 669.4,888.7 669.8,887.0 670.1,892.3 670.5,896.3 670.8,893.7 671.1,885.9 671.5,888.8 671.8,888.2 672.2,895.1 672.5,887.4 672.9,886.3 673.2,886.2 673.6,891.5 673.9,889.2 674.2,894.6 674.6,892.2 674.9,889.4 675.3,888.6 675.6,888.7 676.0,885.1 676.3,883.2 676.7,886.9 677.0,893.2 677.3,887.1 677.7,897.4 678.0,890.5 678.4,889.0 678.7,886.9 679.1,901.9 679.4,887.4 679.8,884.3 680.1,890.5 680.4,888.5 680.8,889.9 681.1,887.3 681.5,887.9 681.8,887.7 682.2,890.8 682.5,890.3 682.8,883.1 683.2,889.5 683.5,889.0 683.9,886.0 684.2,885.5 684.6,886.9 684.9,885.2 685.3,888.0 685.6,890.5 685.9,887.2 686.3,894.2 686.6,886.4 687.0,890.1 687.3,892.3 687.7,876.9 688.0,890.8 688.4,902.1 688.7,885.1 689.0,889.1 689.4,890.8 689.7,888.4 690.1,890.5 690.4,885.8 690.8,887.1 691.1,891.9 691.5,886.7 691.8,887.3 692.1,890.8 692.5,890.8 692.8,889.8 693.2,889.5 693.5,894.3 693.9,888.0 694.2,885.3 694.6,882.6 694.9,905.3 695.2,889.9 695.6,888.7 695.9,888.0 696.3,888.3 696.6,890.1 697.0,892.6 697.3,889.4 697.6,888.7 698.0,890.1 698.3,887.4 698.7,892.0 699.0,890.0 699.4,895.9 699.7,890.1 700.1,891.0 700.4,884.5 700.7,882.0 701.1,897.0 701.4,887.2 701.8,886.0 702.1,893.6 702.5,883.6 702.8,890.5 703.2,894.3 703.5,897.3 703.8,892.4 704.2,890.3 704.5,885.4 704.9,898.7 705.2,894.4 705.6,890.9 705.9,889.3 706.3,894.5 706.6,896.6 706.9,890.2 707.3,890.7 707.6,892.8 708.0,885.9 708.3,888.7 708.7,890.5 709.0,884.1 709.4,903.6 709.7,908.3 710.0,908.5 710.4,904.2 710.7,914.6 711.1,899.4 711.4,905.9 711.8,907.6 712.1,906.5 712.4,910.4 712.8,903.3 713.1,907.5 713.5,905.9 713.8,910.1 714.2,905.6 714.5,904.5 714.9,905.5 715.2,902.7 715.5,912.6 715.9,908.0 716.2,906.9 716.6,910.4 716.9,905.0 717.3,912.0 717.6,905.3 718.0,901.9 718.3,905.3 718.6,908.2 719.0,905.1 719.3,906.8 719.7,908.0 720.0,904.6 720.4,904.4 720.7,905.3 721.1,907.4 721.4,911.8 721.7,901.7 722.1,906.1 722.4,904.1 722.8,908.3 723.1,906.6 723.5,910.3 723.8,903.4 724.1,911.2 724.5,916.1 724.8,908.6 725.2,913.4 725.5,908.4 725.9,909.7 726.2,908.3 726.6,907.7 726.9,911.9 727.2,903.4 727.6,905.6 727.9,904.6 728.3,906.2 728.6,906.0 729.0,908.5 729.3,907.0 729.7,913.6 730.0,903.2" fill="none" stroke="#c8c8c8" stroke-width="0.55" stroke-linejoin="round" />
<polyline points="523.5,864.2 523.8,864.5 524.2,864.2 524.5,878.7 524.9,879.6 525.2,880.4 525.6,879.8 525.9,879.1 526.3,894.4 526.6,894.0 526.9,894.0 527.3,893.4 527.6,894.5 528.0,893.7 528.3,893.8 528.7,894.8 529.0,892.7 529.4,893.4 529.7,893.5 530.0,893.9 530.4,894.0 530.7,892.3 531.1,892.5 531.4,892.4 531.8,892.2 532.1,892.9 532.4,893.3 532.8,894.5 533.1,894.5 533.5,894.0 533.8,893.0 534.2,893.5 534.5,893.4 534.9,894.7 535.2,893.9 535.5,893.3 535.9,893.4 536.2,892.1 536.6,892.8 536.9,894.4 537.3,894.0 537.6,894.4 538.0,893.9 538.3,893.3 538.6,893.8 539.0,892.3 539.3,892.7 539.7,892.5 540.0,892.3 540.4,893.2 540.7,893.3 541.1,893.8 541.4,893.4 541.7,894.0 542.1,893.8 542.4,893.2 542.8,891.6 543.1,894.2 543.5,893.4 543.8,893.4 544.1,893.2 544.5,894.4 544.8,893.7 545.2,894.1 545.5,893.1 545.9,893.9 546.2,892.6 546.6,892.9 546.9,893.5 547.2,894.6 547.6,893.8 547.9,891.7 548.3,891.9 548.6,893.0 549.0,893.3 549.3,894.2 549.7,893.4 550.0,894.0 550.3,893.5 550.7,894.9 551.0,895.5 551.4,894.2 551.7,893.6 552.1,892.6 552.4,893.7 552.8,893.7 553.1,891.9 553.4,893.6 553.8,893.2 554.1,893.5 554.5,891.7 554.8,894.8 555.2,893.7 555.5,894.6 555.9,894.5 556.2,894.1 556.5,893.6 556.9,894.2 557.2,907.9 557.6,907.7 557.9,907.6 558.3,907.2 558.6,906.7 558.9,906.9 559.3,907.4 559.6,909.3 560.0,907.5 560.3,907.6 560.7,907.6 561.0,907.2 561.4,906.6 561.7,908.7 562.0,906.7 562.4,908.3 562.7,908.0 563.1,908.0 563.4,908.1 563.8,907.0 564.1,908.3 564.5,907.6 564.8,907.6 565.1,907.9 565.5,907.9 565.8,909.4 566.2,908.2 566.5,909.2 566.9,907.7 567.2,907.4 567.6,907.4 567.9,909.4 568.2,907.7 568.6,907.0 568.9,906.5 569.3,907.0 569.6,907.6 570.0,906.5 570.3,906.8 570.7,908.5 571.0,906.8 571.3,906.2 571.7,907.3 572.0,906.4 572.4,907.6 572.7,906.2 573.1,906.5 573.4,909.1 573.7,910.1 574.1,907.1 574.4,906.8 574.8,905.8 575.1,906.3 575.5,907.8 575.8,907.1 576.2,906.3 576.5,904.2 576.8,905.7 577.2,907.1 577.5,907.6 577.9,906.9 578.2,906.8 578.6,906.7 578.9,907.7 579.3,906.7 579.6,908.0 579.9,906.8 580.3,906.8 580.6,906.8 581.0,906.9 581.3,907.1 581.7,908.3 582.0,907.8 582.4,908.1 582.7,907.2 583.0,906.5 583.4,906.6 583.7,907.5 584.1,906.6 584.4,907.8 584.8,907.4 585.1,907.7 585.5,908.5 585.8,908.8 586.1,906.8 586.5,907.3 586.8,907.0 587.2,908.3 587.5,906.5 587.9,906.6 588.2,906.5 588.5,904.9 588.9,906.6 589.2,906.6 589.6,906.5 589.9,907.5 590.3,907.0 590.6,907.2 591.0,907.1 591.3,905.2 591.6,905.7 592.0,906.3 592.3,906.3 592.7,908.3 593.0,907.1 593.4,908.5 593.7,905.9 594.1,906.6 594.4,908.9 594.7,907.0 595.1,907.5 595.4,907.6 595.8,908.2 596.1,907.0 596.5,907.1 596.8,907.7 597.2,907.3 597.5,908.1 597.8,907.5 598.2,907.3 598.5,908.3 598.9,907.7 599.2,907.2 599.6,907.9 599.9,907.0 600.2,908.7 600.6,907.4 600.9,907.7 601.3,906.7 601.6,906.1 602.0,907.0 602.3,907.2 602.7,907.5 603.0,907.1 603.3,906.8 603.7,908.4 604.0,908.7 604.4,907.4 604.7,906.9 605.1,907.1 605.4,906.6 605.8,906.6 606.1,905.5 606.4,906.9 606.8,906.5 607.1,906.6 607.5,908.4 607.8,907.6 608.2,908.4 608.5,907.7 608.9,906.1 609.2,906.9 609.5,907.9 609.9,908.7 610.2,907.1 610.6,908.3 610.9,908.7 611.3,906.7 611.6,908.6 612.0,906.9 612.3,906.6 612.6,906.7 613.0,908.2 613.3,906.3 613.7,908.3 614.0,907.9 614.4,907.9 614.7,907.4 615.0,907.8 615.4,907.6 615.7,907.5 616.1,906.8 616.4,908.8 616.8,908.3 617.1,908.0 617.5,907.4 617.8,906.8 618.1,907.5 618.5,907.7 618.8,908.4 619.2,907.6 619.5,907.1 619.9,908.7 620.2,908.5 620.6,908.7 620.9,908.0 621.2,906.4 621.6,906.1 621.9,907.1 622.3,907.9 622.6,908.3 623.0,907.7 623.3,906.7 623.7,905.8 624.0,908.3 624.3,908.1 624.7,907.1 625.0,906.8 625.4,907.2 625.7,906.5 626.1,907.0 626.4,907.7 626.8,906.9 627.1,906.6 627.4,907.8 627.8,906.2 628.1,907.0 628.5,908.3 628.8,907.2 629.2,908.7 629.5,908.5 629.8,908.4 630.2,906.6 630.5,907.2 630.9,908.3 631.2,908.1 631.6,907.5 631.9,908.2 632.3,906.4 632.6,908.9 632.9,908.3 633.3,909.5 633.6,907.4 634.0,908.0 634.3,909.3 634.7,908.1 635.0,908.5 635.4,908.3 635.7,907.6 636.0,908.0 636.4,906.5 636.7,908.3 637.1,908.3 637.4,907.9 637.8,908.7 638.1,908.0 638.5,908.3 638.8,908.9 639.1,906.2 639.5,907.1 639.8,907.9 640.2,908.1 640.5,906.2 640.9,907.1 641.2,906.8 641.5,906.6 641.9,907.2 642.2,907.3 642.6,906.3 642.9,906.5 643.3,909.2 643.6,907.2 644.0,904.8 644.3,906.1 644.6,905.8 645.0,907.6 645.3,907.0 645.7,906.2 646.0,907.3 646.4,906.0 646.7,905.8 647.1,907.1 647.4,906.7 647.7,907.6 648.1,905.9 648.4,906.0 648.8,906.3 649.1,905.3 649.5,905.9 649.8,906.2 650.2,906.9 650.5,906.1 650.8,905.4 651.2,905.3 651.5,905.7 651.9,906.0 652.2,905.7 652.6,906.4 652.9,907.5 653.3,906.0 653.6,906.9 653.9,906.1 654.3,907.8 654.6,905.9 655.0,906.4 655.3,904.9 655.7,905.3 656.0,906.7 656.3,905.6 656.7,905.2 657.0,904.8 657.4,905.8 657.7,906.3 658.1,907.2 658.4,906.5 658.8,907.1 659.1,906.2 659.4,905.5 659.8,906.2 660.1,907.5 660.5,907.3 660.8,908.2 661.2,905.9 661.5,904.6 661.9,903.7 662.2,901.8 662.5,901.9 662.9,903.0 663.2,901.2 663.6,902.4 663.9,902.6 664.3,899.8 664.6,900.1 665.0,900.5 665.3,897.2 665.6,897.5 666.0,898.1 666.3,896.6 666.7,896.5 667.0,897.1 667.4,895.8 667.7,895.5 668.0,894.7 668.4,895.2 668.7,893.6 669.1,893.9 669.4,893.3 669.8,891.6 670.1,892.0 670.5,890.6 670.8,889.4 671.1,890.6 671.5,890.1 671.8,889.9 672.2,891.0 672.5,891.6 672.9,890.1 673.2,888.7 673.6,887.9 673.9,889.7 674.2,888.7 674.6,889.7 674.9,890.0 675.3,890.2 675.6,889.5 676.0,889.5 676.3,890.0 676.7,889.8 677.0,890.0 677.3,889.7 677.7,891.7 678.0,890.7 678.4,889.6 678.7,890.3 679.1,890.0 679.4,887.9 679.8,890.4 680.1,892.3 680.4,890.6 680.8,889.6 681.1,890.9 681.5,890.0 681.8,890.4 682.2,890.6 682.5,889.7 682.8,889.8 683.2,889.1 683.5,890.4 683.9,889.8 684.2,888.6 684.6,889.4 684.9,889.9 685.3,889.0 685.6,889.3 685.9,889.8 686.3,889.3 686.6,891.0 687.0,890.5 687.3,889.0 687.7,889.2 688.0,889.7 688.4,890.8 688.7,889.5 689.0,890.5 689.4,889.0 689.7,891.0 690.1,889.5 690.4,890.2 690.8,890.2 691.1,889.4 691.5,889.5 691.8,890.4 692.1,889.0 692.5,889.9 692.8,890.0 693.2,889.9 693.5,890.3 693.9,889.7 694.2,889.1 694.6,889.7 694.9,888.9 695.2,888.9 695.6,888.9 695.9,888.5 696.3,889.4 696.6,889.3 697.0,889.3 697.3,889.4 697.6,889.8 698.0,889.5 698.3,888.5 698.7,890.2 699.0,889.7 699.4,889.7 699.7,889.4 700.1,889.4 700.4,888.7 700.7,889.6 701.1,889.0 701.4,891.3 701.8,892.1 702.1,888.9 702.5,889.8 702.8,890.1 703.2,890.5 703.5,889.9 703.8,888.9 704.2,890.3 704.5,890.6 704.9,888.8 705.2,889.6 705.6,890.1 705.9,890.0 706.3,890.9 706.6,890.2 706.9,888.6 707.3,890.0 707.6,890.6 708.0,890.6 708.3,890.4 708.7,889.6 709.0,890.1 709.4,908.0 709.7,905.8 710.0,907.3 710.4,907.5 710.7,905.8 711.1,907.2 711.4,908.2 711.8,909.4 712.1,909.1 712.4,907.7 712.8,908.7 713.1,907.1 713.5,906.2 713.8,908.0 714.2,906.6 714.5,906.0 714.9,906.4 715.2,907.8 715.5,907.8 715.9,907.4 716.2,908.1 716.6,906.7 716.9,907.6 717.3,906.8 717.6,907.1 718.0,907.9 718.3,908.9 718.6,907.1 719.0,908.1 719.3,906.7 719.7,907.3 720.0,908.1 720.4,906.9 720.7,907.6 721.1,906.4 721.4,907.4 721.7,906.7 722.1,907.6 722.4,907.9 722.8,909.2 723.1,907.1 723.5,906.8 723.8,907.5 724.1,908.3 724.5,908.4 724.8,908.5 725.2,907.7 725.5,909.2 725.9,909.9 726.2,908.8 726.6,909.6 726.9,907.6 727.2,907.7 727.6,909.0 727.9,907.1 728.3,906.0 728.6,907.7 729.0,907.7 729.3,905.1 729.7,905.3 730.0,906.8" fill="none" stroke="#151515" stroke-width="1.5" stroke-linejoin="round" />
<polyline points="523.5,947.2 526.9,946.1 530.4,946.7 533.8,944.2 537.3,946.2 540.7,947.5 544.1,947.6 547.6,945.6 551.0,946.2 554.5,947.2 557.9,942.6 561.4,942.8 564.8,942.3 568.2,943.6 571.7,944.2 575.1,942.5 578.6,942.9 582.0,942.8 585.5,943.2 588.9,944.3 592.3,945.1 595.8,941.9 599.2,944.3 602.7,943.5 606.1,942.4 609.5,942.8 613.0,944.1 616.4,943.4 619.9,942.3 623.3,943.9 626.8,945.0 630.2,943.8 633.6,945.2 637.1,942.0 640.5,943.7 644.0,947.3 647.4,948.7 650.8,946.0 654.3,946.7 657.7,946.7 661.2,946.0 664.6,947.3 668.0,946.9 671.5,945.6 674.9,946.2 678.4,945.4 681.8,947.3 685.3,947.2 688.7,947.3 692.1,946.5 695.6,947.1 699.0,948.1 702.5,945.4 705.9,946.2 709.4,941.4 712.8,944.8 716.2,945.7 719.7,948.1 723.1,947.1 726.6,947.3 730.0,946.1" fill="none" stroke="#d02828" stroke-width="1.0" stroke-linejoin="round" />
<polyline points="523.5,938.2 526.9,938.5 530.4,938.9 533.8,938.4 537.3,938.4 540.7,938.7 544.1,939.3 547.6,938.8 551.0,938.3 554.5,939.0 557.9,944.3 561.4,943.3 564.8,943.9 568.2,943.9 571.7,944.2 575.1,943.8 578.6,944.2 582.0,944.1 585.5,944.3 588.9,943.1 592.3,943.6 595.8,944.1 599.2,943.0 602.7,942.7 606.1,942.1 609.5,943.7 613.0,944.5 616.4,944.2 619.9,943.1 623.3,945.2 626.8,944.8 630.2,942.6 633.6,943.6 637.1,942.8 640.5,945.4 644.0,942.6 647.4,942.7 650.8,941.5 654.3,942.2 657.7,943.3 661.2,942.8 664.6,943.4 668.0,943.2 671.5,940.7 674.9,940.4 678.4,939.0 681.8,939.3 685.3,939.0 688.7,939.1 692.1,939.7 695.6,938.3 699.0,940.8 702.5,939.4 705.9,939.6 709.4,945.4 712.8,944.2 716.2,938.8 719.7,939.2 723.1,940.3 726.6,940.0 730.0,939.5" fill="none" stroke="#40a040" stroke-width="1.0" stroke-linejoin="round" />
<polyline points="523.5,988.2 527.3,990.9 531.1,988.3 534.9,986.1 538.6,993.1 542.4,988.8 546.2,989.3 550.0,990.2 553.8,987.1 557.6,982.0 561.4,979.2 565.1,981.0 568.9,982.5 572.7,980.7 576.5,980.0 580.3,980.3 584.1,980.5 587.9,980.4 591.6,980.2 595.4,982.6 599.2,981.8 603.0,979.5 606.8,978.2 610.6,978.9 614.4,984.0 618.1,981.5 621.9,980.4 625.7,981.4 629.5,983.2 633.3,982.2 637.1,981.0 640.9,983.8 644.6,991.3 648.4,990.1 652.2,993.5 656.0,991.0 659.8,988.5 663.6,991.0 667.4,993.6 671.1,990.6 674.9,992.1 678.7,989.8 682.5,990.7 686.3,994.1 690.1,989.9 693.9,994.5 697.6,989.3 701.4,988.4 705.2,986.4 709.0,988.8 712.8,983.1 716.6,987.8 720.4,990.7 724.1,991.9 727.9,992.0" fill="none" stroke="#5a62b8" stroke-width="1.1" stroke-linejoin="round" />
<line x1="116.2" y1="858.6" x2="116.2" y2="996.2" stroke="#333" stroke-width="0.7" stroke-dasharray="2.2,1.8"/>
<line x1="123.4" y1="858.6" x2="123.4" y2="996.2" stroke="#333" stroke-width="0.7" stroke-dasharray="2.2,1.8"/>
<line x1="147.1" y1="858.6" x2="147.1" y2="996.2" stroke="#333" stroke-width="0.7" stroke-dasharray="2.2,1.8"/>
<line x1="221" y1="858.6" x2="221" y2="996.2" stroke="#333" stroke-width="0.7" stroke-dasharray="2.2,1.8"/>
<line x1="272.6" y1="858.6" x2="272.6" y2="996.2" stroke="#333" stroke-width="0.7" stroke-dasharray="2.2,1.8"/>
<line x1="329.9" y1="858.6" x2="329.9" y2="996.2" stroke="#333" stroke-width="0.7" stroke-dasharray="2.2,1.8"/>
<line x1="341.6" y1="858.6" x2="341.6" y2="996.2" stroke="#333" stroke-width="0.7" stroke-dasharray="2.2,1.8"/>
<line x1="397.1" y1="858.6" x2="397.1" y2="996.2" stroke="#333" stroke-width="0.7" stroke-dasharray="2.2,1.8"/>
<line x1="527.5" y1="858.6" x2="527.5" y2="996.2" stroke="#333" stroke-width="0.7" stroke-dasharray="2.2,1.8"/>
<line x1="556.5" y1="858.6" x2="556.5" y2="996.2" stroke="#333" stroke-width="0.7" stroke-dasharray="2.2,1.8"/>
<line x1="642.4" y1="858.6" x2="642.4" y2="996.2" stroke="#333" stroke-width="0.7" stroke-dasharray="2.2,1.8"/>
<line x1="671.1" y1="858.6" x2="671.1" y2="996.2" stroke="#333" stroke-width="0.7" stroke-dasharray="2.2,1.8"/>
<line x1="709.1" y1="858.6" x2="709.1" y2="996.2" stroke="#333" stroke-width="0.7" stroke-dasharray="2.2,1.8"/>
<line x1="716" y1="858.6" x2="716" y2="996.2" stroke="#333" stroke-width="0.7" stroke-dasharray="2.2,1.8"/>
<text x="205.3" y="1021.8" font-size="9.5" fill="#444" text-anchor="middle" font-weight="normal" >Time (s)</text>
<text x="419.3" y="1022" font-size="9.5" fill="#444" text-anchor="middle" font-weight="normal" >Time (s)</text>
<text x="626.8" y="1022" font-size="9.5" fill="#444" text-anchor="middle" font-weight="normal" >Time (s)</text>
<text x="95" y="861.9" font-size="9.5" fill="#444" text-anchor="end" font-weight="normal" >5</text>
<text x="95" y="873.5" font-size="9.5" fill="#444" text-anchor="end" font-weight="normal" >0</text>
<text x="95" y="885.1" font-size="9.5" fill="#444" text-anchor="end" font-weight="normal" >−5</text>
<text x="95" y="896.7" font-size="9.5" fill="#444" text-anchor="end" font-weight="normal" >−10</text>
<text x="95" y="908.3" font-size="9.5" fill="#444" text-anchor="end" font-weight="normal" >−15</text>
<text x="95" y="919.9" font-size="9.5" fill="#444" text-anchor="end" font-weight="normal" >−20</text>
<text x="95" y="932.3" font-size="9.5" fill="#444" text-anchor="end" font-weight="normal" >0.4</text>
<text x="95" y="942.9499999999999" font-size="9.5" fill="#444" text-anchor="end" font-weight="normal" >0.2</text>
<text x="95" y="953.5999999999999" font-size="9.5" fill="#444" text-anchor="end" font-weight="normal" >0</text>
<text x="95" y="975.5" font-size="9.5" fill="#444" text-anchor="end" font-weight="normal" >1</text>
<text x="95" y="985.5999999999999" font-size="9.5" fill="#444" text-anchor="end" font-weight="normal" >0.5</text>
<text x="95" y="995.6999999999999" font-size="9.5" fill="#444" text-anchor="end" font-weight="normal" >0</text>
<text x="0" y="0" font-size="9.5" fill="#444" text-anchor="middle" font-weight="normal" transform="translate(67.5,887.5) rotate(-90)">Δx (nm)</text>
<text x="0" y="0" font-size="9.5" fill="#444" text-anchor="middle" font-weight="normal" transform="translate(67,941) rotate(-90)">Photon Rate</text>
<text x="0" y="0" font-size="9" fill="#444" text-anchor="middle" font-weight="normal" transform="translate(75.5,941.5) rotate(-90)">(kHz)</text>
<text x="0" y="0" font-size="9.5" fill="#444" text-anchor="middle" font-weight="normal" transform="translate(67.5,982.8) rotate(-90)">FRET</text>
<polyline points="101.0,835.7 101.7,836.0 102.4,836.1 103.1,836.1 103.8,835.8 104.5,835.4 105.2,835.0 105.9,834.5 106.6,834.2 107.3,834.1 108.0,834.1 108.7,834.3 109.4,834.7 110.1,835.2 110.8,835.6 111.5,835.9 112.2,836.1 112.9,836.1 113.6,835.9 114.3,835.5 115.0,835.1 115.7,834.7 116.4,834.3 117.1,834.1 117.8,834.1 118.5,834.3 119.2,834.6 119.9,835.0 120.6,835.5 121.3,835.9 122.0,836.1 122.7,836.1 123.4,836.0 124.1,835.7 124.8,835.2 125.5,834.8 126.2,834.4 126.9,834.1 127.6,834.1 128.3,834.2 129.0,834.5 129.7,834.9 130.4,835.4 131.1,835.8 131.8,836.0 132.5,836.1 133.2,836.0 133.9,835.8 134.6,835.4 135.3,834.9 136.0,834.5 136.7,834.2 137.4,834.1 138.1,834.1 138.8,834.4 139.5,834.8 140.2,835.2 140.9,835.7 141.6,836.0 142.3,836.1 143.0,836.1 143.7,835.9 144.4,835.5 145.1,835.0 145.8,834.6 146.5,834.3 147.2,834.1 147.9,834.1 148.6,834.3 149.3,834.7 150.0,835.1 150.7,835.5 151.4,835.9 152.1,836.1 152.8,836.1 153.5,835.9 154.2,835.6 154.9,835.2 155.6,834.7 156.3,834.3 157.0,834.1 157.7,834.1 158.4,834.2 159.1,834.5 159.8,835.0 160.5,835.4 161.2,835.8" fill="none" stroke="#6a6aa0" stroke-width="1.0" stroke-linejoin="round" />
<polyline points="101.0,834.3 101.7,834.6 102.5,835.8 103.2,835.7 103.9,834.4 104.6,834.5 105.4,835.7 106.1,835.8 106.8,834.5 107.5,834.4 108.3,835.6 109.0,835.9" fill="none" stroke="#5a5a9a" stroke-width="1.7" stroke-linejoin="round" />
<polyline points="153.2,835.5 153.9,835.9 154.7,834.8 155.4,834.2 156.1,835.3 156.8,836.0 157.6,835.0 158.3,834.2 159.0,835.1 159.7,836.0 160.5,835.2 161.2,834.2" fill="none" stroke="#5a5a9a" stroke-width="1.7" stroke-linejoin="round" />
<g transform="translate(129.2,832.2) rotate(0) scale(0.78)" opacity="1.0"><ellipse cx="-5.2" cy="-4.2" rx="5.4" ry="4.4" fill="#e6e6ea" stroke="#a6a6b0" stroke-width="0.7"/><ellipse cx="5.2" cy="-4.2" rx="5.4" ry="4.4" fill="#e6e6ea" stroke="#a6a6b0" stroke-width="0.7"/><ellipse cx="-5.2" cy="4.2" rx="5.4" ry="4.4" fill="#e6e6ea" stroke="#a6a6b0" stroke-width="0.7"/><ellipse cx="5.2" cy="4.2" rx="5.4" ry="4.4" fill="#e6e6ea" stroke="#a6a6b0" stroke-width="0.7"/><path d="M-13,5 C-11,4 -13,-9 -6,-9.5 C-1,-10 2,-3 5,2 C8,7 11,6 13,5" fill="none" stroke="#5e5e8a" stroke-width="1.2"/><path d="M-11,5 C-9,10 -3,9 -3,4 C-3,0 -7,-3 -9,-2" fill="none" stroke="#5e5e8a" stroke-width="1.1"/></g>
<circle cx="127.8" cy="822.6" r="5.5" fill="url(#gG)" />
<circle cx="127.8" cy="822.6" r="1.7" fill="#3a7a3a" />
<circle cx="153.4" cy="832.2" r="1.7" fill="#a81020" />
<polyline points="172.8,836.1 173.5,835.9 174.2,835.6 174.9,835.2 175.6,834.7 176.3,834.4 177.0,834.1 177.7,834.1 178.4,834.2 179.0,834.5 179.7,834.9 180.4,835.4 181.1,835.8 181.8,836.0 182.5,836.1 183.2,836.0 183.9,835.8 184.6,835.4 185.3,834.9 186.0,834.5 186.7,834.2 187.4,834.1 188.1,834.1 188.8,834.4 189.5,834.7 190.1,835.2 190.8,835.6 191.5,836.0 192.2,836.1 192.9,836.1 193.6,835.9 194.3,835.5 195.0,835.1 195.7,834.7 196.4,834.3 197.1,834.1 197.8,834.1 198.5,834.2 199.2,834.6 199.9,835.0 200.6,835.5 201.2,835.8 201.9,836.1 202.6,836.1 203.3,836.0 204.0,835.7 204.7,835.3 205.4,834.8 206.1,834.4 206.8,834.2 207.5,834.1 208.2,834.2 208.9,834.4 209.6,834.8 210.3,835.3 211.0,835.7 211.7,836.0 212.3,836.1 213.0,836.1 213.7,835.8 214.4,835.5 215.1,835.0 215.8,834.6 216.5,834.3 217.2,834.1 217.9,834.1" fill="none" stroke="#6a6aa0" stroke-width="1.0" stroke-linejoin="round" />
<polyline points="172.8,834.6 173.5,834.3 174.3,835.6 175.0,835.9 175.7,834.7 176.4,834.3 177.2,835.4 177.9,836.0 178.6,834.9 179.3,834.2 180.1,835.2 180.8,836.0" fill="none" stroke="#5a5a9a" stroke-width="1.7" stroke-linejoin="round" />
<polyline points="209.9,834.9 210.6,836.0 211.4,835.4 212.1,834.3 212.8,834.7 213.5,835.9 214.3,835.5 215.0,834.3 215.7,834.6 216.4,835.8 217.2,835.7 217.9,834.4" fill="none" stroke="#5a5a9a" stroke-width="1.7" stroke-linejoin="round" />
<circle cx="212" cy="831.3" r="5.5" fill="url(#gR)" />
<g transform="translate(199,832.2) rotate(55) scale(0.78)" opacity="1.0"><ellipse cx="-5.2" cy="-4.2" rx="5.4" ry="4.4" fill="#e6e6ea" stroke="#a6a6b0" stroke-width="0.7"/><ellipse cx="5.2" cy="-4.2" rx="5.4" ry="4.4" fill="#e6e6ea" stroke="#a6a6b0" stroke-width="0.7"/><ellipse cx="-5.2" cy="4.2" rx="5.4" ry="4.4" fill="#e6e6ea" stroke="#a6a6b0" stroke-width="0.7"/><ellipse cx="5.2" cy="4.2" rx="5.4" ry="4.4" fill="#e6e6ea" stroke="#a6a6b0" stroke-width="0.7"/><path d="M-13,5 C-11,4 -13,-9 -6,-9.5 C-1,-10 2,-3 5,2 C8,7 11,6 13,5" fill="none" stroke="#5e5e8a" stroke-width="1.2"/><path d="M-11,5 C-9,10 -3,9 -3,4 C-3,0 -7,-3 -9,-2" fill="none" stroke="#5e5e8a" stroke-width="1.1"/></g>
<circle cx="204.8" cy="828.4" r="1.7" fill="#3a7a3a" />
<circle cx="212" cy="831.3" r="1.7" fill="#a81020" />
<polyline points="231.8,836.0 232.5,836.1 233.2,836.0 233.9,835.8 234.6,835.4 235.3,834.9 236.0,834.5 236.7,834.2 237.4,834.1 238.1,834.1 238.8,834.4 239.5,834.8 240.2,835.2 240.9,835.7 241.6,836.0 242.3,836.1 243.0,836.1 243.7,835.9 244.4,835.5 245.1,835.0 245.8,834.6 246.5,834.3 247.2,834.1 247.9,834.1 248.6,834.3 249.3,834.7 250.0,835.1 250.7,835.5 251.4,835.9 252.1,836.1 252.8,836.1 253.5,835.9 254.2,835.6 254.9,835.2 255.6,834.7 256.3,834.3 257.0,834.1 257.7,834.1 258.4,834.2 259.1,834.5 259.8,835.0 260.5,835.4 261.2,835.8 261.9,836.1 262.6,836.1 263.3,836.0 264.0,835.7 264.7,835.3 265.4,834.8 266.1,834.4 266.8,834.2 267.5,834.1 268.2,834.2 268.9,834.4 269.6,834.8 270.3,835.3 271.0,835.7 271.7,836.0 272.4,836.1 273.1,836.1 273.8,835.8 274.5,835.4 275.2,835.0 275.9,834.5 276.6,834.2 277.3,834.1 278.0,834.1 278.7,834.3 279.4,834.7 280.1,835.2 280.8,835.6 281.5,835.9 282.2,836.1 282.9,836.1 283.6,835.9 284.3,835.5 285.0,835.1 285.7,834.7 286.4,834.3 287.1,834.1 287.8,834.1 288.5,834.3 289.2,834.6 289.9,835.0 290.6,835.5 291.3,835.9 292.0,836.1 292.7,836.1 293.4,836.0" fill="none" stroke="#6a6aa0" stroke-width="1.0" stroke-linejoin="round" />
<polyline points="231.8,836.0 232.5,835.0 233.3,834.2 234.0,835.1 234.7,836.0 235.4,835.2 236.2,834.2 236.9,834.9 237.6,836.0 238.3,835.4 239.1,834.3 239.8,834.7" fill="none" stroke="#5a5a9a" stroke-width="1.7" stroke-linejoin="round" />
<polyline points="285.4,835.8 286.1,835.7 286.9,834.5 287.6,834.4 288.3,835.6 289.0,835.8 289.8,834.6 290.5,834.3 291.2,835.5 291.9,835.9 292.7,834.8 293.4,834.2" fill="none" stroke="#5a5a9a" stroke-width="1.7" stroke-linejoin="round" />
<g transform="translate(255.6,832.2) rotate(0) scale(0.78)" opacity="1.0"><ellipse cx="-5.2" cy="-4.2" rx="5.4" ry="4.4" fill="#e6e6ea" stroke="#a6a6b0" stroke-width="0.7"/><ellipse cx="5.2" cy="-4.2" rx="5.4" ry="4.4" fill="#e6e6ea" stroke="#a6a6b0" stroke-width="0.7"/><ellipse cx="-5.2" cy="4.2" rx="5.4" ry="4.4" fill="#e6e6ea" stroke="#a6a6b0" stroke-width="0.7"/><ellipse cx="5.2" cy="4.2" rx="5.4" ry="4.4" fill="#e6e6ea" stroke="#a6a6b0" stroke-width="0.7"/><path d="M-13,5 C-11,4 -13,-9 -6,-9.5 C-1,-10 2,-3 5,2 C8,7 11,6 13,5" fill="none" stroke="#5e5e8a" stroke-width="1.2"/><path d="M-11,5 C-9,10 -3,9 -3,4 C-3,0 -7,-3 -9,-2" fill="none" stroke="#5e5e8a" stroke-width="1.1"/></g>
<circle cx="258.6" cy="822.6" r="5.5" fill="url(#gG)" />
<circle cx="258.6" cy="822.6" r="1.7" fill="#3a7a3a" />
<circle cx="292" cy="832.2" r="1.7" fill="#a81020" />
<polyline points="306.5,835.3 307.2,835.1 307.9,835.1 308.6,835.3 309.3,835.6 310.0,836.1 310.7,836.5 311.4,836.9 312.1,837.1 312.7,837.1 313.4,837.0 314.1,836.6 314.8,836.2 315.5,835.8 316.2,835.4 316.9,835.1 317.6,835.1 318.3,835.2 319.0,835.5 319.7,835.9 320.4,836.3 321.1,836.8 321.8,837.0 322.5,837.1 323.2,837.1 323.9,836.8 324.6,836.4 325.2,835.9 325.9,835.5 326.6,835.2 327.3,835.1 328.0,835.1 328.7,835.4 329.4,835.7 330.1,836.2 330.8,836.6 331.5,836.9 332.2,837.1 332.9,837.1 333.6,836.9 334.3,836.6 335.0,836.1 335.7,835.7 336.4,835.3 337.1,835.1 337.7,835.1 338.4,835.2 339.1,835.6 339.8,836.0 340.5,836.4 341.2,836.8 341.9,837.1 342.6,837.1 343.3,837.0 344.0,836.7 344.7,836.3 345.4,835.9 346.1,835.4 346.8,835.2 347.5,835.1 348.2,835.1 348.9,835.4 349.5,835.8 350.2,836.3 350.9,836.7 351.6,837.0 352.3,837.1 353.0,837.1 353.7,836.9 354.4,836.5 355.1,836.0 355.8,835.6 356.5,835.3 357.2,835.1 357.9,835.1 358.6,835.3 359.3,835.6 360.0,836.1 360.7,836.5 361.4,836.9 362.0,837.1 362.7,837.1 363.4,837.0 364.1,836.6 364.8,836.2 365.5,835.8 366.2,835.4 366.9,835.1 367.6,835.1" fill="none" stroke="#6a6aa0" stroke-width="1.0" stroke-linejoin="round" />
<polyline points="306.5,836.9 307.2,836.6 308.0,835.4 308.7,835.5 309.4,836.8 310.1,836.7 310.9,835.5 311.6,835.4 312.3,836.7 313.0,836.8 313.8,835.6 314.5,835.3" fill="none" stroke="#5a5a9a" stroke-width="1.7" stroke-linejoin="round" />
<polyline points="359.6,835.4 360.3,836.7 361.1,836.8 361.8,835.6 362.5,835.3 363.2,836.5 364.0,836.9 364.7,835.7 365.4,835.3 366.1,836.4 366.9,837.0 367.6,835.9" fill="none" stroke="#5a5a9a" stroke-width="1.7" stroke-linejoin="round" />
<g transform="translate(334.6,829.5) rotate(0) scale(0.78)" opacity="1.0"><ellipse cx="-5.2" cy="-4.2" rx="5.4" ry="4.4" fill="#e6e6ea" stroke="#a6a6b0" stroke-width="0.7"/><ellipse cx="5.2" cy="-4.2" rx="5.4" ry="4.4" fill="#e6e6ea" stroke="#a6a6b0" stroke-width="0.7"/><ellipse cx="-5.2" cy="4.2" rx="5.4" ry="4.4" fill="#e6e6ea" stroke="#a6a6b0" stroke-width="0.7"/><ellipse cx="5.2" cy="4.2" rx="5.4" ry="4.4" fill="#e6e6ea" stroke="#a6a6b0" stroke-width="0.7"/><path d="M-13,5 C-11,4 -13,-9 -6,-9.5 C-1,-10 2,-3 5,2 C8,7 11,6 13,5" fill="none" stroke="#5e5e8a" stroke-width="1.2"/><path d="M-11,5 C-9,10 -3,9 -3,4 C-3,0 -7,-3 -9,-2" fill="none" stroke="#5e5e8a" stroke-width="1.1"/></g>
<circle cx="333" cy="821.3" r="5.5" fill="url(#gG)" />
<circle cx="333" cy="821.3" r="1.7" fill="#3a7a3a" />
<circle cx="359.4" cy="832.2" r="1.7" fill="#a81020" />
<polyline points="379.2,835.6 379.9,836.0 380.6,836.5 381.3,836.9 382.0,837.1 382.7,837.1 383.4,837.0 384.1,836.7 384.8,836.3 385.4,835.8 386.1,835.4 386.8,835.1 387.5,835.1 388.2,835.2 388.9,835.4 389.6,835.9 390.3,836.3 391.0,836.7 391.7,837.0 392.4,837.1 393.1,837.1 393.8,836.8 394.5,836.4 395.2,836.0 395.9,835.6 396.6,835.2 397.3,835.1 397.9,835.1 398.6,835.3 399.3,835.7 400.0,836.1 400.7,836.6 401.4,836.9 402.1,837.1 402.8,837.1 403.5,836.9 404.2,836.6 404.9,836.2 405.6,835.7 406.3,835.4 407.0,835.1 407.7,835.1 408.4,835.2 409.1,835.5 409.8,835.9 410.4,836.4 411.1,836.8 411.8,837.0 412.5,837.1 413.2,837.0 413.9,836.8 414.6,836.4 415.3,835.9 416.0,835.5 416.7,835.2 417.4,835.1 418.1,835.1 418.8,835.4 419.5,835.8 420.2,836.2 420.9,836.6 421.6,837.0 422.2,837.1 422.9,837.1 423.6,836.9 424.3,836.5 425.0,836.1 425.7,835.6 426.4,835.3 427.1,835.1 427.8,835.1 428.5,835.3 429.2,835.6 429.9,836.0 430.6,836.5 431.3,836.8 432.0,837.1 432.7,837.1 433.4,837.0 434.1,836.7 434.7,836.3 435.4,835.8 436.1,835.4 436.8,835.2 437.5,835.1 438.2,835.2 438.9,835.4 439.6,835.8 440.3,836.3" fill="none" stroke="#6a6aa0" stroke-width="1.0" stroke-linejoin="round" />
<polyline points="379.2,836.6 379.9,835.4 380.7,835.5 381.4,836.7 382.1,836.8 382.8,835.5 383.6,835.4 384.3,836.6 385.0,836.9 385.7,835.7 386.5,835.3 387.2,836.5" fill="none" stroke="#5a5a9a" stroke-width="1.7" stroke-linejoin="round" />
<polyline points="432.3,836.6 433.0,836.9 433.8,835.6 434.5,835.3 435.2,836.5 435.9,836.9 436.7,835.8 437.4,835.2 438.1,836.3 438.8,837.0 439.6,836.0 440.3,835.2" fill="none" stroke="#5a5a9a" stroke-width="1.7" stroke-linejoin="round" />
<circle cx="435.3" cy="831.2" r="5.5" fill="url(#gR)" />
<g transform="translate(420.4,829.5) rotate(55) scale(0.78)" opacity="1.0"><ellipse cx="-5.2" cy="-4.2" rx="5.4" ry="4.4" fill="#e6e6ea" stroke="#a6a6b0" stroke-width="0.7"/><ellipse cx="5.2" cy="-4.2" rx="5.4" ry="4.4" fill="#e6e6ea" stroke="#a6a6b0" stroke-width="0.7"/><ellipse cx="-5.2" cy="4.2" rx="5.4" ry="4.4" fill="#e6e6ea" stroke="#a6a6b0" stroke-width="0.7"/><ellipse cx="5.2" cy="4.2" rx="5.4" ry="4.4" fill="#e6e6ea" stroke="#a6a6b0" stroke-width="0.7"/><path d="M-13,5 C-11,4 -13,-9 -6,-9.5 C-1,-10 2,-3 5,2 C8,7 11,6 13,5" fill="none" stroke="#5e5e8a" stroke-width="1.2"/><path d="M-11,5 C-9,10 -3,9 -3,4 C-3,0 -7,-3 -9,-2" fill="none" stroke="#5e5e8a" stroke-width="1.1"/></g>
<circle cx="422.1" cy="823" r="1.7" fill="#3a7a3a" />
<circle cx="435.3" cy="831.2" r="1.7" fill="#a81020" />
<polyline points="455.1,836.0 455.8,835.6 456.5,835.3 457.2,835.1 457.9,835.1 458.6,835.3 459.3,835.6 460.0,836.1 460.7,836.5 461.3,836.9 462.0,837.1 462.7,837.1 463.4,837.0 464.1,836.6 464.8,836.2 465.5,835.8 466.2,835.4 466.9,835.1 467.6,835.1 468.3,835.2 469.0,835.5 469.7,835.9 470.4,836.3 471.1,836.7 471.8,837.0 472.5,837.1 473.2,837.1 473.8,836.8 474.5,836.4 475.2,835.9 475.9,835.5 476.6,835.2 477.3,835.1 478.0,835.1 478.7,835.3 479.4,835.7 480.1,836.2 480.8,836.6 481.5,836.9 482.2,837.1 482.9,837.1 483.6,836.9 484.3,836.6 485.0,836.1 485.7,835.7 486.3,835.3 487.0,835.1 487.7,835.1 488.4,835.2 489.1,835.6 489.8,836.0 490.5,836.4 491.2,836.8 491.9,837.1 492.6,837.1 493.3,837.0 494.0,836.7 494.7,836.3 495.4,835.9 496.1,835.5 496.8,835.2 497.5,835.1 498.1,835.1 498.8,835.4 499.5,835.8 500.2,836.3 500.9,836.7 501.6,837.0 502.3,837.1 503.0,837.1 503.7,836.9 504.4,836.5 505.1,836.0 505.8,835.6 506.5,835.3 507.2,835.1 507.9,835.1 508.6,835.3 509.3,835.6 510.0,836.1 510.6,836.5 511.3,836.9 512.0,837.1 512.7,837.1 513.4,837.0 514.1,836.6 514.8,836.2 515.5,835.8 516.2,835.4" fill="none" stroke="#6a6aa0" stroke-width="1.0" stroke-linejoin="round" />
<polyline points="455.1,835.2 455.8,835.8 456.6,836.9 457.3,836.5 458.0,835.3 458.7,835.6 459.5,836.8 460.2,836.6 460.9,835.4 461.6,835.5 462.4,836.7 463.1,836.8" fill="none" stroke="#5a5a9a" stroke-width="1.7" stroke-linejoin="round" />
<polyline points="508.2,836.6 508.9,835.4 509.7,835.5 510.4,836.7 511.1,836.8 511.8,835.5 512.6,835.4 513.3,836.6 514.0,836.9 514.7,835.7 515.5,835.3 516.2,836.5" fill="none" stroke="#5a5a9a" stroke-width="1.7" stroke-linejoin="round" />
<g transform="translate(481.5,829.5) rotate(0) scale(0.78)" opacity="1.0"><ellipse cx="-5.2" cy="-4.2" rx="5.4" ry="4.4" fill="#e6e6ea" stroke="#a6a6b0" stroke-width="0.7"/><ellipse cx="5.2" cy="-4.2" rx="5.4" ry="4.4" fill="#e6e6ea" stroke="#a6a6b0" stroke-width="0.7"/><ellipse cx="-5.2" cy="4.2" rx="5.4" ry="4.4" fill="#e6e6ea" stroke="#a6a6b0" stroke-width="0.7"/><ellipse cx="5.2" cy="4.2" rx="5.4" ry="4.4" fill="#e6e6ea" stroke="#a6a6b0" stroke-width="0.7"/><path d="M-13,5 C-11,4 -13,-9 -6,-9.5 C-1,-10 2,-3 5,2 C8,7 11,6 13,5" fill="none" stroke="#5e5e8a" stroke-width="1.2"/><path d="M-11,5 C-9,10 -3,9 -3,4 C-3,0 -7,-3 -9,-2" fill="none" stroke="#5e5e8a" stroke-width="1.1"/></g>
<circle cx="481.5" cy="821.3" r="5.5" fill="url(#gG)" />
<circle cx="481.5" cy="821.3" r="1.7" fill="#3a7a3a" />
<circle cx="506.3" cy="832.2" r="1.7" fill="#a81020" />
<polyline points="526.8,835.2 527.5,835.1 528.2,835.2 528.9,835.4 529.6,835.8 530.3,836.3 531.0,836.7 531.7,837.0 532.4,837.1 533.0,837.1 533.7,836.8 534.4,836.5 535.1,836.0 535.8,835.6 536.5,835.3 537.2,835.1 537.9,835.1 538.6,835.3 539.3,835.7 540.0,836.1 540.7,836.5 541.4,836.9 542.1,837.1 542.8,837.1 543.5,837.0 544.2,836.6 544.9,836.2 545.5,835.7 546.2,835.4 546.9,835.1 547.6,835.1 548.3,835.2 549.0,835.5 549.7,835.9 550.4,836.4 551.1,836.8 551.8,837.0 552.5,837.1 553.2,837.0 553.9,836.8 554.6,836.4 555.3,835.9 556.0,835.5 556.7,835.2 557.3,835.1 558.0,835.1 558.7,835.4 559.4,835.7 560.1,836.2 560.8,836.6 561.5,836.9 562.2,837.1 562.9,837.1 563.6,836.9 564.3,836.5 565.0,836.1 565.7,835.7 566.4,835.3 567.1,835.1 567.8,835.1 568.5,835.2 569.2,835.6 569.8,836.0 570.5,836.4 571.2,836.8 571.9,837.1 572.6,837.1 573.3,837.0 574.0,836.7 574.7,836.3 575.4,835.8 576.1,835.4 576.8,835.2 577.5,835.1 578.2,835.2 578.9,835.4 579.6,835.8 580.3,836.3 581.0,836.7 581.7,837.0 582.3,837.1 583.0,837.1 583.7,836.8 584.4,836.5 585.1,836.0 585.8,835.6 586.5,835.3 587.2,835.1 587.9,835.1" fill="none" stroke="#6a6aa0" stroke-width="1.0" stroke-linejoin="round" />
<polyline points="526.8,835.6 527.5,835.3 528.3,836.6 529.0,836.9 529.7,835.7 530.4,835.3 531.2,836.4 531.9,837.0 532.6,835.9 533.3,835.2 534.1,836.2 534.8,837.0" fill="none" stroke="#5a5a9a" stroke-width="1.7" stroke-linejoin="round" />
<polyline points="579.9,837.0 580.6,835.9 581.4,835.2 582.1,836.3 582.8,837.0 583.5,836.0 584.3,835.2 585.0,836.1 585.7,837.0 586.4,836.2 587.2,835.2 587.9,835.9" fill="none" stroke="#5a5a9a" stroke-width="1.7" stroke-linejoin="round" />
<g transform="translate(554.9,831.2) rotate(0) scale(0.78)" opacity="1.0"><ellipse cx="-5.2" cy="-4.2" rx="5.4" ry="4.4" fill="#e6e6ea" stroke="#a6a6b0" stroke-width="0.7"/><ellipse cx="5.2" cy="-4.2" rx="5.4" ry="4.4" fill="#e6e6ea" stroke="#a6a6b0" stroke-width="0.7"/><ellipse cx="-5.2" cy="4.2" rx="5.4" ry="4.4" fill="#e6e6ea" stroke="#a6a6b0" stroke-width="0.7"/><ellipse cx="5.2" cy="4.2" rx="5.4" ry="4.4" fill="#e6e6ea" stroke="#a6a6b0" stroke-width="0.7"/><path d="M-13,5 C-11,4 -13,-9 -6,-9.5 C-1,-10 2,-3 5,2 C8,7 11,6 13,5" fill="none" stroke="#5e5e8a" stroke-width="1.2"/><path d="M-11,5 C-9,10 -3,9 -3,4 C-3,0 -7,-3 -9,-2" fill="none" stroke="#5e5e8a" stroke-width="1.1"/></g>
<circle cx="554.9" cy="822.3" r="5.5" fill="url(#gG)" />
<circle cx="554.9" cy="822.3" r="1.7" fill="#3a7a3a" />
<circle cx="579" cy="832.2" r="1.7" fill="#a81020" />
<polyline points="607.7,835.1 608.4,835.2 609.1,835.5 609.8,836.0 610.5,836.4 611.2,836.8 611.9,837.1 612.6,837.1 613.3,837.0 614.0,836.7 614.7,836.3 615.4,835.8 616.1,835.4 616.8,835.2 617.5,835.1 618.2,835.2 618.9,835.4 619.6,835.8 620.3,836.3 621.0,836.7 621.7,837.0 622.4,837.1 623.1,837.1 623.8,836.8 624.5,836.4 625.2,836.0 625.9,835.5 626.6,835.2 627.3,835.1 628.0,835.1 628.7,835.3 629.4,835.7 630.1,836.2 630.8,836.6 631.5,836.9 632.2,837.1 632.9,837.1 633.6,836.9 634.3,836.5 635.0,836.1 635.7,835.7 636.4,835.3 637.1,835.1 637.8,835.1 638.5,835.3 639.2,835.6 639.9,836.0 640.6,836.5 641.3,836.9 642.0,837.1 642.7,837.1 643.4,837.0 644.1,836.7 644.8,836.2 645.5,835.8 646.2,835.4 646.9,835.1 647.6,835.1 648.3,835.2" fill="none" stroke="#6a6aa0" stroke-width="1.0" stroke-linejoin="round" />
<polyline points="607.7,835.7 608.4,835.3 609.2,836.4 609.9,837.0 610.6,835.9 611.3,835.2 612.1,836.2 612.8,837.0 613.5,836.1 614.2,835.2 615.0,836.0 615.7,837.0" fill="none" stroke="#5a5a9a" stroke-width="1.7" stroke-linejoin="round" />
<polyline points="640.3,836.5 641.0,835.3 641.8,835.7 642.5,836.9 643.2,836.6 643.9,835.4 644.7,835.5 645.4,836.8 646.1,836.7 646.8,835.5 647.6,835.4 648.3,836.6" fill="none" stroke="#5a5a9a" stroke-width="1.7" stroke-linejoin="round" />
<circle cx="640.1" cy="831.8" r="5.5" fill="url(#gR)" />
<g transform="translate(625.9,832.8) rotate(55) scale(0.78)" opacity="1.0"><ellipse cx="-5.2" cy="-4.2" rx="5.4" ry="4.4" fill="#e6e6ea" stroke="#a6a6b0" stroke-width="0.7"/><ellipse cx="5.2" cy="-4.2" rx="5.4" ry="4.4" fill="#e6e6ea" stroke="#a6a6b0" stroke-width="0.7"/><ellipse cx="-5.2" cy="4.2" rx="5.4" ry="4.4" fill="#e6e6ea" stroke="#a6a6b0" stroke-width="0.7"/><ellipse cx="5.2" cy="4.2" rx="5.4" ry="4.4" fill="#e6e6ea" stroke="#a6a6b0" stroke-width="0.7"/><path d="M-13,5 C-11,4 -13,-9 -6,-9.5 C-1,-10 2,-3 5,2 C8,7 11,6 13,5" fill="none" stroke="#5e5e8a" stroke-width="1.2"/><path d="M-11,5 C-9,10 -3,9 -3,4 C-3,0 -7,-3 -9,-2" fill="none" stroke="#5e5e8a" stroke-width="1.1"/></g>
<circle cx="632.5" cy="828.9" r="1.7" fill="#3a7a3a" />
<circle cx="640.1" cy="831.8" r="1.7" fill="#a81020" />
<polyline points="660.6,836.5 661.3,836.9 662.0,837.1 662.7,837.1 663.4,837.0 664.1,836.7 664.8,836.3 665.5,835.8 666.1,835.4 666.8,835.1 667.5,835.1 668.2,835.2 668.9,835.4 669.6,835.8 670.3,836.3 671.0,836.7 671.7,837.0 672.4,837.1 673.1,837.1 673.8,836.8 674.5,836.4 675.1,836.0 675.8,835.6 676.5,835.2 677.2,835.1 677.9,835.1 678.6,835.3 679.3,835.7 680.0,836.1 680.7,836.5 681.4,836.9 682.1,837.1 682.8,837.1 683.5,837.0 684.2,836.6 684.9,836.2 685.5,835.8 686.2,835.4 686.9,835.1 687.6,835.1 688.3,835.2 689.0,835.5 689.7,835.9 690.4,836.4 691.1,836.8 691.8,837.0 692.5,837.1 693.2,837.1 693.9,836.8 694.6,836.4 695.2,835.9 695.9,835.5 696.6,835.2 697.3,835.1 698.0,835.1 698.7,835.3 699.4,835.7 700.1,836.2 700.8,836.6 701.5,836.9 702.2,837.1 702.9,837.1 703.6,836.9 704.2,836.6 704.9,836.1 705.6,835.7 706.3,835.3 707.0,835.1 707.7,835.1 708.4,835.2 709.1,835.5" fill="none" stroke="#6a6aa0" stroke-width="1.0" stroke-linejoin="round" />
<polyline points="660.6,837.0 661.3,836.4 662.1,835.3 662.8,835.7 663.5,836.9 664.2,836.6 665.0,835.4 665.7,835.6 666.4,836.8 667.1,836.7 667.9,835.5 668.6,835.4" fill="none" stroke="#5a5a9a" stroke-width="1.7" stroke-linejoin="round" />
<polyline points="701.1,835.2 701.8,835.8 702.6,836.9 703.3,836.5 704.0,835.3 704.7,835.6 705.5,836.8 706.2,836.6 706.9,835.4 707.6,835.5 708.4,836.7 709.1,836.8" fill="none" stroke="#5a5a9a" stroke-width="1.7" stroke-linejoin="round" />
<g transform="translate(678.7,832.2) rotate(0) scale(0.78)" opacity="1.0"><ellipse cx="-5.2" cy="-4.2" rx="5.4" ry="4.4" fill="#e6e6ea" stroke="#a6a6b0" stroke-width="0.7"/><ellipse cx="5.2" cy="-4.2" rx="5.4" ry="4.4" fill="#e6e6ea" stroke="#a6a6b0" stroke-width="0.7"/><ellipse cx="-5.2" cy="4.2" rx="5.4" ry="4.4" fill="#e6e6ea" stroke="#a6a6b0" stroke-width="0.7"/><ellipse cx="5.2" cy="4.2" rx="5.4" ry="4.4" fill="#e6e6ea" stroke="#a6a6b0" stroke-width="0.7"/><path d="M-13,5 C-11,4 -13,-9 -6,-9.5 C-1,-10 2,-3 5,2 C8,7 11,6 13,5" fill="none" stroke="#5e5e8a" stroke-width="1.2"/><path d="M-11,5 C-9,10 -3,9 -3,4 C-3,0 -7,-3 -9,-2" fill="none" stroke="#5e5e8a" stroke-width="1.1"/></g>
<circle cx="684.3" cy="827.9" r="5.5" fill="url(#gG)" />
<circle cx="684.3" cy="827.9" r="1.7" fill="#3a7a3a" />
<circle cx="699.5" cy="832.2" r="1.7" fill="#a81020" />
<circle cx="135" cy="849.8" r="6.0" fill="#fff" stroke="#555" stroke-width="0.9"/>
<text x="135" y="852.0" font-size="6.4" fill="#444" text-anchor="middle" font-weight="bold" >i</text>
<circle cx="178.6" cy="849.8" r="6.0" fill="#fff" stroke="#555" stroke-width="0.9"/>
<text x="178.6" y="852.0" font-size="6.4" fill="#444" text-anchor="middle" font-weight="bold" >iii</text>
<circle cx="248.4" cy="849.8" r="6.0" fill="#fff" stroke="#555" stroke-width="0.9"/>
<text x="248.4" y="852.0" font-size="6.4" fill="#444" text-anchor="middle" font-weight="bold" >i</text>
<circle cx="335.2" cy="849.8" r="6.0" fill="#fff" stroke="#555" stroke-width="0.9"/>
<text x="335.2" y="852.0" font-size="6.4" fill="#444" text-anchor="middle" font-weight="bold" >i</text>
<circle cx="379.2" cy="849.8" r="6.0" fill="#fff" stroke="#555" stroke-width="0.9"/>
<text x="379.2" y="852.0" font-size="6.4" fill="#444" text-anchor="middle" font-weight="bold" >ii</text>
<circle cx="453.5" cy="849.8" r="6.0" fill="#fff" stroke="#555" stroke-width="0.9"/>
<text x="453.5" y="852.0" font-size="6.4" fill="#444" text-anchor="middle" font-weight="bold" >i</text>
<circle cx="541.7" cy="849.8" r="6.0" fill="#fff" stroke="#555" stroke-width="0.9"/>
<text x="541.7" y="852.0" font-size="6.4" fill="#444" text-anchor="middle" font-weight="bold" >i</text>
<circle cx="605.4" cy="849.8" r="6.0" fill="#fff" stroke="#555" stroke-width="0.9"/>
<text x="605.4" y="852.0" font-size="6.4" fill="#444" text-anchor="middle" font-weight="bold" >iii</text>
<circle cx="659.6" cy="849.8" r="6.0" fill="#fff" stroke="#555" stroke-width="0.9"/>
<text x="659.6" y="852.0" font-size="6.4" fill="#444" text-anchor="middle" font-weight="bold" >iv</text>
<circle cx="709.1" cy="849.8" r="6.0" fill="#fff" stroke="#555" stroke-width="0.9"/>
<text x="709.1" y="852.0" font-size="6.4" fill="#444" text-anchor="middle" font-weight="bold" >i</text>
<text x="165" y="806.8" font-size="9.8" fill="#444" text-anchor="start" font-weight="normal" >Wrapping</text>
<line x1="180" y1="813" x2="190.3" y2="813" stroke="#222" stroke-width="1.0" />
<path d="M188.8,811.2 L192.3,813 L188.8,814.8 Z" stroke="#222" stroke-width="0.5" fill="#222" />
<text x="226.6" y="806.8" font-size="9" fill="#444" text-anchor="start" font-weight="normal" >Releasing</text>
<line x1="236.8" y1="813" x2="247.3" y2="813" stroke="#222" stroke-width="1.0" />
<path d="M245.8,811.2 L249.3,813 L245.8,814.8 Z" stroke="#222" stroke-width="0.5" fill="#222" />
<text x="369.3" y="806.8" font-size="9" fill="#444" text-anchor="start" font-weight="normal" >Sliding in (SSB)</text>
<text x="433" y="808.5" font-size="5" fill="#444">35</text>
<line x1="399" y1="813" x2="407.5" y2="813" stroke="#222" stroke-width="1.0" />
<path d="M406.0,811.2 L409.5,813 L406.0,814.8 Z" stroke="#222" stroke-width="0.5" fill="#222" />
<text x="446.9" y="806.8" font-size="9" fill="#444" text-anchor="start" font-weight="normal" >Sliding in (SSB)</text>
<text x="510.6" y="808.5" font-size="5" fill="#444">35</text>
<line x1="470" y1="813" x2="479.5" y2="813" stroke="#222" stroke-width="1.0" />
<path d="M478.0,811.2 L481.5,813 L478.0,814.8 Z" stroke="#222" stroke-width="0.5" fill="#222" />
<text x="598.8" y="806.8" font-size="9.8" fill="#444" text-anchor="start" font-weight="normal" >Wrapping</text>
<line x1="616" y1="813" x2="625.5" y2="813" stroke="#222" stroke-width="1.0" />
<path d="M624.0,811.2 L627.5,813 L624.0,814.8 Z" stroke="#222" stroke-width="0.5" fill="#222" />
<text x="652.3" y="806.8" font-size="9" fill="#444" text-anchor="start" font-weight="normal" >Sliding in (SSB)</text>
<text x="716" y="808.5" font-size="5" fill="#444">56</text>
<line x1="678.7" y1="813" x2="688.3" y2="813" stroke="#222" stroke-width="1.0" />
<path d="M686.8,811.2 L690.3,813 L686.8,814.8 Z" stroke="#222" stroke-width="0.5" fill="#222" />
<path d="M147.1,858.6 L191.7,811" stroke="#333" stroke-width="0.7" fill="none" stroke-dasharray="2.2,1.8"/>
<path d="M221,858.6 L221,841.5 L248.4,811" stroke="#333" stroke-width="0.7" fill="none" stroke-dasharray="2.2,1.8"/>
<path d="M341.2,858.6 L403.2,812.4" stroke="#333" stroke-width="0.7" fill="none" stroke-dasharray="2.2,1.8"/>
<path d="M396.6,858.6 L414.8,847.3 L430.8,846.7 L474.4,812.4" stroke="#333" stroke-width="0.7" fill="none" stroke-dasharray="2.2,1.8"/>
<path d="M556.4,858.6 L579.6,845.2 L583.6,843.9 L620.6,813.5" stroke="#333" stroke-width="0.7" fill="none" stroke-dasharray="2.2,1.8"/>
<path d="M642.6,858.6 L642.6,847.8 L686.6,815.6" stroke="#333" stroke-width="0.7" fill="none" stroke-dasharray="2.2,1.8"/>
<path d="M671.6,858.6 L680,851.8 L693.2,851.8 L728.9,826.7" stroke="#333" stroke-width="0.7" fill="none" stroke-dasharray="2.2,1.8"/>
<path d="M709.5,858.6 L728.9,846.5" stroke="#333" stroke-width="0.7" fill="none" stroke-dasharray="2.2,1.8"/>
<path d="M716.2,858.6 L728.9,851" stroke="#333" stroke-width="0.7" fill="none" stroke-dasharray="2.2,1.8"/>
</svg></body></html>
